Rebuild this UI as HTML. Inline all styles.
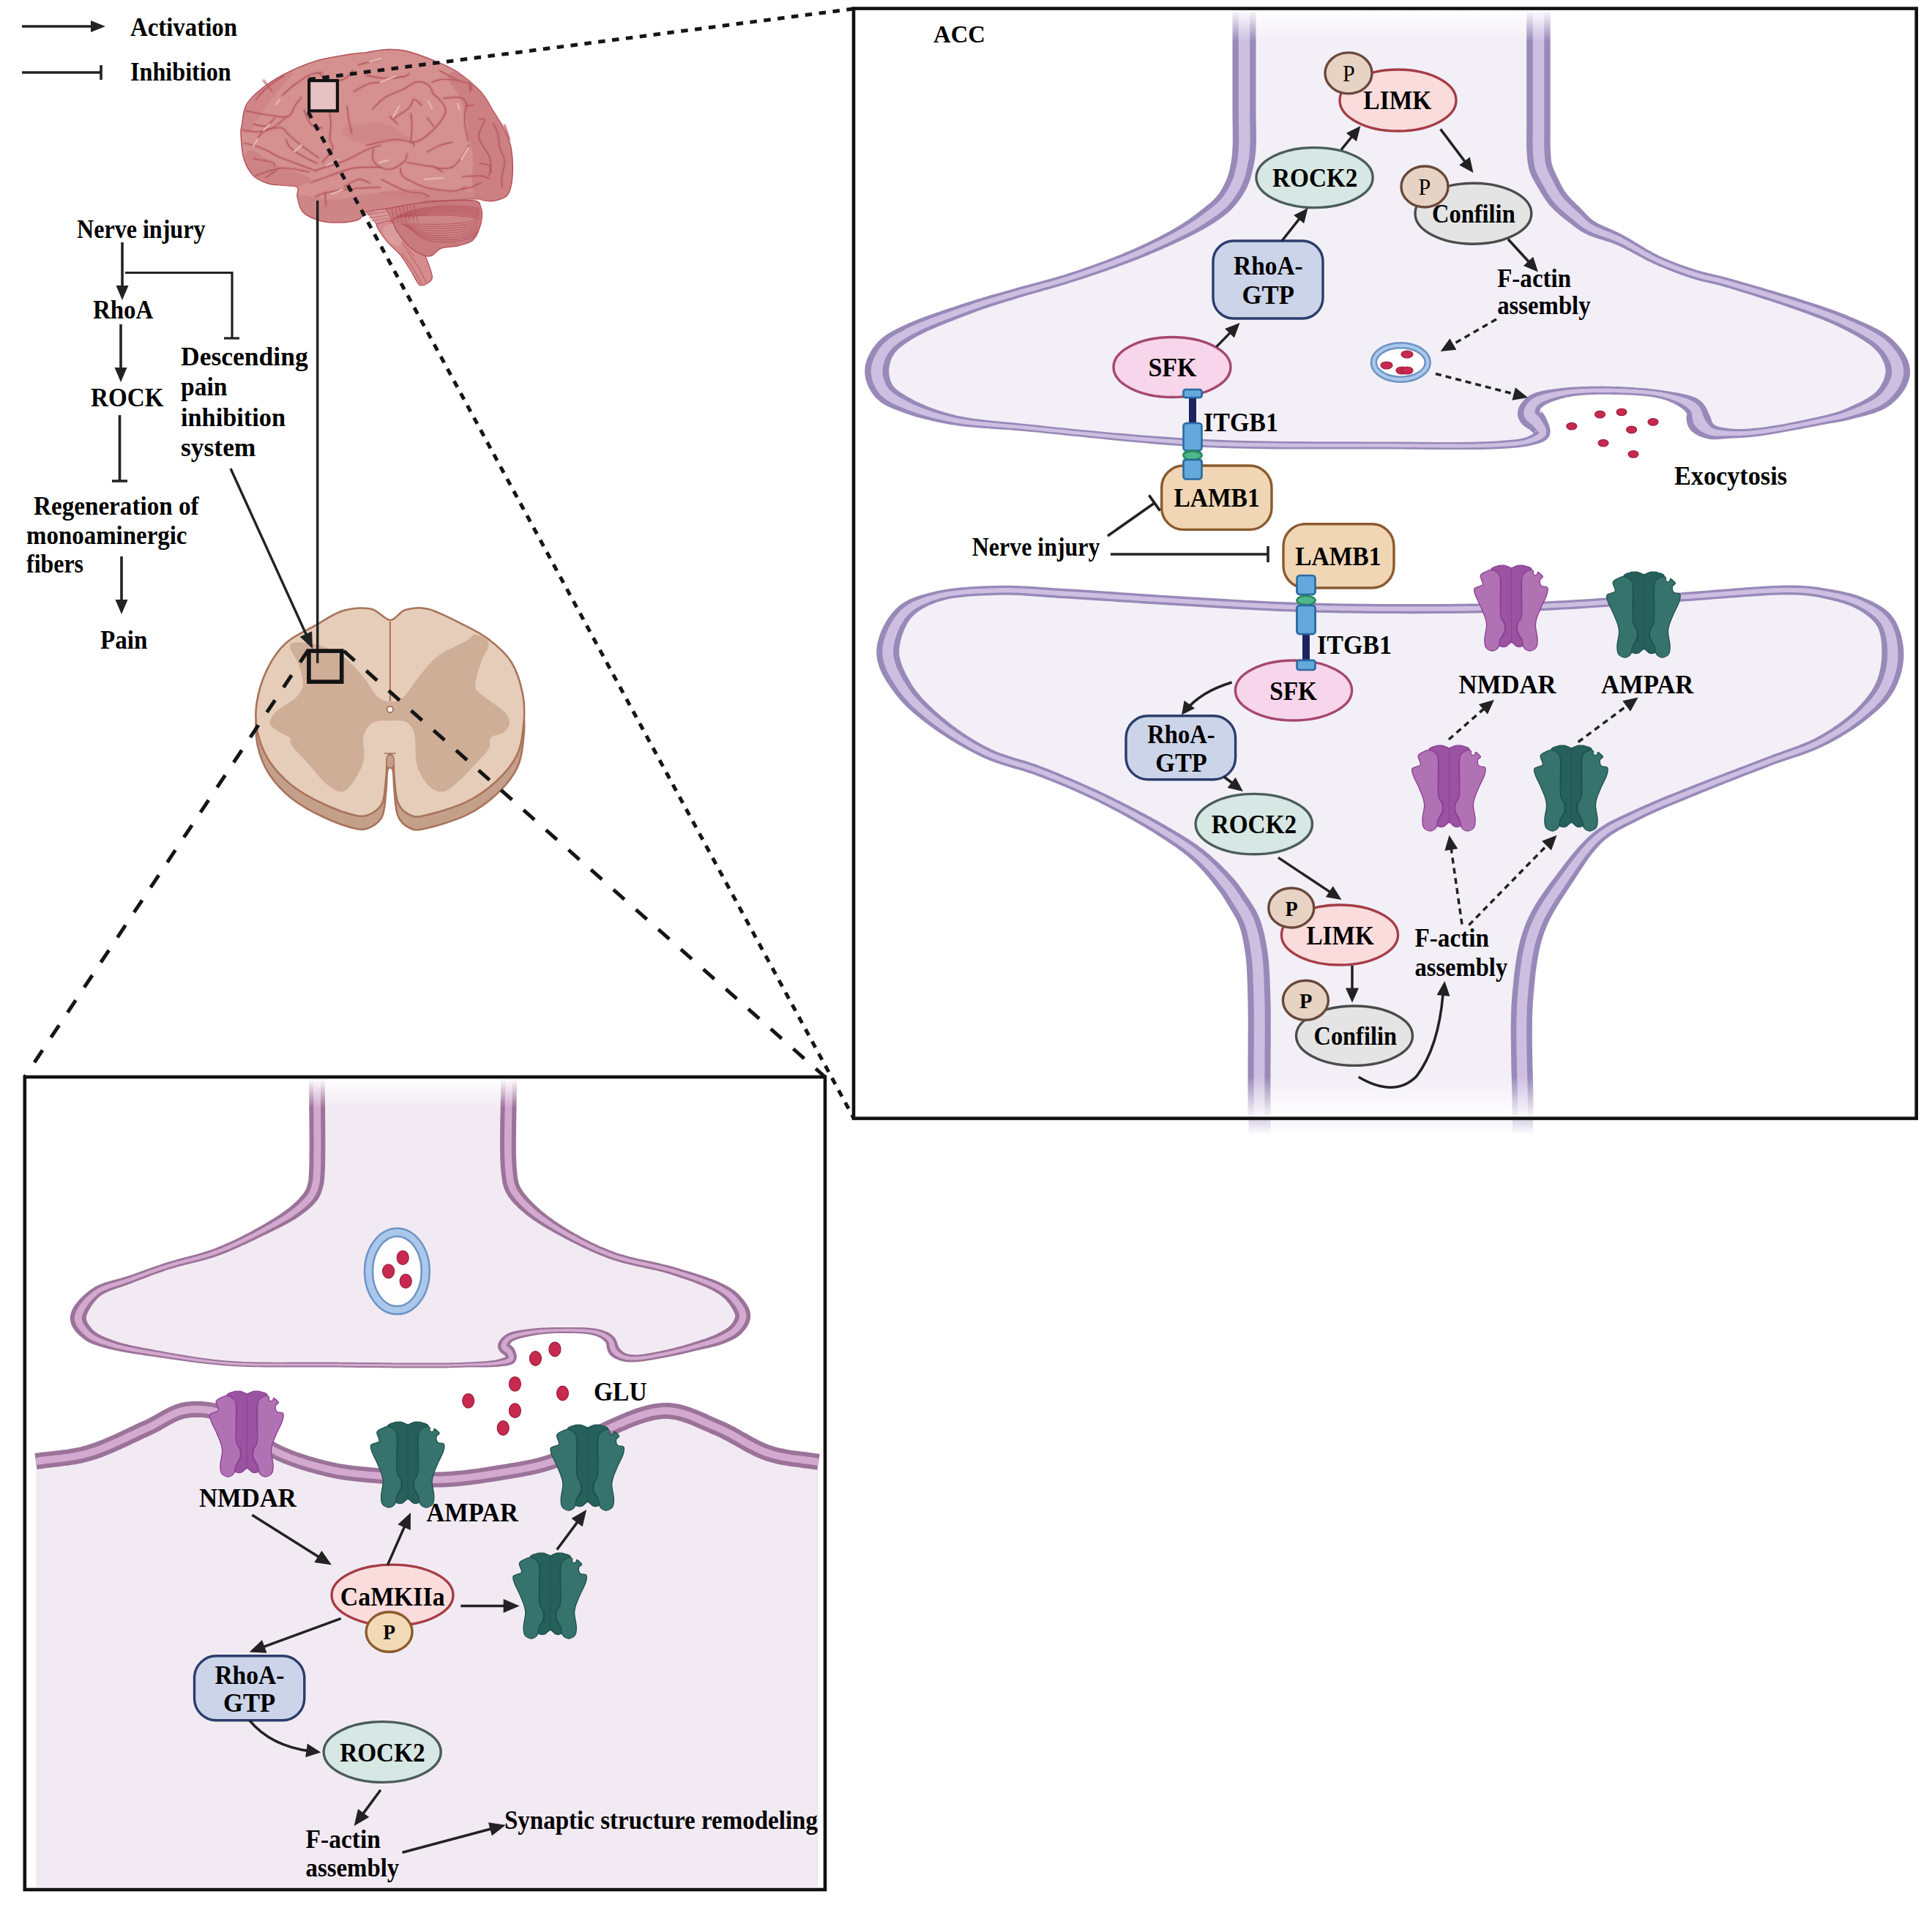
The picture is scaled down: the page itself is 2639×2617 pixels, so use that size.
<!DOCTYPE html>
<html><head><meta charset="utf-8"><style>
html,body{margin:0;padding:0;background:#fff;}
svg{display:block;}
text{font-family:"Liberation Serif",serif;}
</style></head><body>
<svg xmlns="http://www.w3.org/2000/svg" width="2639" height="2617" viewBox="0 0 2639 2617">
<rect width="2639" height="2617" fill="#fff"/>
<g id="rightpanel">
<clipPath id="rpclip"><rect x="1168" y="14" width="1448" height="1512"/></clipPath>
<g clip-path="url(#rpclip)">
<path d="M1699.5,-10.0 L1699.5,-1.9 L1699.5,6.4 L1699.5,14.8 L1699.5,23.4 L1699.5,32.0 L1699.5,40.7 L1699.5,49.4 L1699.5,58.1 L1699.5,66.8 L1699.5,75.4 L1699.5,83.9 L1699.5,92.2 L1699.5,100.4 L1699.5,108.3 L1699.5,116.1 L1699.5,123.5 L1699.5,130.7 L1699.5,137.5 L1699.5,143.9 L1699.5,150.0 L1699.5,153.3 L1699.5,156.6 L1699.6,159.7 L1699.6,162.8 L1699.6,165.8 L1699.7,168.7 L1699.7,171.5 L1699.8,174.3 L1699.8,177.0 L1699.8,179.6 L1699.9,182.2 L1699.9,184.7 L1699.9,187.2 L1699.9,189.6 L1699.9,191.9 L1699.9,194.2 L1699.8,196.5 L1699.7,198.7 L1699.6,200.9 L1699.5,203.0 L1699.4,204.4 L1699.3,205.8 L1699.2,207.1 L1699.1,208.4 L1699.0,209.6 L1698.9,210.8 L1698.8,212.0 L1698.6,213.2 L1698.5,214.3 L1698.3,215.5 L1698.2,216.6 L1698.0,217.7 L1697.9,218.8 L1697.7,219.9 L1697.5,221.0 L1697.3,222.1 L1697.1,223.3 L1696.9,224.4 L1696.6,225.5 L1696.4,226.7 L1696.1,227.9 L1695.9,229.1 L1695.6,230.3 L1695.4,231.5 L1695.1,232.7 L1694.8,233.9 L1694.5,235.1 L1694.2,236.3 L1693.9,237.5 L1693.6,238.7 L1693.2,239.9 L1692.9,241.0 L1692.5,242.2 L1692.1,243.4 L1691.7,244.6 L1691.3,245.8 L1690.8,247.0 L1690.3,248.1 L1689.8,249.3 L1689.3,250.5 L1688.7,251.8 L1688.1,253.1 L1687.4,254.4 L1686.7,255.7 L1686.0,257.0 L1685.3,258.4 L1684.6,259.7 L1683.8,261.0 L1683.0,262.3 L1682.2,263.6 L1681.4,264.9 L1680.6,266.2 L1679.7,267.5 L1678.8,268.7 L1677.9,270.0 L1676.9,271.2 L1676.0,272.4 L1675.0,273.6 L1674.0,274.8 L1673.0,276.0 L1671.9,277.2 L1670.7,278.4 L1669.5,279.6 L1668.3,280.8 L1667.1,281.9 L1665.8,283.1 L1664.5,284.2 L1663.2,285.3 L1661.8,286.4 L1660.4,287.5 L1659.1,288.6 L1657.7,289.6 L1656.2,290.7 L1654.8,291.7 L1653.4,292.8 L1651.9,293.8 L1650.4,294.9 L1649.0,295.9 L1647.5,297.0 L1646.0,298.0 L1644.4,299.1 L1642.8,300.2 L1641.1,301.3 L1639.5,302.4 L1637.9,303.5 L1636.2,304.6 L1634.5,305.6 L1632.8,306.7 L1631.1,307.7 L1629.4,308.8 L1627.6,309.8 L1625.9,310.8 L1624.1,311.9 L1622.2,312.9 L1620.4,314.0 L1618.5,315.0 L1616.6,316.1 L1614.6,317.1 L1612.6,318.2 L1610.6,319.3 L1607.9,320.7 L1605.2,322.1 L1602.4,323.6 L1599.5,325.0 L1596.6,326.5 L1593.6,327.9 L1590.6,329.4 L1587.6,330.9 L1584.4,332.4 L1581.3,333.8 L1578.1,335.3 L1574.9,336.8 L1571.7,338.3 L1568.4,339.7 L1565.1,341.2 L1561.8,342.6 L1558.5,344.1 L1555.1,345.5 L1551.8,346.9 L1548.4,348.3 L1544.6,349.9 L1540.7,351.4 L1536.7,353.0 L1532.7,354.6 L1528.6,356.2 L1524.6,357.7 L1520.4,359.3 L1516.3,360.8 L1512.1,362.3 L1507.9,363.9 L1503.7,365.4 L1499.4,366.9 L1495.2,368.4 L1490.9,369.8 L1486.7,371.3 L1482.4,372.7 L1478.2,374.1 L1474.0,375.6 L1469.8,376.9 L1465.6,378.3 L1461.5,379.6 L1457.3,380.9 L1453.1,382.2 L1448.8,383.5 L1444.6,384.7 L1440.3,386.0 L1436.1,387.2 L1431.8,388.4 L1427.5,389.6 L1423.3,390.8 L1419.0,392.0 L1414.8,393.1 L1410.7,394.3 L1406.5,395.4 L1402.4,396.6 L1398.4,397.7 L1394.4,398.8 L1390.5,399.9 L1386.6,401.1 L1382.8,402.2 L1379.7,403.1 L1376.7,404.0 L1373.8,404.9 L1370.9,405.7 L1368.0,406.6 L1365.2,407.4 L1362.5,408.2 L1359.7,409.0 L1357.0,409.9 L1354.3,410.7 L1351.6,411.5 L1348.9,412.4 L1346.1,413.2 L1343.3,414.1 L1340.6,415.0 L1337.7,415.9 L1334.8,416.9 L1331.9,417.9 L1328.9,418.9 L1325.8,420.0 L1321.8,421.4 L1317.7,422.9 L1313.4,424.4 L1308.9,426.0 L1304.4,427.6 L1299.8,429.2 L1295.1,430.9 L1290.4,432.6 L1285.7,434.4 L1280.9,436.2 L1276.3,438.0 L1271.7,439.8 L1267.1,441.6 L1262.7,443.4 L1258.4,445.2 L1254.3,447.1 L1250.3,448.9 L1246.6,450.7 L1243.1,452.4 L1239.8,454.2 L1237.8,455.3 L1235.9,456.4 L1234.0,457.5 L1232.1,458.6 L1230.3,459.6 L1228.5,460.7 L1226.8,461.7 L1225.2,462.8 L1223.6,463.8 L1222.0,464.9 L1220.5,466.0 L1219.0,467.1 L1217.6,468.2 L1216.2,469.4 L1214.9,470.6 L1213.6,471.8 L1212.4,473.0 L1211.2,474.3 L1210.1,475.6 L1209.0,477.0 L1208.1,478.3 L1207.1,479.6 L1206.2,481.0 L1205.4,482.4 L1204.5,483.8 L1203.8,485.3 L1203.0,486.8 L1202.3,488.3 L1201.6,489.8 L1201.0,491.3 L1200.4,492.9 L1199.9,494.4 L1199.4,496.0 L1199.0,497.5 L1198.6,499.1 L1198.3,500.6 L1198.1,502.1 L1197.9,503.6 L1197.8,505.1 L1197.7,506.6 L1197.7,508.0 L1197.8,509.4 L1197.9,510.8 L1198.1,512.3 L1198.3,513.7 L1198.6,515.2 L1198.9,516.6 L1199.3,518.0 L1199.7,519.5 L1200.2,520.9 L1200.8,522.3 L1201.3,523.7 L1201.9,525.1 L1202.6,526.4 L1203.3,527.8 L1204.0,529.1 L1204.8,530.3 L1205.6,531.6 L1206.4,532.8 L1207.3,533.9 L1208.3,535.1 L1209.4,536.3 L1210.5,537.4 L1211.7,538.5 L1213.0,539.6 L1214.3,540.6 L1215.7,541.6 L1217.1,542.6 L1218.5,543.5 L1220.0,544.4 L1221.6,545.3 L1223.2,546.2 L1224.8,547.1 L1226.5,547.9 L1228.1,548.8 L1229.9,549.6 L1231.6,550.4 L1233.4,551.3 L1235.2,552.1 L1237.0,553.0 L1239.5,554.2 L1242.2,555.3 L1244.9,556.5 L1247.6,557.6 L1250.5,558.7 L1253.4,559.8 L1256.4,560.9 L1259.4,562.0 L1262.5,563.0 L1265.7,564.1 L1268.9,565.1 L1272.2,566.1 L1275.5,567.0 L1278.8,568.0 L1282.2,568.9 L1285.6,569.7 L1289.1,570.6 L1292.6,571.4 L1296.1,572.2 L1299.6,573.0 L1304.0,573.9 L1308.4,574.7 L1312.9,575.5 L1317.4,576.1 L1321.9,576.8 L1326.5,577.4 L1331.2,577.9 L1335.9,578.4 L1340.7,578.9 L1345.5,579.3 L1350.5,579.8 L1355.5,580.2 L1360.7,580.6 L1365.9,581.0 L1371.3,581.5 L1376.7,581.9 L1382.4,582.4 L1388.1,582.9 L1394.0,583.4 L1400.0,584.0 L1409.7,585.0 L1419.8,586.0 L1430.4,587.1 L1441.3,588.2 L1452.6,589.4 L1464.3,590.5 L1476.2,591.8 L1488.4,593.0 L1500.7,594.2 L1513.3,595.4 L1526.0,596.6 L1538.7,597.8 L1551.6,598.9 L1564.4,600.0 L1577.3,601.0 L1590.1,602.0 L1602.8,602.9 L1615.4,603.8 L1627.8,604.5 L1640.0,605.2 L1652.4,605.8 L1664.9,606.3 L1677.5,606.7 L1690.2,607.1 L1702.9,607.4 L1715.7,607.7 L1728.6,607.9 L1741.4,608.0 L1754.2,608.2 L1767.0,608.3 L1779.7,608.3 L1792.4,608.3 L1804.9,608.4 L1817.3,608.4 L1829.6,608.4 L1841.7,608.4 L1853.6,608.4 L1865.3,608.4 L1876.8,608.4 L1888.0,608.4 L1897.0,608.4 L1906.1,608.5 L1915.2,608.6 L1924.3,608.6 L1933.5,608.7 L1942.6,608.8 L1951.6,608.9 L1960.5,608.9 L1969.3,609.0 L1978.0,609.0 L1986.4,609.0 L1994.7,609.0 L2002.7,608.9 L2010.5,608.9 L2018.0,608.7 L2025.1,608.6 L2031.9,608.4 L2038.4,608.2 L2044.4,607.9 L2050.0,607.5 L2052.6,607.3 L2055.2,607.1 L2057.7,607.0 L2060.0,606.8 L2062.3,606.6 L2064.6,606.4 L2066.7,606.2 L2068.8,606.0 L2070.9,605.8 L2072.9,605.6 L2074.8,605.4 L2076.6,605.1 L2078.4,604.8 L2080.2,604.5 L2081.9,604.2 L2083.6,603.8 L2085.3,603.4 L2086.9,603.0 L2088.4,602.5 L2090.0,602.0 L2091.1,601.6 L2092.2,601.2 L2093.3,600.8 L2094.4,600.4 L2095.5,600.0 L2096.6,599.6 L2097.7,599.1 L2098.7,598.7 L2099.7,598.2 L2100.7,597.7 L2101.6,597.2 L2102.5,596.7 L2103.4,596.1 L2104.1,595.6 L2104.8,595.0 L2105.4,594.5 L2106.0,593.9 L2106.4,593.3 L2106.8,592.6 L2107.0,592.0 L2107.1,591.4 L2107.2,590.8 L2107.1,590.1 L2107.0,589.5 L2106.8,588.8 L2106.5,588.1 L2106.2,587.4 L2105.9,586.7 L2105.5,585.9 L2105.0,585.2 L2104.5,584.5 L2104.1,583.7 L2103.5,583.0 L2103.0,582.2 L2102.5,581.5 L2102.0,580.8 L2101.4,580.1 L2100.9,579.4 L2100.5,578.7 L2100.0,578.0 L2099.5,577.3 L2099.0,576.6 L2098.4,576.0 L2097.8,575.3 L2097.1,574.7 L2096.4,574.0 L2095.7,573.4 L2095.0,572.8 L2094.3,572.2 L2093.6,571.5 L2092.9,570.9 L2092.3,570.3 L2091.7,569.6 L2091.1,569.0 L2090.6,568.4 L2090.1,567.7 L2089.7,567.1 L2089.4,566.4 L2089.1,565.7 L2089.0,565.0 L2088.9,564.3 L2088.9,563.6 L2089.0,562.8 L2089.0,562.1 L2089.2,561.3 L2089.4,560.5 L2089.6,559.7 L2089.9,558.9 L2090.2,558.1 L2090.5,557.3 L2090.9,556.5 L2091.4,555.7 L2091.8,555.0 L2092.3,554.2 L2092.9,553.4 L2093.4,552.7 L2094.0,552.0 L2094.7,551.3 L2095.3,550.6 L2096.0,550.0 L2097.1,549.1 L2098.4,548.1 L2099.8,547.3 L2101.3,546.5 L2102.9,545.7 L2104.5,544.9 L2106.3,544.2 L2108.2,543.5 L2110.1,542.8 L2112.1,542.2 L2114.1,541.5 L2116.2,541.0 L2118.4,540.4 L2120.5,539.9 L2122.7,539.3 L2125.0,538.8 L2127.2,538.4 L2129.5,537.9 L2131.7,537.4 L2134.0,537.0 L2137.1,536.4 L2140.4,535.9 L2143.7,535.5 L2147.2,535.1 L2150.7,534.7 L2154.4,534.4 L2158.1,534.1 L2161.8,533.9 L2165.6,533.7 L2169.5,533.5 L2173.4,533.4 L2177.3,533.3 L2181.2,533.2 L2185.1,533.2 L2189.0,533.2 L2192.9,533.2 L2196.7,533.3 L2200.6,533.3 L2204.3,533.4 L2208.0,533.5 L2211.6,533.6 L2215.3,533.7 L2219.0,533.9 L2222.7,534.0 L2226.5,534.2 L2230.3,534.4 L2234.0,534.7 L2237.8,534.9 L2241.6,535.2 L2245.3,535.5 L2249.0,535.9 L2252.6,536.3 L2256.2,536.7 L2259.7,537.2 L2263.2,537.7 L2266.5,538.3 L2269.8,538.9 L2273.0,539.5 L2276.1,540.2 L2279.0,541.0 L2281.1,541.6 L2283.2,542.2 L2285.3,542.8 L2287.4,543.4 L2289.4,544.1 L2291.4,544.8 L2293.4,545.5 L2295.4,546.2 L2297.3,546.9 L2299.1,547.7 L2301.0,548.5 L2302.7,549.3 L2304.4,550.1 L2306.0,551.0 L2307.5,551.9 L2309.0,552.9 L2310.4,553.8 L2311.7,554.9 L2312.9,555.9 L2314.0,557.0 L2314.7,557.9 L2315.4,558.8 L2316.0,559.7 L2316.5,560.7 L2316.9,561.7 L2317.3,562.7 L2317.7,563.8 L2318.0,564.9 L2318.2,565.9 L2318.5,567.0 L2318.8,568.1 L2319.0,569.2 L2319.3,570.3 L2319.5,571.3 L2319.8,572.4 L2320.2,573.4 L2320.5,574.3 L2321.0,575.3 L2321.5,576.2 L2322.0,577.0 L2322.5,577.8 L2323.1,578.5 L2323.7,579.2 L2324.3,579.9 L2324.9,580.6 L2325.5,581.3 L2326.2,582.0 L2326.8,582.7 L2327.5,583.3 L2328.2,583.9 L2328.9,584.5 L2329.6,585.1 L2330.4,585.7 L2331.1,586.2 L2331.9,586.8 L2332.7,587.3 L2333.5,587.7 L2334.3,588.2 L2335.1,588.6 L2336.0,589.0 L2337.0,589.4 L2338.0,589.8 L2339.1,590.1 L2340.2,590.4 L2341.3,590.6 L2342.4,590.9 L2343.5,591.0 L2344.7,591.2 L2345.9,591.3 L2347.1,591.5 L2348.3,591.5 L2349.5,591.6 L2350.8,591.7 L2352.1,591.7 L2353.4,591.8 L2354.7,591.8 L2356.0,591.9 L2357.3,591.9 L2358.6,591.9 L2360.0,592.0 L2361.7,592.1 L2363.5,592.1 L2365.3,592.2 L2367.1,592.2 L2368.9,592.2 L2370.7,592.2 L2372.6,592.2 L2374.5,592.1 L2376.4,592.1 L2378.4,592.0 L2380.4,591.9 L2382.4,591.8 L2384.4,591.7 L2386.5,591.5 L2388.7,591.4 L2390.8,591.2 L2393.0,591.0 L2395.3,590.8 L2397.6,590.6 L2400.0,590.3 L2403.8,589.8 L2407.8,589.3 L2412.1,588.7 L2416.6,588.0 L2421.2,587.3 L2426.0,586.5 L2430.9,585.6 L2435.9,584.7 L2440.9,583.8 L2446.0,582.9 L2451.0,581.9 L2456.0,581.0 L2461.0,580.0 L2465.8,579.0 L2470.5,578.1 L2475.1,577.2 L2479.4,576.3 L2483.5,575.4 L2487.4,574.6 L2491.0,573.8 L2493.1,573.4 L2495.1,572.9 L2497.0,572.5 L2498.8,572.2 L2500.6,571.8 L2502.3,571.4 L2503.9,571.1 L2505.6,570.7 L2507.2,570.4 L2508.7,570.0 L2510.3,569.7 L2511.9,569.3 L2513.4,568.9 L2515.0,568.5 L2516.6,568.0 L2518.2,567.5 L2519.8,567.0 L2521.5,566.5 L2523.2,565.9 L2525.0,565.3 L2527.3,564.5 L2529.7,563.7 L2532.2,562.8 L2534.8,561.9 L2537.4,561.0 L2540.1,560.1 L2542.8,559.1 L2545.5,558.1 L2548.2,557.0 L2550.9,555.9 L2553.6,554.8 L2556.2,553.6 L2558.7,552.4 L2561.2,551.2 L2563.7,549.9 L2566.0,548.5 L2568.2,547.1 L2570.3,545.6 L2572.2,544.1 L2574.0,542.5 L2575.4,541.1 L2576.8,539.6 L2578.2,538.1 L2579.6,536.5 L2580.9,534.9 L2582.1,533.3 L2583.4,531.6 L2584.5,529.8 L2585.6,528.1 L2586.6,526.3 L2587.6,524.5 L2588.5,522.7 L2589.3,520.8 L2590.0,519.0 L2590.7,517.2 L2591.2,515.4 L2591.6,513.6 L2592.0,511.8 L2592.2,510.0 L2592.3,508.3 L2592.3,506.6 L2592.2,504.9 L2592.0,503.1 L2591.7,501.4 L2591.2,499.6 L2590.8,497.9 L2590.2,496.1 L2589.5,494.3 L2588.8,492.6 L2587.9,490.8 L2587.0,489.1 L2586.1,487.3 L2585.1,485.6 L2584.0,483.9 L2582.9,482.2 L2581.7,480.6 L2580.4,478.9 L2579.2,477.3 L2577.8,475.7 L2576.5,474.2 L2574.6,472.2 L2572.7,470.3 L2570.6,468.4 L2568.4,466.6 L2566.0,464.8 L2563.6,463.0 L2561.1,461.3 L2558.5,459.6 L2555.8,457.9 L2553.0,456.3 L2550.1,454.7 L2547.1,453.0 L2544.0,451.4 L2540.8,449.8 L2537.6,448.2 L2534.3,446.6 L2530.9,445.0 L2527.4,443.3 L2523.8,441.7 L2520.2,440.0 L2514.0,437.2 L2507.2,434.4 L2499.9,431.5 L2492.1,428.5 L2483.9,425.5 L2475.4,422.5 L2466.6,419.4 L2457.6,416.4 L2448.5,413.4 L2439.4,410.4 L2430.2,407.5 L2421.2,404.7 L2412.3,401.9 L2403.6,399.3 L2395.2,396.7 L2387.1,394.3 L2379.5,392.1 L2372.4,390.0 L2365.9,388.0 L2360.0,386.3 L2357.2,385.5 L2354.5,384.7 L2351.9,384.0 L2349.4,383.4 L2347.0,382.8 L2344.7,382.2 L2342.5,381.7 L2340.3,381.2 L2338.2,380.7 L2336.1,380.3 L2334.1,379.8 L2332.1,379.4 L2330.1,378.9 L2328.0,378.4 L2326.0,377.9 L2324.0,377.4 L2321.9,376.8 L2319.7,376.2 L2317.6,375.6 L2315.3,374.9 L2312.8,374.1 L2310.2,373.3 L2307.7,372.4 L2305.1,371.6 L2302.5,370.7 L2299.9,369.8 L2297.3,368.9 L2294.7,367.9 L2292.1,367.0 L2289.5,366.0 L2286.9,365.0 L2284.2,364.0 L2281.6,362.9 L2279.0,361.9 L2276.4,360.8 L2273.8,359.7 L2271.2,358.6 L2268.6,357.5 L2266.1,356.4 L2263.5,355.2 L2260.9,354.0 L2258.2,352.7 L2255.6,351.4 L2253.0,350.0 L2250.3,348.6 L2247.7,347.1 L2245.1,345.7 L2242.5,344.2 L2239.9,342.7 L2237.2,341.2 L2234.6,339.7 L2232.1,338.2 L2229.5,336.7 L2226.9,335.3 L2224.4,333.9 L2221.8,332.5 L2219.3,331.1 L2216.8,329.8 L2214.3,328.5 L2211.8,327.3 L2209.6,326.3 L2207.5,325.3 L2205.3,324.4 L2203.0,323.5 L2200.8,322.6 L2198.6,321.8 L2196.4,320.9 L2194.2,320.1 L2192.0,319.3 L2189.9,318.5 L2187.7,317.7 L2185.6,316.9 L2183.6,316.1 L2181.6,315.3 L2179.6,314.5 L2177.7,313.6 L2175.8,312.8 L2174.0,311.9 L2172.3,311.0 L2170.6,310.0 L2169.4,309.3 L2168.3,308.5 L2167.2,307.8 L2166.1,307.1 L2165.1,306.3 L2164.1,305.6 L2163.2,304.8 L2162.2,304.1 L2161.3,303.3 L2160.4,302.5 L2159.5,301.7 L2158.6,300.9 L2157.7,300.1 L2156.9,299.3 L2156.0,298.5 L2155.1,297.7 L2154.2,296.9 L2153.2,296.0 L2152.3,295.2 L2151.3,294.3 L2150.2,293.3 L2149.0,292.3 L2147.8,291.3 L2146.6,290.2 L2145.4,289.2 L2144.2,288.1 L2143.0,287.0 L2141.7,285.9 L2140.5,284.8 L2139.3,283.7 L2138.1,282.6 L2136.9,281.5 L2135.7,280.4 L2134.5,279.2 L2133.4,278.1 L2132.3,276.9 L2131.2,275.8 L2130.2,274.6 L2129.2,273.5 L2128.2,272.3 L2127.4,271.3 L2126.6,270.2 L2125.8,269.1 L2125.0,268.1 L2124.3,267.0 L2123.6,265.9 L2122.8,264.8 L2122.2,263.7 L2121.5,262.6 L2120.8,261.5 L2120.2,260.4 L2119.6,259.3 L2118.9,258.2 L2118.3,257.1 L2117.7,256.0 L2117.1,254.9 L2116.5,253.7 L2115.9,252.6 L2115.3,251.5 L2114.7,250.4 L2114.1,249.3 L2113.5,248.2 L2112.9,247.2 L2112.4,246.1 L2111.8,245.0 L2111.2,243.9 L2110.6,242.8 L2110.1,241.7 L2109.5,240.7 L2109.0,239.6 L2108.4,238.5 L2107.9,237.4 L2107.4,236.3 L2106.9,235.2 L2106.5,234.1 L2106.0,233.0 L2105.6,231.9 L2105.2,230.7 L2104.8,229.6 L2104.5,228.5 L2104.2,227.4 L2103.9,226.4 L2103.7,225.3 L2103.5,224.3 L2103.3,223.2 L2103.1,222.2 L2102.9,221.1 L2102.8,220.0 L2102.6,219.0 L2102.5,217.9 L2102.4,216.8 L2102.3,215.8 L2102.2,214.7 L2102.2,213.5 L2102.1,212.4 L2102.0,211.3 L2101.9,210.1 L2101.9,208.9 L2101.8,207.7 L2101.7,206.5 L2101.6,204.9 L2101.5,203.4 L2101.5,201.8 L2101.4,200.2 L2101.4,198.7 L2101.4,197.1 L2101.3,195.5 L2101.3,193.9 L2101.3,192.2 L2101.4,190.6 L2101.4,188.8 L2101.4,187.0 L2101.4,185.2 L2101.4,183.3 L2101.5,181.3 L2101.5,179.2 L2101.5,177.1 L2101.5,174.8 L2101.5,172.5 L2101.5,170.0 L2101.5,164.1 L2101.5,157.5 L2101.5,150.4 L2101.5,142.7 L2101.5,134.6 L2101.5,126.0 L2101.5,117.1 L2101.5,107.8 L2101.5,98.3 L2101.5,88.5 L2101.5,78.6 L2101.5,68.5 L2101.5,58.4 L2101.5,48.3 L2101.5,38.2 L2101.5,28.2 L2101.5,18.3 L2101.5,8.6 L2101.5,-0.8 L2101.5,-10.0Z" fill="#f2eff7"/>
<path d="M1683.5,-10.0 L1683.5,-1.9 L1683.5,6.4 L1683.5,14.8 L1683.5,23.4 L1683.5,32.0 L1683.5,40.7 L1683.5,49.4 L1683.5,58.1 L1683.5,66.8 L1683.5,75.4 L1683.5,83.9 L1683.5,92.2 L1683.5,100.4 L1683.5,108.3 L1683.5,116.1 L1683.5,123.5 L1683.5,130.7 L1683.5,137.5 L1683.5,143.9 L1683.5,150.0 L1683.5,153.4 L1683.5,156.7 L1683.5,159.9 L1683.6,163.0 L1683.6,166.0 L1683.6,168.9 L1683.7,171.8 L1683.7,174.5 L1683.8,177.2 L1683.8,179.8 L1683.8,182.3 L1683.8,184.8 L1683.8,187.2 L1683.8,189.5 L1683.8,191.7 L1683.8,193.9 L1683.8,196.0 L1683.7,198.0 L1683.6,200.0 L1683.5,202.0 L1683.5,203.3 L1683.4,204.6 L1683.3,205.8 L1683.2,207.0 L1683.2,208.1 L1683.1,209.3 L1683.0,210.3 L1682.9,211.4 L1682.8,212.4 L1682.7,213.4 L1682.6,214.4 L1682.5,215.4 L1682.4,216.4 L1682.2,217.4 L1682.1,218.4 L1682.0,219.3 L1681.8,220.3 L1681.6,221.4 L1681.4,222.4 L1681.2,223.5 L1681.0,224.6 L1680.8,225.8 L1680.6,226.9 L1680.3,228.1 L1680.1,229.2 L1679.8,230.3 L1679.6,231.4 L1679.3,232.4 L1679.1,233.5 L1678.8,234.5 L1678.6,235.6 L1678.3,236.6 L1678.0,237.6 L1677.7,238.6 L1677.4,239.5 L1677.1,240.5 L1676.7,241.4 L1676.4,242.4 L1676.0,243.3 L1675.7,244.3 L1675.2,245.4 L1674.7,246.6 L1674.2,247.7 L1673.6,248.9 L1673.1,250.1 L1672.5,251.3 L1672.0,252.5 L1671.4,253.6 L1670.8,254.8 L1670.1,256.0 L1669.5,257.2 L1668.8,258.3 L1668.1,259.5 L1667.4,260.6 L1666.7,261.7 L1666.0,262.8 L1665.3,263.9 L1664.5,265.0 L1663.7,266.0 L1662.9,267.0 L1662.1,268.1 L1661.2,269.1 L1660.2,270.1 L1659.3,271.2 L1658.2,272.2 L1657.2,273.3 L1656.1,274.3 L1654.9,275.3 L1653.8,276.4 L1652.6,277.4 L1651.3,278.5 L1650.0,279.5 L1648.8,280.6 L1647.4,281.6 L1646.1,282.7 L1644.7,283.8 L1643.3,284.9 L1641.9,286.0 L1640.5,287.1 L1639.1,288.2 L1637.6,289.3 L1636.1,290.5 L1634.7,291.6 L1633.2,292.8 L1631.6,293.9 L1630.1,295.0 L1628.6,296.2 L1627.0,297.3 L1625.5,298.4 L1623.9,299.5 L1622.2,300.7 L1620.6,301.8 L1618.9,302.9 L1617.2,304.0 L1615.5,305.2 L1613.7,306.3 L1611.9,307.4 L1610.0,308.6 L1608.1,309.8 L1606.1,310.9 L1603.6,312.4 L1600.9,313.9 L1598.2,315.5 L1595.5,317.0 L1592.7,318.5 L1589.8,320.1 L1586.8,321.6 L1583.9,323.2 L1580.8,324.7 L1577.8,326.3 L1574.7,327.8 L1571.5,329.4 L1568.4,330.9 L1565.2,332.4 L1561.9,333.9 L1558.7,335.5 L1555.4,337.0 L1552.1,338.4 L1548.8,339.9 L1545.5,341.4 L1541.8,343.0 L1537.9,344.6 L1534.0,346.3 L1530.1,347.9 L1526.1,349.5 L1522.1,351.1 L1518.0,352.7 L1513.9,354.3 L1509.7,355.9 L1505.6,357.4 L1501.4,359.0 L1497.2,360.5 L1493.0,362.0 L1488.8,363.5 L1484.5,365.0 L1480.3,366.5 L1476.1,367.9 L1471.9,369.4 L1467.7,370.7 L1463.6,372.1 L1459.5,373.4 L1455.4,374.7 L1451.2,376.0 L1447.0,377.3 L1442.8,378.5 L1438.5,379.7 L1434.3,380.9 L1430.0,382.1 L1425.8,383.3 L1421.5,384.4 L1417.3,385.6 L1413.1,386.7 L1408.9,387.8 L1404.7,388.9 L1400.6,390.0 L1396.5,391.1 L1392.5,392.2 L1388.5,393.3 L1384.6,394.4 L1380.8,395.5 L1377.7,396.4 L1374.7,397.2 L1371.7,398.1 L1368.9,398.9 L1366.0,399.7 L1363.2,400.5 L1360.4,401.3 L1357.6,402.0 L1354.9,402.8 L1352.1,403.6 L1349.4,404.4 L1346.6,405.2 L1343.8,406.0 L1341.0,406.9 L1338.2,407.7 L1335.3,408.6 L1332.4,409.5 L1329.3,410.5 L1326.3,411.4 L1323.1,412.5 L1319.1,413.8 L1314.9,415.1 L1310.6,416.5 L1306.1,418.0 L1301.5,419.5 L1296.8,421.1 L1292.1,422.6 L1287.3,424.2 L1282.5,425.9 L1277.7,427.5 L1272.9,429.2 L1268.1,430.9 L1263.5,432.6 L1258.9,434.3 L1254.4,436.0 L1250.1,437.7 L1245.9,439.4 L1241.9,441.1 L1238.1,442.9 L1234.5,444.5 L1232.4,445.6 L1230.3,446.6 L1228.3,447.6 L1226.3,448.6 L1224.3,449.6 L1222.4,450.6 L1220.5,451.6 L1218.6,452.6 L1216.7,453.6 L1214.8,454.7 L1213.0,455.8 L1211.2,457.0 L1209.4,458.2 L1207.7,459.5 L1205.9,460.8 L1204.2,462.2 L1202.6,463.7 L1201.0,465.2 L1199.4,466.8 L1197.9,468.5 L1196.5,470.1 L1195.3,471.7 L1194.0,473.3 L1192.8,474.9 L1191.7,476.6 L1190.5,478.4 L1189.5,480.1 L1188.4,481.9 L1187.4,483.8 L1186.5,485.7 L1185.6,487.6 L1184.8,489.5 L1184.1,491.5 L1183.4,493.5 L1182.8,495.6 L1182.3,497.7 L1181.8,499.8 L1181.5,502.0 L1181.3,504.2 L1181.2,506.4 L1181.2,508.5 L1181.3,510.5 L1181.6,512.6 L1181.9,514.6 L1182.2,516.6 L1182.7,518.6 L1183.2,520.5 L1183.9,522.4 L1184.5,524.3 L1185.3,526.2 L1186.1,528.0 L1187.0,529.8 L1187.9,531.6 L1188.9,533.3 L1189.9,535.0 L1191.0,536.7 L1192.2,538.3 L1193.4,539.9 L1194.6,541.4 L1196.0,542.9 L1197.5,544.6 L1199.2,546.1 L1200.9,547.6 L1202.6,549.0 L1204.4,550.2 L1206.2,551.4 L1208.0,552.5 L1209.8,553.5 L1211.6,554.5 L1213.5,555.4 L1215.4,556.3 L1217.2,557.1 L1219.1,557.9 L1221.0,558.7 L1222.9,559.4 L1224.7,560.1 L1226.6,560.8 L1228.5,561.5 L1230.4,562.2 L1232.4,563.0 L1235.1,564.0 L1238.0,565.0 L1240.9,566.0 L1243.9,567.0 L1246.9,568.0 L1250.0,568.9 L1253.2,569.8 L1256.4,570.7 L1259.7,571.6 L1263.0,572.5 L1266.4,573.3 L1269.8,574.1 L1273.2,574.9 L1276.7,575.7 L1280.2,576.4 L1283.7,577.2 L1287.3,577.9 L1290.9,578.6 L1294.5,579.2 L1298.2,579.9 L1302.7,580.6 L1307.3,581.3 L1311.9,581.9 L1316.5,582.4 L1321.1,582.9 L1325.8,583.4 L1330.5,583.8 L1335.3,584.2 L1340.1,584.6 L1345.0,585.0 L1350.0,585.3 L1355.1,585.7 L1360.2,586.0 L1365.5,586.4 L1370.8,586.7 L1376.3,587.1 L1381.9,587.5 L1387.6,588.0 L1393.5,588.5 L1399.5,589.0 L1409.2,589.9 L1419.3,590.8 L1429.9,591.9 L1440.8,593.0 L1452.2,594.2 L1463.8,595.4 L1475.7,596.6 L1487.9,597.9 L1500.3,599.1 L1512.8,600.4 L1525.5,601.7 L1538.3,602.9 L1551.1,604.1 L1564.0,605.3 L1576.9,606.4 L1589.7,607.4 L1602.4,608.4 L1615.0,609.2 L1627.5,610.0 L1639.7,610.7 L1652.1,611.3 L1664.6,611.8 L1677.3,612.2 L1690.0,612.5 L1702.8,612.8 L1715.6,613.1 L1728.5,613.2 L1741.3,613.4 L1754.2,613.4 L1767.0,613.5 L1779.7,613.5 L1792.4,613.5 L1804.9,613.5 L1817.3,613.5 L1829.6,613.4 L1841.7,613.4 L1853.6,613.4 L1865.3,613.4 L1876.8,613.4 L1888.0,613.4 L1897.0,613.4 L1906.0,613.5 L1915.2,613.6 L1924.3,613.7 L1933.4,613.7 L1942.5,613.8 L1951.6,613.9 L1960.5,614.0 L1969.3,614.0 L1978.0,614.1 L1986.4,614.1 L1994.7,614.1 L2002.8,614.1 L2010.6,614.0 L2018.1,614.0 L2025.3,613.9 L2032.1,613.7 L2038.6,613.5 L2044.7,613.3 L2050.4,613.0 L2053.0,612.8 L2055.6,612.7 L2058.1,612.5 L2060.5,612.4 L2062.8,612.2 L2065.1,612.0 L2067.3,611.8 L2069.4,611.7 L2071.5,611.5 L2073.5,611.2 L2075.5,611.0 L2077.5,610.8 L2079.4,610.5 L2081.3,610.3 L2083.1,610.0 L2085.0,609.7 L2086.8,609.3 L2088.6,609.0 L2090.4,608.6 L2092.1,608.2 L2093.3,607.9 L2094.5,607.6 L2095.7,607.3 L2096.9,607.0 L2098.1,606.7 L2099.4,606.4 L2100.6,606.0 L2101.9,605.7 L2103.1,605.3 L2104.4,604.8 L2105.7,604.4 L2106.9,603.9 L2108.2,603.3 L2109.4,602.6 L2110.7,601.8 L2112.0,600.9 L2113.2,599.8 L2114.5,598.5 L2115.6,596.8 L2116.6,594.9 L2117.2,592.7 L2117.5,590.7 L2117.6,588.8 L2117.5,587.0 L2117.2,585.4 L2116.9,583.9 L2116.6,582.5 L2116.2,581.2 L2115.7,580.0 L2115.3,578.8 L2114.8,577.7 L2114.4,576.7 L2113.9,575.7 L2113.5,574.7 L2113.1,573.8 L2112.7,573.0 L2112.4,572.2 L2112.1,571.5 L2111.9,570.8 L2111.5,570.0 L2110.8,568.8 L2109.9,567.4 L2109.0,566.1 L2108.1,565.0 L2107.3,564.0 L2106.5,563.0 L2105.8,562.2 L2105.1,561.4 L2104.6,560.7 L2104.1,560.1 L2103.7,559.5 L2103.4,559.1 L2103.2,558.8 L2103.2,558.7 L2103.3,558.7 L2103.5,558.9 L2103.8,559.5 L2104.2,560.3 L2104.6,561.5 L2104.8,562.6 L2104.8,563.4 L2104.8,563.8 L2104.6,564.1 L2104.5,564.3 L2104.3,564.4 L2104.1,564.3 L2103.9,564.2 L2103.8,564.0 L2103.6,563.8 L2103.5,563.4 L2103.4,563.1 L2103.4,562.6 L2103.3,562.2 L2103.3,561.7 L2103.4,561.3 L2103.5,560.8 L2103.6,560.3 L2103.7,559.8 L2103.8,559.4 L2103.9,559.1 L2104.3,558.3 L2104.8,557.6 L2105.5,556.9 L2106.3,556.0 L2107.4,555.2 L2108.6,554.3 L2110.0,553.5 L2111.5,552.6 L2113.1,551.8 L2114.8,550.9 L2116.6,550.1 L2118.5,549.3 L2120.4,548.6 L2122.5,547.8 L2124.5,547.1 L2126.6,546.4 L2128.8,545.7 L2130.9,545.1 L2133.1,544.5 L2135.3,543.9 L2138.2,543.1 L2141.3,542.5 L2144.5,541.9 L2147.9,541.3 L2151.3,540.8 L2154.8,540.4 L2158.5,540.0 L2162.2,539.7 L2165.9,539.5 L2169.7,539.2 L2173.5,539.1 L2177.4,538.9 L2181.3,538.8 L2185.1,538.8 L2189.0,538.8 L2192.9,538.8 L2196.7,538.8 L2200.4,538.8 L2204.2,538.9 L2207.8,539.0 L2211.4,539.1 L2215.1,539.2 L2218.8,539.3 L2222.5,539.4 L2226.2,539.6 L2230.0,539.8 L2233.7,540.0 L2237.4,540.2 L2241.1,540.5 L2244.8,540.8 L2248.4,541.2 L2252.0,541.6 L2255.5,542.1 L2259.0,542.6 L2262.3,543.2 L2265.6,543.9 L2268.7,544.6 L2271.7,545.4 L2274.6,546.3 L2277.3,547.3 L2279.3,548.1 L2281.3,548.9 L2283.2,549.7 L2285.1,550.6 L2287.0,551.5 L2288.8,552.5 L2290.6,553.5 L2292.3,554.4 L2293.9,555.5 L2295.4,556.5 L2296.8,557.5 L2298.2,558.6 L2299.4,559.6 L2300.6,560.6 L2301.6,561.6 L2302.4,562.6 L2303.2,563.6 L2303.8,564.4 L2304.3,565.2 L2304.6,566.0 L2304.4,566.1 L2304.2,566.2 L2304.0,566.4 L2303.9,566.7 L2303.8,567.0 L2303.7,567.5 L2303.6,568.1 L2303.5,568.8 L2303.5,569.6 L2303.5,570.6 L2303.5,571.7 L2303.6,572.8 L2303.7,574.2 L2303.9,575.6 L2304.2,577.2 L2304.7,578.9 L2305.3,580.7 L2306.1,582.6 L2307.2,584.6 L2308.4,586.4 L2309.4,587.6 L2310.3,588.5 L2311.2,589.4 L2312.2,590.2 L2313.2,591.1 L2314.2,591.8 L2315.3,592.6 L2316.5,593.3 L2317.7,593.9 L2318.8,594.6 L2320.1,595.2 L2321.3,595.7 L2322.5,596.2 L2323.8,596.7 L2325.1,597.2 L2326.4,597.6 L2327.7,598.0 L2329.0,598.4 L2330.3,598.7 L2331.6,599.1 L2333.1,599.4 L2334.7,599.7 L2336.2,599.9 L2337.8,600.1 L2339.2,600.2 L2340.7,600.3 L2342.1,600.3 L2343.6,600.2 L2345.0,600.2 L2346.4,600.1 L2347.7,600.0 L2349.1,599.9 L2350.4,599.8 L2351.8,599.7 L2353.1,599.5 L2354.4,599.4 L2355.8,599.3 L2357.1,599.2 L2358.4,599.1 L2359.7,599.0 L2361.5,598.9 L2363.3,598.8 L2365.2,598.7 L2367.0,598.6 L2368.9,598.5 L2370.8,598.4 L2372.7,598.3 L2374.7,598.2 L2376.6,598.1 L2378.6,598.0 L2380.6,597.9 L2382.7,597.8 L2384.8,597.6 L2386.9,597.4 L2389.1,597.2 L2391.3,597.0 L2393.6,596.8 L2395.9,596.6 L2398.2,596.3 L2400.7,596.0 L2404.5,595.5 L2408.6,594.9 L2412.9,594.3 L2417.4,593.5 L2422.1,592.7 L2426.9,591.9 L2431.9,591.0 L2436.9,590.1 L2441.9,589.2 L2447.0,588.3 L2452.1,587.3 L2457.1,586.4 L2462.0,585.4 L2466.9,584.5 L2471.6,583.6 L2476.2,582.7 L2480.6,581.9 L2484.7,581.1 L2488.6,580.3 L2492.3,579.7 L2494.3,579.3 L2496.3,578.9 L2498.2,578.6 L2500.1,578.3 L2501.9,578.0 L2503.6,577.7 L2505.3,577.4 L2507.0,577.2 L2508.6,576.9 L2510.3,576.6 L2511.9,576.3 L2513.6,576.0 L2515.2,575.7 L2516.9,575.4 L2518.6,575.0 L2520.3,574.7 L2522.1,574.3 L2523.9,573.8 L2525.7,573.4 L2527.6,572.9 L2530.0,572.2 L2532.5,571.6 L2535.0,571.0 L2537.7,570.3 L2540.5,569.7 L2543.3,569.0 L2546.1,568.2 L2549.1,567.5 L2552.0,566.6 L2554.9,565.8 L2557.9,564.9 L2560.9,563.9 L2563.8,562.8 L2566.7,561.7 L2569.6,560.5 L2572.5,559.1 L2575.3,557.7 L2578.0,556.0 L2580.7,554.3 L2583.2,552.4 L2585.2,550.8 L2587.0,549.1 L2588.8,547.5 L2590.6,545.7 L2592.3,543.9 L2594.0,542.0 L2595.7,540.1 L2597.3,538.1 L2598.8,536.0 L2600.3,533.9 L2601.7,531.7 L2603.0,529.4 L2604.2,527.1 L2605.3,524.7 L2606.3,522.2 L2607.2,519.7 L2607.9,517.1 L2608.5,514.4 L2608.9,511.6 L2609.0,508.8 L2609.0,506.0 L2608.8,503.3 L2608.4,500.7 L2607.8,498.1 L2607.1,495.6 L2606.3,493.1 L2605.3,490.7 L2604.3,488.4 L2603.1,486.2 L2601.9,484.0 L2600.6,481.9 L2599.2,479.9 L2597.8,477.9 L2596.3,475.9 L2594.7,474.0 L2593.2,472.2 L2591.6,470.4 L2589.9,468.6 L2588.2,466.9 L2586.5,465.1 L2584.1,462.9 L2581.6,460.7 L2579.0,458.7 L2576.3,456.7 L2573.5,454.8 L2570.7,453.0 L2567.8,451.3 L2564.8,449.6 L2561.7,448.0 L2558.6,446.4 L2555.5,444.9 L2552.2,443.4 L2548.9,441.9 L2545.6,440.4 L2542.2,438.9 L2538.7,437.4 L2535.1,435.9 L2531.5,434.4 L2527.9,432.9 L2524.1,431.3 L2517.7,428.7 L2510.6,426.0 L2503.1,423.3 L2495.1,420.5 L2486.8,417.6 L2478.1,414.8 L2469.2,411.9 L2460.1,409.0 L2450.9,406.1 L2441.6,403.3 L2432.4,400.5 L2423.3,397.8 L2414.3,395.2 L2405.6,392.6 L2397.2,390.2 L2389.1,387.8 L2381.4,385.7 L2374.3,383.6 L2367.8,381.8 L2361.8,380.1 L2358.9,379.3 L2356.2,378.5 L2353.5,377.8 L2351.0,377.2 L2348.5,376.6 L2346.2,376.0 L2343.9,375.5 L2341.7,375.0 L2339.6,374.5 L2337.5,374.0 L2335.5,373.5 L2333.5,373.1 L2331.5,372.6 L2329.6,372.1 L2327.6,371.6 L2325.6,371.1 L2323.6,370.6 L2321.5,370.0 L2319.4,369.4 L2317.2,368.7 L2314.8,367.9 L2312.3,367.1 L2309.7,366.3 L2307.2,365.4 L2304.6,364.6 L2302.1,363.7 L2299.5,362.8 L2296.9,361.9 L2294.3,360.9 L2291.7,360.0 L2289.2,359.0 L2286.6,358.0 L2284.0,357.0 L2281.4,356.0 L2278.9,354.9 L2276.3,353.8 L2273.8,352.7 L2271.2,351.6 L2268.7,350.5 L2266.2,349.3 L2263.7,348.1 L2261.2,346.8 L2258.6,345.5 L2256.1,344.1 L2253.6,342.6 L2251.0,341.2 L2248.4,339.7 L2245.9,338.2 L2243.3,336.6 L2240.8,335.1 L2238.2,333.5 L2235.6,331.9 L2233.1,330.4 L2230.5,328.8 L2228.0,327.3 L2225.4,325.8 L2222.9,324.3 L2220.3,322.9 L2217.8,321.4 L2215.3,320.1 L2213.0,318.9 L2210.7,317.8 L2208.5,316.7 L2206.2,315.7 L2203.9,314.7 L2201.7,313.7 L2199.5,312.7 L2197.3,311.8 L2195.2,310.8 L2193.1,309.9 L2191.0,309.0 L2189.0,308.1 L2187.1,307.2 L2185.2,306.3 L2183.5,305.4 L2181.8,304.5 L2180.2,303.7 L2178.7,302.8 L2177.3,301.9 L2175.9,301.0 L2175.1,300.3 L2174.2,299.6 L2173.3,298.9 L2172.5,298.2 L2171.7,297.5 L2170.9,296.8 L2170.2,296.1 L2169.4,295.3 L2168.7,294.6 L2168.0,293.8 L2167.2,293.0 L2166.5,292.2 L2165.7,291.4 L2164.9,290.5 L2164.1,289.7 L2163.3,288.8 L2162.4,287.8 L2161.5,286.9 L2160.5,285.9 L2159.6,284.9 L2158.5,283.8 L2157.3,282.7 L2156.2,281.6 L2155.1,280.5 L2153.9,279.4 L2152.8,278.3 L2151.6,277.2 L2150.5,276.1 L2149.4,275.0 L2148.3,273.9 L2147.2,272.8 L2146.2,271.7 L2145.1,270.6 L2144.1,269.6 L2143.2,268.5 L2142.3,267.5 L2141.4,266.4 L2140.6,265.4 L2139.8,264.4 L2139.1,263.5 L2138.5,262.6 L2137.8,261.7 L2137.2,260.8 L2136.7,259.9 L2136.1,259.0 L2135.5,258.0 L2135.0,257.1 L2134.4,256.1 L2133.9,255.1 L2133.3,254.1 L2132.8,253.1 L2132.3,252.1 L2131.7,251.0 L2131.2,250.0 L2130.7,248.9 L2130.1,247.8 L2129.6,246.7 L2129.0,245.6 L2128.5,244.4 L2127.9,243.3 L2127.4,242.2 L2126.8,241.0 L2126.3,239.9 L2125.7,238.9 L2125.2,237.8 L2124.7,236.7 L2124.2,235.7 L2123.8,234.7 L2123.3,233.7 L2122.9,232.7 L2122.5,231.7 L2122.1,230.8 L2121.7,229.9 L2121.4,229.0 L2121.1,228.1 L2120.8,227.2 L2120.5,226.4 L2120.3,225.6 L2120.1,224.8 L2119.9,224.0 L2119.7,223.3 L2119.5,222.6 L2119.4,221.8 L2119.2,221.1 L2119.1,220.3 L2119.0,219.6 L2118.9,218.8 L2118.8,217.9 L2118.7,217.1 L2118.6,216.2 L2118.5,215.3 L2118.5,214.4 L2118.4,213.4 L2118.3,212.4 L2118.3,211.3 L2118.2,210.2 L2118.1,209.1 L2118.1,207.9 L2118.0,206.7 L2117.9,205.5 L2117.8,204.0 L2117.8,202.6 L2117.7,201.2 L2117.7,199.8 L2117.7,198.4 L2117.6,196.9 L2117.6,195.4 L2117.6,193.9 L2117.6,192.3 L2117.6,190.7 L2117.6,189.0 L2117.7,187.2 L2117.7,185.4 L2117.7,183.5 L2117.7,181.4 L2117.7,179.4 L2117.7,177.2 L2117.7,174.9 L2117.8,172.5 L2117.7,170.0 L2117.7,164.0 L2117.7,157.5 L2117.7,150.4 L2117.7,142.7 L2117.7,134.6 L2117.7,126.0 L2117.7,117.1 L2117.7,107.8 L2117.7,98.3 L2117.7,88.5 L2117.7,78.6 L2117.7,68.6 L2117.7,58.4 L2117.7,48.3 L2117.7,38.2 L2117.7,28.2 L2117.7,18.3 L2117.7,8.6 L2117.7,-0.8 L2117.7,-10.0 L2085.3,-10.0 L2085.2,-0.8 L2085.2,8.6 L2085.2,18.3 L2085.2,28.2 L2085.2,38.2 L2085.2,48.3 L2085.2,58.4 L2085.2,68.5 L2085.2,78.6 L2085.2,88.5 L2085.2,98.3 L2085.2,107.8 L2085.2,117.1 L2085.2,126.0 L2085.2,134.6 L2085.2,142.7 L2085.2,150.4 L2085.2,157.5 L2085.2,164.1 L2085.3,170.0 L2085.3,172.5 L2085.2,174.8 L2085.2,177.0 L2085.2,179.1 L2085.2,181.1 L2085.2,183.1 L2085.1,185.0 L2085.1,186.9 L2085.1,188.7 L2085.1,190.4 L2085.1,192.2 L2085.1,193.9 L2085.1,195.6 L2085.1,197.3 L2085.1,199.0 L2085.1,200.7 L2085.2,202.4 L2085.3,204.1 L2085.4,205.8 L2085.5,207.5 L2085.6,208.8 L2085.7,209.9 L2085.7,211.1 L2085.8,212.3 L2085.9,213.5 L2086.0,214.7 L2086.1,215.9 L2086.2,217.1 L2086.3,218.4 L2086.4,219.6 L2086.6,220.9 L2086.8,222.1 L2086.9,223.4 L2087.2,224.7 L2087.4,226.1 L2087.7,227.4 L2088.0,228.8 L2088.3,230.2 L2088.7,231.5 L2089.1,233.0 L2089.6,234.4 L2090.1,235.9 L2090.7,237.3 L2091.2,238.7 L2091.8,240.1 L2092.4,241.4 L2093.1,242.7 L2093.7,244.0 L2094.4,245.2 L2095.0,246.4 L2095.7,247.6 L2096.3,248.8 L2097.0,250.0 L2097.7,251.1 L2098.3,252.2 L2099.0,253.3 L2099.6,254.4 L2100.3,255.4 L2100.9,256.5 L2101.5,257.5 L2102.1,258.6 L2102.8,259.7 L2103.4,260.8 L2104.1,261.9 L2104.7,263.0 L2105.4,264.2 L2106.1,265.3 L2106.8,266.5 L2107.6,267.7 L2108.3,268.9 L2109.1,270.1 L2109.9,271.3 L2110.7,272.5 L2111.6,273.8 L2112.5,275.0 L2113.4,276.2 L2114.3,277.4 L2115.3,278.7 L2116.3,279.9 L2117.3,281.1 L2118.5,282.5 L2119.8,283.8 L2121.1,285.1 L2122.3,286.4 L2123.6,287.7 L2125.0,288.9 L2126.3,290.1 L2127.6,291.3 L2129.0,292.4 L2130.3,293.6 L2131.6,294.7 L2133.0,295.8 L2134.3,296.9 L2135.6,297.9 L2136.9,298.9 L2138.2,299.9 L2139.4,300.9 L2140.7,301.9 L2141.9,302.8 L2143.0,303.7 L2144.0,304.4 L2145.0,305.2 L2145.9,305.9 L2146.9,306.7 L2147.8,307.4 L2148.8,308.2 L2149.8,308.9 L2150.8,309.7 L2151.8,310.5 L2152.9,311.2 L2153.9,312.0 L2155.0,312.8 L2156.2,313.6 L2157.3,314.4 L2158.5,315.2 L2159.8,315.9 L2161.1,316.7 L2162.4,317.5 L2163.8,318.2 L2165.3,319.0 L2167.2,320.0 L2169.3,321.0 L2171.4,321.9 L2173.6,322.7 L2175.7,323.5 L2177.9,324.3 L2180.1,325.0 L2182.3,325.7 L2184.5,326.4 L2186.7,327.1 L2188.9,327.8 L2191.1,328.5 L2193.3,329.2 L2195.5,329.9 L2197.7,330.6 L2199.9,331.3 L2202.1,332.1 L2204.2,332.9 L2206.3,333.7 L2208.3,334.5 L2210.8,335.6 L2213.2,336.7 L2215.7,337.9 L2218.2,339.1 L2220.7,340.4 L2223.3,341.7 L2225.9,343.1 L2228.5,344.5 L2231.1,345.9 L2233.7,347.3 L2236.4,348.8 L2239.1,350.2 L2241.7,351.6 L2244.4,353.1 L2247.1,354.5 L2249.9,355.9 L2252.6,357.2 L2255.3,358.6 L2258.0,359.9 L2260.8,361.1 L2263.4,362.3 L2266.0,363.4 L2268.7,364.5 L2271.3,365.6 L2274.0,366.7 L2276.6,367.8 L2279.3,368.9 L2281.9,369.9 L2284.6,371.0 L2287.2,372.0 L2289.9,373.0 L2292.5,374.0 L2295.2,374.9 L2297.8,375.9 L2300.4,376.8 L2303.0,377.7 L2305.6,378.6 L2308.2,379.4 L2310.8,380.3 L2313.4,381.1 L2315.7,381.8 L2318.0,382.5 L2320.2,383.1 L2322.3,383.7 L2324.4,384.2 L2326.5,384.7 L2328.6,385.2 L2330.6,385.6 L2332.7,386.1 L2334.7,386.6 L2336.8,387.0 L2338.9,387.5 L2341.0,388.0 L2343.2,388.5 L2345.5,389.0 L2347.8,389.6 L2350.2,390.3 L2352.8,391.0 L2355.4,391.7 L2358.2,392.5 L2364.0,394.3 L2370.6,396.3 L2377.6,398.5 L2385.2,400.8 L2393.2,403.3 L2401.5,406.0 L2410.2,408.7 L2419.0,411.6 L2428.0,414.5 L2437.1,417.6 L2446.1,420.7 L2455.2,423.8 L2464.0,427.0 L2472.7,430.2 L2481.1,433.4 L2489.1,436.5 L2496.7,439.7 L2503.8,442.7 L2510.3,445.7 L2516.3,448.7 L2519.7,450.4 L2523.2,452.2 L2526.6,454.0 L2529.8,455.8 L2533.0,457.5 L2536.1,459.3 L2539.1,461.0 L2541.9,462.7 L2544.7,464.4 L2547.3,466.2 L2549.8,467.9 L2552.2,469.6 L2554.5,471.3 L2556.6,473.0 L2558.6,474.7 L2560.4,476.4 L2562.1,478.1 L2563.7,479.8 L2565.1,481.5 L2566.5,483.3 L2567.4,484.6 L2568.4,486.0 L2569.3,487.5 L2570.2,489.0 L2571.0,490.5 L2571.7,491.9 L2572.4,493.4 L2573.0,494.8 L2573.5,496.3 L2574.0,497.6 L2574.4,499.0 L2574.7,500.3 L2575.0,501.5 L2575.2,502.6 L2575.4,503.7 L2575.5,504.7 L2575.5,505.6 L2575.6,506.4 L2575.6,507.2 L2575.6,507.8 L2575.5,508.5 L2575.5,509.2 L2575.4,510.1 L2575.2,511.1 L2575.0,512.2 L2574.7,513.3 L2574.4,514.6 L2574.0,515.9 L2573.5,517.3 L2573.0,518.7 L2572.4,520.1 L2571.7,521.6 L2571.0,523.0 L2570.2,524.5 L2569.4,525.9 L2568.5,527.4 L2567.6,528.8 L2566.7,530.1 L2565.7,531.4 L2564.8,532.6 L2563.7,533.9 L2562.5,535.2 L2561.1,536.5 L2559.5,537.9 L2557.7,539.3 L2555.7,540.6 L2553.7,542.0 L2551.5,543.4 L2549.2,544.8 L2546.8,546.1 L2544.4,547.4 L2541.9,548.7 L2539.4,549.9 L2536.9,551.1 L2534.4,552.3 L2531.9,553.5 L2529.4,554.6 L2527.0,555.7 L2524.6,556.7 L2522.4,557.7 L2520.7,558.5 L2519.1,559.2 L2517.5,559.8 L2516.0,560.4 L2514.5,561.0 L2513.1,561.5 L2511.6,562.0 L2510.2,562.5 L2508.7,563.0 L2507.2,563.4 L2505.7,563.9 L2504.2,564.3 L2502.6,564.7 L2501.0,565.1 L2499.3,565.6 L2497.5,566.0 L2495.7,566.5 L2493.8,566.9 L2491.8,567.4 L2489.7,567.9 L2486.2,568.8 L2482.3,569.7 L2478.2,570.6 L2473.9,571.6 L2469.4,572.6 L2464.7,573.6 L2459.9,574.6 L2455.0,575.6 L2450.0,576.5 L2445.0,577.5 L2439.9,578.4 L2434.9,579.4 L2430.0,580.2 L2425.1,581.0 L2420.3,581.8 L2415.7,582.5 L2411.3,583.2 L2407.1,583.7 L2403.1,584.2 L2399.3,584.6 L2397.0,584.8 L2394.7,585.0 L2392.5,585.2 L2390.3,585.4 L2388.2,585.5 L2386.1,585.7 L2384.1,585.8 L2382.0,585.9 L2380.1,585.9 L2378.1,586.0 L2376.2,586.0 L2374.4,586.0 L2372.5,586.0 L2370.7,585.9 L2368.9,585.8 L2367.1,585.7 L2365.4,585.6 L2363.7,585.4 L2362.0,585.2 L2360.3,585.0 L2358.9,584.8 L2357.5,584.6 L2356.2,584.4 L2354.9,584.2 L2353.6,584.0 L2352.4,583.8 L2351.2,583.6 L2350.0,583.3 L2348.9,583.1 L2347.8,582.8 L2346.8,582.5 L2345.8,582.2 L2344.9,581.8 L2344.1,581.5 L2343.3,581.1 L2342.6,580.7 L2341.9,580.3 L2341.4,579.8 L2340.9,579.4 L2340.4,578.9 L2340.0,578.5 L2339.7,578.0 L2339.3,577.5 L2339.0,576.9 L2338.7,576.3 L2338.4,575.8 L2338.2,575.2 L2338.0,574.5 L2337.8,573.9 L2337.6,573.3 L2337.4,572.7 L2337.2,572.1 L2337.0,571.5 L2336.8,570.8 L2336.6,570.2 L2336.4,569.6 L2336.2,569.1 L2336.0,568.5 L2335.7,567.9 L2335.6,567.6 L2335.7,567.7 L2335.8,567.9 L2335.8,568.0 L2335.7,567.8 L2335.5,567.5 L2335.2,567.0 L2334.8,566.4 L2334.4,565.5 L2334.0,564.6 L2333.5,563.5 L2333.0,562.2 L2332.4,560.9 L2331.7,559.5 L2330.9,557.9 L2330.1,556.3 L2329.1,554.7 L2327.9,553.0 L2326.6,551.3 L2325.1,549.6 L2323.4,548.0 L2321.5,546.6 L2319.6,545.3 L2317.6,544.1 L2315.6,543.1 L2313.5,542.2 L2311.4,541.4 L2309.3,540.7 L2307.2,540.0 L2305.1,539.4 L2302.9,538.9 L2300.7,538.4 L2298.5,537.9 L2296.3,537.5 L2294.1,537.0 L2291.8,536.6 L2289.6,536.3 L2287.4,535.9 L2285.2,535.5 L2282.9,535.1 L2280.7,534.7 L2277.5,534.2 L2274.3,533.7 L2270.9,533.2 L2267.5,532.7 L2264.0,532.2 L2260.5,531.8 L2256.9,531.4 L2253.2,531.0 L2249.5,530.6 L2245.8,530.3 L2242.0,530.0 L2238.2,529.7 L2234.4,529.4 L2230.6,529.1 L2226.8,528.9 L2223.0,528.7 L2219.2,528.5 L2215.5,528.3 L2211.8,528.1 L2208.2,528.0 L2204.4,527.9 L2200.7,527.8 L2196.8,527.7 L2192.9,527.7 L2189.0,527.6 L2185.1,527.6 L2181.1,527.7 L2177.2,527.7 L2173.2,527.7 L2169.3,527.8 L2165.4,527.9 L2161.5,528.1 L2157.7,528.2 L2153.9,528.4 L2150.1,528.6 L2146.5,528.8 L2142.9,529.1 L2139.4,529.4 L2136.0,529.8 L2132.7,530.1 L2130.4,530.4 L2128.0,530.7 L2125.7,531.0 L2123.3,531.2 L2121.0,531.6 L2118.6,531.9 L2116.3,532.2 L2113.9,532.6 L2111.6,533.0 L2109.3,533.4 L2107.1,533.8 L2104.8,534.3 L2102.6,534.9 L2100.5,535.5 L2098.3,536.1 L2096.2,536.9 L2094.1,537.7 L2092.0,538.7 L2090.0,539.8 L2088.1,540.9 L2086.8,541.9 L2085.7,542.8 L2084.5,543.7 L2083.4,544.6 L2082.4,545.6 L2081.3,546.6 L2080.3,547.7 L2079.4,548.8 L2078.5,550.0 L2077.6,551.2 L2076.8,552.5 L2076.0,553.8 L2075.3,555.2 L2074.6,556.6 L2074.1,558.2 L2073.6,559.8 L2073.3,561.5 L2073.1,563.3 L2073.0,565.2 L2073.2,567.4 L2073.7,569.9 L2074.5,572.5 L2075.6,574.6 L2076.7,576.5 L2077.8,578.0 L2079.0,579.4 L2080.1,580.5 L2081.2,581.4 L2082.2,582.3 L2083.1,583.0 L2084.0,583.6 L2084.9,584.2 L2085.6,584.7 L2086.3,585.1 L2086.9,585.4 L2087.4,585.7 L2087.8,585.8 L2088.1,585.9 L2088.2,585.9 L2088.5,586.0 L2089.0,586.5 L2089.8,587.3 L2090.5,588.0 L2091.2,588.6 L2091.9,589.2 L2092.5,589.8 L2093.1,590.3 L2093.7,590.8 L2094.3,591.2 L2094.8,591.6 L2095.2,591.9 L2095.6,592.1 L2095.9,592.3 L2096.2,592.3 L2096.3,592.2 L2096.5,591.9 L2096.6,591.5 L2096.8,590.9 L2097.0,590.1 L2097.4,589.1 L2097.9,588.5 L2098.3,588.1 L2098.7,587.9 L2098.9,588.0 L2098.9,588.2 L2098.8,588.6 L2098.5,589.0 L2098.1,589.5 L2097.6,590.0 L2097.0,590.5 L2096.3,591.1 L2095.5,591.7 L2094.7,592.2 L2093.8,592.8 L2092.9,593.3 L2091.9,593.8 L2090.9,594.4 L2089.9,594.9 L2088.9,595.4 L2087.9,595.8 L2086.5,596.5 L2085.2,597.0 L2083.8,597.5 L2082.3,598.0 L2080.7,598.4 L2079.2,598.8 L2077.5,599.1 L2075.8,599.4 L2074.0,599.7 L2072.2,600.0 L2070.3,600.2 L2068.3,600.4 L2066.2,600.6 L2064.1,600.8 L2061.9,601.0 L2059.6,601.2 L2057.2,601.4 L2054.8,601.6 L2052.2,601.8 L2049.6,602.0 L2044.1,602.4 L2038.1,602.8 L2031.8,603.1 L2025.0,603.3 L2017.9,603.5 L2010.4,603.7 L2002.7,603.8 L1994.7,603.9 L1986.4,603.9 L1978.0,603.9 L1969.3,603.9 L1960.5,603.9 L1951.6,603.8 L1942.6,603.8 L1933.5,603.7 L1924.4,603.6 L1915.2,603.6 L1906.1,603.5 L1897.0,603.4 L1888.0,603.4 L1876.8,603.4 L1865.3,603.4 L1853.6,603.3 L1841.7,603.3 L1829.6,603.3 L1817.3,603.3 L1804.9,603.2 L1792.4,603.2 L1779.7,603.1 L1767.0,603.0 L1754.3,602.9 L1741.5,602.7 L1728.6,602.5 L1715.8,602.3 L1703.0,602.0 L1690.3,601.7 L1677.6,601.3 L1665.1,600.8 L1652.6,600.3 L1640.3,599.7 L1628.1,599.1 L1615.7,598.3 L1603.2,597.5 L1590.5,596.6 L1577.7,595.7 L1564.9,594.7 L1552.0,593.7 L1539.2,592.6 L1526.4,591.5 L1513.8,590.4 L1501.2,589.2 L1488.9,588.1 L1476.7,586.9 L1464.8,585.7 L1453.1,584.5 L1441.8,583.4 L1430.9,582.3 L1420.3,581.1 L1410.2,580.1 L1400.5,579.0 L1394.4,578.4 L1388.6,577.8 L1382.8,577.2 L1377.2,576.7 L1371.7,576.2 L1366.3,575.7 L1361.1,575.2 L1356.0,574.7 L1351.0,574.2 L1346.0,573.7 L1341.2,573.1 L1336.5,572.6 L1331.8,571.9 L1327.2,571.3 L1322.7,570.6 L1318.3,569.8 L1313.9,569.0 L1309.6,568.2 L1305.3,567.2 L1301.0,566.1 L1297.6,565.3 L1294.2,564.3 L1290.8,563.3 L1287.5,562.3 L1284.2,561.3 L1280.9,560.2 L1277.7,559.1 L1274.5,558.0 L1271.4,556.8 L1268.4,555.7 L1265.4,554.5 L1262.4,553.2 L1259.6,552.0 L1256.8,550.8 L1254.0,549.5 L1251.4,548.2 L1248.8,546.9 L1246.4,545.6 L1244.0,544.3 L1241.6,543.0 L1239.9,542.0 L1238.2,541.1 L1236.6,540.1 L1235.0,539.1 L1233.4,538.1 L1231.9,537.2 L1230.5,536.2 L1229.1,535.3 L1227.8,534.3 L1226.6,533.4 L1225.4,532.5 L1224.4,531.6 L1223.4,530.7 L1222.4,529.8 L1221.6,528.9 L1220.9,528.1 L1220.2,527.3 L1219.6,526.4 L1219.1,525.7 L1218.6,524.9 L1218.2,524.1 L1217.8,523.3 L1217.4,522.4 L1217.0,521.5 L1216.6,520.5 L1216.3,519.6 L1216.0,518.6 L1215.7,517.6 L1215.4,516.6 L1215.2,515.6 L1214.9,514.6 L1214.8,513.7 L1214.6,512.7 L1214.5,511.8 L1214.4,510.8 L1214.3,510.0 L1214.3,509.1 L1214.2,508.3 L1214.2,507.5 L1214.2,506.8 L1214.2,506.1 L1214.2,505.3 L1214.3,504.5 L1214.3,503.5 L1214.5,502.6 L1214.6,501.5 L1214.8,500.4 L1215.0,499.3 L1215.2,498.2 L1215.5,497.0 L1215.8,495.8 L1216.1,494.6 L1216.5,493.4 L1217.0,492.2 L1217.4,491.0 L1217.9,489.9 L1218.4,488.7 L1219.0,487.6 L1219.6,486.5 L1220.1,485.5 L1220.8,484.4 L1221.5,483.4 L1222.2,482.4 L1223.0,481.3 L1223.9,480.3 L1224.8,479.3 L1225.8,478.3 L1226.8,477.2 L1228.0,476.2 L1229.2,475.1 L1230.4,474.1 L1231.8,473.0 L1233.2,471.9 L1234.7,470.8 L1236.3,469.7 L1237.9,468.5 L1239.6,467.4 L1241.4,466.2 L1243.2,465.0 L1245.1,463.9 L1248.1,462.0 L1251.3,460.2 L1254.8,458.3 L1258.5,456.4 L1262.4,454.5 L1266.5,452.5 L1270.8,450.6 L1275.2,448.7 L1279.7,446.7 L1284.2,444.8 L1288.8,442.9 L1293.5,441.1 L1298.1,439.2 L1302.7,437.4 L1307.3,435.6 L1311.7,433.9 L1316.1,432.2 L1320.4,430.6 L1324.5,429.0 L1328.5,427.5 L1331.5,426.4 L1334.4,425.3 L1337.3,424.3 L1340.1,423.2 L1342.9,422.3 L1345.7,421.3 L1348.4,420.4 L1351.1,419.5 L1353.8,418.6 L1356.4,417.7 L1359.1,416.9 L1361.8,416.0 L1364.5,415.2 L1367.3,414.3 L1370.1,413.5 L1372.9,412.6 L1375.8,411.7 L1378.7,410.8 L1381.7,409.9 L1384.8,408.9 L1388.6,407.7 L1392.4,406.6 L1396.3,405.4 L1400.2,404.3 L1404.2,403.1 L1408.3,401.9 L1412.4,400.7 L1416.6,399.5 L1420.8,398.4 L1425.0,397.1 L1429.3,395.9 L1433.6,394.7 L1437.8,393.5 L1442.1,392.2 L1446.4,391.0 L1450.7,389.7 L1455.0,388.4 L1459.2,387.1 L1463.4,385.8 L1467.6,384.5 L1471.8,383.1 L1476.0,381.8 L1480.3,380.4 L1484.5,379.0 L1488.8,377.5 L1493.1,376.1 L1497.4,374.7 L1501.6,373.2 L1505.9,371.7 L1510.2,370.3 L1514.4,368.8 L1518.7,367.3 L1522.9,365.8 L1527.0,364.3 L1531.2,362.8 L1535.3,361.3 L1539.4,359.8 L1543.4,358.3 L1547.4,356.7 L1551.3,355.2 L1554.7,353.9 L1558.1,352.5 L1561.5,351.2 L1564.9,349.8 L1568.3,348.4 L1571.6,347.0 L1575.0,345.6 L1578.3,344.2 L1581.6,342.8 L1584.8,341.4 L1588.1,340.0 L1591.2,338.6 L1594.4,337.2 L1597.5,335.8 L1600.5,334.4 L1603.6,333.1 L1606.5,331.7 L1609.4,330.3 L1612.3,329.0 L1615.1,327.7 L1617.2,326.7 L1619.3,325.7 L1621.3,324.7 L1623.3,323.7 L1625.3,322.8 L1627.3,321.8 L1629.2,320.9 L1631.1,319.9 L1633.0,318.9 L1634.9,318.0 L1636.8,317.0 L1638.6,316.1 L1640.4,315.1 L1642.3,314.1 L1644.1,313.1 L1645.8,312.1 L1647.6,311.0 L1649.4,310.0 L1651.1,308.9 L1652.9,307.8 L1654.4,306.8 L1656.0,305.9 L1657.5,304.9 L1659.1,303.9 L1660.6,302.9 L1662.2,301.8 L1663.7,300.8 L1665.3,299.7 L1666.8,298.7 L1668.3,297.6 L1669.9,296.4 L1671.4,295.3 L1672.9,294.1 L1674.4,292.9 L1675.9,291.7 L1677.4,290.4 L1678.8,289.1 L1680.3,287.8 L1681.7,286.4 L1683.1,285.0 L1684.3,283.7 L1685.5,282.3 L1686.7,281.0 L1687.9,279.6 L1689.0,278.3 L1690.2,276.9 L1691.2,275.5 L1692.3,274.1 L1693.3,272.6 L1694.4,271.2 L1695.3,269.8 L1696.3,268.3 L1697.2,266.9 L1698.1,265.4 L1699.0,264.0 L1699.8,262.5 L1700.7,261.1 L1701.4,259.6 L1702.2,258.2 L1702.9,256.7 L1703.6,255.3 L1704.3,253.9 L1704.9,252.5 L1705.4,251.1 L1706.0,249.7 L1706.5,248.3 L1707.0,246.9 L1707.4,245.5 L1707.9,244.2 L1708.3,242.8 L1708.7,241.5 L1709.0,240.1 L1709.4,238.8 L1709.7,237.5 L1710.1,236.2 L1710.4,234.9 L1710.7,233.6 L1711.0,232.4 L1711.3,231.2 L1711.6,229.9 L1711.9,228.7 L1712.1,227.4 L1712.4,226.2 L1712.7,224.9 L1712.9,223.7 L1713.1,222.5 L1713.4,221.2 L1713.6,220.0 L1713.8,218.8 L1714.0,217.5 L1714.2,216.2 L1714.4,215.0 L1714.5,213.7 L1714.7,212.4 L1714.8,211.1 L1715.0,209.7 L1715.1,208.3 L1715.2,206.9 L1715.4,205.5 L1715.5,204.0 L1715.6,201.7 L1715.7,199.3 L1715.8,196.9 L1715.9,194.5 L1715.9,192.1 L1716.0,189.6 L1716.0,187.1 L1716.0,184.6 L1715.9,182.0 L1715.9,179.4 L1715.9,176.7 L1715.8,174.0 L1715.8,171.2 L1715.7,168.4 L1715.6,165.5 L1715.6,162.6 L1715.6,159.5 L1715.5,156.4 L1715.5,153.3 L1715.5,150.0 L1715.5,143.9 L1715.5,137.5 L1715.5,130.7 L1715.5,123.5 L1715.5,116.1 L1715.5,108.3 L1715.5,100.4 L1715.5,92.2 L1715.5,83.9 L1715.5,75.4 L1715.5,66.8 L1715.5,58.1 L1715.5,49.4 L1715.5,40.7 L1715.5,32.0 L1715.5,23.4 L1715.5,14.8 L1715.5,6.4 L1715.5,-1.9 L1715.5,-10.0Z" fill="#9789b8"/><path d="M1691.8,-10.0 L1691.8,-1.9 L1691.8,6.4 L1691.8,14.8 L1691.8,23.4 L1691.8,32.0 L1691.8,40.7 L1691.8,49.4 L1691.8,58.1 L1691.8,66.8 L1691.8,75.4 L1691.8,83.9 L1691.8,92.2 L1691.8,100.4 L1691.8,108.3 L1691.8,116.1 L1691.8,123.5 L1691.8,130.7 L1691.8,137.5 L1691.8,143.9 L1691.8,150.0 L1691.8,153.3 L1691.8,156.6 L1691.9,159.8 L1691.9,162.9 L1691.9,165.9 L1692.0,168.8 L1692.0,171.6 L1692.1,174.4 L1692.1,177.1 L1692.1,179.7 L1692.2,182.3 L1692.2,184.7 L1692.2,187.2 L1692.2,189.5 L1692.2,191.8 L1692.1,194.1 L1692.1,196.2 L1692.0,198.4 L1691.9,200.5 L1691.8,202.5 L1691.8,203.9 L1691.7,205.2 L1691.6,206.5 L1691.5,207.7 L1691.4,208.9 L1691.3,210.1 L1691.2,211.2 L1691.1,212.3 L1691.0,213.4 L1690.8,214.5 L1690.7,215.6 L1690.6,216.6 L1690.4,217.6 L1690.3,218.7 L1690.1,219.7 L1689.9,220.8 L1689.8,221.9 L1689.6,222.9 L1689.3,224.0 L1689.1,225.2 L1688.9,226.3 L1688.6,227.5 L1688.4,228.7 L1688.1,229.9 L1687.9,231.0 L1687.6,232.2 L1687.3,233.3 L1687.1,234.4 L1686.8,235.6 L1686.5,236.7 L1686.2,237.8 L1685.9,238.9 L1685.5,240.0 L1685.2,241.1 L1684.8,242.2 L1684.4,243.2 L1684.0,244.3 L1683.6,245.4 L1683.2,246.4 L1682.7,247.5 L1682.2,248.7 L1681.6,250.0 L1681.1,251.2 L1680.5,252.5 L1679.8,253.7 L1679.2,255.0 L1678.5,256.2 L1677.8,257.5 L1677.1,258.7 L1676.4,259.9 L1675.7,261.2 L1674.9,262.4 L1674.1,263.6 L1673.3,264.8 L1672.5,266.0 L1671.7,267.2 L1670.8,268.3 L1670.0,269.5 L1669.1,270.6 L1668.2,271.7 L1667.2,272.8 L1666.1,274.0 L1665.1,275.1 L1664.0,276.2 L1662.8,277.3 L1661.7,278.4 L1660.5,279.4 L1659.2,280.5 L1657.9,281.6 L1656.7,282.7 L1655.3,283.7 L1654.0,284.8 L1652.6,285.8 L1651.3,286.9 L1649.9,288.0 L1648.5,289.0 L1647.0,290.1 L1645.6,291.1 L1644.1,292.2 L1642.7,293.3 L1641.1,294.4 L1639.6,295.6 L1638.0,296.7 L1636.5,297.8 L1634.9,298.9 L1633.3,300.0 L1631.7,301.1 L1630.1,302.2 L1628.4,303.2 L1626.7,304.3 L1625.1,305.4 L1623.3,306.5 L1621.6,307.6 L1619.8,308.7 L1618.0,309.7 L1616.2,310.8 L1614.3,311.9 L1612.4,313.0 L1610.4,314.2 L1608.5,315.3 L1605.8,316.7 L1603.1,318.2 L1600.4,319.7 L1597.6,321.2 L1594.7,322.7 L1591.8,324.2 L1588.8,325.7 L1585.8,327.2 L1582.7,328.7 L1579.6,330.2 L1576.5,331.7 L1573.3,333.2 L1570.1,334.7 L1566.8,336.2 L1563.6,337.7 L1560.3,339.2 L1557.0,340.7 L1553.7,342.1 L1550.4,343.5 L1547.0,345.0 L1543.2,346.6 L1539.3,348.2 L1535.4,349.8 L1531.4,351.4 L1527.4,353.0 L1523.4,354.5 L1519.3,356.1 L1515.1,357.7 L1511.0,359.2 L1506.8,360.8 L1502.6,362.3 L1498.3,363.8 L1494.1,365.3 L1489.9,366.8 L1485.6,368.3 L1481.4,369.7 L1477.2,371.2 L1473.0,372.6 L1468.8,374.0 L1464.6,375.3 L1460.5,376.7 L1456.4,378.0 L1452.2,379.2 L1448.0,380.5 L1443.7,381.7 L1439.5,383.0 L1435.2,384.2 L1430.9,385.4 L1426.7,386.6 L1422.4,387.7 L1418.2,388.9 L1414.0,390.0 L1409.8,391.2 L1405.7,392.3 L1401.5,393.4 L1397.5,394.5 L1393.5,395.6 L1389.5,396.8 L1385.6,397.9 L1381.8,399.0 L1378.8,399.9 L1375.7,400.8 L1372.8,401.6 L1369.9,402.5 L1367.1,403.3 L1364.3,404.1 L1361.5,404.9 L1358.7,405.7 L1356.0,406.5 L1353.3,407.3 L1350.5,408.1 L1347.8,408.9 L1345.0,409.8 L1342.2,410.6 L1339.4,411.5 L1336.6,412.4 L1333.6,413.3 L1330.7,414.3 L1327.6,415.3 L1324.5,416.4 L1320.5,417.7 L1316.4,419.2 L1312.0,420.6 L1307.6,422.1 L1303.0,423.7 L1298.4,425.3 L1293.6,426.9 L1288.9,428.6 L1284.1,430.3 L1279.4,432.0 L1274.6,433.8 L1270.0,435.5 L1265.4,437.3 L1260.9,439.0 L1256.5,440.8 L1252.3,442.6 L1248.2,444.3 L1244.3,446.1 L1240.7,447.8 L1237.3,449.6 L1235.2,450.7 L1233.2,451.7 L1231.2,452.7 L1229.3,453.8 L1227.4,454.8 L1225.6,455.8 L1223.8,456.8 L1222.0,457.9 L1220.3,458.9 L1218.6,460.0 L1216.9,461.1 L1215.3,462.3 L1213.7,463.4 L1212.1,464.6 L1210.6,465.9 L1209.1,467.2 L1207.7,468.5 L1206.3,469.9 L1204.9,471.4 L1203.7,472.9 L1202.5,474.3 L1201.4,475.8 L1200.4,477.3 L1199.4,478.8 L1198.4,480.4 L1197.4,482.0 L1196.5,483.6 L1195.6,485.2 L1194.8,486.9 L1194.0,488.6 L1193.3,490.3 L1192.6,492.1 L1192.0,493.8 L1191.5,495.6 L1191.0,497.4 L1190.6,499.2 L1190.3,501.0 L1190.0,502.8 L1189.9,504.7 L1189.8,506.5 L1189.8,508.2 L1189.9,509.9 L1190.1,511.7 L1190.3,513.4 L1190.6,515.1 L1191.0,516.8 L1191.4,518.5 L1191.9,520.2 L1192.5,521.8 L1193.1,523.4 L1193.7,525.1 L1194.4,526.6 L1195.2,528.2 L1196.0,529.7 L1196.9,531.2 L1197.8,532.7 L1198.7,534.1 L1199.7,535.5 L1200.8,536.9 L1201.9,538.2 L1203.1,539.7 L1204.5,541.0 L1205.9,542.3 L1207.4,543.5 L1208.9,544.7 L1210.4,545.8 L1212.0,546.8 L1213.6,547.8 L1215.2,548.8 L1216.9,549.7 L1218.6,550.6 L1220.3,551.4 L1222.1,552.3 L1223.8,553.1 L1225.6,553.9 L1227.4,554.7 L1229.2,555.4 L1231.1,556.2 L1232.9,557.0 L1234.8,557.8 L1237.4,558.9 L1240.1,560.0 L1242.9,561.1 L1245.8,562.1 L1248.8,563.2 L1251.8,564.2 L1254.8,565.2 L1258.0,566.2 L1261.2,567.1 L1264.4,568.1 L1267.7,569.0 L1271.0,569.9 L1274.4,570.8 L1277.8,571.7 L1281.2,572.5 L1284.7,573.3 L1288.2,574.1 L1291.8,574.9 L1295.3,575.6 L1298.9,576.3 L1303.4,577.1 L1307.9,577.9 L1312.4,578.5 L1316.9,579.2 L1321.5,579.7 L1326.2,580.3 L1330.8,580.7 L1335.6,581.2 L1340.4,581.6 L1345.3,582.0 L1350.2,582.4 L1355.3,582.8 L1360.4,583.2 L1365.7,583.6 L1371.1,584.0 L1376.5,584.4 L1382.1,584.9 L1387.9,585.3 L1393.7,585.8 L1399.8,586.4 L1409.4,587.3 L1419.6,588.3 L1430.1,589.4 L1441.1,590.5 L1452.4,591.7 L1464.0,592.9 L1476.0,594.1 L1488.1,595.3 L1500.5,596.6 L1513.1,597.8 L1525.7,599.0 L1538.5,600.2 L1551.4,601.4 L1564.2,602.5 L1577.1,603.6 L1589.9,604.6 L1602.6,605.5 L1615.2,606.4 L1627.6,607.2 L1639.9,607.8 L1652.2,608.4 L1664.8,608.9 L1677.4,609.3 L1690.1,609.7 L1702.9,610.0 L1715.7,610.3 L1728.5,610.4 L1741.4,610.6 L1754.2,610.7 L1767.0,610.8 L1779.7,610.8 L1792.4,610.8 L1804.9,610.8 L1817.3,610.8 L1829.6,610.8 L1841.7,610.8 L1853.6,610.8 L1865.3,610.8 L1876.8,610.8 L1888.0,610.8 L1897.0,610.8 L1906.1,610.9 L1915.2,611.0 L1924.3,611.0 L1933.5,611.1 L1942.5,611.2 L1951.6,611.3 L1960.5,611.3 L1969.3,611.4 L1978.0,611.4 L1986.4,611.4 L1994.7,611.4 L2002.8,611.4 L2010.5,611.3 L2018.0,611.2 L2025.2,611.1 L2032.0,610.9 L2038.5,610.7 L2044.6,610.5 L2050.2,610.1 L2052.8,610.0 L2055.4,609.8 L2057.8,609.6 L2060.2,609.5 L2062.6,609.3 L2064.8,609.1 L2067.0,608.9 L2069.1,608.7 L2071.2,608.5 L2073.2,608.3 L2075.1,608.1 L2077.0,607.8 L2078.9,607.6 L2080.7,607.3 L2082.5,607.0 L2084.3,606.6 L2086.0,606.3 L2087.7,605.9 L2089.4,605.4 L2091.0,605.0 L2092.1,604.6 L2093.3,604.3 L2094.4,603.9 L2095.6,603.6 L2096.8,603.2 L2097.9,602.8 L2099.1,602.4 L2100.2,602.0 L2101.4,601.6 L2102.5,601.1 L2103.6,600.6 L2104.6,600.1 L2105.7,599.6 L2106.7,599.0 L2107.6,598.3 L2108.6,597.6 L2109.5,596.7 L2110.3,595.8 L2111.0,594.6 L2111.6,593.4 L2112.0,592.0 L2112.1,590.7 L2112.1,589.5 L2112.0,588.3 L2111.8,587.2 L2111.5,586.1 L2111.2,585.1 L2110.8,584.1 L2110.4,583.1 L2109.9,582.2 L2109.5,581.2 L2109.0,580.3 L2108.5,579.5 L2108.1,578.6 L2107.6,577.8 L2107.1,577.0 L2106.7,576.3 L2106.3,575.6 L2105.9,574.9 L2105.5,574.2 L2104.9,573.2 L2104.2,572.2 L2103.5,571.2 L2102.7,570.4 L2102.0,569.5 L2101.3,568.8 L2100.5,568.0 L2099.9,567.3 L2099.2,566.7 L2098.6,566.0 L2098.1,565.5 L2097.6,564.9 L2097.2,564.5 L2096.9,564.0 L2096.7,563.7 L2096.5,563.5 L2096.5,563.4 L2096.5,563.5 L2096.6,563.7 L2096.6,563.9 L2096.6,563.9 L2096.5,563.7 L2096.5,563.5 L2096.4,563.1 L2096.4,562.8 L2096.4,562.3 L2096.5,561.9 L2096.5,561.4 L2096.6,560.8 L2096.8,560.2 L2096.9,559.7 L2097.1,559.0 L2097.4,558.4 L2097.6,557.8 L2097.9,557.2 L2098.3,556.6 L2098.6,556.0 L2099.0,555.4 L2099.4,554.8 L2099.8,554.3 L2100.6,553.5 L2101.5,552.7 L2102.5,551.9 L2103.7,551.1 L2105.0,550.2 L2106.5,549.4 L2108.1,548.6 L2109.7,547.9 L2111.5,547.1 L2113.4,546.4 L2115.3,545.7 L2117.3,545.0 L2119.4,544.3 L2121.5,543.7 L2123.6,543.1 L2125.8,542.5 L2128.0,541.9 L2130.2,541.3 L2132.4,540.8 L2134.6,540.3 L2137.7,539.7 L2140.8,539.1 L2144.1,538.5 L2147.5,538.1 L2151.0,537.6 L2154.6,537.3 L2158.3,537.0 L2162.0,536.7 L2165.8,536.5 L2169.6,536.3 L2173.5,536.1 L2177.3,536.0 L2181.2,535.9 L2185.1,535.9 L2189.0,535.9 L2192.9,535.9 L2196.7,535.9 L2200.5,536.0 L2204.2,536.0 L2207.9,536.1 L2211.5,536.2 L2215.2,536.4 L2218.9,536.5 L2222.6,536.6 L2226.4,536.8 L2230.1,537.0 L2233.9,537.2 L2237.6,537.5 L2241.4,537.7 L2245.1,538.1 L2248.7,538.4 L2252.3,538.8 L2255.9,539.3 L2259.4,539.8 L2262.8,540.3 L2266.1,541.0 L2269.3,541.6 L2272.4,542.4 L2275.3,543.2 L2278.2,544.0 L2280.2,544.7 L2282.3,545.4 L2284.3,546.1 L2286.3,546.9 L2288.3,547.7 L2290.2,548.5 L2292.1,549.3 L2293.9,550.1 L2295.6,551.0 L2297.3,551.9 L2299.0,552.8 L2300.5,553.7 L2302.0,554.7 L2303.4,555.6 L2304.7,556.6 L2305.9,557.6 L2306.9,558.5 L2307.9,559.5 L2308.7,560.4 L2309.5,561.3 L2309.8,561.8 L2310.0,562.3 L2310.2,562.9 L2310.4,563.6 L2310.6,564.3 L2310.8,565.0 L2310.9,565.9 L2311.0,566.8 L2311.2,567.7 L2311.3,568.7 L2311.4,569.8 L2311.6,570.9 L2311.8,572.1 L2312.0,573.4 L2312.3,574.7 L2312.7,576.0 L2313.2,577.4 L2313.8,578.8 L2314.6,580.2 L2315.5,581.5 L2316.2,582.5 L2316.9,583.3 L2317.7,584.1 L2318.5,584.9 L2319.3,585.6 L2320.1,586.4 L2321.0,587.1 L2321.9,587.8 L2322.8,588.4 L2323.7,589.0 L2324.7,589.6 L2325.6,590.2 L2326.6,590.8 L2327.6,591.3 L2328.6,591.8 L2329.7,592.2 L2330.7,592.7 L2331.7,593.1 L2332.8,593.5 L2333.9,593.8 L2335.1,594.2 L2336.4,594.6 L2337.7,594.8 L2339.0,595.1 L2340.3,595.2 L2341.6,595.4 L2342.9,595.5 L2344.2,595.5 L2345.4,595.6 L2346.7,595.6 L2348.0,595.6 L2349.3,595.6 L2350.6,595.6 L2351.9,595.5 L2353.2,595.5 L2354.6,595.5 L2355.9,595.4 L2357.2,595.4 L2358.5,595.4 L2359.9,595.4 L2361.6,595.3 L2363.4,595.3 L2365.2,595.3 L2367.1,595.3 L2368.9,595.2 L2370.8,595.2 L2372.7,595.1 L2374.6,595.1 L2376.5,595.0 L2378.5,594.9 L2380.5,594.8 L2382.5,594.7 L2384.6,594.5 L2386.7,594.4 L2388.9,594.2 L2391.1,594.0 L2393.3,593.8 L2395.6,593.6 L2397.9,593.3 L2400.3,593.0 L2404.1,592.6 L2408.2,592.0 L2412.5,591.4 L2417.0,590.7 L2421.7,589.9 L2426.5,589.1 L2431.4,588.2 L2436.4,587.3 L2441.4,586.4 L2446.5,585.5 L2451.5,584.5 L2456.5,583.6 L2461.5,582.6 L2466.3,581.7 L2471.0,580.7 L2475.6,579.8 L2480.0,579.0 L2484.1,578.1 L2488.0,577.3 L2491.6,576.6 L2493.7,576.2 L2495.7,575.8 L2497.6,575.5 L2499.4,575.1 L2501.2,574.8 L2502.9,574.5 L2504.6,574.1 L2506.2,573.8 L2507.9,573.5 L2509.5,573.2 L2511.1,572.9 L2512.7,572.5 L2514.3,572.2 L2515.9,571.8 L2517.5,571.4 L2519.2,571.0 L2520.9,570.5 L2522.6,570.0 L2524.4,569.5 L2526.3,568.9 L2528.6,568.2 L2531.0,567.5 L2533.6,566.7 L2536.2,566.0 L2538.9,565.2 L2541.6,564.3 L2544.4,563.5 L2547.2,562.6 L2550.0,561.6 L2552.8,560.7 L2555.6,559.6 L2558.4,558.6 L2561.2,557.4 L2563.9,556.2 L2566.5,554.9 L2569.1,553.6 L2571.6,552.2 L2574.0,550.6 L2576.3,549.0 L2578.4,547.3 L2580.1,545.7 L2581.7,544.2 L2583.3,542.6 L2584.9,540.9 L2586.4,539.2 L2587.9,537.5 L2589.3,535.6 L2590.6,533.8 L2592.0,531.9 L2593.2,529.9 L2594.4,527.9 L2595.4,525.9 L2596.5,523.8 L2597.4,521.8 L2598.2,519.6 L2598.9,517.5 L2599.4,515.3 L2599.9,513.0 L2600.2,510.8 L2600.3,508.5 L2600.3,506.3 L2600.2,504.1 L2599.8,501.9 L2599.4,499.8 L2598.9,497.7 L2598.2,495.6 L2597.4,493.5 L2596.6,491.5 L2595.6,489.5 L2594.6,487.6 L2593.5,485.6 L2592.4,483.8 L2591.2,481.9 L2589.9,480.1 L2588.6,478.3 L2587.2,476.5 L2585.8,474.8 L2584.3,473.1 L2582.8,471.5 L2581.3,469.8 L2579.2,467.7 L2576.9,465.7 L2574.6,463.7 L2572.2,461.8 L2569.6,460.0 L2567.0,458.2 L2564.3,456.5 L2561.5,454.8 L2558.6,453.2 L2555.7,451.5 L2552.7,450.0 L2549.5,448.4 L2546.4,446.8 L2543.1,445.3 L2539.8,443.7 L2536.4,442.2 L2532.9,440.6 L2529.4,439.1 L2525.8,437.5 L2522.1,435.8 L2515.8,433.2 L2508.9,430.4 L2501.4,427.5 L2493.5,424.7 L2485.3,421.7 L2476.7,418.8 L2467.8,415.8 L2458.8,412.9 L2449.7,409.9 L2440.5,407.0 L2431.3,404.2 L2422.2,401.4 L2413.3,398.7 L2404.5,396.1 L2396.1,393.6 L2388.1,391.2 L2380.5,389.0 L2373.3,386.9 L2366.8,385.0 L2360.9,383.3 L2358.0,382.5 L2355.3,381.7 L2352.7,381.0 L2350.1,380.4 L2347.7,379.8 L2345.4,379.2 L2343.2,378.7 L2341.0,378.2 L2338.9,377.7 L2336.8,377.3 L2334.8,376.8 L2332.8,376.3 L2330.8,375.9 L2328.8,375.4 L2326.8,374.9 L2324.8,374.4 L2322.7,373.8 L2320.6,373.2 L2318.5,372.6 L2316.2,371.9 L2313.7,371.1 L2311.2,370.3 L2308.7,369.5 L2306.1,368.6 L2303.5,367.7 L2301.0,366.9 L2298.4,365.9 L2295.8,365.0 L2293.2,364.1 L2290.6,363.1 L2288.0,362.1 L2285.4,361.1 L2282.8,360.1 L2280.2,359.0 L2277.6,358.0 L2275.0,356.9 L2272.4,355.8 L2269.9,354.7 L2267.3,353.5 L2264.8,352.4 L2262.2,351.1 L2259.6,349.9 L2257.1,348.5 L2254.5,347.1 L2251.9,345.7 L2249.3,344.3 L2246.7,342.8 L2244.1,341.3 L2241.5,339.8 L2238.9,338.3 L2236.4,336.7 L2233.8,335.2 L2231.2,333.7 L2228.6,332.2 L2226.1,330.7 L2223.5,329.3 L2221.0,327.8 L2218.5,326.5 L2216.0,325.1 L2213.5,323.8 L2211.2,322.8 L2209.0,321.7 L2206.8,320.7 L2204.6,319.7 L2202.3,318.8 L2200.1,317.9 L2197.9,317.0 L2195.7,316.1 L2193.5,315.2 L2191.4,314.4 L2189.3,313.5 L2187.3,312.7 L2185.3,311.8 L2183.3,311.0 L2181.4,310.1 L2179.6,309.3 L2177.9,308.4 L2176.2,307.5 L2174.7,306.6 L2173.2,305.7 L2172.1,305.0 L2171.1,304.3 L2170.1,303.5 L2169.2,302.8 L2168.3,302.1 L2167.4,301.4 L2166.5,300.6 L2165.7,299.9 L2164.9,299.1 L2164.0,298.3 L2163.2,297.6 L2162.4,296.8 L2161.6,295.9 L2160.7,295.1 L2159.9,294.3 L2159.0,293.4 L2158.1,292.5 L2157.2,291.6 L2156.2,290.7 L2155.3,289.8 L2154.1,288.8 L2153.0,287.7 L2151.8,286.6 L2150.7,285.6 L2149.5,284.5 L2148.3,283.4 L2147.1,282.3 L2146.0,281.2 L2144.8,280.1 L2143.6,279.0 L2142.5,277.9 L2141.3,276.8 L2140.2,275.7 L2139.1,274.6 L2138.1,273.5 L2137.1,272.4 L2136.1,271.3 L2135.2,270.2 L2134.3,269.1 L2133.4,268.1 L2132.7,267.1 L2132.0,266.1 L2131.3,265.1 L2130.6,264.1 L2129.9,263.1 L2129.3,262.1 L2128.7,261.1 L2128.0,260.1 L2127.4,259.0 L2126.8,258.0 L2126.2,256.9 L2125.7,255.8 L2125.1,254.8 L2124.5,253.7 L2123.9,252.6 L2123.3,251.5 L2122.8,250.4 L2122.2,249.2 L2121.6,248.1 L2121.0,247.0 L2120.5,245.9 L2119.9,244.8 L2119.3,243.7 L2118.8,242.6 L2118.2,241.5 L2117.7,240.5 L2117.2,239.4 L2116.6,238.3 L2116.1,237.3 L2115.7,236.3 L2115.2,235.2 L2114.7,234.2 L2114.3,233.2 L2113.9,232.2 L2113.5,231.2 L2113.1,230.2 L2112.8,229.2 L2112.4,228.3 L2112.1,227.3 L2111.9,226.4 L2111.6,225.5 L2111.4,224.5 L2111.2,223.6 L2111.0,222.7 L2110.9,221.8 L2110.7,220.9 L2110.6,220.0 L2110.5,219.0 L2110.4,218.1 L2110.3,217.1 L2110.2,216.1 L2110.1,215.1 L2110.0,214.1 L2109.9,213.0 L2109.8,211.9 L2109.8,210.8 L2109.7,209.6 L2109.6,208.4 L2109.6,207.2 L2109.5,206.0 L2109.4,204.5 L2109.3,203.0 L2109.3,201.5 L2109.2,200.0 L2109.2,198.5 L2109.2,197.0 L2109.2,195.5 L2109.2,193.9 L2109.2,192.3 L2109.2,190.6 L2109.2,188.9 L2109.2,187.1 L2109.2,185.3 L2109.2,183.4 L2109.3,181.4 L2109.3,179.3 L2109.3,177.1 L2109.3,174.8 L2109.3,172.5 L2109.3,170.0 L2109.3,164.1 L2109.3,157.5 L2109.3,150.4 L2109.3,142.7 L2109.3,134.6 L2109.3,126.0 L2109.3,117.1 L2109.3,107.8 L2109.3,98.3 L2109.3,88.5 L2109.3,78.6 L2109.3,68.6 L2109.3,58.4 L2109.3,48.3 L2109.3,38.2 L2109.3,28.2 L2109.3,18.3 L2109.3,8.6 L2109.3,-0.8 L2109.3,-10.0 L2093.7,-10.0 L2093.7,-0.8 L2093.7,8.6 L2093.7,18.3 L2093.7,28.2 L2093.7,38.2 L2093.7,48.3 L2093.7,58.4 L2093.7,68.5 L2093.7,78.6 L2093.7,88.5 L2093.7,98.3 L2093.7,107.8 L2093.7,117.1 L2093.7,126.0 L2093.7,134.6 L2093.7,142.7 L2093.7,150.4 L2093.7,157.5 L2093.7,164.1 L2093.7,170.0 L2093.7,172.5 L2093.7,174.8 L2093.7,177.0 L2093.7,179.2 L2093.6,181.2 L2093.6,183.2 L2093.6,185.1 L2093.6,187.0 L2093.6,188.8 L2093.5,190.5 L2093.5,192.2 L2093.5,193.9 L2093.5,195.6 L2093.5,197.2 L2093.6,198.8 L2093.6,200.4 L2093.7,202.1 L2093.7,203.7 L2093.8,205.4 L2093.9,207.0 L2094.0,208.2 L2094.1,209.4 L2094.2,210.6 L2094.2,211.8 L2094.3,212.9 L2094.4,214.1 L2094.5,215.3 L2094.6,216.4 L2094.7,217.6 L2094.8,218.7 L2094.9,219.9 L2095.1,221.0 L2095.3,222.2 L2095.4,223.4 L2095.7,224.6 L2095.9,225.8 L2096.2,227.0 L2096.4,228.2 L2096.8,229.4 L2097.1,230.6 L2097.5,231.9 L2098.0,233.2 L2098.4,234.5 L2098.9,235.7 L2099.4,236.9 L2100.0,238.2 L2100.5,239.4 L2101.1,240.5 L2101.7,241.7 L2102.3,242.9 L2102.9,244.0 L2103.5,245.1 L2104.1,246.3 L2104.7,247.4 L2105.3,248.5 L2105.9,249.5 L2106.6,250.6 L2107.2,251.7 L2107.8,252.8 L2108.4,253.8 L2109.0,254.9 L2109.6,256.0 L2110.2,257.1 L2110.8,258.2 L2111.5,259.4 L2112.1,260.5 L2112.8,261.6 L2113.5,262.8 L2114.1,263.9 L2114.8,265.1 L2115.5,266.2 L2116.3,267.4 L2117.0,268.5 L2117.8,269.7 L2118.6,270.8 L2119.4,272.0 L2120.3,273.1 L2121.1,274.3 L2122.0,275.4 L2123.0,276.5 L2124.1,277.8 L2125.2,279.0 L2126.3,280.3 L2127.5,281.5 L2128.7,282.7 L2129.9,283.9 L2131.2,285.0 L2132.4,286.2 L2133.7,287.3 L2135.0,288.5 L2136.3,289.6 L2137.5,290.7 L2138.8,291.7 L2140.1,292.8 L2141.3,293.9 L2142.6,294.9 L2143.8,295.9 L2145.0,296.9 L2146.2,297.9 L2147.3,298.8 L2148.3,299.6 L2149.3,300.4 L2150.2,301.2 L2151.1,302.0 L2152.1,302.8 L2153.0,303.6 L2153.9,304.4 L2154.9,305.1 L2155.8,305.9 L2156.8,306.7 L2157.8,307.5 L2158.8,308.3 L2159.8,309.0 L2160.9,309.8 L2162.0,310.6 L2163.1,311.3 L2164.3,312.1 L2165.5,312.8 L2166.7,313.6 L2168.0,314.3 L2169.9,315.3 L2171.8,316.2 L2173.7,317.1 L2175.7,318.0 L2177.7,318.8 L2179.8,319.6 L2181.9,320.4 L2184.0,321.1 L2186.2,321.9 L2188.3,322.6 L2190.5,323.4 L2192.7,324.1 L2194.9,324.9 L2197.1,325.6 L2199.3,326.4 L2201.5,327.2 L2203.7,328.1 L2205.9,328.9 L2208.0,329.8 L2210.1,330.8 L2212.6,331.9 L2215.1,333.1 L2217.6,334.3 L2220.1,335.6 L2222.6,337.0 L2225.2,338.4 L2227.7,339.8 L2230.3,341.2 L2232.9,342.7 L2235.6,344.1 L2238.2,345.6 L2240.8,347.1 L2243.5,348.5 L2246.1,350.0 L2248.8,351.4 L2251.5,352.8 L2254.2,354.2 L2256.8,355.5 L2259.5,356.8 L2262.2,358.0 L2264.8,359.2 L2267.4,360.3 L2270.0,361.5 L2272.6,362.6 L2275.2,363.7 L2277.9,364.7 L2280.5,365.8 L2283.1,366.8 L2285.8,367.8 L2288.4,368.9 L2291.0,369.8 L2293.7,370.8 L2296.3,371.8 L2298.9,372.7 L2301.5,373.6 L2304.1,374.5 L2306.7,375.4 L2309.3,376.2 L2311.8,377.1 L2314.4,377.9 L2316.7,378.6 L2318.9,379.2 L2321.1,379.8 L2323.2,380.4 L2325.3,380.9 L2327.3,381.4 L2329.4,381.9 L2331.4,382.4 L2333.4,382.8 L2335.5,383.3 L2337.5,383.8 L2339.6,384.2 L2341.8,384.7 L2344.0,385.2 L2346.3,385.8 L2348.6,386.4 L2351.1,387.0 L2353.6,387.7 L2356.3,388.5 L2359.1,389.3 L2365.0,391.1 L2371.5,393.0 L2378.6,395.2 L2386.2,397.5 L2394.2,399.9 L2402.6,402.5 L2411.3,405.2 L2420.1,408.0 L2429.2,410.9 L2438.3,413.9 L2447.4,416.9 L2456.4,420.0 L2465.4,423.1 L2474.1,426.2 L2482.6,429.3 L2490.7,432.4 L2498.4,435.4 L2505.6,438.4 L2512.3,441.3 L2518.3,444.2 L2521.9,445.9 L2525.4,447.6 L2528.8,449.3 L2532.1,451.0 L2535.4,452.7 L2538.6,454.4 L2541.6,456.0 L2544.6,457.7 L2547.5,459.4 L2550.3,461.0 L2552.9,462.7 L2555.5,464.4 L2557.9,466.1 L2560.3,467.8 L2562.5,469.5 L2564.6,471.3 L2566.5,473.1 L2568.4,474.9 L2570.1,476.7 L2571.7,478.6 L2572.9,480.0 L2574.0,481.5 L2575.1,483.1 L2576.2,484.6 L2577.2,486.2 L2578.1,487.8 L2579.0,489.4 L2579.8,490.9 L2580.6,492.5 L2581.2,494.1 L2581.9,495.7 L2582.4,497.2 L2582.9,498.7 L2583.3,500.2 L2583.6,501.6 L2583.9,503.0 L2584.1,504.3 L2584.2,505.6 L2584.3,506.9 L2584.3,508.1 L2584.2,509.3 L2584.0,510.6 L2583.8,511.9 L2583.5,513.3 L2583.2,514.8 L2582.7,516.3 L2582.2,517.8 L2581.5,519.4 L2580.9,521.0 L2580.1,522.6 L2579.3,524.3 L2578.4,525.9 L2577.4,527.5 L2576.4,529.1 L2575.4,530.6 L2574.3,532.1 L2573.1,533.6 L2572.0,535.1 L2570.8,536.5 L2569.6,537.7 L2568.1,539.2 L2566.5,540.6 L2564.8,542.0 L2562.9,543.4 L2560.8,544.8 L2558.6,546.1 L2556.3,547.4 L2553.9,548.7 L2551.5,550.0 L2548.9,551.2 L2546.4,552.4 L2543.8,553.6 L2541.2,554.7 L2538.6,555.8 L2536.0,556.8 L2533.4,557.9 L2530.9,558.9 L2528.4,559.8 L2526.0,560.8 L2523.7,561.7 L2522.0,562.4 L2520.3,563.0 L2518.7,563.6 L2517.1,564.1 L2515.6,564.6 L2514.1,565.1 L2512.5,565.6 L2511.0,566.0 L2509.5,566.4 L2508.0,566.9 L2506.5,567.2 L2504.9,567.6 L2503.3,568.0 L2501.6,568.4 L2499.9,568.8 L2498.2,569.2 L2496.4,569.6 L2494.5,570.1 L2492.5,570.5 L2490.4,571.0 L2486.8,571.8 L2483.0,572.7 L2478.8,573.6 L2474.5,574.5 L2470.0,575.4 L2465.3,576.4 L2460.5,577.4 L2455.5,578.4 L2450.5,579.3 L2445.5,580.3 L2440.5,581.2 L2435.4,582.2 L2430.5,583.0 L2425.6,583.9 L2420.8,584.7 L2416.2,585.4 L2411.7,586.0 L2407.5,586.6 L2403.4,587.1 L2399.7,587.6 L2397.3,587.8 L2395.0,588.0 L2392.8,588.2 L2390.6,588.4 L2388.4,588.6 L2386.3,588.7 L2384.2,588.8 L2382.2,588.9 L2380.2,589.0 L2378.3,589.1 L2376.3,589.2 L2374.4,589.2 L2372.6,589.2 L2370.7,589.2 L2368.9,589.1 L2367.1,589.1 L2365.3,589.0 L2363.6,588.9 L2361.9,588.8 L2360.1,588.6 L2358.8,588.5 L2357.4,588.4 L2356.1,588.3 L2354.8,588.2 L2353.5,588.1 L2352.2,587.9 L2351.0,587.8 L2349.8,587.6 L2348.6,587.5 L2347.4,587.3 L2346.3,587.1 L2345.2,586.9 L2344.2,586.6 L2343.2,586.4 L2342.2,586.1 L2341.3,585.7 L2340.4,585.4 L2339.6,585.0 L2338.9,584.6 L2338.1,584.2 L2337.5,583.7 L2336.9,583.3 L2336.3,582.8 L2335.7,582.3 L2335.2,581.8 L2334.6,581.2 L2334.1,580.6 L2333.6,580.1 L2333.2,579.4 L2332.7,578.8 L2332.2,578.2 L2331.8,577.6 L2331.4,576.9 L2330.9,576.3 L2330.5,575.6 L2330.1,575.0 L2329.7,574.3 L2329.3,573.7 L2328.9,573.0 L2328.5,572.5 L2328.3,572.1 L2328.1,571.7 L2327.9,571.3 L2327.6,570.7 L2327.3,570.0 L2327.0,569.3 L2326.7,568.4 L2326.4,567.4 L2326.1,566.4 L2325.7,565.3 L2325.3,564.2 L2324.9,563.0 L2324.4,561.7 L2323.9,560.4 L2323.2,559.1 L2322.5,557.8 L2321.7,556.5 L2320.8,555.2 L2319.7,553.9 L2318.5,552.7 L2317.0,551.4 L2315.5,550.3 L2313.9,549.2 L2312.2,548.2 L2310.4,547.3 L2308.6,546.4 L2306.8,545.6 L2304.9,544.8 L2302.9,544.1 L2300.9,543.4 L2298.9,542.8 L2296.9,542.2 L2294.8,541.6 L2292.7,541.1 L2290.6,540.5 L2288.4,540.0 L2286.3,539.5 L2284.1,539.0 L2282.0,538.5 L2279.8,538.0 L2276.8,537.3 L2273.6,536.7 L2270.4,536.1 L2267.0,535.6 L2263.6,535.1 L2260.1,534.6 L2256.5,534.2 L2252.9,533.8 L2249.2,533.4 L2245.5,533.0 L2241.8,532.7 L2238.0,532.4 L2234.2,532.1 L2230.4,531.9 L2226.6,531.7 L2222.9,531.5 L2219.1,531.3 L2215.4,531.1 L2211.7,531.0 L2208.1,530.9 L2204.4,530.8 L2200.6,530.7 L2196.8,530.6 L2192.9,530.6 L2189.0,530.5 L2185.1,530.5 L2181.2,530.6 L2177.2,530.6 L2173.3,530.7 L2169.4,530.8 L2165.5,530.9 L2161.7,531.1 L2157.9,531.3 L2154.1,531.5 L2150.4,531.8 L2146.8,532.1 L2143.3,532.4 L2139.9,532.8 L2136.6,533.2 L2133.4,533.7 L2131.1,534.1 L2128.8,534.4 L2126.5,534.8 L2124.2,535.2 L2121.9,535.6 L2119.6,536.0 L2117.3,536.5 L2115.1,536.9 L2112.9,537.4 L2110.8,537.9 L2108.6,538.5 L2106.6,539.1 L2104.5,539.7 L2102.6,540.4 L2100.7,541.1 L2098.8,541.8 L2097.1,542.7 L2095.3,543.6 L2093.7,544.6 L2092.2,545.7 L2091.2,546.4 L2090.3,547.2 L2089.5,548.0 L2088.6,548.8 L2087.8,549.7 L2087.1,550.6 L2086.3,551.5 L2085.6,552.4 L2084.9,553.4 L2084.3,554.4 L2083.7,555.4 L2083.2,556.4 L2082.7,557.5 L2082.3,558.6 L2081.9,559.8 L2081.7,561.0 L2081.4,562.2 L2081.3,563.4 L2081.3,564.7 L2081.4,566.1 L2081.7,567.7 L2082.2,569.3 L2082.9,570.7 L2083.7,571.9 L2084.5,573.0 L2085.3,574.0 L2086.1,574.8 L2086.9,575.6 L2087.8,576.4 L2088.6,577.0 L2089.4,577.7 L2090.1,578.3 L2090.9,578.8 L2091.6,579.3 L2092.2,579.8 L2092.8,580.3 L2093.3,580.7 L2093.7,581.1 L2094.1,581.4 L2094.5,581.8 L2095.0,582.4 L2095.6,583.2 L2096.2,583.8 L2096.8,584.5 L2097.4,585.2 L2098.0,585.9 L2098.5,586.5 L2099.1,587.1 L2099.6,587.7 L2100.1,588.3 L2100.5,588.8 L2100.9,589.3 L2101.3,589.7 L2101.6,590.1 L2101.8,590.4 L2102.0,590.7 L2102.1,590.8 L2102.2,590.8 L2102.3,590.8 L2102.4,590.6 L2102.5,590.6 L2102.5,590.8 L2102.5,591.0 L2102.3,591.4 L2102.0,591.8 L2101.6,592.2 L2101.0,592.7 L2100.4,593.2 L2099.7,593.7 L2098.9,594.3 L2098.1,594.8 L2097.2,595.3 L2096.2,595.8 L2095.3,596.3 L2094.2,596.8 L2093.2,597.3 L2092.2,597.7 L2091.1,598.2 L2090.0,598.6 L2089.0,599.0 L2087.5,599.6 L2086.1,600.1 L2084.5,600.6 L2083.0,601.0 L2081.4,601.4 L2079.7,601.8 L2078.0,602.1 L2076.2,602.4 L2074.4,602.7 L2072.5,602.9 L2070.6,603.1 L2068.6,603.3 L2066.5,603.5 L2064.4,603.7 L2062.1,603.9 L2059.8,604.1 L2057.5,604.3 L2055.0,604.5 L2052.4,604.7 L2049.8,604.9 L2044.3,605.3 L2038.3,605.6 L2031.9,605.8 L2025.1,606.1 L2017.9,606.2 L2010.5,606.4 L2002.7,606.5 L1994.7,606.5 L1986.4,606.6 L1978.0,606.6 L1969.3,606.5 L1960.5,606.5 L1951.6,606.4 L1942.6,606.4 L1933.5,606.3 L1924.4,606.2 L1915.2,606.2 L1906.1,606.1 L1897.0,606.0 L1888.0,606.0 L1876.8,606.0 L1865.3,606.0 L1853.6,605.9 L1841.7,605.9 L1829.6,605.9 L1817.3,605.9 L1804.9,605.9 L1792.4,605.9 L1779.7,605.8 L1767.0,605.7 L1754.2,605.6 L1741.4,605.5 L1728.6,605.3 L1715.8,605.1 L1703.0,604.8 L1690.2,604.5 L1677.5,604.1 L1665.0,603.7 L1652.5,603.1 L1640.1,602.6 L1627.9,601.9 L1615.5,601.2 L1603.0,600.3 L1590.3,599.4 L1577.5,598.5 L1564.6,597.5 L1551.8,596.4 L1539.0,595.3 L1526.2,594.2 L1513.5,593.0 L1501.0,591.8 L1488.6,590.6 L1476.4,589.4 L1464.5,588.2 L1452.9,587.0 L1441.6,585.9 L1430.6,584.8 L1420.0,583.7 L1409.9,582.6 L1400.2,581.6 L1394.2,581.0 L1388.3,580.4 L1382.6,579.9 L1377.0,579.4 L1371.5,578.9 L1366.1,578.5 L1360.9,578.0 L1355.7,577.5 L1350.7,577.1 L1345.8,576.6 L1340.9,576.1 L1336.2,575.6 L1331.5,575.0 L1326.9,574.4 L1322.3,573.8 L1317.8,573.1 L1313.4,572.4 L1309.0,571.6 L1304.6,570.7 L1300.3,569.7 L1296.8,568.9 L1293.4,568.0 L1289.9,567.1 L1286.5,566.2 L1283.2,565.2 L1279.8,564.2 L1276.5,563.2 L1273.3,562.2 L1270.1,561.1 L1267.0,560.0 L1263.9,558.9 L1260.9,557.8 L1257.9,556.6 L1255.0,555.5 L1252.2,554.3 L1249.4,553.1 L1246.8,551.9 L1244.2,550.7 L1241.7,549.5 L1239.2,548.2 L1237.5,547.3 L1235.7,546.4 L1234.0,545.5 L1232.3,544.6 L1230.7,543.7 L1229.1,542.8 L1227.5,541.9 L1226.0,540.9 L1224.6,540.0 L1223.2,539.1 L1221.8,538.2 L1220.6,537.3 L1219.4,536.4 L1218.2,535.4 L1217.1,534.5 L1216.1,533.5 L1215.2,532.5 L1214.3,531.6 L1213.5,530.6 L1212.7,529.6 L1212.1,528.6 L1211.4,527.6 L1210.8,526.5 L1210.2,525.4 L1209.7,524.3 L1209.2,523.1 L1208.7,522.0 L1208.2,520.8 L1207.8,519.6 L1207.4,518.4 L1207.0,517.2 L1206.7,515.9 L1206.5,514.7 L1206.2,513.5 L1206.0,512.3 L1205.9,511.2 L1205.8,510.0 L1205.7,508.9 L1205.6,507.8 L1205.6,506.7 L1205.7,505.6 L1205.7,504.4 L1205.8,503.3 L1206.0,502.0 L1206.2,500.7 L1206.5,499.4 L1206.8,498.1 L1207.1,496.8 L1207.5,495.4 L1207.9,494.1 L1208.4,492.7 L1208.9,491.3 L1209.5,490.0 L1210.1,488.6 L1210.7,487.3 L1211.4,486.0 L1212.1,484.7 L1212.8,483.4 L1213.6,482.2 L1214.3,481.1 L1215.2,479.8 L1216.1,478.7 L1217.1,477.5 L1218.1,476.4 L1219.2,475.3 L1220.3,474.1 L1221.5,473.1 L1222.8,472.0 L1224.1,470.9 L1225.4,469.8 L1226.9,468.7 L1228.3,467.7 L1229.9,466.6 L1231.5,465.5 L1233.2,464.4 L1234.9,463.3 L1236.7,462.2 L1238.5,461.1 L1240.4,460.0 L1242.3,458.8 L1245.5,457.0 L1248.8,455.2 L1252.5,453.4 L1256.3,451.5 L1260.3,449.7 L1264.5,447.8 L1268.9,445.9 L1273.4,444.0 L1277.9,442.2 L1282.5,440.3 L1287.2,438.5 L1291.9,436.7 L1296.5,434.9 L1301.2,433.2 L1305.8,431.4 L1310.3,429.8 L1314.7,428.2 L1319.0,426.6 L1323.1,425.1 L1327.1,423.6 L1330.1,422.5 L1333.1,421.4 L1336.0,420.4 L1338.9,419.4 L1341.7,418.5 L1344.5,417.6 L1347.2,416.7 L1349.9,415.8 L1352.6,414.9 L1355.3,414.1 L1358.0,413.2 L1360.7,412.4 L1363.5,411.6 L1366.2,410.7 L1369.0,409.9 L1371.9,409.0 L1374.7,408.2 L1377.7,407.3 L1380.7,406.4 L1383.8,405.4 L1387.5,404.3 L1391.4,403.1 L1395.3,402.0 L1399.3,400.8 L1403.3,399.7 L1407.4,398.5 L1411.5,397.4 L1415.7,396.2 L1419.9,395.0 L1424.1,393.8 L1428.4,392.6 L1432.6,391.4 L1436.9,390.2 L1441.2,389.0 L1445.5,387.7 L1449.7,386.5 L1454.0,385.2 L1458.2,383.9 L1462.4,382.6 L1466.6,381.3 L1470.8,379.9 L1475.0,378.5 L1479.2,377.1 L1483.4,375.7 L1487.7,374.3 L1492.0,372.8 L1496.2,371.4 L1500.5,369.9 L1504.7,368.4 L1509.0,366.9 L1513.2,365.4 L1517.4,363.9 L1521.6,362.4 L1525.7,360.9 L1529.9,359.3 L1533.9,357.8 L1538.0,356.3 L1542.0,354.7 L1545.9,353.2 L1549.8,351.6 L1553.2,350.3 L1556.6,348.9 L1559.9,347.5 L1563.3,346.1 L1566.6,344.6 L1570.0,343.2 L1573.3,341.8 L1576.5,340.3 L1579.8,338.9 L1583.0,337.5 L1586.2,336.0 L1589.3,334.6 L1592.4,333.2 L1595.5,331.7 L1598.5,330.3 L1601.5,328.9 L1604.4,327.5 L1607.2,326.1 L1610.0,324.7 L1612.7,323.3 L1614.8,322.3 L1616.8,321.2 L1618.8,320.2 L1620.8,319.2 L1622.8,318.2 L1624.7,317.2 L1626.5,316.2 L1628.4,315.2 L1630.2,314.2 L1632.0,313.2 L1633.8,312.2 L1635.6,311.2 L1637.4,310.2 L1639.1,309.1 L1640.8,308.1 L1642.5,307.1 L1644.2,306.0 L1645.9,304.9 L1647.6,303.8 L1649.3,302.7 L1650.8,301.7 L1652.3,300.7 L1653.8,299.7 L1655.3,298.7 L1656.8,297.6 L1658.3,296.6 L1659.8,295.5 L1661.3,294.5 L1662.8,293.4 L1664.2,292.3 L1665.7,291.2 L1667.1,290.1 L1668.5,289.0 L1669.9,287.8 L1671.3,286.6 L1672.7,285.4 L1674.0,284.2 L1675.3,282.9 L1676.6,281.6 L1677.8,280.3 L1679.0,279.1 L1680.1,277.8 L1681.1,276.5 L1682.2,275.3 L1683.2,274.0 L1684.2,272.6 L1685.2,271.3 L1686.2,270.0 L1687.1,268.6 L1688.1,267.3 L1688.9,265.9 L1689.8,264.5 L1690.7,263.1 L1691.5,261.8 L1692.3,260.4 L1693.0,259.0 L1693.8,257.6 L1694.5,256.2 L1695.2,254.9 L1695.9,253.5 L1696.4,252.2 L1697.0,250.9 L1697.6,249.6 L1698.1,248.3 L1698.5,247.0 L1699.0,245.8 L1699.4,244.5 L1699.9,243.2 L1700.3,241.9 L1700.6,240.6 L1701.0,239.4 L1701.3,238.1 L1701.7,236.9 L1702.0,235.6 L1702.3,234.4 L1702.6,233.1 L1702.9,231.9 L1703.1,230.7 L1703.4,229.5 L1703.7,228.2 L1703.9,227.0 L1704.2,225.8 L1704.4,224.7 L1704.7,223.5 L1704.9,222.3 L1705.1,221.1 L1705.3,220.0 L1705.5,218.8 L1705.7,217.6 L1705.9,216.4 L1706.0,215.3 L1706.2,214.0 L1706.3,212.8 L1706.5,211.6 L1706.6,210.3 L1706.7,209.0 L1706.8,207.7 L1707.0,206.3 L1707.1,204.9 L1707.2,203.5 L1707.3,201.3 L1707.4,199.0 L1707.5,196.7 L1707.6,194.4 L1707.6,192.0 L1707.6,189.6 L1707.6,187.1 L1707.6,184.6 L1707.6,182.1 L1707.6,179.5 L1707.5,176.9 L1707.5,174.1 L1707.4,171.4 L1707.4,168.5 L1707.3,165.6 L1707.3,162.7 L1707.2,159.6 L1707.2,156.5 L1707.2,153.3 L1707.2,150.0 L1707.2,143.9 L1707.2,137.5 L1707.2,130.7 L1707.2,123.5 L1707.2,116.1 L1707.2,108.3 L1707.2,100.4 L1707.2,92.2 L1707.2,83.9 L1707.2,75.4 L1707.2,66.8 L1707.2,58.1 L1707.2,49.4 L1707.2,40.7 L1707.2,32.0 L1707.2,23.4 L1707.2,14.8 L1707.2,6.4 L1707.2,-1.9 L1707.2,-10.0Z" fill="#cdbfe2"/>
<path d="M1720.0,1580.0 L1720.0,1574.6 L1720.0,1569.2 L1720.0,1563.8 L1720.0,1558.4 L1720.0,1553.0 L1720.0,1547.7 L1720.0,1542.3 L1720.0,1536.9 L1720.0,1531.5 L1720.0,1526.1 L1720.0,1520.7 L1720.0,1515.3 L1720.0,1509.9 L1720.0,1504.5 L1720.0,1499.1 L1720.0,1493.7 L1720.0,1488.3 L1720.0,1482.9 L1720.0,1477.4 L1720.0,1472.0 L1720.0,1466.4 L1720.0,1460.7 L1720.0,1455.0 L1720.1,1449.2 L1720.1,1443.3 L1720.1,1437.5 L1720.2,1431.6 L1720.2,1425.7 L1720.2,1419.8 L1720.3,1414.0 L1720.3,1408.1 L1720.3,1402.4 L1720.3,1396.7 L1720.3,1391.1 L1720.3,1385.6 L1720.2,1380.2 L1720.1,1374.9 L1720.1,1369.8 L1719.9,1364.8 L1719.8,1360.0 L1719.7,1356.6 L1719.6,1353.2 L1719.5,1349.9 L1719.4,1346.6 L1719.3,1343.4 L1719.2,1340.3 L1719.0,1337.2 L1718.9,1334.1 L1718.8,1331.1 L1718.6,1328.1 L1718.5,1325.2 L1718.3,1322.3 L1718.1,1319.4 L1717.9,1316.6 L1717.6,1313.8 L1717.4,1311.0 L1717.1,1308.2 L1716.7,1305.5 L1716.4,1302.7 L1716.0,1300.0 L1715.7,1297.7 L1715.3,1295.4 L1714.9,1293.2 L1714.5,1290.9 L1714.2,1288.7 L1713.7,1286.5 L1713.3,1284.3 L1712.9,1282.1 L1712.4,1280.0 L1712.0,1277.8 L1711.5,1275.7 L1711.0,1273.7 L1710.4,1271.6 L1709.9,1269.6 L1709.3,1267.6 L1708.7,1265.6 L1708.1,1263.7 L1707.4,1261.7 L1706.7,1259.9 L1706.0,1258.0 L1705.4,1256.4 L1704.7,1254.9 L1704.0,1253.3 L1703.3,1251.9 L1702.5,1250.4 L1701.7,1248.9 L1701.0,1247.5 L1700.2,1246.1 L1699.3,1244.7 L1698.5,1243.3 L1697.7,1241.9 L1696.8,1240.6 L1696.0,1239.2 L1695.1,1237.9 L1694.3,1236.6 L1693.4,1235.3 L1692.5,1233.9 L1691.7,1232.6 L1690.8,1231.3 L1690.0,1230.0 L1689.2,1228.8 L1688.5,1227.6 L1687.7,1226.4 L1687.0,1225.3 L1686.3,1224.1 L1685.5,1223.0 L1684.8,1221.9 L1684.1,1220.8 L1683.3,1219.7 L1682.6,1218.6 L1681.8,1217.5 L1681.0,1216.4 L1680.2,1215.2 L1679.4,1214.1 L1678.6,1213.0 L1677.7,1211.8 L1676.8,1210.6 L1675.9,1209.5 L1674.9,1208.2 L1673.9,1207.0 L1672.5,1205.2 L1670.9,1203.4 L1669.4,1201.6 L1667.8,1199.7 L1666.1,1197.8 L1664.4,1195.9 L1662.6,1193.9 L1660.8,1191.9 L1659.0,1189.9 L1657.1,1187.9 L1655.2,1185.9 L1653.3,1183.9 L1651.3,1181.9 L1649.3,1179.9 L1647.3,1178.0 L1645.3,1176.0 L1643.2,1174.1 L1641.2,1172.2 L1639.1,1170.4 L1637.0,1168.6 L1634.8,1166.7 L1632.5,1164.9 L1630.2,1163.1 L1627.9,1161.3 L1625.6,1159.6 L1623.3,1157.9 L1620.9,1156.2 L1618.5,1154.5 L1616.1,1152.8 L1613.6,1151.2 L1611.1,1149.5 L1608.6,1147.9 L1606.0,1146.2 L1603.4,1144.6 L1600.8,1142.9 L1598.1,1141.2 L1595.4,1139.6 L1592.7,1137.9 L1589.8,1136.1 L1587.0,1134.4 L1583.4,1132.2 L1579.6,1130.0 L1575.8,1127.7 L1571.8,1125.4 L1567.8,1123.1 L1563.7,1120.8 L1559.6,1118.5 L1555.4,1116.1 L1551.1,1113.8 L1546.8,1111.5 L1542.5,1109.2 L1538.1,1106.8 L1533.8,1104.6 L1529.4,1102.3 L1525.0,1100.0 L1520.7,1097.8 L1516.3,1095.6 L1512.0,1093.5 L1507.7,1091.4 L1503.5,1089.3 L1499.4,1087.3 L1495.2,1085.3 L1491.0,1083.4 L1486.8,1081.5 L1482.6,1079.5 L1478.4,1077.6 L1474.2,1075.8 L1470.0,1073.9 L1465.8,1072.1 L1461.6,1070.3 L1457.4,1068.5 L1453.2,1066.7 L1449.0,1065.0 L1444.8,1063.2 L1440.6,1061.5 L1436.4,1059.9 L1432.3,1058.2 L1428.2,1056.6 L1424.1,1055.0 L1420.0,1053.4 L1416.3,1052.0 L1412.5,1050.7 L1408.8,1049.4 L1405.1,1048.2 L1401.4,1047.0 L1397.6,1045.9 L1393.9,1044.8 L1390.3,1043.7 L1386.6,1042.6 L1382.9,1041.5 L1379.3,1040.4 L1375.6,1039.3 L1372.0,1038.1 L1368.4,1036.9 L1364.8,1035.7 L1361.2,1034.4 L1357.6,1033.0 L1354.1,1031.6 L1350.5,1030.0 L1347.0,1028.4 L1343.4,1026.6 L1339.7,1024.8 L1336.1,1022.9 L1332.4,1020.9 L1328.8,1018.9 L1325.1,1016.8 L1321.5,1014.7 L1317.9,1012.5 L1314.3,1010.3 L1310.7,1008.1 L1307.2,1005.8 L1303.7,1003.5 L1300.2,1001.2 L1296.8,998.8 L1293.5,996.5 L1290.2,994.1 L1286.9,991.7 L1283.8,989.4 L1280.7,987.0 L1277.7,984.6 L1275.1,982.5 L1272.6,980.5 L1270.1,978.4 L1267.6,976.3 L1265.1,974.2 L1262.7,972.1 L1260.3,970.0 L1258.0,967.9 L1255.7,965.8 L1253.4,963.6 L1251.2,961.4 L1249.0,959.2 L1246.9,957.0 L1244.9,954.8 L1242.9,952.5 L1240.9,950.2 L1239.0,947.9 L1237.2,945.5 L1235.5,943.1 L1233.8,940.7 L1232.3,938.4 L1230.7,936.1 L1229.2,933.7 L1227.7,931.3 L1226.2,928.9 L1224.8,926.5 L1223.4,924.0 L1222.0,921.5 L1220.7,919.0 L1219.5,916.5 L1218.3,913.9 L1217.3,911.4 L1216.3,908.8 L1215.4,906.3 L1214.6,903.7 L1214.0,901.2 L1213.4,898.6 L1213.1,896.1 L1212.8,893.5 L1212.7,891.0 L1212.7,888.4 L1212.9,885.7 L1213.3,882.9 L1213.7,880.1 L1214.3,877.3 L1215.0,874.5 L1215.8,871.6 L1216.8,868.7 L1217.8,865.9 L1218.9,863.1 L1220.1,860.3 L1221.4,857.5 L1222.7,854.8 L1224.2,852.2 L1225.6,849.6 L1227.2,847.2 L1228.8,844.8 L1230.4,842.6 L1232.1,840.5 L1233.8,838.5 L1235.4,836.8 L1237.2,835.1 L1238.9,833.5 L1240.8,832.0 L1242.7,830.6 L1244.7,829.3 L1246.7,828.0 L1248.8,826.8 L1250.9,825.6 L1253.1,824.5 L1255.4,823.4 L1257.7,822.4 L1260.0,821.5 L1262.4,820.5 L1264.9,819.6 L1267.3,818.7 L1269.9,817.9 L1272.4,817.0 L1275.1,816.2 L1277.7,815.4 L1281.3,814.4 L1285.1,813.4 L1289.1,812.6 L1293.1,811.8 L1297.3,811.1 L1301.6,810.4 L1306.0,809.8 L1310.4,809.3 L1315.0,808.9 L1319.6,808.5 L1324.2,808.1 L1328.8,807.8 L1333.5,807.5 L1338.1,807.3 L1342.8,807.0 L1347.4,806.9 L1352.0,806.7 L1356.5,806.6 L1361.0,806.4 L1365.4,806.3 L1369.6,806.2 L1373.8,806.2 L1377.9,806.2 L1382.0,806.3 L1386.0,806.4 L1390.0,806.5 L1394.0,806.7 L1398.0,806.9 L1402.0,807.2 L1406.1,807.4 L1410.1,807.7 L1414.2,808.0 L1418.4,808.3 L1422.6,808.6 L1426.9,808.9 L1431.3,809.3 L1435.8,809.6 L1440.4,809.9 L1445.1,810.2 L1450.0,810.5 L1457.0,810.9 L1464.2,811.3 L1471.7,811.8 L1479.3,812.3 L1487.2,812.8 L1495.2,813.3 L1503.3,813.8 L1511.6,814.4 L1520.0,815.0 L1528.5,815.5 L1537.1,816.1 L1545.7,816.7 L1554.3,817.2 L1563.0,817.8 L1571.6,818.4 L1580.2,818.9 L1588.8,819.5 L1597.3,820.0 L1605.7,820.5 L1614.0,821.0 L1622.3,821.5 L1630.6,822.0 L1638.9,822.5 L1647.1,823.0 L1655.3,823.5 L1663.6,824.0 L1671.8,824.5 L1680.0,825.0 L1688.2,825.4 L1696.5,825.9 L1704.8,826.4 L1713.1,826.8 L1721.5,827.2 L1729.9,827.7 L1738.4,828.1 L1747.0,828.4 L1755.6,828.8 L1764.3,829.1 L1773.1,829.4 L1782.0,829.7 L1792.3,830.0 L1802.9,830.2 L1813.7,830.5 L1824.7,830.7 L1835.9,830.9 L1847.1,831.1 L1858.5,831.2 L1869.9,831.3 L1881.4,831.4 L1892.8,831.5 L1904.2,831.6 L1915.6,831.6 L1926.8,831.6 L1937.9,831.6 L1948.9,831.6 L1959.6,831.6 L1970.2,831.5 L1980.4,831.4 L1990.4,831.3 L2000.0,831.2 L2007.1,831.1 L2014.1,831.0 L2020.9,830.8 L2027.5,830.7 L2034.0,830.6 L2040.4,830.4 L2046.6,830.2 L2052.8,830.0 L2059.0,829.8 L2065.1,829.6 L2071.1,829.4 L2077.2,829.2 L2083.3,828.9 L2089.4,828.6 L2095.6,828.4 L2101.9,828.1 L2108.2,827.8 L2114.7,827.5 L2121.3,827.1 L2128.0,826.8 L2135.9,826.4 L2143.8,825.9 L2151.9,825.5 L2160.1,825.0 L2168.4,824.4 L2176.7,823.9 L2185.1,823.3 L2193.5,822.7 L2202.0,822.1 L2210.5,821.5 L2219.1,820.9 L2227.6,820.3 L2236.2,819.7 L2244.7,819.1 L2253.2,818.5 L2261.7,817.9 L2270.1,817.3 L2278.5,816.7 L2286.8,816.1 L2295.0,815.6 L2303.0,815.1 L2311.1,814.5 L2319.3,813.9 L2327.7,813.2 L2336.1,812.6 L2344.6,811.9 L2353.1,811.2 L2361.6,810.5 L2370.0,809.9 L2378.3,809.2 L2386.4,808.6 L2394.5,808.1 L2402.3,807.6 L2409.9,807.1 L2417.3,806.7 L2424.3,806.4 L2431.1,806.1 L2437.4,806.0 L2443.4,805.9 L2449.0,806.0 L2451.8,806.1 L2454.4,806.1 L2457.0,806.2 L2459.4,806.4 L2461.8,806.5 L2464.0,806.6 L2466.2,806.8 L2468.3,807.0 L2470.4,807.1 L2472.4,807.4 L2474.4,807.6 L2476.3,807.8 L2478.3,808.1 L2480.3,808.4 L2482.2,808.7 L2484.2,809.0 L2486.3,809.4 L2488.4,809.8 L2490.5,810.2 L2492.7,810.6 L2495.2,811.1 L2497.7,811.6 L2500.2,812.1 L2502.8,812.6 L2505.4,813.2 L2508.0,813.7 L2510.6,814.3 L2513.2,815.0 L2515.9,815.6 L2518.5,816.3 L2521.1,817.0 L2523.7,817.7 L2526.2,818.5 L2528.7,819.3 L2531.2,820.1 L2533.6,821.0 L2536.0,822.0 L2538.4,822.9 L2540.6,823.9 L2542.8,825.0 L2544.7,826.0 L2546.6,827.0 L2548.5,828.0 L2550.4,829.0 L2552.3,830.1 L2554.1,831.2 L2555.9,832.3 L2557.7,833.4 L2559.5,834.6 L2561.2,835.8 L2562.9,837.0 L2564.5,838.3 L2566.1,839.6 L2567.6,841.0 L2569.1,842.4 L2570.5,843.8 L2571.8,845.3 L2573.1,846.9 L2574.3,848.5 L2575.4,850.1 L2576.5,851.9 L2577.5,853.8 L2578.4,855.7 L2579.3,857.7 L2580.1,859.8 L2580.9,861.9 L2581.5,864.1 L2582.2,866.4 L2582.7,868.6 L2583.2,870.9 L2583.7,873.2 L2584.1,875.6 L2584.4,877.9 L2584.7,880.3 L2584.9,882.6 L2585.1,884.9 L2585.3,887.2 L2585.3,889.5 L2585.4,891.8 L2585.4,894.0 L2585.4,896.2 L2585.3,898.4 L2585.1,900.7 L2584.9,902.9 L2584.7,905.1 L2584.3,907.4 L2584.0,909.6 L2583.6,911.9 L2583.1,914.1 L2582.6,916.4 L2582.0,918.6 L2581.4,920.8 L2580.8,923.0 L2580.1,925.2 L2579.3,927.4 L2578.5,929.5 L2577.6,931.6 L2576.7,933.7 L2575.8,935.8 L2574.8,937.8 L2573.7,939.9 L2572.5,941.9 L2571.3,943.9 L2570.0,945.9 L2568.7,947.9 L2567.2,949.9 L2565.8,951.8 L2564.3,953.7 L2562.7,955.6 L2561.1,957.4 L2559.4,959.3 L2557.7,961.1 L2555.9,962.9 L2554.2,964.8 L2552.3,966.6 L2550.5,968.3 L2548.6,970.1 L2546.7,971.9 L2544.8,973.6 L2542.8,975.4 L2540.5,977.5 L2538.0,979.5 L2535.6,981.5 L2533.0,983.6 L2530.4,985.6 L2527.7,987.6 L2525.0,989.5 L2522.2,991.5 L2519.4,993.4 L2516.6,995.4 L2513.7,997.3 L2510.7,999.1 L2507.8,1001.0 L2504.8,1002.8 L2501.8,1004.6 L2498.7,1006.3 L2495.7,1008.1 L2492.6,1009.7 L2489.6,1011.4 L2486.5,1013.0 L2483.2,1014.6 L2480.0,1016.2 L2476.7,1017.7 L2473.4,1019.1 L2470.0,1020.5 L2466.6,1021.9 L2463.3,1023.2 L2459.8,1024.4 L2456.4,1025.7 L2452.9,1026.9 L2449.4,1028.2 L2445.8,1029.4 L2442.2,1030.6 L2438.6,1031.9 L2434.9,1033.1 L2431.2,1034.4 L2427.5,1035.7 L2423.7,1037.1 L2419.9,1038.5 L2416.0,1040.0 L2411.1,1041.9 L2406.1,1043.8 L2400.9,1045.8 L2395.6,1047.9 L2390.1,1050.0 L2384.7,1052.1 L2379.1,1054.2 L2373.5,1056.4 L2367.8,1058.6 L2362.2,1060.7 L2356.5,1062.9 L2350.9,1065.1 L2345.3,1067.3 L2339.7,1069.5 L2334.2,1071.7 L2328.8,1073.8 L2323.5,1075.9 L2318.3,1078.0 L2313.3,1080.0 L2308.4,1082.0 L2304.5,1083.6 L2300.6,1085.2 L2296.8,1086.7 L2293.1,1088.2 L2289.3,1089.7 L2285.6,1091.2 L2282.0,1092.7 L2278.4,1094.2 L2274.8,1095.7 L2271.3,1097.1 L2267.8,1098.6 L2264.3,1100.1 L2260.8,1101.6 L2257.4,1103.1 L2254.0,1104.6 L2250.7,1106.1 L2247.4,1107.6 L2244.0,1109.1 L2240.8,1110.7 L2237.5,1112.3 L2234.6,1113.7 L2231.7,1115.1 L2228.9,1116.5 L2226.1,1117.8 L2223.3,1119.1 L2220.5,1120.5 L2217.7,1121.8 L2215.0,1123.2 L2212.3,1124.5 L2209.6,1125.9 L2206.9,1127.3 L2204.3,1128.8 L2201.7,1130.3 L2199.1,1131.8 L2196.5,1133.4 L2194.0,1135.0 L2191.5,1136.8 L2189.0,1138.6 L2186.6,1140.4 L2184.2,1142.4 L2181.6,1144.6 L2179.1,1146.9 L2176.7,1149.3 L2174.3,1151.8 L2171.9,1154.3 L2169.5,1156.9 L2167.2,1159.5 L2164.9,1162.3 L2162.7,1165.0 L2160.5,1167.8 L2158.3,1170.7 L2156.1,1173.6 L2153.9,1176.5 L2151.8,1179.5 L2149.6,1182.4 L2147.5,1185.4 L2145.4,1188.4 L2143.2,1191.5 L2141.1,1194.5 L2139.0,1197.5 L2136.7,1200.8 L2134.4,1204.0 L2132.0,1207.4 L2129.7,1210.7 L2127.3,1214.1 L2124.9,1217.4 L2122.6,1220.9 L2120.2,1224.3 L2117.9,1227.8 L2115.7,1231.3 L2113.4,1234.9 L2111.2,1238.4 L2109.1,1242.1 L2107.0,1245.7 L2105.0,1249.4 L2103.1,1253.2 L2101.3,1256.9 L2099.6,1260.7 L2097.9,1264.6 L2096.4,1268.5 L2094.9,1272.7 L2093.5,1276.9 L2092.2,1281.1 L2091.0,1285.3 L2089.9,1289.6 L2088.9,1294.0 L2087.9,1298.3 L2087.0,1302.7 L2086.2,1307.2 L2085.5,1311.7 L2084.8,1316.3 L2084.1,1320.9 L2083.5,1325.5 L2082.9,1330.3 L2082.4,1335.0 L2081.9,1339.9 L2081.4,1344.8 L2080.9,1349.8 L2080.5,1354.9 L2080.0,1360.0 L2079.5,1366.8 L2079.0,1373.9 L2078.7,1381.2 L2078.5,1388.9 L2078.3,1396.7 L2078.3,1404.6 L2078.3,1412.7 L2078.3,1420.9 L2078.4,1429.1 L2078.5,1437.3 L2078.7,1445.5 L2078.9,1453.7 L2079.1,1461.7 L2079.3,1469.6 L2079.4,1477.3 L2079.6,1484.8 L2079.8,1492.1 L2079.9,1499.1 L2080.0,1505.7 L2080.0,1512.0 L2080.0,1516.0 L2080.0,1519.9 L2080.0,1523.7 L2080.0,1527.3 L2080.0,1530.9 L2080.0,1534.4 L2080.0,1537.8 L2080.0,1541.1 L2080.0,1544.4 L2080.0,1547.7 L2080.0,1550.9 L2080.0,1554.1 L2080.0,1557.3 L2080.0,1560.5 L2080.0,1563.6 L2080.0,1566.8 L2080.0,1570.1 L2080.0,1573.3 L2080.0,1576.6 L2080.0,1580.0Z" fill="#f2eff7"/>
<path d="M1735.5,1580.0 L1735.5,1574.6 L1735.5,1569.2 L1735.5,1563.8 L1735.5,1558.4 L1735.5,1553.1 L1735.5,1547.7 L1735.5,1542.3 L1735.5,1536.9 L1735.5,1531.5 L1735.5,1526.1 L1735.5,1520.7 L1735.5,1515.3 L1735.5,1509.9 L1735.5,1504.5 L1735.5,1499.1 L1735.5,1493.7 L1735.5,1488.3 L1735.5,1482.9 L1735.5,1477.4 L1735.5,1472.0 L1735.5,1466.4 L1735.5,1460.8 L1735.5,1455.0 L1735.6,1449.3 L1735.6,1443.4 L1735.6,1437.6 L1735.7,1431.7 L1735.7,1425.8 L1735.8,1419.9 L1735.8,1414.0 L1735.8,1408.2 L1735.8,1402.4 L1735.8,1396.7 L1735.8,1391.0 L1735.8,1385.5 L1735.7,1380.0 L1735.7,1374.7 L1735.6,1369.5 L1735.4,1364.4 L1735.3,1359.5 L1735.2,1356.1 L1735.1,1352.7 L1734.9,1349.4 L1734.8,1346.1 L1734.7,1342.9 L1734.6,1339.7 L1734.5,1336.6 L1734.3,1333.5 L1734.2,1330.4 L1734.0,1327.3 L1733.8,1324.3 L1733.6,1321.3 L1733.4,1318.3 L1733.2,1315.3 L1732.9,1312.4 L1732.6,1309.4 L1732.3,1306.5 L1731.9,1303.6 L1731.5,1300.7 L1731.1,1297.8 L1730.7,1295.4 L1730.3,1293.0 L1729.9,1290.7 L1729.5,1288.3 L1729.1,1286.0 L1728.6,1283.7 L1728.1,1281.4 L1727.7,1279.1 L1727.2,1276.8 L1726.6,1274.5 L1726.1,1272.2 L1725.5,1270.0 L1724.9,1267.8 L1724.2,1265.5 L1723.6,1263.3 L1722.9,1261.1 L1722.1,1259.0 L1721.4,1256.8 L1720.6,1254.7 L1719.7,1252.6 L1718.9,1250.7 L1718.1,1248.9 L1717.2,1247.1 L1716.4,1245.4 L1715.5,1243.7 L1714.6,1242.0 L1713.6,1240.4 L1712.7,1238.8 L1711.8,1237.3 L1710.8,1235.8 L1709.9,1234.4 L1709.0,1232.9 L1708.0,1231.5 L1707.1,1230.2 L1706.2,1228.8 L1705.3,1227.5 L1704.4,1226.2 L1703.5,1225.0 L1702.7,1223.7 L1701.8,1222.5 L1701.0,1221.3 L1700.2,1220.1 L1699.4,1219.0 L1698.6,1217.8 L1697.9,1216.7 L1697.1,1215.5 L1696.3,1214.4 L1695.4,1213.2 L1694.6,1212.1 L1693.8,1210.9 L1692.9,1209.7 L1692.0,1208.6 L1691.1,1207.4 L1690.2,1206.2 L1689.2,1205.0 L1688.3,1203.8 L1687.2,1202.6 L1686.2,1201.3 L1685.1,1200.0 L1683.9,1198.7 L1682.4,1197.0 L1680.7,1195.2 L1679.0,1193.4 L1677.3,1191.5 L1675.5,1189.6 L1673.6,1187.7 L1671.7,1185.7 L1669.7,1183.8 L1667.7,1181.8 L1665.7,1179.8 L1663.6,1177.8 L1661.5,1175.8 L1659.4,1173.9 L1657.2,1171.9 L1655.0,1170.0 L1652.8,1168.0 L1650.6,1166.1 L1648.3,1164.2 L1646.1,1162.4 L1643.8,1160.6 L1641.4,1158.7 L1638.9,1156.9 L1636.5,1155.1 L1634.0,1153.3 L1631.5,1151.6 L1629.0,1149.9 L1626.5,1148.2 L1624.0,1146.6 L1621.4,1145.0 L1618.8,1143.3 L1616.2,1141.7 L1613.6,1140.1 L1611.0,1138.5 L1608.3,1136.9 L1605.5,1135.3 L1602.8,1133.7 L1600.0,1132.1 L1597.2,1130.5 L1594.3,1128.8 L1591.4,1127.1 L1587.7,1125.0 L1583.8,1122.8 L1579.9,1120.6 L1575.9,1118.4 L1571.8,1116.1 L1567.6,1113.9 L1563.4,1111.6 L1559.1,1109.4 L1554.8,1107.1 L1550.4,1104.8 L1546.0,1102.5 L1541.6,1100.3 L1537.2,1098.0 L1532.8,1095.8 L1528.4,1093.6 L1523.9,1091.4 L1519.5,1089.3 L1515.2,1087.1 L1510.8,1085.0 L1506.5,1083.0 L1502.4,1081.0 L1498.2,1079.1 L1493.9,1077.1 L1489.7,1075.2 L1485.5,1073.3 L1481.2,1071.4 L1477.0,1069.5 L1472.8,1067.6 L1468.5,1065.8 L1464.3,1063.9 L1460.0,1062.1 L1455.8,1060.4 L1451.6,1058.6 L1447.4,1056.8 L1443.2,1055.1 L1439.0,1053.4 L1434.9,1051.7 L1430.7,1050.1 L1426.6,1048.5 L1422.5,1046.9 L1418.7,1045.4 L1414.8,1044.0 L1411.0,1042.7 L1407.2,1041.5 L1403.4,1040.3 L1399.7,1039.1 L1396.0,1038.0 L1392.3,1036.9 L1388.6,1035.8 L1384.9,1034.7 L1381.3,1033.6 L1377.7,1032.5 L1374.2,1031.3 L1370.7,1030.1 L1367.2,1028.9 L1363.7,1027.6 L1360.3,1026.2 L1356.9,1024.8 L1353.6,1023.2 L1350.2,1021.6 L1346.7,1019.8 L1343.2,1018.0 L1339.7,1016.0 L1336.2,1014.0 L1332.7,1012.0 L1329.2,1009.8 L1325.7,1007.7 L1322.2,1005.4 L1318.7,1003.2 L1315.3,1000.9 L1311.9,998.5 L1308.6,996.2 L1305.3,993.8 L1302.0,991.4 L1298.8,988.9 L1295.7,986.5 L1292.7,984.1 L1289.7,981.6 L1286.8,979.2 L1283.9,976.8 L1281.5,974.7 L1279.1,972.5 L1276.7,970.4 L1274.4,968.3 L1272.1,966.1 L1269.9,964.0 L1267.7,961.8 L1265.5,959.7 L1263.4,957.5 L1261.4,955.4 L1259.4,953.2 L1257.5,951.0 L1255.7,948.8 L1253.9,946.7 L1252.1,944.5 L1250.5,942.3 L1248.9,940.1 L1247.4,937.9 L1245.9,935.7 L1244.5,933.4 L1243.2,931.1 L1241.9,928.8 L1240.5,926.5 L1239.3,924.1 L1238.0,921.8 L1236.8,919.5 L1235.7,917.1 L1234.6,914.8 L1233.6,912.5 L1232.7,910.2 L1231.9,908.0 L1231.1,905.8 L1230.4,903.7 L1229.9,901.6 L1229.4,899.6 L1229.0,897.7 L1228.6,895.9 L1228.4,894.1 L1228.3,892.4 L1228.2,890.8 L1228.2,889.1 L1228.3,887.2 L1228.4,885.1 L1228.7,882.9 L1229.0,880.7 L1229.5,878.3 L1230.0,875.9 L1230.6,873.4 L1231.3,871.0 L1232.0,868.5 L1232.9,866.0 L1233.8,863.5 L1234.7,861.1 L1235.8,858.7 L1236.9,856.4 L1238.0,854.2 L1239.1,852.1 L1240.3,850.1 L1241.5,848.3 L1242.7,846.5 L1243.8,845.1 L1245.0,843.6 L1246.3,842.2 L1247.6,840.8 L1249.0,839.5 L1250.5,838.2 L1252.1,836.9 L1253.8,835.6 L1255.5,834.4 L1257.3,833.2 L1259.3,832.0 L1261.3,830.8 L1263.3,829.7 L1265.5,828.6 L1267.7,827.5 L1270.0,826.5 L1272.4,825.5 L1274.8,824.5 L1277.3,823.5 L1279.8,822.6 L1283.2,821.4 L1286.8,820.4 L1290.5,819.4 L1294.4,818.6 L1298.4,817.8 L1302.5,817.1 L1306.8,816.5 L1311.2,815.9 L1315.6,815.4 L1320.1,815.0 L1324.7,814.6 L1329.2,814.3 L1333.8,814.0 L1338.5,813.8 L1343.1,813.6 L1347.7,813.4 L1352.2,813.2 L1356.7,813.1 L1361.2,812.9 L1365.6,812.8 L1369.7,812.7 L1373.8,812.7 L1377.8,812.7 L1381.8,812.7 L1385.8,812.9 L1389.7,813.0 L1393.7,813.2 L1397.6,813.4 L1401.6,813.7 L1405.6,814.0 L1409.7,814.3 L1413.7,814.6 L1417.9,814.9 L1422.1,815.3 L1426.4,815.6 L1430.8,816.0 L1435.4,816.3 L1440.0,816.6 L1444.7,816.9 L1449.6,817.2 L1456.6,817.6 L1463.8,818.1 L1471.2,818.5 L1478.9,819.0 L1486.7,819.5 L1494.7,820.0 L1502.9,820.5 L1511.2,821.1 L1519.6,821.6 L1528.1,822.2 L1536.6,822.7 L1545.2,823.3 L1553.9,823.8 L1562.5,824.4 L1571.2,824.9 L1579.8,825.5 L1588.4,826.0 L1596.9,826.5 L1605.3,827.0 L1613.6,827.5 L1621.9,828.0 L1630.2,828.5 L1638.5,829.0 L1646.7,829.4 L1654.9,829.9 L1663.2,830.4 L1671.4,830.9 L1679.6,831.4 L1687.9,831.9 L1696.1,832.4 L1704.4,832.8 L1712.8,833.3 L1721.2,833.7 L1729.6,834.1 L1738.1,834.5 L1746.7,834.9 L1755.3,835.3 L1764.1,835.6 L1772.9,835.9 L1781.8,836.2 L1792.2,836.5 L1802.8,836.7 L1813.6,837.0 L1824.6,837.2 L1835.7,837.4 L1847.0,837.6 L1858.4,837.7 L1869.9,837.9 L1881.3,838.0 L1892.8,838.0 L1904.2,838.1 L1915.6,838.1 L1926.8,838.2 L1938.0,838.2 L1948.9,838.1 L1959.7,838.1 L1970.2,838.0 L1980.5,837.9 L1990.4,837.8 L2000.1,837.7 L2007.2,837.6 L2014.2,837.5 L2021.0,837.3 L2027.6,837.2 L2034.1,837.0 L2040.5,836.8 L2046.8,836.6 L2053.0,836.4 L2059.2,836.2 L2065.3,836.0 L2071.4,835.7 L2077.5,835.5 L2083.6,835.2 L2089.7,835.0 L2095.9,834.7 L2102.2,834.4 L2108.5,834.0 L2115.0,833.7 L2121.6,833.4 L2128.3,833.0 L2136.2,832.6 L2144.2,832.2 L2152.3,831.7 L2160.5,831.2 L2168.8,830.6 L2177.1,830.1 L2185.5,829.5 L2194.0,828.9 L2202.5,828.3 L2211.0,827.7 L2219.5,827.1 L2228.1,826.5 L2236.6,825.9 L2245.1,825.3 L2253.6,824.7 L2262.1,824.1 L2270.5,823.5 L2278.9,822.9 L2287.2,822.4 L2295.4,821.8 L2303.4,821.3 L2311.5,820.7 L2319.8,820.1 L2328.2,819.5 L2336.6,818.8 L2345.1,818.1 L2353.6,817.5 L2362.1,816.8 L2370.4,816.2 L2378.7,815.5 L2386.9,814.9 L2394.9,814.4 L2402.7,813.9 L2410.3,813.4 L2417.6,813.1 L2424.6,812.8 L2431.2,812.6 L2437.5,812.4 L2443.4,812.4 L2448.9,812.5 L2451.6,812.6 L2454.2,812.7 L2456.7,812.8 L2459.1,812.9 L2461.4,813.0 L2463.6,813.2 L2465.7,813.4 L2467.7,813.6 L2469.7,813.8 L2471.7,814.0 L2473.6,814.2 L2475.5,814.5 L2477.4,814.8 L2479.3,815.1 L2481.2,815.4 L2483.1,815.8 L2485.1,816.1 L2487.1,816.6 L2489.2,817.0 L2491.4,817.5 L2493.8,818.0 L2496.3,818.6 L2498.8,819.1 L2501.3,819.7 L2503.8,820.3 L2506.4,821.0 L2508.9,821.6 L2511.5,822.3 L2514.0,823.0 L2516.5,823.8 L2519.0,824.6 L2521.4,825.4 L2523.8,826.2 L2526.2,827.1 L2528.4,828.0 L2530.7,828.9 L2532.8,829.9 L2534.9,830.9 L2536.9,832.0 L2538.8,833.1 L2540.5,834.1 L2542.3,835.2 L2544.0,836.3 L2545.7,837.4 L2547.4,838.6 L2549.0,839.7 L2550.6,840.9 L2552.1,842.1 L2553.5,843.3 L2554.9,844.5 L2556.3,845.7 L2557.5,847.0 L2558.7,848.2 L2559.9,849.4 L2560.9,850.7 L2561.8,851.9 L2562.7,853.2 L2563.5,854.4 L2564.2,855.6 L2564.9,856.8 L2565.5,858.2 L2566.1,859.6 L2566.6,861.1 L2567.2,862.7 L2567.6,864.4 L2568.1,866.2 L2568.5,868.0 L2568.8,869.9 L2569.2,871.8 L2569.4,873.8 L2569.7,875.8 L2569.9,877.8 L2570.1,879.8 L2570.2,881.9 L2570.3,883.9 L2570.4,886.0 L2570.4,888.0 L2570.4,890.0 L2570.4,892.0 L2570.4,893.9 L2570.3,895.7 L2570.3,897.6 L2570.2,899.5 L2570.0,901.4 L2569.8,903.3 L2569.6,905.2 L2569.4,907.1 L2569.1,909.1 L2568.8,911.0 L2568.4,913.0 L2568.0,914.9 L2567.6,916.9 L2567.1,918.8 L2566.6,920.7 L2566.1,922.6 L2565.5,924.5 L2564.9,926.3 L2564.2,928.1 L2563.5,929.9 L2562.8,931.6 L2562.0,933.4 L2561.1,935.2 L2560.2,937.0 L2559.3,938.8 L2558.2,940.6 L2557.2,942.4 L2556.0,944.2 L2554.8,946.0 L2553.5,947.8 L2552.2,949.6 L2550.8,951.5 L2549.4,953.3 L2547.9,955.1 L2546.4,957.0 L2544.8,958.8 L2543.1,960.6 L2541.5,962.5 L2539.7,964.3 L2538.0,966.1 L2536.2,967.9 L2534.0,970.0 L2531.9,972.1 L2529.6,974.1 L2527.2,976.2 L2524.8,978.2 L2522.3,980.3 L2519.8,982.3 L2517.2,984.3 L2514.5,986.3 L2511.8,988.2 L2509.1,990.2 L2506.3,992.1 L2503.5,994.0 L2500.6,995.9 L2497.7,997.7 L2494.8,999.5 L2491.9,1001.3 L2489.0,1003.0 L2486.0,1004.7 L2483.1,1006.3 L2480.0,1008.0 L2476.9,1009.6 L2473.7,1011.1 L2470.6,1012.5 L2467.3,1013.9 L2464.1,1015.3 L2460.8,1016.6 L2457.4,1017.9 L2454.1,1019.2 L2450.6,1020.5 L2447.1,1021.8 L2443.6,1023.0 L2440.0,1024.3 L2436.4,1025.6 L2432.8,1026.9 L2429.0,1028.2 L2425.3,1029.6 L2421.4,1031.0 L2417.6,1032.4 L2413.7,1033.9 L2408.8,1035.8 L2403.7,1037.8 L2398.5,1039.8 L2393.2,1041.8 L2387.8,1043.9 L2382.3,1046.0 L2376.7,1048.1 L2371.1,1050.3 L2365.5,1052.4 L2359.8,1054.6 L2354.1,1056.7 L2348.4,1058.9 L2342.8,1061.0 L2337.2,1063.2 L2331.7,1065.3 L2326.3,1067.4 L2321.0,1069.5 L2315.7,1071.5 L2310.7,1073.6 L2305.8,1075.5 L2301.8,1077.1 L2298.0,1078.6 L2294.2,1080.2 L2290.4,1081.7 L2286.7,1083.2 L2283.0,1084.7 L2279.3,1086.1 L2275.7,1087.6 L2272.1,1089.1 L2268.5,1090.5 L2265.0,1092.0 L2261.5,1093.5 L2258.0,1094.9 L2254.5,1096.4 L2251.1,1097.9 L2247.7,1099.4 L2244.3,1100.9 L2240.9,1102.4 L2237.5,1104.0 L2234.2,1105.6 L2231.3,1106.9 L2228.4,1108.2 L2225.6,1109.6 L2222.8,1110.8 L2219.9,1112.1 L2217.1,1113.4 L2214.3,1114.7 L2211.4,1116.0 L2208.6,1117.4 L2205.8,1118.7 L2203.0,1120.1 L2200.2,1121.6 L2197.5,1123.0 L2194.7,1124.6 L2192.0,1126.2 L2189.2,1127.9 L2186.5,1129.7 L2183.8,1131.5 L2181.1,1133.5 L2178.4,1135.5 L2175.6,1137.8 L2172.8,1140.2 L2170.1,1142.6 L2167.4,1145.1 L2164.8,1147.7 L2162.2,1150.4 L2159.6,1153.0 L2157.1,1155.8 L2154.6,1158.6 L2152.2,1161.4 L2149.8,1164.2 L2147.4,1167.1 L2145.1,1170.0 L2142.7,1172.9 L2140.4,1175.9 L2138.1,1178.8 L2135.9,1181.8 L2133.6,1184.7 L2131.4,1187.7 L2129.2,1190.6 L2126.8,1193.7 L2124.4,1196.9 L2121.9,1200.2 L2119.4,1203.5 L2116.9,1206.8 L2114.4,1210.2 L2112.0,1213.6 L2109.5,1217.1 L2107.0,1220.6 L2104.6,1224.2 L2102.1,1227.9 L2099.8,1231.6 L2097.4,1235.3 L2095.2,1239.2 L2093.0,1243.1 L2090.9,1247.0 L2088.8,1251.1 L2086.9,1255.2 L2085.0,1259.3 L2083.3,1263.6 L2081.6,1268.1 L2080.1,1272.6 L2078.6,1277.1 L2077.3,1281.6 L2076.1,1286.2 L2074.9,1290.8 L2073.9,1295.4 L2072.9,1300.0 L2072.1,1304.7 L2071.3,1309.4 L2070.5,1314.2 L2069.8,1318.9 L2069.2,1323.7 L2068.6,1328.6 L2068.0,1333.5 L2067.5,1338.4 L2067.0,1343.4 L2066.5,1348.5 L2066.0,1353.6 L2065.5,1358.8 L2065.0,1365.8 L2064.5,1373.1 L2064.2,1380.7 L2064.0,1388.5 L2063.8,1396.4 L2063.7,1404.5 L2063.7,1412.7 L2063.8,1421.0 L2063.9,1429.3 L2064.0,1437.6 L2064.2,1445.8 L2064.3,1454.0 L2064.5,1462.1 L2064.7,1470.0 L2064.9,1477.7 L2065.1,1485.2 L2065.3,1492.4 L2065.4,1499.3 L2065.5,1505.8 L2065.5,1512.0 L2065.5,1516.0 L2065.5,1519.9 L2065.5,1523.7 L2065.5,1527.3 L2065.5,1530.9 L2065.5,1534.4 L2065.5,1537.8 L2065.5,1541.1 L2065.5,1544.4 L2065.5,1547.7 L2065.5,1550.9 L2065.5,1554.1 L2065.5,1557.3 L2065.5,1560.5 L2065.5,1563.6 L2065.5,1566.8 L2065.5,1570.1 L2065.5,1573.3 L2065.5,1576.6 L2065.5,1580.0 L2094.5,1580.0 L2094.5,1576.6 L2094.5,1573.3 L2094.5,1570.1 L2094.5,1566.8 L2094.5,1563.6 L2094.5,1560.5 L2094.5,1557.3 L2094.5,1554.1 L2094.5,1550.9 L2094.5,1547.7 L2094.5,1544.4 L2094.5,1541.1 L2094.5,1537.8 L2094.5,1534.4 L2094.5,1530.9 L2094.5,1527.3 L2094.5,1523.7 L2094.5,1519.9 L2094.5,1516.0 L2094.5,1512.0 L2094.5,1505.6 L2094.4,1498.9 L2094.3,1491.8 L2094.1,1484.5 L2094.0,1477.0 L2093.8,1469.2 L2093.6,1461.3 L2093.4,1453.3 L2093.2,1445.2 L2093.1,1437.1 L2092.9,1428.9 L2092.9,1420.7 L2092.8,1412.7 L2092.8,1404.7 L2092.9,1396.9 L2093.0,1389.2 L2093.3,1381.8 L2093.6,1374.6 L2094.0,1367.8 L2094.5,1361.2 L2094.9,1356.2 L2095.3,1351.1 L2095.8,1346.2 L2096.3,1341.4 L2096.8,1336.6 L2097.3,1331.9 L2097.8,1327.3 L2098.4,1322.8 L2099.0,1318.4 L2099.7,1314.0 L2100.4,1309.7 L2101.1,1305.4 L2101.9,1301.3 L2102.8,1297.1 L2103.7,1293.1 L2104.7,1289.1 L2105.8,1285.1 L2106.9,1281.2 L2108.2,1277.3 L2109.5,1273.4 L2110.8,1269.9 L2112.3,1266.3 L2113.8,1262.8 L2115.4,1259.3 L2117.1,1255.8 L2118.9,1252.3 L2120.8,1248.8 L2122.7,1245.3 L2124.7,1241.9 L2126.8,1238.4 L2128.9,1235.0 L2131.0,1231.5 L2133.2,1228.1 L2135.4,1224.7 L2137.6,1221.3 L2139.9,1217.9 L2142.1,1214.5 L2144.4,1211.1 L2146.6,1207.8 L2148.8,1204.4 L2150.8,1201.3 L2152.8,1198.2 L2154.8,1195.1 L2156.8,1192.1 L2158.8,1189.0 L2160.8,1186.0 L2162.8,1183.0 L2164.7,1180.1 L2166.7,1177.1 L2168.7,1174.3 L2170.7,1171.5 L2172.8,1168.7 L2174.8,1166.0 L2176.9,1163.4 L2179.0,1160.8 L2181.1,1158.4 L2183.3,1156.0 L2185.5,1153.6 L2187.7,1151.4 L2190.0,1149.3 L2192.1,1147.4 L2194.3,1145.6 L2196.5,1143.9 L2198.8,1142.2 L2201.1,1140.6 L2203.5,1139.0 L2205.9,1137.5 L2208.3,1136.0 L2210.8,1134.5 L2213.3,1133.1 L2215.9,1131.7 L2218.5,1130.3 L2221.2,1128.9 L2223.9,1127.5 L2226.6,1126.2 L2229.4,1124.8 L2232.2,1123.4 L2235.0,1122.0 L2237.9,1120.5 L2240.8,1119.0 L2244.0,1117.4 L2247.2,1115.8 L2250.4,1114.3 L2253.7,1112.7 L2257.0,1111.2 L2260.3,1109.7 L2263.7,1108.2 L2267.1,1106.7 L2270.5,1105.2 L2274.0,1103.8 L2277.5,1102.3 L2281.1,1100.8 L2284.7,1099.3 L2288.3,1097.8 L2292.0,1096.3 L2295.7,1094.8 L2299.5,1093.2 L2303.3,1091.7 L2307.1,1090.1 L2311.0,1088.5 L2315.9,1086.5 L2320.9,1084.4 L2326.1,1082.3 L2331.3,1080.2 L2336.7,1078.0 L2342.2,1075.8 L2347.7,1073.6 L2353.3,1071.4 L2358.9,1069.1 L2364.6,1066.9 L2370.2,1064.7 L2375.8,1062.5 L2381.4,1060.3 L2387.0,1058.1 L2392.5,1056.0 L2397.9,1053.9 L2403.2,1051.9 L2408.4,1049.9 L2413.4,1047.9 L2418.3,1046.1 L2422.2,1044.6 L2425.9,1043.2 L2429.7,1041.9 L2433.4,1040.6 L2437.1,1039.4 L2440.8,1038.1 L2444.4,1036.9 L2448.0,1035.7 L2451.6,1034.6 L2455.1,1033.4 L2458.7,1032.2 L2462.2,1030.9 L2465.7,1029.7 L2469.2,1028.4 L2472.7,1027.1 L2476.2,1025.7 L2479.6,1024.3 L2483.1,1022.8 L2486.5,1021.3 L2489.9,1019.7 L2493.1,1018.1 L2496.3,1016.5 L2499.5,1014.9 L2502.6,1013.2 L2505.8,1011.5 L2508.9,1009.7 L2512.1,1008.0 L2515.2,1006.2 L2518.2,1004.3 L2521.3,1002.5 L2524.3,1000.6 L2527.3,998.7 L2530.2,996.8 L2533.1,994.9 L2536.0,992.9 L2538.8,990.9 L2541.5,988.9 L2544.2,986.9 L2546.9,984.9 L2549.4,982.9 L2551.6,981.2 L2553.7,979.5 L2555.8,977.8 L2557.8,976.0 L2559.9,974.3 L2562.0,972.5 L2564.0,970.8 L2566.0,969.0 L2568.0,967.1 L2569.9,965.2 L2571.8,963.3 L2573.7,961.4 L2575.5,959.4 L2577.3,957.4 L2579.1,955.3 L2580.7,953.1 L2582.4,950.9 L2583.9,948.6 L2585.4,946.3 L2586.8,944.0 L2588.1,941.7 L2589.3,939.3 L2590.4,937.0 L2591.5,934.6 L2592.6,932.2 L2593.5,929.8 L2594.4,927.3 L2595.3,924.8 L2596.1,922.3 L2596.8,919.8 L2597.5,917.3 L2598.1,914.7 L2598.6,912.1 L2599.1,909.6 L2599.5,907.0 L2599.8,904.4 L2600.1,901.8 L2600.3,899.2 L2600.4,896.7 L2600.4,894.1 L2600.4,891.6 L2600.3,889.1 L2600.1,886.5 L2599.9,883.9 L2599.5,881.3 L2599.2,878.7 L2598.7,876.0 L2598.2,873.4 L2597.7,870.7 L2597.0,868.1 L2596.3,865.5 L2595.5,862.9 L2594.6,860.3 L2593.6,857.7 L2592.6,855.2 L2591.5,852.7 L2590.2,850.3 L2588.9,847.9 L2587.5,845.6 L2585.9,843.4 L2584.4,841.3 L2582.7,839.3 L2581.0,837.5 L2579.2,835.8 L2577.3,834.1 L2575.4,832.6 L2573.5,831.1 L2571.5,829.7 L2569.5,828.4 L2567.5,827.1 L2565.4,825.9 L2563.4,824.8 L2561.3,823.7 L2559.2,822.6 L2557.2,821.6 L2555.1,820.6 L2553.0,819.7 L2550.9,818.8 L2548.9,817.9 L2546.8,816.9 L2544.4,815.9 L2541.8,814.9 L2539.2,814.0 L2536.6,813.1 L2534.0,812.3 L2531.3,811.5 L2528.6,810.8 L2525.9,810.1 L2523.2,809.4 L2520.5,808.8 L2517.7,808.1 L2515.0,807.6 L2512.3,807.0 L2509.6,806.5 L2506.9,806.0 L2504.3,805.5 L2501.6,805.0 L2499.1,804.6 L2496.5,804.2 L2494.0,803.7 L2491.8,803.4 L2489.6,803.0 L2487.5,802.7 L2485.4,802.3 L2483.3,802.0 L2481.3,801.7 L2479.3,801.5 L2477.2,801.2 L2475.2,801.0 L2473.1,800.7 L2471.0,800.5 L2468.9,800.4 L2466.7,800.2 L2464.5,800.0 L2462.1,799.9 L2459.7,799.8 L2457.3,799.7 L2454.7,799.6 L2452.0,799.6 L2449.1,799.5 L2443.4,799.5 L2437.3,799.6 L2430.9,799.7 L2424.1,800.0 L2416.9,800.3 L2409.5,800.8 L2401.9,801.2 L2394.0,801.8 L2386.0,802.3 L2377.8,803.0 L2369.5,803.6 L2361.1,804.3 L2352.6,804.9 L2344.1,805.6 L2335.6,806.3 L2327.2,807.0 L2318.9,807.6 L2310.6,808.2 L2302.5,808.8 L2294.6,809.4 L2286.4,809.9 L2278.0,810.5 L2269.7,811.1 L2261.2,811.7 L2252.8,812.3 L2244.3,812.9 L2235.7,813.5 L2227.2,814.1 L2218.6,814.7 L2210.1,815.3 L2201.6,815.9 L2193.1,816.5 L2184.7,817.1 L2176.3,817.7 L2168.0,818.2 L2159.7,818.7 L2151.5,819.2 L2143.5,819.7 L2135.5,820.2 L2127.7,820.6 L2120.9,820.9 L2114.4,821.2 L2107.9,821.5 L2101.6,821.8 L2095.3,822.1 L2089.2,822.3 L2083.0,822.6 L2077.0,822.8 L2070.9,823.0 L2064.8,823.2 L2058.8,823.4 L2052.6,823.6 L2046.4,823.8 L2040.2,824.0 L2033.8,824.1 L2027.4,824.3 L2020.7,824.4 L2014.0,824.5 L2007.0,824.6 L1999.9,824.7 L1990.3,824.8 L1980.4,824.9 L1970.1,825.0 L1959.6,825.0 L1948.9,825.1 L1937.9,825.1 L1926.8,825.1 L1915.6,825.1 L1904.3,825.1 L1892.9,825.0 L1881.4,824.9 L1870.0,824.8 L1858.6,824.7 L1847.2,824.6 L1836.0,824.4 L1824.8,824.2 L1813.8,824.0 L1803.1,823.7 L1792.5,823.5 L1782.2,823.2 L1773.3,822.9 L1764.5,822.6 L1755.8,822.3 L1747.2,821.9 L1738.7,821.6 L1730.2,821.2 L1721.8,820.8 L1713.5,820.3 L1705.1,819.9 L1696.9,819.4 L1688.6,819.0 L1680.4,818.5 L1672.2,818.0 L1663.9,817.5 L1655.7,817.0 L1647.5,816.5 L1639.3,816.0 L1631.0,815.5 L1622.7,815.0 L1614.4,814.5 L1606.1,814.0 L1597.7,813.5 L1589.2,813.0 L1580.6,812.4 L1572.0,811.8 L1563.4,811.3 L1554.7,810.7 L1546.1,810.1 L1537.5,809.5 L1529.0,808.9 L1520.5,808.3 L1512.1,807.7 L1503.8,807.2 L1495.6,806.6 L1487.6,806.1 L1479.8,805.6 L1472.1,805.1 L1464.6,804.6 L1457.4,804.2 L1450.4,803.8 L1445.6,803.5 L1440.9,803.2 L1436.3,802.9 L1431.8,802.6 L1427.4,802.3 L1423.1,802.0 L1418.9,801.7 L1414.7,801.4 L1410.6,801.1 L1406.5,800.9 L1402.4,800.6 L1398.4,800.4 L1394.3,800.2 L1390.3,800.0 L1386.2,799.9 L1382.1,799.8 L1378.0,799.7 L1373.8,799.7 L1369.5,799.7 L1365.2,799.8 L1360.8,799.9 L1356.3,800.0 L1351.8,800.2 L1347.2,800.3 L1342.5,800.5 L1337.8,800.7 L1333.1,801.0 L1328.4,801.3 L1323.7,801.6 L1319.0,801.9 L1314.3,802.3 L1309.7,802.7 L1305.2,803.2 L1300.7,803.7 L1296.2,804.3 L1291.9,805.0 L1287.6,805.7 L1283.5,806.5 L1279.5,807.3 L1275.6,808.2 L1272.8,808.9 L1270.1,809.6 L1267.4,810.3 L1264.7,811.0 L1262.0,811.7 L1259.3,812.4 L1256.7,813.2 L1254.1,814.0 L1251.5,814.9 L1248.9,815.9 L1246.3,816.9 L1243.8,817.9 L1241.3,819.1 L1238.8,820.4 L1236.4,821.8 L1234.0,823.3 L1231.6,824.9 L1229.3,826.6 L1227.1,828.5 L1224.9,830.5 L1222.7,832.7 L1220.5,835.1 L1218.4,837.5 L1216.4,840.1 L1214.4,842.8 L1212.5,845.6 L1210.7,848.5 L1209.0,851.5 L1207.3,854.5 L1205.7,857.6 L1204.3,860.8 L1202.9,864.0 L1201.7,867.3 L1200.6,870.6 L1199.6,874.0 L1198.8,877.4 L1198.1,880.8 L1197.6,884.2 L1197.3,887.7 L1197.2,891.2 L1197.3,894.6 L1197.7,898.0 L1198.2,901.4 L1199.0,904.6 L1199.9,907.8 L1200.9,910.9 L1202.1,914.0 L1203.4,917.0 L1204.8,919.9 L1206.2,922.7 L1207.8,925.5 L1209.4,928.2 L1211.0,930.9 L1212.7,933.5 L1214.4,936.0 L1216.1,938.5 L1217.9,941.0 L1219.6,943.3 L1221.3,945.7 L1223.1,948.0 L1225.0,950.6 L1227.1,953.1 L1229.2,955.6 L1231.4,958.1 L1233.6,960.5 L1235.9,962.8 L1238.2,965.2 L1240.6,967.4 L1243.0,969.6 L1245.4,971.8 L1247.9,974.0 L1250.4,976.1 L1253.0,978.2 L1255.6,980.3 L1258.2,982.4 L1260.8,984.4 L1263.4,986.4 L1266.1,988.4 L1268.8,990.4 L1271.5,992.4 L1274.6,994.7 L1277.9,997.1 L1281.2,999.4 L1284.6,1001.7 L1288.1,1004.0 L1291.6,1006.3 L1295.2,1008.6 L1298.8,1010.9 L1302.4,1013.1 L1306.1,1015.3 L1309.8,1017.5 L1313.6,1019.6 L1317.3,1021.8 L1321.1,1023.8 L1324.9,1025.8 L1328.7,1027.8 L1332.5,1029.7 L1336.2,1031.6 L1340.0,1033.4 L1343.8,1035.2 L1347.5,1036.8 L1351.2,1038.4 L1354.9,1039.8 L1358.6,1041.2 L1362.3,1042.5 L1366.1,1043.7 L1369.8,1044.9 L1373.5,1046.1 L1377.2,1047.2 L1380.9,1048.3 L1384.6,1049.4 L1388.2,1050.5 L1391.9,1051.5 L1395.6,1052.6 L1399.3,1053.7 L1402.9,1054.9 L1406.6,1056.1 L1410.2,1057.3 L1413.8,1058.6 L1417.5,1059.9 L1421.5,1061.5 L1425.6,1063.1 L1429.7,1064.7 L1433.9,1066.3 L1438.0,1068.0 L1442.2,1069.6 L1446.3,1071.3 L1450.5,1073.1 L1454.7,1074.8 L1458.9,1076.6 L1463.1,1078.4 L1467.3,1080.2 L1471.4,1082.1 L1475.6,1083.9 L1479.8,1085.8 L1484.0,1087.7 L1488.1,1089.7 L1492.2,1091.6 L1496.4,1093.6 L1500.5,1095.6 L1504.6,1097.7 L1508.9,1099.8 L1513.2,1102.0 L1517.4,1104.2 L1521.7,1106.5 L1526.1,1108.8 L1530.4,1111.1 L1534.7,1113.4 L1539.0,1115.8 L1543.2,1118.2 L1547.4,1120.5 L1551.6,1122.9 L1555.8,1125.3 L1559.8,1127.7 L1563.8,1130.1 L1567.8,1132.4 L1571.6,1134.8 L1575.4,1137.1 L1579.0,1139.4 L1582.6,1141.7 L1585.4,1143.5 L1588.1,1145.2 L1590.8,1147.0 L1593.5,1148.7 L1596.1,1150.5 L1598.6,1152.2 L1601.1,1153.9 L1603.6,1155.6 L1606.0,1157.3 L1608.4,1159.0 L1610.7,1160.7 L1613.0,1162.4 L1615.3,1164.1 L1617.5,1165.8 L1619.7,1167.6 L1621.9,1169.3 L1624.0,1171.1 L1626.1,1172.9 L1628.2,1174.8 L1630.2,1176.6 L1632.1,1178.4 L1634.0,1180.2 L1635.9,1182.1 L1637.7,1184.0 L1639.6,1186.0 L1641.4,1187.9 L1643.2,1189.9 L1645.0,1191.9 L1646.8,1194.0 L1648.5,1196.0 L1650.2,1198.0 L1651.9,1200.0 L1653.6,1202.0 L1655.2,1204.0 L1656.7,1206.0 L1658.2,1207.9 L1659.7,1209.8 L1661.2,1211.7 L1662.5,1213.5 L1663.9,1215.3 L1664.7,1216.4 L1665.6,1217.6 L1666.4,1218.7 L1667.2,1219.8 L1667.9,1220.9 L1668.7,1222.0 L1669.4,1223.1 L1670.0,1224.1 L1670.7,1225.2 L1671.4,1226.2 L1672.0,1227.3 L1672.7,1228.3 L1673.4,1229.4 L1674.0,1230.5 L1674.7,1231.6 L1675.3,1232.7 L1676.0,1233.9 L1676.7,1235.1 L1677.4,1236.3 L1678.2,1237.5 L1679.0,1238.9 L1679.9,1240.3 L1680.7,1241.6 L1681.5,1243.0 L1682.3,1244.3 L1683.1,1245.6 L1683.9,1246.9 L1684.7,1248.2 L1685.4,1249.5 L1686.2,1250.8 L1686.9,1252.1 L1687.6,1253.3 L1688.3,1254.6 L1688.9,1255.8 L1689.6,1257.1 L1690.2,1258.3 L1690.7,1259.6 L1691.3,1260.9 L1691.8,1262.1 L1692.3,1263.4 L1692.9,1265.0 L1693.4,1266.7 L1694.0,1268.4 L1694.5,1270.1 L1695.0,1271.8 L1695.5,1273.6 L1696.0,1275.5 L1696.4,1277.3 L1696.9,1279.3 L1697.3,1281.2 L1697.7,1283.2 L1698.1,1285.2 L1698.5,1287.2 L1698.9,1289.3 L1699.2,1291.4 L1699.6,1293.5 L1699.9,1295.7 L1700.3,1297.8 L1700.6,1300.0 L1700.9,1302.2 L1701.3,1304.8 L1701.6,1307.3 L1701.9,1309.9 L1702.1,1312.5 L1702.4,1315.2 L1702.6,1317.8 L1702.8,1320.5 L1702.9,1323.3 L1703.1,1326.1 L1703.2,1328.9 L1703.4,1331.8 L1703.5,1334.8 L1703.6,1337.8 L1703.7,1340.8 L1703.8,1343.9 L1703.9,1347.1 L1704.0,1350.4 L1704.1,1353.7 L1704.2,1357.1 L1704.3,1360.5 L1704.4,1365.2 L1704.5,1370.1 L1704.6,1375.2 L1704.7,1380.4 L1704.7,1385.7 L1704.8,1391.2 L1704.8,1396.7 L1704.8,1402.4 L1704.8,1408.1 L1704.7,1413.9 L1704.7,1419.7 L1704.7,1425.6 L1704.7,1431.5 L1704.6,1437.4 L1704.6,1443.2 L1704.6,1449.1 L1704.5,1454.9 L1704.5,1460.7 L1704.5,1466.4 L1704.5,1472.0 L1704.5,1477.5 L1704.5,1482.9 L1704.5,1488.3 L1704.5,1493.7 L1704.5,1499.1 L1704.5,1504.5 L1704.5,1509.9 L1704.5,1515.3 L1704.5,1520.7 L1704.5,1526.1 L1704.5,1531.5 L1704.5,1536.9 L1704.5,1542.3 L1704.5,1547.7 L1704.5,1553.0 L1704.5,1558.4 L1704.5,1563.8 L1704.5,1569.2 L1704.5,1574.6 L1704.5,1580.0Z" fill="#9789b8"/><path d="M1727.4,1580.0 L1727.4,1574.6 L1727.4,1569.2 L1727.4,1563.8 L1727.4,1558.4 L1727.4,1553.0 L1727.4,1547.7 L1727.4,1542.3 L1727.4,1536.9 L1727.5,1531.5 L1727.5,1526.1 L1727.5,1520.7 L1727.5,1515.3 L1727.5,1509.9 L1727.5,1504.5 L1727.5,1499.1 L1727.5,1493.7 L1727.5,1488.3 L1727.4,1482.9 L1727.4,1477.4 L1727.4,1472.0 L1727.4,1466.4 L1727.5,1460.7 L1727.5,1455.0 L1727.5,1449.2 L1727.5,1443.4 L1727.6,1437.5 L1727.6,1431.6 L1727.7,1425.7 L1727.7,1419.8 L1727.7,1414.0 L1727.7,1408.2 L1727.8,1402.4 L1727.8,1396.7 L1727.7,1391.1 L1727.7,1385.6 L1727.7,1380.1 L1727.6,1374.8 L1727.5,1369.7 L1727.4,1364.6 L1727.2,1359.8 L1727.1,1356.3 L1727.0,1353.0 L1726.9,1349.6 L1726.8,1346.4 L1726.7,1343.2 L1726.6,1340.0 L1726.5,1336.9 L1726.3,1333.8 L1726.2,1330.8 L1726.0,1327.7 L1725.9,1324.8 L1725.7,1321.8 L1725.5,1318.9 L1725.2,1316.0 L1725.0,1313.1 L1724.7,1310.2 L1724.4,1307.4 L1724.0,1304.6 L1723.7,1301.7 L1723.2,1298.9 L1722.9,1296.6 L1722.5,1294.3 L1722.1,1292.0 L1721.7,1289.7 L1721.3,1287.4 L1720.9,1285.1 L1720.4,1282.9 L1720.0,1280.7 L1719.5,1278.4 L1719.0,1276.2 L1718.5,1274.1 L1717.9,1271.9 L1717.4,1269.8 L1716.8,1267.6 L1716.1,1265.5 L1715.5,1263.5 L1714.8,1261.4 L1714.1,1259.4 L1713.4,1257.4 L1712.6,1255.4 L1711.9,1253.7 L1711.1,1252.0 L1710.3,1250.3 L1709.5,1248.7 L1708.7,1247.2 L1707.9,1245.6 L1707.0,1244.1 L1706.2,1242.6 L1705.3,1241.1 L1704.4,1239.7 L1703.5,1238.3 L1702.6,1236.9 L1701.8,1235.5 L1700.9,1234.2 L1700.0,1232.9 L1699.1,1231.5 L1698.2,1230.2 L1697.4,1229.0 L1696.5,1227.7 L1695.7,1226.4 L1694.9,1225.2 L1694.1,1224.0 L1693.3,1222.8 L1692.6,1221.7 L1691.8,1220.5 L1691.1,1219.4 L1690.3,1218.3 L1689.5,1217.2 L1688.7,1216.0 L1688.0,1214.9 L1687.1,1213.8 L1686.3,1212.6 L1685.5,1211.5 L1684.6,1210.3 L1683.7,1209.1 L1682.8,1208.0 L1681.8,1206.8 L1680.8,1205.5 L1679.8,1204.3 L1678.7,1203.0 L1677.2,1201.3 L1675.6,1199.5 L1674.0,1197.7 L1672.3,1195.8 L1670.6,1193.9 L1668.8,1191.9 L1667.0,1190.0 L1665.1,1188.0 L1663.2,1186.0 L1661.2,1184.0 L1659.3,1182.0 L1657.2,1180.0 L1655.2,1178.0 L1653.1,1176.1 L1651.0,1174.1 L1648.9,1172.2 L1646.7,1170.3 L1644.6,1168.4 L1642.4,1166.6 L1640.3,1164.8 L1637.9,1162.9 L1635.6,1161.1 L1633.2,1159.3 L1630.9,1157.5 L1628.5,1155.8 L1626.0,1154.1 L1623.6,1152.4 L1621.1,1150.7 L1618.6,1149.1 L1616.1,1147.4 L1613.6,1145.8 L1611.0,1144.2 L1608.4,1142.5 L1605.8,1140.9 L1603.1,1139.3 L1600.4,1137.6 L1597.6,1136.0 L1594.8,1134.3 L1592.0,1132.6 L1589.1,1130.9 L1585.4,1128.7 L1581.6,1126.5 L1577.7,1124.3 L1573.8,1122.0 L1569.7,1119.8 L1565.6,1117.5 L1561.4,1115.2 L1557.2,1112.9 L1552.9,1110.6 L1548.5,1108.3 L1544.2,1106.0 L1539.8,1103.7 L1535.4,1101.4 L1531.0,1099.2 L1526.6,1096.9 L1522.2,1094.7 L1517.9,1092.6 L1513.5,1090.4 L1509.2,1088.3 L1505.0,1086.3 L1500.8,1084.3 L1496.6,1082.3 L1492.4,1080.4 L1488.2,1078.4 L1484.0,1076.5 L1479.8,1074.6 L1475.6,1072.8 L1471.3,1070.9 L1467.1,1069.1 L1462.9,1067.2 L1458.7,1065.4 L1454.4,1063.7 L1450.2,1061.9 L1446.0,1060.2 L1441.9,1058.5 L1437.7,1056.8 L1433.5,1055.1 L1429.4,1053.5 L1425.3,1051.9 L1421.2,1050.3 L1417.4,1048.8 L1413.6,1047.5 L1409.9,1046.2 L1406.1,1045.0 L1402.4,1043.8 L1398.6,1042.6 L1394.9,1041.5 L1391.2,1040.4 L1387.5,1039.3 L1383.9,1038.2 L1380.2,1037.1 L1376.6,1036.0 L1373.0,1034.8 L1369.5,1033.6 L1365.9,1032.4 L1362.4,1031.1 L1358.9,1029.7 L1355.4,1028.3 L1352.0,1026.8 L1348.5,1025.1 L1345.0,1023.4 L1341.4,1021.5 L1337.8,1019.6 L1334.2,1017.6 L1330.6,1015.6 L1327.1,1013.5 L1323.5,1011.3 L1319.9,1009.1 L1316.4,1006.9 L1312.9,1004.6 L1309.5,1002.3 L1306.0,1000.0 L1302.6,997.6 L1299.3,995.2 L1296.0,992.9 L1292.8,990.5 L1289.7,988.1 L1286.6,985.6 L1283.6,983.2 L1280.7,980.8 L1278.2,978.8 L1275.7,976.7 L1273.3,974.6 L1270.9,972.4 L1268.5,970.3 L1266.1,968.2 L1263.9,966.1 L1261.6,963.9 L1259.4,961.8 L1257.3,959.6 L1255.2,957.5 L1253.1,955.3 L1251.1,953.1 L1249.2,950.9 L1247.3,948.6 L1245.5,946.4 L1243.8,944.1 L1242.1,941.8 L1240.5,939.5 L1239.0,937.2 L1237.5,934.9 L1236.1,932.6 L1234.6,930.2 L1233.2,927.9 L1231.9,925.5 L1230.6,923.1 L1229.3,920.7 L1228.1,918.3 L1226.9,915.9 L1225.8,913.5 L1224.8,911.1 L1223.9,908.7 L1223.1,906.4 L1222.3,904.1 L1221.7,901.8 L1221.2,899.5 L1220.7,897.3 L1220.4,895.1 L1220.2,893.0 L1220.1,890.9 L1220.2,888.7 L1220.3,886.4 L1220.5,884.0 L1220.9,881.5 L1221.4,878.9 L1221.9,876.3 L1222.6,873.7 L1223.4,871.0 L1224.3,868.3 L1225.2,865.7 L1226.2,863.0 L1227.3,860.4 L1228.5,857.8 L1229.7,855.3 L1231.0,852.9 L1232.4,850.6 L1233.7,848.3 L1235.2,846.2 L1236.6,844.2 L1238.1,842.4 L1239.5,840.7 L1240.9,839.2 L1242.5,837.7 L1244.1,836.3 L1245.7,834.9 L1247.5,833.5 L1249.3,832.3 L1251.2,831.0 L1253.1,829.8 L1255.1,828.7 L1257.2,827.5 L1259.4,826.5 L1261.6,825.4 L1263.9,824.4 L1266.2,823.4 L1268.6,822.4 L1271.1,821.5 L1273.6,820.6 L1276.1,819.7 L1278.7,818.9 L1282.2,817.8 L1285.9,816.8 L1289.7,815.9 L1293.7,815.0 L1297.8,814.3 L1302.1,813.6 L1306.4,813.0 L1310.8,812.5 L1315.3,812.0 L1319.8,811.6 L1324.4,811.2 L1329.0,810.9 L1333.7,810.6 L1338.3,810.4 L1342.9,810.2 L1347.5,810.0 L1352.1,809.8 L1356.6,809.7 L1361.1,809.5 L1365.5,809.4 L1369.7,809.3 L1373.8,809.3 L1377.9,809.3 L1381.9,809.4 L1385.9,809.5 L1389.9,809.6 L1393.9,809.8 L1397.8,810.0 L1401.8,810.3 L1405.8,810.6 L1409.9,810.9 L1414.0,811.2 L1418.2,811.5 L1422.4,811.8 L1426.7,812.1 L1431.1,812.5 L1435.6,812.8 L1440.2,813.1 L1444.9,813.4 L1449.8,813.7 L1456.8,814.1 L1464.0,814.6 L1471.5,815.0 L1479.1,815.5 L1487.0,816.0 L1495.0,816.5 L1503.1,817.1 L1511.4,817.6 L1519.8,818.2 L1528.3,818.7 L1536.9,819.3 L1545.5,819.8 L1554.1,820.4 L1562.8,821.0 L1571.4,821.5 L1580.0,822.1 L1588.6,822.6 L1597.1,823.1 L1605.5,823.6 L1613.8,824.1 L1622.1,824.6 L1630.4,825.1 L1638.7,825.6 L1646.9,826.1 L1655.2,826.6 L1663.4,827.1 L1671.6,827.6 L1679.8,828.1 L1688.1,828.5 L1696.3,829.0 L1704.6,829.5 L1713.0,829.9 L1721.3,830.4 L1729.8,830.8 L1738.3,831.2 L1746.8,831.5 L1755.5,831.9 L1764.2,832.2 L1773.0,832.5 L1781.9,832.8 L1792.2,833.1 L1802.8,833.4 L1813.6,833.6 L1824.6,833.8 L1835.8,834.0 L1847.1,834.2 L1858.5,834.3 L1869.9,834.5 L1881.4,834.6 L1892.8,834.7 L1904.2,834.7 L1915.6,834.8 L1926.8,834.8 L1938.0,834.8 L1948.9,834.7 L1959.7,834.7 L1970.2,834.6 L1980.4,834.5 L1990.4,834.4 L2000.0,834.3 L2007.2,834.2 L2014.2,834.1 L2020.9,834.0 L2027.6,833.8 L2034.1,833.7 L2040.4,833.5 L2046.7,833.3 L2052.9,833.1 L2059.1,832.9 L2065.2,832.7 L2071.3,832.4 L2077.3,832.2 L2083.4,831.9 L2089.6,831.7 L2095.7,831.4 L2102.0,831.1 L2108.4,830.8 L2114.8,830.5 L2121.4,830.1 L2128.2,829.8 L2136.0,829.4 L2144.0,828.9 L2152.1,828.5 L2160.3,827.9 L2168.6,827.4 L2176.9,826.9 L2185.3,826.3 L2193.7,825.7 L2202.2,825.1 L2210.8,824.5 L2219.3,823.9 L2227.8,823.3 L2236.4,822.7 L2244.9,822.1 L2253.4,821.4 L2261.9,820.8 L2270.3,820.3 L2278.7,819.7 L2287.0,819.1 L2295.2,818.6 L2303.2,818.1 L2311.3,817.5 L2319.6,816.9 L2327.9,816.2 L2336.4,815.6 L2344.9,814.9 L2353.3,814.2 L2361.8,813.5 L2370.2,812.9 L2378.5,812.3 L2386.7,811.7 L2394.7,811.1 L2402.5,810.6 L2410.1,810.1 L2417.4,809.8 L2424.4,809.4 L2431.1,809.2 L2437.5,809.1 L2443.4,809.0 L2449.0,809.1 L2451.7,809.2 L2454.3,809.3 L2456.9,809.4 L2459.3,809.5 L2461.6,809.6 L2463.8,809.8 L2465.9,809.9 L2468.0,810.1 L2470.1,810.3 L2472.0,810.5 L2474.0,810.8 L2475.9,811.0 L2477.9,811.3 L2479.8,811.6 L2481.7,811.9 L2483.7,812.3 L2485.7,812.6 L2487.8,813.0 L2489.9,813.5 L2492.1,813.9 L2494.5,814.4 L2497.0,814.9 L2499.5,815.5 L2502.1,816.0 L2504.6,816.6 L2507.2,817.2 L2509.8,817.8 L2512.4,818.5 L2515.0,819.2 L2517.5,819.9 L2520.1,820.6 L2522.6,821.4 L2525.1,822.2 L2527.5,823.0 L2529.9,823.9 L2532.2,824.8 L2534.5,825.8 L2536.7,826.8 L2538.8,827.8 L2540.9,828.9 L2542.7,829.9 L2544.5,830.9 L2546.4,832.0 L2548.1,833.0 L2549.9,834.1 L2551.7,835.3 L2553.4,836.4 L2555.0,837.6 L2556.6,838.8 L2558.2,840.0 L2559.7,841.2 L2561.2,842.5 L2562.6,843.7 L2563.9,845.0 L2565.2,846.4 L2566.3,847.7 L2567.5,849.1 L2568.5,850.5 L2569.5,851.9 L2570.3,853.3 L2571.2,854.9 L2572.0,856.6 L2572.8,858.3 L2573.5,860.1 L2574.1,862.0 L2574.7,864.0 L2575.3,866.0 L2575.8,868.0 L2576.2,870.2 L2576.6,872.3 L2577.0,874.5 L2577.3,876.6 L2577.5,878.8 L2577.7,881.0 L2577.9,883.2 L2578.0,885.4 L2578.1,887.6 L2578.2,889.8 L2578.2,891.9 L2578.2,893.9 L2578.2,896.0 L2578.1,898.0 L2577.9,900.1 L2577.8,902.2 L2577.5,904.3 L2577.3,906.3 L2577.0,908.4 L2576.6,910.6 L2576.2,912.7 L2575.8,914.8 L2575.3,916.8 L2574.8,918.9 L2574.2,921.0 L2573.6,923.0 L2572.9,925.1 L2572.2,927.1 L2571.5,929.1 L2570.7,931.0 L2569.9,933.0 L2569.0,934.8 L2568.1,936.8 L2567.1,938.7 L2566.0,940.6 L2564.9,942.5 L2563.7,944.4 L2562.4,946.3 L2561.1,948.1 L2559.7,950.0 L2558.3,951.8 L2556.8,953.7 L2555.3,955.5 L2553.7,957.4 L2552.1,959.2 L2550.4,961.0 L2548.7,962.8 L2547.0,964.6 L2545.2,966.4 L2543.4,968.2 L2541.5,970.0 L2539.6,971.8 L2537.4,973.9 L2535.1,975.9 L2532.7,978.0 L2530.2,980.0 L2527.7,982.0 L2525.1,984.1 L2522.5,986.1 L2519.8,988.0 L2517.1,990.0 L2514.3,991.9 L2511.5,993.9 L2508.6,995.8 L2505.7,997.6 L2502.8,999.5 L2499.8,1001.3 L2496.9,1003.1 L2493.9,1004.8 L2490.9,1006.5 L2487.9,1008.2 L2484.9,1009.8 L2481.7,1011.4 L2478.5,1013.0 L2475.3,1014.5 L2472.0,1016.0 L2468.7,1017.4 L2465.4,1018.7 L2462.1,1020.0 L2458.7,1021.3 L2455.3,1022.6 L2451.8,1023.8 L2448.3,1025.1 L2444.8,1026.3 L2441.2,1027.6 L2437.6,1028.8 L2433.9,1030.1 L2430.2,1031.4 L2426.4,1032.8 L2422.6,1034.2 L2418.8,1035.6 L2414.9,1037.1 L2410.0,1039.0 L2404.9,1040.9 L2399.7,1042.9 L2394.4,1045.0 L2389.0,1047.1 L2383.5,1049.2 L2378.0,1051.3 L2372.4,1053.4 L2366.7,1055.6 L2361.0,1057.8 L2355.4,1060.0 L2349.7,1062.1 L2344.1,1064.3 L2338.5,1066.5 L2333.0,1068.6 L2327.6,1070.7 L2322.3,1072.8 L2317.1,1074.9 L2312.0,1076.9 L2307.1,1078.9 L2303.2,1080.5 L2299.4,1082.0 L2295.6,1083.6 L2291.8,1085.1 L2288.0,1086.6 L2284.4,1088.1 L2280.7,1089.6 L2277.1,1091.0 L2273.5,1092.5 L2269.9,1094.0 L2266.4,1095.4 L2262.9,1096.9 L2259.5,1098.4 L2256.0,1099.9 L2252.6,1101.4 L2249.2,1102.9 L2245.9,1104.4 L2242.5,1105.9 L2239.2,1107.5 L2235.9,1109.1 L2233.0,1110.5 L2230.2,1111.8 L2227.3,1113.1 L2224.5,1114.5 L2221.7,1115.8 L2218.8,1117.1 L2216.1,1118.4 L2213.3,1119.7 L2210.5,1121.1 L2207.8,1122.5 L2205.1,1123.9 L2202.3,1125.3 L2199.7,1126.8 L2197.0,1128.3 L2194.3,1129.9 L2191.7,1131.6 L2189.1,1133.4 L2186.5,1135.2 L2184.0,1137.1 L2181.4,1139.1 L2178.7,1141.3 L2176.1,1143.7 L2173.5,1146.1 L2171.0,1148.6 L2168.5,1151.1 L2166.0,1153.7 L2163.6,1156.4 L2161.2,1159.1 L2158.8,1161.9 L2156.5,1164.7 L2154.2,1167.6 L2151.9,1170.5 L2149.7,1173.4 L2147.4,1176.3 L2145.2,1179.3 L2143.0,1182.3 L2140.8,1185.2 L2138.6,1188.2 L2136.5,1191.2 L2134.3,1194.2 L2131.9,1197.4 L2129.6,1200.6 L2127.2,1203.9 L2124.7,1207.2 L2122.3,1210.6 L2119.9,1214.0 L2117.5,1217.4 L2115.1,1220.9 L2112.7,1224.4 L2110.3,1227.9 L2108.0,1231.5 L2105.7,1235.2 L2103.5,1238.8 L2101.4,1242.6 L2099.3,1246.4 L2097.2,1250.2 L2095.3,1254.1 L2093.5,1258.1 L2091.7,1262.1 L2090.1,1266.1 L2088.5,1270.5 L2087.0,1274.8 L2085.7,1279.2 L2084.4,1283.6 L2083.2,1288.0 L2082.2,1292.4 L2081.2,1296.9 L2080.3,1301.4 L2079.4,1306.0 L2078.6,1310.6 L2077.9,1315.3 L2077.2,1319.9 L2076.6,1324.7 L2076.0,1329.5 L2075.5,1334.3 L2075.0,1339.2 L2074.5,1344.1 L2074.0,1349.2 L2073.5,1354.2 L2073.1,1359.4 L2072.5,1366.3 L2072.1,1373.5 L2071.8,1381.0 L2071.5,1388.7 L2071.4,1396.6 L2071.3,1404.6 L2071.3,1412.7 L2071.3,1420.9 L2071.4,1429.2 L2071.5,1437.4 L2071.7,1445.7 L2071.9,1453.8 L2072.1,1461.9 L2072.3,1469.8 L2072.5,1477.5 L2072.7,1485.0 L2072.8,1492.2 L2072.9,1499.2 L2073.0,1505.8 L2073.0,1512.0 L2073.0,1516.0 L2073.0,1519.9 L2073.0,1523.7 L2073.0,1527.3 L2073.0,1530.9 L2073.0,1534.4 L2073.0,1537.8 L2073.0,1541.1 L2073.0,1544.4 L2073.0,1547.7 L2073.0,1550.9 L2073.0,1554.1 L2073.0,1557.3 L2073.0,1560.5 L2073.0,1563.6 L2073.0,1566.8 L2073.0,1570.1 L2073.0,1573.3 L2073.0,1576.6 L2073.0,1580.0 L2087.0,1580.0 L2087.0,1576.6 L2087.0,1573.3 L2087.0,1570.1 L2087.0,1566.8 L2087.0,1563.6 L2087.0,1560.5 L2087.0,1557.3 L2087.0,1554.1 L2087.0,1550.9 L2087.0,1547.7 L2087.0,1544.4 L2087.0,1541.1 L2087.0,1537.8 L2087.0,1534.4 L2087.0,1530.9 L2087.0,1527.3 L2087.0,1523.7 L2087.0,1519.9 L2087.0,1516.0 L2087.0,1512.0 L2086.9,1505.7 L2086.9,1499.0 L2086.7,1492.0 L2086.6,1484.7 L2086.4,1477.2 L2086.2,1469.4 L2086.0,1461.5 L2085.8,1453.5 L2085.7,1445.4 L2085.5,1437.2 L2085.4,1429.0 L2085.3,1420.8 L2085.2,1412.7 L2085.3,1404.7 L2085.3,1396.8 L2085.5,1389.0 L2085.7,1381.5 L2086.0,1374.2 L2086.4,1367.3 L2086.9,1360.6 L2087.4,1355.5 L2087.8,1350.4 L2088.3,1345.5 L2088.8,1340.6 L2089.3,1335.8 L2089.8,1331.1 L2090.4,1326.4 L2091.0,1321.8 L2091.6,1317.3 L2092.3,1312.8 L2093.0,1308.4 L2093.8,1304.0 L2094.6,1299.7 L2095.5,1295.5 L2096.5,1291.3 L2097.6,1287.1 L2098.7,1283.0 L2100.0,1278.9 L2101.3,1274.9 L2102.7,1270.9 L2104.1,1267.1 L2105.7,1263.4 L2107.3,1259.7 L2109.0,1256.1 L2110.8,1252.5 L2112.7,1248.9 L2114.7,1245.3 L2116.7,1241.7 L2118.8,1238.2 L2121.0,1234.7 L2123.2,1231.2 L2125.4,1227.8 L2127.7,1224.3 L2130.0,1220.9 L2132.3,1217.5 L2134.6,1214.2 L2136.9,1210.8 L2139.2,1207.5 L2141.4,1204.1 L2143.7,1200.8 L2145.8,1197.8 L2147.9,1194.7 L2149.9,1191.7 L2152.0,1188.6 L2154.0,1185.6 L2156.1,1182.6 L2158.2,1179.6 L2160.2,1176.7 L2162.3,1173.8 L2164.4,1170.9 L2166.5,1168.1 L2168.7,1165.4 L2170.9,1162.7 L2173.1,1160.0 L2175.3,1157.4 L2177.5,1154.9 L2179.8,1152.5 L2182.2,1150.1 L2184.6,1147.9 L2187.0,1145.7 L2189.3,1143.8 L2191.6,1141.9 L2193.9,1140.2 L2196.3,1138.5 L2198.7,1136.8 L2201.2,1135.3 L2203.7,1133.7 L2206.2,1132.2 L2208.8,1130.8 L2211.4,1129.4 L2214.0,1128.0 L2216.7,1126.6 L2219.4,1125.2 L2222.1,1123.9 L2224.9,1122.5 L2227.7,1121.2 L2230.5,1119.8 L2233.3,1118.4 L2236.2,1117.0 L2239.1,1115.5 L2242.3,1113.9 L2245.6,1112.3 L2248.8,1110.8 L2252.1,1109.3 L2255.5,1107.7 L2258.8,1106.2 L2262.2,1104.8 L2265.6,1103.3 L2269.1,1101.8 L2272.6,1100.3 L2276.1,1098.8 L2279.7,1097.4 L2283.3,1095.9 L2286.9,1094.4 L2290.6,1092.9 L2294.3,1091.4 L2298.1,1089.8 L2301.9,1088.3 L2305.8,1086.7 L2309.7,1085.1 L2314.5,1083.1 L2319.6,1081.1 L2324.7,1079.0 L2330.0,1076.9 L2335.4,1074.7 L2340.9,1072.5 L2346.4,1070.3 L2352.0,1068.1 L2357.7,1065.9 L2363.3,1063.7 L2369.0,1061.5 L2374.6,1059.3 L2380.2,1057.1 L2385.8,1055.0 L2391.3,1052.9 L2396.7,1050.8 L2402.0,1048.7 L2407.2,1046.7 L2412.2,1044.8 L2417.1,1042.9 L2421.0,1041.5 L2424.8,1040.1 L2428.5,1038.7 L2432.3,1037.4 L2436.0,1036.1 L2439.6,1034.9 L2443.3,1033.6 L2446.9,1032.4 L2450.4,1031.2 L2454.0,1030.0 L2457.5,1028.8 L2461.0,1027.6 L2464.4,1026.3 L2467.9,1025.0 L2471.3,1023.7 L2474.7,1022.3 L2478.1,1020.9 L2481.5,1019.4 L2484.8,1017.8 L2488.1,1016.2 L2491.3,1014.6 L2494.4,1013.0 L2497.5,1011.3 L2500.6,1009.6 L2503.7,1007.9 L2506.8,1006.1 L2509.8,1004.3 L2512.9,1002.5 L2515.9,1000.7 L2518.8,998.8 L2521.8,996.9 L2524.7,995.0 L2527.5,993.0 L2530.3,991.1 L2533.1,989.1 L2535.8,987.1 L2538.4,985.1 L2541.0,983.1 L2543.5,981.0 L2546.0,979.0 L2548.0,977.3 L2550.0,975.5 L2552.0,973.8 L2554.0,972.0 L2556.0,970.3 L2557.9,968.5 L2559.8,966.7 L2561.7,964.9 L2563.5,963.1 L2565.3,961.2 L2567.1,959.3 L2568.8,957.4 L2570.5,955.4 L2572.1,953.5 L2573.6,951.4 L2575.2,949.4 L2576.6,947.3 L2578.0,945.1 L2579.3,943.0 L2580.6,940.8 L2581.7,938.6 L2582.8,936.4 L2583.8,934.2 L2584.7,932.0 L2585.7,929.7 L2586.5,927.4 L2587.3,925.1 L2588.1,922.8 L2588.8,920.4 L2589.4,918.0 L2590.0,915.6 L2590.5,913.2 L2591.0,910.8 L2591.4,908.4 L2591.8,906.0 L2592.1,903.6 L2592.3,901.2 L2592.5,898.8 L2592.6,896.4 L2592.6,894.1 L2592.6,891.7 L2592.5,889.3 L2592.4,886.9 L2592.2,884.4 L2591.9,882.0 L2591.6,879.5 L2591.3,877.0 L2590.9,874.5 L2590.4,872.0 L2589.8,869.6 L2589.2,867.1 L2588.6,864.7 L2587.8,862.3 L2587.0,859.9 L2586.1,857.6 L2585.1,855.3 L2584.1,853.1 L2583.0,851.0 L2581.8,848.9 L2580.5,846.9 L2579.1,845.0 L2577.7,843.3 L2576.2,841.6 L2574.7,840.0 L2573.0,838.4 L2571.4,836.9 L2569.6,835.5 L2567.9,834.2 L2566.1,832.9 L2564.2,831.6 L2562.3,830.4 L2560.4,829.3 L2558.5,828.1 L2556.6,827.1 L2554.6,826.0 L2552.6,825.0 L2550.7,824.0 L2548.7,823.0 L2546.7,822.1 L2544.7,821.1 L2542.4,820.1 L2540.0,819.1 L2537.6,818.1 L2535.1,817.2 L2532.5,816.4 L2530.0,815.6 L2527.4,814.8 L2524.7,814.0 L2522.1,813.3 L2519.4,812.7 L2516.8,812.0 L2514.1,811.4 L2511.4,810.8 L2508.8,810.3 L2506.1,809.7 L2503.5,809.2 L2500.9,808.7 L2498.3,808.2 L2495.8,807.8 L2493.3,807.3 L2491.1,806.9 L2489.0,806.5 L2486.9,806.2 L2484.8,805.8 L2482.8,805.5 L2480.8,805.2 L2478.8,804.9 L2476.8,804.7 L2474.8,804.4 L2472.7,804.2 L2470.7,804.0 L2468.6,803.8 L2466.4,803.6 L2464.2,803.5 L2461.9,803.3 L2459.6,803.2 L2457.1,803.1 L2454.6,803.0 L2451.9,802.9 L2449.0,802.9 L2443.4,802.8 L2437.4,802.9 L2431.0,803.1 L2424.2,803.3 L2417.1,803.6 L2409.7,804.1 L2402.1,804.5 L2394.3,805.0 L2386.2,805.6 L2378.0,806.2 L2369.7,806.9 L2361.3,807.5 L2352.9,808.2 L2344.4,808.9 L2335.9,809.6 L2327.5,810.2 L2319.1,810.9 L2310.9,811.5 L2302.7,812.1 L2294.8,812.6 L2286.6,813.1 L2278.3,813.7 L2269.9,814.3 L2261.5,814.9 L2253.0,815.5 L2244.5,816.1 L2236.0,816.7 L2227.4,817.3 L2218.9,817.9 L2210.3,818.6 L2201.8,819.2 L2193.3,819.8 L2184.9,820.3 L2176.5,820.9 L2168.2,821.5 L2159.9,822.0 L2151.7,822.5 L2143.7,823.0 L2135.7,823.4 L2127.8,823.8 L2121.1,824.1 L2114.5,824.5 L2108.1,824.8 L2101.7,825.1 L2095.5,825.3 L2089.3,825.6 L2083.2,825.9 L2077.1,826.1 L2071.0,826.3 L2065.0,826.6 L2058.9,826.8 L2052.7,827.0 L2046.5,827.1 L2040.3,827.3 L2033.9,827.5 L2027.4,827.6 L2020.8,827.7 L2014.0,827.9 L2007.1,828.0 L2000.0,828.1 L1990.3,828.2 L1980.4,828.3 L1970.1,828.4 L1959.6,828.4 L1948.9,828.5 L1937.9,828.5 L1926.8,828.5 L1915.6,828.5 L1904.3,828.4 L1892.8,828.4 L1881.4,828.3 L1870.0,828.2 L1858.5,828.1 L1847.2,827.9 L1835.9,827.8 L1824.8,827.6 L1813.8,827.4 L1803.0,827.1 L1792.4,826.9 L1782.1,826.6 L1773.2,826.3 L1764.4,826.0 L1755.7,825.7 L1747.1,825.3 L1738.5,824.9 L1730.1,824.5 L1721.6,824.1 L1713.3,823.7 L1705.0,823.3 L1696.7,822.8 L1688.4,822.3 L1680.2,821.8 L1672.0,821.4 L1663.7,820.9 L1655.5,820.4 L1647.3,819.9 L1639.1,819.4 L1630.8,818.9 L1622.5,818.4 L1614.2,817.9 L1605.9,817.4 L1597.5,816.9 L1589.0,816.3 L1580.4,815.8 L1571.8,815.2 L1563.2,814.7 L1554.5,814.1 L1545.9,813.5 L1537.3,812.9 L1528.7,812.3 L1520.2,811.8 L1511.8,811.2 L1503.6,810.6 L1495.4,810.1 L1487.4,809.6 L1479.5,809.1 L1471.9,808.6 L1464.4,808.1 L1457.2,807.7 L1450.2,807.3 L1445.3,807.0 L1440.6,806.7 L1436.0,806.4 L1431.6,806.1 L1427.2,805.7 L1422.9,805.4 L1418.6,805.1 L1414.5,804.8 L1410.3,804.5 L1406.3,804.3 L1402.2,804.0 L1398.2,803.8 L1394.2,803.6 L1390.1,803.4 L1386.1,803.3 L1382.0,803.2 L1377.9,803.1 L1373.8,803.1 L1369.6,803.1 L1365.3,803.2 L1360.9,803.3 L1356.4,803.4 L1351.9,803.6 L1347.3,803.7 L1342.7,803.9 L1338.0,804.1 L1333.3,804.4 L1328.6,804.6 L1323.9,805.0 L1319.3,805.3 L1314.7,805.7 L1310.1,806.2 L1305.6,806.7 L1301.2,807.2 L1296.8,807.8 L1292.5,808.5 L1288.4,809.3 L1284.3,810.1 L1280.4,811.0 L1276.7,811.9 L1274.0,812.7 L1271.3,813.5 L1268.7,814.2 L1266.1,815.0 L1263.5,815.8 L1260.9,816.6 L1258.4,817.5 L1255.9,818.4 L1253.5,819.3 L1251.1,820.4 L1248.7,821.4 L1246.4,822.5 L1244.1,823.7 L1241.9,825.0 L1239.7,826.4 L1237.5,827.8 L1235.4,829.4 L1233.4,831.0 L1231.4,832.8 L1229.5,834.6 L1227.6,836.7 L1225.7,839.0 L1223.8,841.3 L1222.0,843.8 L1220.3,846.4 L1218.6,849.0 L1217.0,851.8 L1215.4,854.6 L1213.9,857.5 L1212.6,860.5 L1211.3,863.5 L1210.1,866.5 L1209.0,869.5 L1208.1,872.6 L1207.3,875.7 L1206.5,878.8 L1206.0,881.9 L1205.6,885.0 L1205.3,888.0 L1205.3,891.1 L1205.4,894.0 L1205.7,897.0 L1206.2,899.9 L1206.8,902.8 L1207.6,905.7 L1208.5,908.5 L1209.5,911.3 L1210.6,914.1 L1211.8,916.8 L1213.1,919.5 L1214.5,922.1 L1215.9,924.7 L1217.4,927.3 L1219.0,929.8 L1220.5,932.3 L1222.1,934.8 L1223.8,937.2 L1225.4,939.6 L1227.0,941.9 L1228.6,944.2 L1230.5,946.7 L1232.4,949.2 L1234.3,951.6 L1236.3,954.0 L1238.4,956.3 L1240.6,958.6 L1242.7,960.9 L1245.0,963.2 L1247.3,965.4 L1249.6,967.5 L1252.0,969.7 L1254.4,971.8 L1256.8,974.0 L1259.3,976.1 L1261.8,978.1 L1264.3,980.2 L1266.9,982.2 L1269.5,984.3 L1272.1,986.3 L1274.7,988.4 L1277.8,990.7 L1281.0,993.1 L1284.2,995.4 L1287.5,997.8 L1290.9,1000.1 L1294.3,1002.4 L1297.8,1004.7 L1301.3,1007.0 L1304.9,1009.3 L1308.5,1011.6 L1312.1,1013.8 L1315.8,1015.9 L1319.5,1018.1 L1323.2,1020.2 L1326.9,1022.2 L1330.6,1024.2 L1334.3,1026.2 L1338.1,1028.1 L1341.8,1029.9 L1345.5,1031.7 L1349.1,1033.3 L1352.7,1034.8 L1356.3,1036.3 L1360.0,1037.6 L1363.6,1039.0 L1367.3,1040.2 L1370.9,1041.4 L1374.6,1042.5 L1378.3,1043.7 L1381.9,1044.8 L1385.6,1045.8 L1389.3,1046.9 L1393.0,1048.0 L1396.7,1049.1 L1400.3,1050.2 L1404.0,1051.4 L1407.7,1052.6 L1411.4,1053.8 L1415.1,1055.2 L1418.8,1056.5 L1422.9,1058.1 L1427.0,1059.7 L1431.1,1061.3 L1435.2,1063.0 L1439.4,1064.6 L1443.5,1066.3 L1447.7,1068.0 L1451.9,1069.8 L1456.1,1071.5 L1460.3,1073.3 L1464.5,1075.1 L1468.7,1076.9 L1472.9,1078.8 L1477.1,1080.7 L1481.3,1082.5 L1485.5,1084.5 L1489.6,1086.4 L1493.8,1088.4 L1497.9,1090.3 L1502.0,1092.3 L1506.3,1094.4 L1510.5,1096.5 L1514.8,1098.7 L1519.1,1100.9 L1523.5,1103.1 L1527.8,1105.4 L1532.1,1107.7 L1536.5,1110.0 L1540.8,1112.3 L1545.1,1114.7 L1549.3,1117.0 L1553.6,1119.4 L1557.7,1121.7 L1561.9,1124.1 L1565.9,1126.4 L1569.9,1128.8 L1573.8,1131.1 L1577.6,1133.4 L1581.3,1135.6 L1584.9,1137.9 L1587.7,1139.7 L1590.5,1141.4 L1593.2,1143.1 L1595.9,1144.8 L1598.5,1146.5 L1601.1,1148.2 L1603.7,1149.9 L1606.2,1151.6 L1608.7,1153.2 L1611.1,1154.9 L1613.5,1156.6 L1615.9,1158.3 L1618.2,1160.0 L1620.5,1161.7 L1622.8,1163.4 L1625.0,1165.2 L1627.2,1167.0 L1629.4,1168.8 L1631.6,1170.6 L1633.7,1172.4 L1635.7,1174.2 L1637.7,1176.1 L1639.7,1177.9 L1641.7,1179.8 L1643.6,1181.8 L1645.5,1183.8 L1647.4,1185.8 L1649.3,1187.8 L1651.2,1189.8 L1653.0,1191.8 L1654.8,1193.8 L1656.6,1195.8 L1658.3,1197.8 L1660.0,1199.8 L1661.6,1201.7 L1663.2,1203.7 L1664.7,1205.6 L1666.2,1207.4 L1667.7,1209.2 L1669.1,1211.0 L1670.0,1212.2 L1670.9,1213.4 L1671.8,1214.5 L1672.7,1215.7 L1673.5,1216.8 L1674.3,1217.9 L1675.0,1219.0 L1675.8,1220.1 L1676.5,1221.2 L1677.2,1222.2 L1677.9,1223.3 L1678.6,1224.4 L1679.3,1225.5 L1680.0,1226.6 L1680.7,1227.7 L1681.4,1228.9 L1682.1,1230.0 L1682.8,1231.2 L1683.6,1232.4 L1684.3,1233.6 L1685.2,1235.0 L1686.0,1236.3 L1686.8,1237.6 L1687.7,1239.0 L1688.5,1240.3 L1689.4,1241.6 L1690.2,1242.9 L1691.0,1244.3 L1691.8,1245.6 L1692.6,1246.9 L1693.4,1248.2 L1694.1,1249.6 L1694.9,1250.9 L1695.6,1252.2 L1696.3,1253.6 L1697.0,1255.0 L1697.6,1256.4 L1698.2,1257.8 L1698.8,1259.2 L1699.4,1260.6 L1700.1,1262.3 L1700.7,1264.1 L1701.3,1265.9 L1701.9,1267.8 L1702.4,1269.6 L1703.0,1271.5 L1703.5,1273.5 L1704.0,1275.4 L1704.5,1277.4 L1704.9,1279.5 L1705.4,1281.5 L1705.8,1283.6 L1706.2,1285.7 L1706.6,1287.8 L1707.0,1290.0 L1707.4,1292.2 L1707.7,1294.4 L1708.1,1296.6 L1708.4,1298.8 L1708.8,1301.1 L1709.1,1303.7 L1709.5,1306.4 L1709.8,1309.0 L1710.0,1311.7 L1710.3,1314.4 L1710.5,1317.2 L1710.7,1320.0 L1710.9,1322.8 L1711.1,1325.6 L1711.2,1328.5 L1711.4,1331.5 L1711.5,1334.4 L1711.6,1337.5 L1711.7,1340.5 L1711.9,1343.7 L1712.0,1346.9 L1712.1,1350.1 L1712.2,1353.4 L1712.3,1356.8 L1712.4,1360.2 L1712.5,1365.0 L1712.6,1370.0 L1712.7,1375.0 L1712.8,1380.3 L1712.8,1385.7 L1712.8,1391.1 L1712.8,1396.7 L1712.9,1402.4 L1712.8,1408.1 L1712.8,1413.9 L1712.8,1419.8 L1712.8,1425.6 L1712.7,1431.5 L1712.7,1437.4 L1712.7,1443.3 L1712.6,1449.1 L1712.6,1454.9 L1712.6,1460.7 L1712.6,1466.4 L1712.6,1472.0 L1712.6,1477.4 L1712.6,1482.9 L1712.6,1488.3 L1712.6,1493.7 L1712.6,1499.1 L1712.6,1504.5 L1712.6,1509.9 L1712.6,1515.3 L1712.6,1520.7 L1712.6,1526.1 L1712.6,1531.5 L1712.6,1536.9 L1712.6,1542.3 L1712.6,1547.7 L1712.6,1553.0 L1712.6,1558.4 L1712.6,1563.8 L1712.6,1569.2 L1712.6,1574.6 L1712.6,1580.0Z" fill="#cdbfe2"/>
<defs><linearGradient id="fadeT" x1="0" y1="0" x2="0" y2="1"><stop offset="0" stop-color="#fff" stop-opacity="1"/><stop offset="1" stop-color="#fff" stop-opacity="0"/></linearGradient><linearGradient id="fadeB" x1="0" y1="0" x2="0" y2="1"><stop offset="0" stop-color="#fff" stop-opacity="0"/><stop offset="1" stop-color="#fff" stop-opacity="1"/></linearGradient></defs>
<rect x="1670" y="12" width="460" height="45" fill="url(#fadeT)"/>
<rect x="1690" y="1470" width="430" height="60" fill="url(#fadeB)"/>
</g>
</g>
<defs><linearGradient id="stemfade" x1="0" y1="0" x2="0" y2="1"><stop offset="0" stop-color="#9789b8" stop-opacity="0.35"/><stop offset="1" stop-color="#9789b8" stop-opacity="0"/></linearGradient></defs>
<rect x="1705.5" y="1530" width="30" height="20" fill="url(#stemfade)"/>
<rect x="2066" y="1530" width="28" height="20" fill="url(#stemfade)"/>
<rect x="1735.5" y="1530" width="330" height="20" fill="url(#stemfade)" opacity="0.25"/>
<rect x="1166" y="11.6" width="1451.7" height="1516" fill="none" stroke="#111" stroke-width="4.6"/>
<clipPath id="bpclip"><rect x="36" y="1473" width="1089" height="1106"/></clipPath>
<g clip-path="url(#bpclip)">
<path d="M49.0,1996.0 L52.5,1995.5 L56.1,1995.0 L59.6,1994.5 L63.2,1994.1 L66.7,1993.7 L70.2,1993.3 L73.8,1992.9 L77.3,1992.5 L80.9,1992.1 L84.4,1991.7 L87.9,1991.2 L91.5,1990.8 L95.0,1990.3 L98.6,1989.7 L102.1,1989.1 L105.7,1988.4 L109.3,1987.7 L112.8,1986.9 L116.4,1986.0 L120.0,1985.0 L124.0,1983.8 L128.0,1982.5 L132.0,1981.1 L136.1,1979.6 L140.2,1978.0 L144.4,1976.4 L148.5,1974.6 L152.6,1972.9 L156.8,1971.0 L160.9,1969.2 L165.0,1967.3 L169.1,1965.4 L173.1,1963.5 L177.1,1961.6 L181.1,1959.7 L185.0,1957.9 L188.9,1956.1 L192.6,1954.3 L196.4,1952.6 L200.0,1951.0 L202.9,1949.6 L205.8,1948.2 L208.7,1946.8 L211.4,1945.3 L214.2,1943.8 L216.9,1942.3 L219.6,1940.7 L222.2,1939.2 L224.9,1937.7 L227.5,1936.3 L230.1,1934.9 L232.7,1933.5 L235.3,1932.2 L237.9,1931.0 L240.5,1929.9 L243.1,1928.9 L245.8,1928.0 L248.5,1927.2 L251.2,1926.5 L254.0,1926.0 L256.7,1925.6 L259.5,1925.3 L262.2,1925.1 L265.0,1924.9 L267.8,1924.9 L270.6,1924.9 L273.5,1925.0 L276.3,1925.1 L279.1,1925.4 L282.0,1925.7 L284.8,1926.1 L287.7,1926.5 L290.5,1927.1 L293.3,1927.7 L296.1,1928.4 L298.9,1929.2 L301.7,1930.0 L304.5,1930.9 L307.3,1931.9 L310.0,1933.0 L313.2,1934.4 L316.3,1936.1 L319.4,1938.0 L322.4,1940.0 L325.5,1942.3 L328.5,1944.7 L331.5,1947.2 L334.4,1949.8 L337.4,1952.4 L340.4,1955.2 L343.4,1957.9 L346.4,1960.7 L349.5,1963.4 L352.5,1966.1 L355.6,1968.7 L358.8,1971.2 L362.0,1973.7 L365.3,1975.9 L368.6,1978.1 L372.0,1980.0 L375.6,1981.9 L379.2,1983.7 L382.9,1985.4 L386.7,1987.1 L390.5,1988.7 L394.4,1990.3 L398.3,1991.8 L402.3,1993.2 L406.3,1994.6 L410.3,1996.0 L414.3,1997.3 L418.3,1998.5 L422.3,1999.7 L426.3,2000.9 L430.3,2002.0 L434.3,2003.1 L438.3,2004.1 L442.2,2005.1 L446.1,2006.1 L450.0,2007.0 L453.5,2007.8 L457.1,2008.5 L460.6,2009.2 L464.1,2009.8 L467.5,2010.4 L471.0,2011.0 L474.5,2011.5 L477.9,2011.9 L481.4,2012.3 L484.8,2012.7 L488.3,2013.1 L491.7,2013.4 L495.2,2013.8 L498.7,2014.1 L502.2,2014.4 L505.7,2014.7 L509.3,2015.0 L512.8,2015.3 L516.4,2015.7 L520.0,2016.0 L523.9,2016.4 L527.8,2016.8 L531.7,2017.1 L535.6,2017.5 L539.6,2017.9 L543.6,2018.3 L547.6,2018.7 L551.6,2019.0 L555.6,2019.4 L559.7,2019.7 L563.7,2020.0 L567.7,2020.2 L571.8,2020.5 L575.8,2020.7 L579.9,2020.8 L583.9,2021.0 L588.0,2021.1 L592.0,2021.1 L596.0,2021.1 L600.0,2021.0 L604.0,2020.9 L608.0,2020.7 L612.0,2020.5 L616.0,2020.2 L620.0,2019.9 L624.0,2019.6 L628.0,2019.2 L632.0,2018.8 L636.1,2018.4 L640.1,2017.9 L644.1,2017.4 L648.1,2016.9 L652.1,2016.4 L656.1,2015.8 L660.1,2015.2 L664.0,2014.6 L668.0,2014.0 L672.0,2013.3 L676.0,2012.7 L680.0,2012.0 L684.0,2011.3 L688.1,2010.7 L692.1,2010.0 L696.2,2009.4 L700.3,2008.7 L704.4,2008.0 L708.4,2007.3 L712.5,2006.6 L716.6,2005.9 L720.7,2005.1 L724.7,2004.2 L728.7,2003.4 L732.8,2002.4 L736.7,2001.5 L740.7,2000.4 L744.6,1999.3 L748.5,1998.1 L752.4,1996.8 L756.2,1995.5 L760.0,1994.0 L763.7,1992.4 L767.4,1990.7 L770.9,1988.8 L774.5,1986.9 L778.0,1984.8 L781.4,1982.6 L784.9,1980.4 L788.3,1978.1 L791.7,1975.8 L795.1,1973.4 L798.4,1971.1 L801.8,1968.7 L805.2,1966.4 L808.7,1964.1 L812.1,1961.9 L815.6,1959.7 L819.1,1957.6 L822.7,1955.6 L826.3,1953.7 L830.0,1952.0 L833.8,1950.3 L837.7,1948.6 L841.6,1946.8 L845.5,1945.1 L849.5,1943.3 L853.5,1941.6 L857.5,1939.9 L861.6,1938.3 L865.7,1936.7 L869.8,1935.2 L873.9,1933.8 L878.0,1932.5 L882.0,1931.3 L886.1,1930.2 L890.2,1929.2 L894.2,1928.4 L898.2,1927.8 L902.2,1927.3 L906.1,1927.1 L910.0,1927.0 L913.6,1927.1 L917.2,1927.4 L920.8,1927.9 L924.3,1928.6 L927.9,1929.3 L931.4,1930.3 L934.9,1931.3 L938.4,1932.4 L941.9,1933.7 L945.4,1935.0 L948.9,1936.4 L952.4,1937.9 L955.8,1939.4 L959.3,1940.9 L962.8,1942.4 L966.2,1944.0 L969.7,1945.5 L973.1,1947.1 L976.6,1948.6 L980.0,1950.0 L983.5,1951.5 L987.1,1953.1 L990.6,1954.8 L994.1,1956.6 L997.6,1958.5 L1001.1,1960.4 L1004.6,1962.3 L1008.0,1964.3 L1011.5,1966.2 L1015.0,1968.2 L1018.5,1970.2 L1021.9,1972.1 L1025.4,1974.0 L1028.9,1975.8 L1032.4,1977.6 L1035.9,1979.3 L1039.4,1980.9 L1042.9,1982.4 L1046.4,1983.8 L1050.0,1985.0 L1053.4,1986.1 L1056.7,1987.0 L1060.1,1987.9 L1063.5,1988.7 L1066.8,1989.4 L1070.2,1990.1 L1073.6,1990.7 L1077.0,1991.3 L1080.5,1991.8 L1083.9,1992.3 L1087.3,1992.7 L1090.7,1993.2 L1094.1,1993.6 L1097.5,1994.0 L1100.9,1994.5 L1104.4,1994.9 L1107.8,1995.4 L1111.2,1995.9 L1114.6,1996.4 L1118.0,1997.0 L1118.0,2578.0 L49.0,2578.0Z" fill="#f2eaf3"/>
<path d="M50.6,2006.9 L54.1,2006.4 L57.5,2005.9 L61.0,2005.4 L64.5,2005.0 L68.0,2004.6 L71.5,2004.2 L75.0,2003.8 L78.6,2003.4 L82.1,2003.0 L85.7,2002.6 L89.4,2002.1 L93.0,2001.7 L96.7,2001.1 L100.4,2000.5 L104.1,1999.9 L107.8,1999.2 L111.6,1998.4 L115.4,1997.6 L119.2,1996.6 L123.0,1995.6 L127.2,1994.3 L131.5,1992.9 L135.7,1991.5 L140.0,1989.9 L144.3,1988.2 L148.5,1986.5 L152.8,1984.8 L157.0,1982.9 L161.2,1981.1 L165.4,1979.2 L169.6,1977.3 L173.7,1975.4 L177.8,1973.5 L181.8,1971.6 L185.8,1969.7 L189.7,1967.9 L193.5,1966.1 L197.2,1964.3 L200.9,1962.7 L204.5,1961.0 L207.7,1959.6 L210.8,1958.1 L213.8,1956.5 L216.7,1955.0 L219.5,1953.4 L222.3,1951.8 L225.0,1950.3 L227.7,1948.8 L230.2,1947.3 L232.8,1945.9 L235.2,1944.6 L237.7,1943.3 L240.0,1942.1 L242.4,1941.1 L244.7,1940.1 L246.9,1939.2 L249.1,1938.4 L251.3,1937.8 L253.5,1937.3 L255.8,1936.9 L258.1,1936.5 L260.5,1936.3 L263.0,1936.1 L265.5,1935.9 L268.0,1935.9 L270.5,1935.9 L273.0,1936.0 L275.5,1936.1 L278.1,1936.3 L280.6,1936.6 L283.2,1937.0 L285.7,1937.4 L288.3,1937.9 L290.8,1938.4 L293.3,1939.1 L295.9,1939.8 L298.4,1940.5 L300.9,1941.3 L303.4,1942.2 L305.7,1943.1 L308.3,1944.3 L310.9,1945.6 L313.5,1947.2 L316.1,1949.0 L318.8,1950.9 L321.6,1953.1 L324.4,1955.4 L327.3,1957.9 L330.2,1960.4 L333.2,1963.1 L336.2,1965.8 L339.2,1968.6 L342.4,1971.4 L345.6,1974.1 L348.9,1976.9 L352.3,1979.6 L355.8,1982.2 L359.4,1984.7 L363.2,1987.1 L367.0,1989.2 L370.8,1991.2 L374.7,1993.1 L378.6,1994.9 L382.6,1996.7 L386.5,1998.4 L390.6,2000.0 L394.6,2001.6 L398.7,2003.1 L402.8,2004.5 L407.0,2005.9 L411.1,2007.3 L415.2,2008.6 L419.3,2009.8 L423.5,2011.0 L427.6,2012.1 L431.6,2013.2 L435.7,2014.3 L439.7,2015.3 L443.7,2016.3 L447.6,2017.2 L451.3,2018.1 L455.0,2018.8 L458.6,2019.5 L462.3,2020.2 L465.9,2020.8 L469.5,2021.3 L473.0,2021.9 L476.6,2022.3 L480.1,2022.8 L483.7,2023.2 L487.2,2023.5 L490.7,2023.9 L494.2,2024.2 L497.8,2024.5 L501.3,2024.9 L504.8,2025.2 L508.3,2025.5 L511.9,2025.8 L515.4,2026.1 L519.0,2026.5 L522.9,2026.8 L526.8,2027.2 L530.7,2027.6 L534.6,2028.0 L538.6,2028.4 L542.6,2028.7 L546.7,2029.1 L550.7,2029.5 L554.8,2029.8 L558.9,2030.1 L563.0,2030.4 L567.1,2030.7 L571.2,2031.0 L575.4,2031.2 L579.5,2031.3 L583.7,2031.5 L587.8,2031.6 L592.0,2031.6 L596.1,2031.6 L600.3,2031.5 L604.4,2031.4 L608.5,2031.2 L612.6,2031.0 L616.7,2030.7 L620.9,2030.4 L625.0,2030.1 L629.1,2029.7 L633.1,2029.3 L637.2,2028.8 L641.3,2028.4 L645.4,2027.8 L649.5,2027.3 L653.5,2026.8 L657.6,2026.2 L661.6,2025.6 L665.7,2025.0 L669.7,2024.3 L673.7,2023.7 L677.7,2023.0 L681.7,2022.4 L685.7,2021.7 L689.8,2021.0 L693.8,2020.4 L697.9,2019.7 L702.0,2019.0 L706.1,2018.4 L710.2,2017.6 L714.4,2016.9 L718.5,2016.1 L722.7,2015.3 L726.9,2014.5 L731.0,2013.6 L735.2,2012.6 L739.3,2011.6 L743.5,2010.5 L747.6,2009.3 L751.7,2008.1 L755.8,2006.7 L759.9,2005.3 L763.9,2003.7 L768.0,2002.0 L772.0,2000.1 L775.9,1998.1 L779.8,1996.0 L783.5,1993.8 L787.2,1991.6 L790.7,1989.3 L794.3,1986.9 L797.8,1984.6 L801.2,1982.2 L804.6,1979.9 L808.0,1977.6 L811.3,1975.4 L814.6,1973.2 L818.0,1971.0 L821.3,1969.0 L824.6,1967.1 L827.9,1965.3 L831.2,1963.6 L834.6,1962.0 L838.3,1960.3 L842.2,1958.6 L846.1,1956.9 L850.0,1955.1 L853.9,1953.4 L857.8,1951.8 L861.7,1950.1 L865.7,1948.5 L869.6,1947.0 L873.5,1945.6 L877.4,1944.2 L881.2,1943.0 L885.0,1941.9 L888.8,1940.9 L892.5,1940.0 L896.1,1939.3 L899.7,1938.7 L903.2,1938.3 L906.6,1938.1 L909.9,1938.0 L913.0,1938.1 L916.0,1938.4 L919.1,1938.8 L922.2,1939.3 L925.3,1940.0 L928.5,1940.9 L931.7,1941.8 L934.9,1942.9 L938.1,1944.0 L941.4,1945.3 L944.7,1946.6 L948.1,1948.0 L951.4,1949.4 L954.8,1950.9 L958.3,1952.5 L961.7,1954.0 L965.2,1955.6 L968.7,1957.1 L972.2,1958.7 L975.7,1960.1 L979.1,1961.6 L982.4,1963.1 L985.7,1964.7 L989.0,1966.4 L992.4,1968.2 L995.8,1970.0 L999.2,1971.9 L1002.6,1973.8 L1006.1,1975.8 L1009.6,1977.8 L1013.1,1979.8 L1016.6,1981.7 L1020.2,1983.7 L1023.8,1985.6 L1027.5,1987.5 L1031.2,1989.2 L1035.0,1991.0 L1038.8,1992.6 L1042.6,1994.1 L1046.5,1995.4 L1050.2,1996.6 L1053.8,1997.6 L1057.4,1998.6 L1061.0,1999.4 L1064.6,2000.2 L1068.2,2000.9 L1071.8,2001.5 L1075.3,2002.1 L1078.8,2002.7 L1082.3,2003.2 L1085.8,2003.6 L1089.3,2004.1 L1092.7,2004.5 L1096.1,2004.9 L1099.5,2005.4 L1102.9,2005.8 L1106.2,2006.3 L1109.5,2006.8 L1112.8,2007.3 L1116.2,2007.8 L1119.8,1986.2 L1116.4,1985.6 L1112.8,1985.0 L1109.3,1984.5 L1105.8,1984.0 L1102.4,1983.6 L1098.9,1983.1 L1095.5,1982.7 L1092.1,1982.3 L1088.7,1981.8 L1085.4,1981.4 L1082.1,1980.9 L1078.8,1980.4 L1075.5,1979.9 L1072.3,1979.3 L1069.1,1978.6 L1065.9,1978.0 L1062.7,1977.2 L1059.6,1976.4 L1056.5,1975.5 L1053.5,1974.6 L1050.3,1973.4 L1047.1,1972.2 L1043.8,1970.8 L1040.5,1969.3 L1037.3,1967.7 L1033.9,1966.1 L1030.6,1964.3 L1027.2,1962.5 L1023.8,1960.6 L1020.4,1958.6 L1016.9,1956.7 L1013.5,1954.7 L1009.9,1952.7 L1006.4,1950.7 L1002.8,1948.8 L999.2,1946.9 L995.5,1945.0 L991.8,1943.2 L988.0,1941.5 L984.3,1939.9 L980.9,1938.4 L977.5,1937.0 L974.1,1935.5 L970.7,1934.0 L967.3,1932.4 L963.8,1930.8 L960.2,1929.3 L956.7,1927.7 L953.1,1926.2 L949.4,1924.8 L945.7,1923.4 L942.0,1922.0 L938.2,1920.8 L934.4,1919.7 L930.5,1918.6 L926.5,1917.8 L922.5,1917.0 L918.4,1916.5 L914.3,1916.1 L910.1,1916.0 L905.6,1916.1 L901.2,1916.4 L896.7,1916.9 L892.3,1917.6 L887.9,1918.5 L883.5,1919.5 L879.1,1920.7 L874.7,1921.9 L870.4,1923.3 L866.1,1924.8 L861.8,1926.4 L857.6,1928.0 L853.4,1929.7 L849.2,1931.4 L845.1,1933.2 L841.1,1935.0 L837.1,1936.7 L833.1,1938.5 L829.3,1940.2 L825.4,1942.0 L821.4,1943.9 L817.5,1945.9 L813.7,1948.1 L809.9,1950.3 L806.3,1952.7 L802.7,1955.0 L799.2,1957.4 L795.7,1959.8 L792.3,1962.2 L788.9,1964.6 L785.6,1967.0 L782.3,1969.3 L779.0,1971.5 L775.7,1973.7 L772.5,1975.7 L769.2,1977.7 L765.9,1979.5 L762.7,1981.3 L759.4,1982.8 L756.1,1984.3 L752.6,1985.6 L749.0,1986.9 L745.4,1988.1 L741.7,1989.2 L737.9,1990.3 L734.2,1991.3 L730.3,1992.3 L726.5,1993.2 L722.6,1994.0 L718.6,1994.8 L714.7,1995.6 L710.7,1996.3 L706.7,1997.0 L702.6,1997.7 L698.6,1998.3 L694.5,1999.0 L690.5,1999.7 L686.4,2000.3 L682.3,2001.0 L678.3,2001.6 L674.3,2002.3 L670.3,2003.0 L666.4,2003.6 L662.4,2004.2 L658.5,2004.8 L654.5,2005.4 L650.6,2006.0 L646.7,2006.5 L642.7,2007.0 L638.8,2007.5 L634.9,2008.0 L630.9,2008.4 L627.0,2008.8 L623.1,2009.1 L619.2,2009.5 L615.3,2009.8 L611.4,2010.0 L607.5,2010.2 L603.6,2010.4 L599.7,2010.5 L595.9,2010.6 L592.0,2010.6 L588.1,2010.6 L584.2,2010.5 L580.3,2010.3 L576.3,2010.2 L572.4,2010.0 L568.4,2009.8 L564.4,2009.5 L560.5,2009.2 L556.5,2008.9 L552.5,2008.6 L548.5,2008.2 L544.6,2007.8 L540.6,2007.5 L536.7,2007.1 L532.7,2006.7 L528.8,2006.3 L524.9,2005.9 L521.0,2005.5 L517.4,2005.2 L513.7,2004.9 L510.2,2004.6 L506.6,2004.3 L503.1,2003.9 L499.7,2003.6 L496.2,2003.3 L492.8,2003.0 L489.4,2002.6 L486.0,2002.3 L482.6,2001.9 L479.2,2001.5 L475.9,2001.0 L472.5,2000.6 L469.2,2000.1 L465.8,1999.5 L462.5,1998.9 L459.1,1998.2 L455.8,1997.5 L452.4,1996.8 L448.6,1995.9 L444.8,1994.9 L440.9,1994.0 L437.0,1993.0 L433.1,1991.9 L429.2,1990.8 L425.3,1989.7 L421.3,1988.5 L417.4,1987.3 L413.5,1986.0 L409.7,1984.7 L405.8,1983.4 L402.0,1982.0 L398.3,1980.5 L394.5,1979.0 L390.9,1977.5 L387.3,1975.9 L383.8,1974.2 L380.3,1972.5 L377.0,1970.8 L374.0,1969.1 L371.1,1967.2 L368.2,1965.1 L365.3,1962.9 L362.4,1960.5 L359.5,1958.0 L356.5,1955.4 L353.6,1952.7 L350.6,1950.0 L347.7,1947.2 L344.7,1944.4 L341.6,1941.7 L338.5,1938.9 L335.3,1936.2 L332.1,1933.6 L328.8,1931.1 L325.3,1928.8 L321.7,1926.6 L318.0,1924.6 L314.3,1922.9 L311.1,1921.6 L308.1,1920.5 L305.1,1919.5 L302.0,1918.6 L298.9,1917.7 L295.8,1917.0 L292.7,1916.3 L289.6,1915.7 L286.5,1915.2 L283.3,1914.7 L280.2,1914.4 L277.1,1914.1 L273.9,1913.9 L270.8,1913.9 L267.7,1913.9 L264.6,1913.9 L261.5,1914.1 L258.4,1914.4 L255.4,1914.7 L252.2,1915.1 L248.9,1915.8 L245.7,1916.5 L242.5,1917.5 L239.4,1918.5 L236.4,1919.7 L233.4,1921.0 L230.5,1922.3 L227.7,1923.7 L224.9,1925.2 L222.2,1926.6 L219.5,1928.2 L216.8,1929.7 L214.1,1931.2 L211.5,1932.7 L208.8,1934.2 L206.2,1935.6 L203.6,1937.0 L200.9,1938.4 L198.2,1939.7 L195.5,1941.0 L191.8,1942.6 L188.0,1944.3 L184.2,1946.1 L180.3,1947.9 L176.4,1949.8 L172.4,1951.7 L168.4,1953.6 L164.4,1955.4 L160.4,1957.3 L156.3,1959.2 L152.3,1961.0 L148.2,1962.8 L144.2,1964.5 L140.2,1966.2 L136.2,1967.8 L132.3,1969.3 L128.3,1970.7 L124.5,1972.1 L120.7,1973.3 L117.0,1974.4 L113.6,1975.3 L110.3,1976.2 L106.9,1976.9 L103.6,1977.6 L100.2,1978.3 L96.8,1978.8 L93.4,1979.4 L90.0,1979.9 L86.5,1980.3 L83.1,1980.8 L79.6,1981.2 L76.1,1981.6 L72.6,1982.0 L69.0,1982.4 L65.5,1982.8 L61.9,1983.2 L58.3,1983.6 L54.6,1984.1 L51.0,1984.6 L47.4,1985.1Z" fill="#9b7399"/><path d="M49.7,2000.9 L53.2,2000.4 L56.7,1999.9 L60.2,1999.4 L63.8,1999.0 L67.3,1998.6 L70.8,1998.2 L74.3,1997.8 L77.9,1997.4 L81.4,1997.0 L85.0,1996.6 L88.6,1996.1 L92.2,1995.7 L95.8,1995.1 L99.4,1994.6 L103.0,1994.0 L106.7,1993.3 L110.3,1992.5 L114.0,1991.7 L117.7,1990.8 L121.4,1989.8 L125.4,1988.5 L129.6,1987.2 L133.7,1985.8 L137.9,1984.2 L142.1,1982.6 L146.2,1980.9 L150.4,1979.2 L154.6,1977.4 L158.8,1975.6 L162.9,1973.7 L167.1,1971.8 L171.2,1969.9 L175.2,1968.0 L179.2,1966.1 L183.2,1964.2 L187.1,1962.4 L190.9,1960.6 L194.7,1958.8 L198.4,1957.1 L202.0,1955.5 L205.1,1954.1 L208.0,1952.7 L211.0,1951.2 L213.8,1949.6 L216.6,1948.1 L219.3,1946.6 L222.0,1945.0 L224.7,1943.5 L227.3,1942.1 L229.9,1940.6 L232.4,1939.2 L234.9,1937.9 L237.4,1936.7 L239.9,1935.5 L242.4,1934.5 L244.8,1933.5 L247.3,1932.7 L249.8,1931.9 L252.3,1931.4 L254.8,1930.9 L257.3,1930.5 L260.0,1930.2 L262.6,1930.0 L265.2,1929.9 L267.9,1929.8 L270.6,1929.8 L273.3,1929.9 L276.0,1930.1 L278.7,1930.3 L281.4,1930.6 L284.1,1931.0 L286.8,1931.4 L289.5,1931.9 L292.2,1932.5 L294.9,1933.2 L297.6,1933.9 L300.2,1934.7 L302.9,1935.6 L305.5,1936.6 L308.1,1937.6 L311.0,1938.9 L313.9,1940.4 L316.7,1942.1 L319.6,1944.1 L322.5,1946.2 L325.4,1948.5 L328.3,1950.9 L331.2,1953.4 L334.2,1956.0 L337.1,1958.7 L340.1,1961.5 L343.2,1964.2 L346.3,1967.0 L349.4,1969.7 L352.6,1972.4 L355.9,1975.0 L359.2,1977.5 L362.6,1979.9 L366.2,1982.1 L369.7,1984.1 L373.4,1986.1 L377.2,1987.9 L381.0,1989.7 L384.8,1991.4 L388.7,1993.0 L392.7,1994.6 L396.7,1996.2 L400.7,1997.7 L404.7,1999.1 L408.8,2000.5 L412.8,2001.8 L416.9,2003.0 L421.0,2004.3 L425.0,2005.4 L429.1,2006.6 L433.1,2007.7 L437.1,2008.7 L441.1,2009.7 L445.0,2010.7 L448.9,2011.6 L452.5,2012.4 L456.1,2013.2 L459.7,2013.9 L463.2,2014.5 L466.8,2015.1 L470.3,2015.6 L473.8,2016.1 L477.3,2016.6 L480.8,2017.0 L484.3,2017.4 L487.8,2017.8 L491.3,2018.1 L494.8,2018.5 L498.3,2018.8 L501.8,2019.1 L505.3,2019.4 L508.8,2019.7 L512.4,2020.0 L516.0,2020.4 L519.6,2020.7 L523.4,2021.1 L527.3,2021.5 L531.2,2021.8 L535.2,2022.2 L539.2,2022.6 L543.2,2023.0 L547.2,2023.4 L551.2,2023.7 L555.2,2024.1 L559.3,2024.4 L563.4,2024.7 L567.4,2024.9 L571.5,2025.2 L575.6,2025.4 L579.7,2025.6 L583.8,2025.7 L587.9,2025.8 L592.0,2025.8 L596.0,2025.8 L600.1,2025.7 L604.2,2025.6 L608.2,2025.4 L612.3,2025.2 L616.3,2025.0 L620.4,2024.7 L624.4,2024.3 L628.5,2023.9 L632.5,2023.5 L636.6,2023.1 L640.6,2022.6 L644.7,2022.1 L648.7,2021.6 L652.7,2021.0 L656.7,2020.5 L660.8,2019.9 L664.8,2019.3 L668.8,2018.6 L672.8,2018.0 L676.8,2017.3 L680.8,2016.7 L684.8,2016.0 L688.8,2015.3 L692.9,2014.7 L697.0,2014.0 L701.0,2013.4 L705.1,2012.7 L709.3,2012.0 L713.4,2011.2 L717.5,2010.5 L721.6,2009.7 L725.7,2008.8 L729.8,2008.0 L733.9,2007.0 L737.9,2006.0 L742.0,2004.9 L746.0,2003.8 L750.0,2002.6 L753.9,2001.3 L757.9,1999.9 L761.8,1998.4 L765.6,1996.7 L769.5,1994.9 L773.2,1993.0 L776.9,1991.0 L780.5,1988.9 L784.0,1986.7 L787.5,1984.4 L791.0,1982.1 L794.4,1979.7 L797.8,1977.4 L801.2,1975.0 L804.6,1972.7 L808.0,1970.4 L811.3,1968.2 L814.7,1966.0 L818.1,1963.9 L821.6,1961.9 L825.0,1960.0 L828.5,1958.2 L832.1,1956.5 L835.8,1954.8 L839.7,1953.1 L843.6,1951.3 L847.5,1949.6 L851.5,1947.9 L855.4,1946.2 L859.4,1944.5 L863.4,1942.9 L867.4,1941.3 L871.4,1939.9 L875.4,1938.5 L879.4,1937.2 L883.4,1936.0 L887.3,1935.0 L891.2,1934.1 L895.1,1933.3 L898.9,1932.7 L902.6,1932.3 L906.3,1932.0 L910.0,1931.9 L913.3,1932.1 L916.7,1932.4 L920.0,1932.8 L923.4,1933.4 L926.7,1934.1 L930.1,1935.0 L933.5,1936.0 L936.8,1937.1 L940.2,1938.3 L943.6,1939.6 L947.0,1941.0 L950.4,1942.4 L953.9,1943.9 L957.3,1945.4 L960.7,1947.0 L964.2,1948.5 L967.6,1950.1 L971.1,1951.6 L974.6,1953.1 L978.1,1954.6 L981.5,1956.0 L985.0,1957.6 L988.4,1959.3 L991.8,1961.0 L995.3,1962.8 L998.7,1964.7 L1002.1,1966.6 L1005.6,1968.6 L1009.1,1970.6 L1012.5,1972.5 L1016.0,1974.5 L1019.5,1976.4 L1023.1,1978.4 L1026.6,1980.2 L1030.2,1982.0 L1033.8,1983.8 L1037.4,1985.4 L1041.0,1987.0 L1044.7,1988.4 L1048.4,1989.7 L1051.9,1990.8 L1055.4,1991.8 L1058.9,1992.7 L1062.4,1993.5 L1065.9,1994.3 L1069.3,1995.0 L1072.8,1995.6 L1076.3,1996.1 L1079.7,1996.7 L1083.2,1997.2 L1086.6,1997.6 L1090.1,1998.1 L1093.5,1998.5 L1096.9,1998.9 L1100.3,1999.4 L1103.7,1999.8 L1107.1,2000.3 L1110.5,2000.8 L1113.8,2001.3 L1117.2,2001.9 L1118.8,1992.1 L1115.4,1991.5 L1111.9,1991.0 L1108.5,1990.5 L1105.0,1990.0 L1101.6,1989.6 L1098.2,1989.1 L1094.7,1988.7 L1091.3,1988.3 L1087.9,1987.8 L1084.5,1987.4 L1081.2,1986.9 L1077.8,1986.4 L1074.5,1985.8 L1071.2,1985.2 L1067.8,1984.6 L1064.5,1983.9 L1061.3,1983.1 L1058.0,1982.2 L1054.8,1981.3 L1051.6,1980.3 L1048.2,1979.1 L1044.8,1977.8 L1041.4,1976.4 L1038.0,1974.8 L1034.6,1973.2 L1031.2,1971.4 L1027.7,1969.6 L1024.3,1967.8 L1020.9,1965.9 L1017.4,1963.9 L1014.0,1961.9 L1010.5,1960.0 L1007.0,1958.0 L1003.5,1956.0 L999.9,1954.1 L996.4,1952.2 L992.8,1950.4 L989.2,1948.7 L985.6,1947.0 L981.9,1945.4 L978.5,1944.0 L975.1,1942.5 L971.7,1941.0 L968.2,1939.5 L964.8,1937.9 L961.3,1936.4 L957.8,1934.8 L954.3,1933.3 L950.8,1931.8 L947.2,1930.4 L943.7,1929.0 L940.0,1927.8 L936.4,1926.6 L932.7,1925.5 L929.0,1924.5 L925.3,1923.7 L921.5,1923.0 L917.7,1922.5 L913.9,1922.2 L910.0,1922.1 L905.9,1922.1 L901.7,1922.4 L897.5,1922.9 L893.3,1923.6 L889.1,1924.4 L884.9,1925.4 L880.7,1926.5 L876.5,1927.7 L872.3,1929.1 L868.1,1930.5 L863.9,1932.1 L859.8,1933.7 L855.7,1935.3 L851.6,1937.0 L847.5,1938.8 L843.5,1940.5 L839.5,1942.3 L835.6,1944.0 L831.8,1945.8 L827.9,1947.5 L824.1,1949.3 L820.4,1951.3 L816.7,1953.3 L813.0,1955.5 L809.5,1957.7 L806.0,1960.0 L802.5,1962.3 L799.1,1964.7 L795.7,1967.1 L792.3,1969.5 L788.9,1971.8 L785.6,1974.1 L782.2,1976.4 L778.9,1978.6 L775.5,1980.7 L772.1,1982.7 L768.7,1984.7 L765.3,1986.4 L761.8,1988.1 L758.2,1989.6 L754.6,1991.0 L750.9,1992.4 L747.1,1993.6 L743.3,1994.8 L739.5,1995.9 L735.6,1996.9 L731.7,1997.9 L727.7,1998.8 L723.7,1999.6 L719.7,2000.4 L715.7,2001.2 L711.7,2002.0 L707.6,2002.7 L703.6,2003.4 L699.5,2004.0 L695.4,2004.7 L691.4,2005.4 L687.3,2006.0 L683.3,2006.7 L679.2,2007.3 L675.2,2008.0 L671.3,2008.7 L667.3,2009.3 L663.3,2009.9 L659.4,2010.5 L655.4,2011.1 L651.4,2011.7 L647.4,2012.2 L643.5,2012.7 L639.5,2013.2 L635.5,2013.7 L631.6,2014.1 L627.6,2014.5 L623.6,2014.9 L619.7,2015.2 L615.7,2015.5 L611.7,2015.8 L607.8,2016.0 L603.8,2016.2 L599.9,2016.3 L595.9,2016.3 L592.0,2016.4 L588.0,2016.3 L584.0,2016.2 L580.1,2016.1 L576.1,2016.0 L572.0,2015.8 L568.0,2015.5 L564.0,2015.3 L560.0,2015.0 L556.0,2014.6 L552.0,2014.3 L548.0,2014.0 L544.0,2013.6 L540.1,2013.2 L536.1,2012.8 L532.2,2012.4 L528.2,2012.1 L524.3,2011.7 L520.4,2011.3 L516.8,2011.0 L513.2,2010.6 L509.7,2010.3 L506.1,2010.0 L502.6,2009.7 L499.1,2009.4 L495.7,2009.1 L492.2,2008.7 L488.8,2008.4 L485.3,2008.0 L481.9,2007.6 L478.5,2007.2 L475.1,2006.8 L471.7,2006.3 L468.3,2005.8 L464.9,2005.2 L461.4,2004.6 L458.0,2003.9 L454.5,2003.2 L451.1,2002.4 L447.2,2001.5 L443.4,2000.5 L439.5,1999.6 L435.5,1998.5 L431.6,1997.5 L427.6,1996.4 L423.6,1995.2 L419.7,1994.0 L415.7,1992.8 L411.7,1991.5 L407.8,1990.2 L403.9,1988.8 L400.0,1987.4 L396.1,1985.9 L392.3,1984.3 L388.6,1982.8 L384.9,1981.1 L381.3,1979.4 L377.7,1977.7 L374.3,1975.9 L371.0,1974.0 L367.9,1972.0 L364.8,1969.8 L361.7,1967.5 L358.7,1965.0 L355.7,1962.5 L352.6,1959.8 L349.7,1957.1 L346.7,1954.4 L343.7,1951.6 L340.7,1948.8 L337.7,1946.1 L334.6,1943.5 L331.6,1940.9 L328.5,1938.4 L325.3,1936.0 L322.1,1933.8 L318.7,1931.8 L315.4,1930.0 L311.9,1928.4 L309.0,1927.3 L306.1,1926.2 L303.2,1925.3 L300.3,1924.4 L297.4,1923.6 L294.4,1922.9 L291.5,1922.2 L288.5,1921.6 L285.6,1921.2 L282.6,1920.7 L279.6,1920.4 L276.6,1920.2 L273.7,1920.0 L270.7,1919.9 L267.8,1919.9 L264.8,1920.0 L261.9,1920.1 L259.0,1920.4 L256.1,1920.7 L253.2,1921.1 L250.2,1921.7 L247.2,1922.4 L244.3,1923.2 L241.5,1924.2 L238.6,1925.3 L235.9,1926.5 L233.1,1927.8 L230.4,1929.1 L227.7,1930.5 L225.1,1931.9 L222.4,1933.4 L219.8,1934.9 L217.1,1936.4 L214.5,1938.0 L211.8,1939.5 L209.1,1940.9 L206.4,1942.4 L203.6,1943.8 L200.8,1945.2 L198.0,1946.5 L194.3,1948.1 L190.6,1949.8 L186.8,1951.6 L182.9,1953.4 L179.0,1955.3 L175.0,1957.1 L171.0,1959.0 L167.0,1960.9 L162.9,1962.8 L158.8,1964.7 L154.7,1966.5 L150.7,1968.3 L146.6,1970.1 L142.5,1971.8 L138.4,1973.4 L134.4,1975.0 L130.4,1976.4 L126.4,1977.8 L122.5,1979.1 L118.6,1980.2 L115.2,1981.2 L111.7,1982.1 L108.2,1982.8 L104.7,1983.6 L101.3,1984.2 L97.8,1984.8 L94.3,1985.4 L90.8,1985.9 L87.3,1986.3 L83.8,1986.8 L80.3,1987.2 L76.8,1987.6 L73.2,1988.0 L69.7,1988.4 L66.2,1988.8 L62.6,1989.2 L59.0,1989.6 L55.4,1990.1 L51.8,1990.6 L48.3,1991.1Z" fill="#d3a9cf"/>
<path d="M432.9,1460.0 L432.9,1467.2 L432.9,1474.6 L433.0,1482.3 L433.0,1490.1 L433.1,1498.1 L433.1,1506.2 L433.2,1514.3 L433.3,1522.4 L433.3,1530.4 L433.4,1538.3 L433.4,1546.0 L433.5,1553.5 L433.5,1560.8 L433.5,1567.7 L433.4,1574.3 L433.4,1580.5 L433.3,1586.2 L433.2,1591.4 L433.1,1596.0 L432.9,1600.0 L432.8,1601.3 L432.8,1602.5 L432.7,1603.6 L432.7,1604.7 L432.6,1605.8 L432.5,1606.7 L432.5,1607.7 L432.4,1608.5 L432.4,1609.4 L432.3,1610.2 L432.2,1611.0 L432.1,1611.8 L432.0,1612.5 L431.9,1613.3 L431.8,1614.1 L431.7,1614.8 L431.5,1615.6 L431.4,1616.4 L431.2,1617.2 L431.0,1618.0 L430.8,1618.8 L430.6,1619.6 L430.4,1620.4 L430.2,1621.1 L430.0,1621.9 L429.8,1622.6 L429.5,1623.4 L429.3,1624.1 L429.0,1624.9 L428.8,1625.6 L428.5,1626.3 L428.2,1627.1 L427.9,1627.8 L427.5,1628.5 L427.2,1629.3 L426.8,1630.0 L426.4,1630.7 L426.0,1631.5 L425.5,1632.2 L425.0,1633.0 L424.3,1634.1 L423.5,1635.1 L422.7,1636.2 L421.8,1637.2 L420.9,1638.3 L419.9,1639.4 L418.9,1640.5 L417.9,1641.6 L416.8,1642.6 L415.7,1643.7 L414.6,1644.8 L413.4,1645.9 L412.2,1647.0 L410.9,1648.1 L409.7,1649.1 L408.4,1650.2 L407.1,1651.3 L405.7,1652.4 L404.4,1653.4 L403.0,1654.5 L401.1,1655.9 L399.1,1657.3 L397.1,1658.8 L394.9,1660.2 L392.7,1661.6 L390.5,1663.0 L388.2,1664.5 L385.8,1665.9 L383.4,1667.3 L381.0,1668.7 L378.5,1670.1 L376.0,1671.5 L373.5,1672.9 L370.9,1674.3 L368.4,1675.7 L365.8,1677.1 L363.2,1678.4 L360.6,1679.8 L358.1,1681.2 L355.5,1682.5 L352.7,1684.0 L349.8,1685.5 L346.9,1686.9 L344.0,1688.4 L341.1,1689.9 L338.1,1691.4 L335.1,1692.9 L332.1,1694.3 L329.1,1695.8 L326.1,1697.2 L323.0,1698.7 L319.9,1700.1 L316.8,1701.5 L313.7,1702.8 L310.6,1704.2 L307.5,1705.5 L304.4,1706.8 L301.3,1708.0 L298.1,1709.2 L295.0,1710.4 L291.8,1711.5 L288.6,1712.6 L285.4,1713.7 L282.1,1714.7 L278.8,1715.7 L275.5,1716.6 L272.1,1717.5 L268.8,1718.4 L265.5,1719.3 L262.1,1720.2 L258.8,1721.0 L255.4,1721.9 L252.1,1722.7 L248.8,1723.6 L245.6,1724.4 L242.3,1725.3 L239.1,1726.2 L235.9,1727.1 L232.8,1728.0 L229.7,1729.0 L226.9,1729.9 L224.2,1730.8 L221.5,1731.7 L218.8,1732.6 L216.2,1733.5 L213.5,1734.5 L210.9,1735.4 L208.3,1736.3 L205.7,1737.3 L203.1,1738.2 L200.5,1739.1 L197.9,1740.1 L195.4,1741.0 L192.8,1742.0 L190.3,1742.9 L187.7,1743.9 L185.2,1744.8 L182.7,1745.8 L180.1,1746.7 L177.6,1747.7 L175.1,1748.6 L172.6,1749.4 L170.1,1750.3 L167.6,1751.1 L165.0,1751.8 L162.4,1752.6 L159.9,1753.4 L157.3,1754.1 L154.7,1754.9 L152.2,1755.7 L149.7,1756.5 L147.3,1757.4 L144.9,1758.3 L142.5,1759.2 L140.2,1760.2 L138.0,1761.3 L135.9,1762.4 L133.8,1763.6 L131.9,1764.9 L130.0,1766.3 L128.4,1767.6 L126.7,1769.0 L125.1,1770.5 L123.5,1772.1 L121.9,1773.7 L120.3,1775.4 L118.8,1777.2 L117.3,1778.9 L115.8,1780.7 L114.5,1782.6 L113.2,1784.4 L112.0,1786.2 L110.9,1788.1 L109.9,1789.9 L109.0,1791.7 L108.3,1793.4 L107.7,1795.1 L107.2,1796.8 L106.9,1798.4 L106.8,1800.0 L106.8,1801.2 L106.9,1802.4 L107.1,1803.6 L107.5,1804.8 L107.8,1806.0 L108.3,1807.2 L108.9,1808.4 L109.5,1809.5 L110.2,1810.7 L110.9,1811.8 L111.7,1812.9 L112.5,1814.1 L113.4,1815.1 L114.3,1816.2 L115.2,1817.2 L116.1,1818.2 L117.1,1819.2 L118.1,1820.2 L119.0,1821.1 L120.0,1822.0 L121.1,1823.0 L122.3,1823.9 L123.5,1824.8 L124.7,1825.6 L126.0,1826.4 L127.4,1827.2 L128.7,1827.9 L130.2,1828.6 L131.6,1829.3 L133.1,1830.0 L134.6,1830.6 L136.2,1831.2 L137.8,1831.8 L139.4,1832.4 L141.1,1833.0 L142.8,1833.6 L144.6,1834.2 L146.3,1834.8 L148.2,1835.4 L150.0,1836.0 L152.8,1836.9 L155.7,1837.7 L158.8,1838.6 L161.9,1839.4 L165.2,1840.1 L168.5,1840.9 L171.9,1841.6 L175.4,1842.3 L179.0,1843.0 L182.6,1843.7 L186.3,1844.3 L190.0,1845.0 L193.8,1845.6 L197.5,1846.3 L201.3,1846.9 L205.2,1847.5 L209.0,1848.1 L212.8,1848.8 L216.6,1849.4 L220.4,1850.0 L224.7,1850.7 L229.1,1851.4 L233.5,1852.2 L237.9,1852.9 L242.3,1853.6 L246.8,1854.3 L251.3,1855.0 L255.8,1855.7 L260.4,1856.4 L265.0,1857.0 L269.7,1857.7 L274.4,1858.3 L279.1,1858.9 L283.9,1859.5 L288.7,1860.0 L293.6,1860.5 L298.5,1861.0 L303.5,1861.5 L308.5,1861.9 L313.6,1862.3 L319.8,1862.7 L326.1,1863.1 L332.6,1863.3 L339.1,1863.6 L345.7,1863.7 L352.4,1863.9 L359.1,1864.0 L366.0,1864.0 L372.8,1864.1 L379.7,1864.1 L386.7,1864.1 L393.7,1864.1 L400.7,1864.0 L407.8,1864.0 L414.8,1864.0 L421.9,1863.9 L428.9,1863.9 L436.0,1863.9 L443.0,1863.9 L450.0,1864.0 L457.5,1864.1 L465.1,1864.1 L473.0,1864.2 L481.1,1864.3 L489.2,1864.4 L497.5,1864.5 L505.8,1864.6 L514.1,1864.6 L522.3,1864.7 L530.5,1864.8 L538.6,1864.9 L546.5,1864.9 L554.3,1865.0 L561.8,1865.0 L569.1,1865.0 L576.0,1865.1 L582.6,1865.1 L588.8,1865.1 L594.7,1865.0 L600.0,1865.0 L602.6,1865.0 L605.0,1864.9 L607.4,1864.9 L609.6,1864.9 L611.8,1864.9 L613.9,1864.8 L615.9,1864.8 L617.8,1864.7 L619.7,1864.7 L621.6,1864.6 L623.4,1864.6 L625.2,1864.5 L627.0,1864.5 L628.8,1864.4 L630.6,1864.4 L632.4,1864.3 L634.2,1864.2 L636.1,1864.2 L638.0,1864.1 L640.0,1864.0 L642.1,1863.9 L644.2,1863.9 L646.4,1863.8 L648.5,1863.7 L650.8,1863.7 L653.0,1863.6 L655.2,1863.6 L657.4,1863.5 L659.7,1863.4 L661.9,1863.4 L664.0,1863.3 L666.2,1863.2 L668.3,1863.1 L670.4,1862.9 L672.4,1862.8 L674.3,1862.6 L676.2,1862.4 L678.0,1862.2 L679.8,1861.9 L681.4,1861.6 L682.4,1861.4 L683.5,1861.2 L684.5,1861.0 L685.6,1860.8 L686.6,1860.6 L687.7,1860.4 L688.7,1860.2 L689.7,1860.0 L690.7,1859.7 L691.6,1859.5 L692.5,1859.2 L693.4,1859.0 L694.2,1858.7 L694.9,1858.4 L695.6,1858.0 L696.2,1857.7 L696.8,1857.3 L697.3,1856.9 L697.7,1856.5 L698.0,1856.0 L698.2,1855.6 L698.3,1855.3 L698.4,1854.9 L698.4,1854.4 L698.4,1854.0 L698.4,1853.6 L698.4,1853.1 L698.3,1852.6 L698.2,1852.1 L698.0,1851.7 L697.9,1851.2 L697.7,1850.7 L697.5,1850.2 L697.3,1849.7 L697.1,1849.2 L696.9,1848.8 L696.7,1848.3 L696.5,1847.9 L696.2,1847.4 L696.0,1847.0 L695.7,1846.5 L695.4,1846.1 L695.0,1845.7 L694.6,1845.3 L694.1,1844.9 L693.6,1844.5 L693.1,1844.1 L692.6,1843.7 L692.0,1843.3 L691.5,1842.9 L691.0,1842.5 L690.5,1842.1 L690.0,1841.7 L689.5,1841.3 L689.1,1840.9 L688.8,1840.5 L688.5,1840.1 L688.3,1839.7 L688.1,1839.3 L688.0,1838.8 L688.0,1838.3 L688.0,1837.8 L688.1,1837.3 L688.2,1836.7 L688.4,1836.1 L688.6,1835.6 L688.9,1835.0 L689.2,1834.4 L689.6,1833.8 L689.9,1833.3 L690.3,1832.7 L690.8,1832.1 L691.2,1831.5 L691.7,1831.0 L692.2,1830.4 L692.8,1829.9 L693.3,1829.4 L693.9,1828.9 L694.4,1828.4 L695.0,1828.0 L695.9,1827.4 L696.9,1826.8 L698.0,1826.2 L699.1,1825.7 L700.3,1825.2 L701.6,1824.8 L703.0,1824.3 L704.3,1823.9 L705.8,1823.5 L707.2,1823.2 L708.7,1822.8 L710.2,1822.5 L711.8,1822.2 L713.4,1821.9 L714.9,1821.6 L716.5,1821.3 L718.1,1821.0 L719.7,1820.7 L721.2,1820.5 L722.8,1820.2 L724.7,1819.9 L726.6,1819.6 L728.5,1819.3 L730.4,1819.0 L732.4,1818.8 L734.4,1818.6 L736.5,1818.4 L738.5,1818.2 L740.6,1818.0 L742.7,1817.8 L744.8,1817.7 L746.9,1817.5 L749.0,1817.4 L751.2,1817.3 L753.3,1817.2 L755.5,1817.2 L757.7,1817.1 L759.8,1817.1 L762.0,1817.0 L764.2,1817.0 L766.7,1817.0 L769.3,1817.0 L771.9,1816.9 L774.7,1816.9 L777.4,1816.9 L780.3,1816.9 L783.1,1817.0 L785.9,1817.0 L788.8,1817.1 L791.6,1817.2 L794.4,1817.3 L797.2,1817.4 L799.8,1817.6 L802.5,1817.9 L805.0,1818.1 L807.5,1818.4 L809.8,1818.8 L812.0,1819.2 L814.1,1819.7 L816.0,1820.2 L817.1,1820.5 L818.2,1820.9 L819.3,1821.3 L820.3,1821.7 L821.3,1822.1 L822.3,1822.5 L823.2,1822.9 L824.1,1823.4 L825.0,1823.8 L825.9,1824.3 L826.7,1824.8 L827.5,1825.3 L828.3,1825.8 L829.1,1826.4 L829.8,1826.9 L830.5,1827.5 L831.1,1828.1 L831.8,1828.7 L832.4,1829.3 L833.0,1830.0 L833.5,1830.6 L833.9,1831.3 L834.3,1832.0 L834.7,1832.7 L835.0,1833.5 L835.2,1834.3 L835.5,1835.1 L835.7,1835.9 L835.9,1836.7 L836.1,1837.5 L836.3,1838.4 L836.5,1839.2 L836.7,1840.0 L837.0,1840.8 L837.2,1841.6 L837.5,1842.3 L837.8,1843.0 L838.2,1843.7 L838.6,1844.4 L839.0,1845.0 L839.5,1845.6 L839.9,1846.1 L840.5,1846.6 L841.0,1847.1 L841.5,1847.6 L842.1,1848.1 L842.7,1848.6 L843.3,1849.0 L843.9,1849.5 L844.5,1849.9 L845.1,1850.3 L845.8,1850.7 L846.4,1851.1 L847.1,1851.4 L847.8,1851.8 L848.5,1852.1 L849.1,1852.4 L849.8,1852.7 L850.5,1853.0 L851.2,1853.3 L851.9,1853.6 L852.7,1853.8 L853.4,1854.0 L854.1,1854.2 L854.9,1854.4 L855.6,1854.6 L856.4,1854.7 L857.2,1854.9 L858.0,1855.0 L858.8,1855.1 L859.6,1855.2 L860.4,1855.2 L861.2,1855.3 L862.1,1855.3 L863.0,1855.4 L863.9,1855.4 L864.8,1855.4 L865.7,1855.4 L866.7,1855.4 L867.7,1855.4 L869.3,1855.4 L871.1,1855.3 L872.9,1855.1 L874.8,1854.9 L876.7,1854.7 L878.7,1854.5 L880.8,1854.2 L882.9,1853.9 L885.0,1853.5 L887.2,1853.2 L889.4,1852.8 L891.6,1852.4 L893.8,1852.0 L896.0,1851.6 L898.3,1851.1 L900.5,1850.7 L902.6,1850.3 L904.8,1849.8 L906.9,1849.4 L909.0,1849.0 L911.1,1848.6 L913.2,1848.1 L915.3,1847.7 L917.4,1847.2 L919.5,1846.8 L921.6,1846.3 L923.7,1845.8 L925.9,1845.3 L928.0,1844.8 L930.1,1844.2 L932.2,1843.7 L934.3,1843.2 L936.4,1842.6 L938.4,1842.1 L940.5,1841.6 L942.6,1841.0 L944.6,1840.5 L946.6,1839.9 L948.6,1839.4 L950.6,1838.8 L952.4,1838.3 L954.2,1837.8 L956.0,1837.3 L957.9,1836.8 L959.7,1836.3 L961.5,1835.8 L963.3,1835.3 L965.1,1834.8 L966.9,1834.3 L968.6,1833.8 L970.4,1833.3 L972.1,1832.8 L973.8,1832.2 L975.5,1831.7 L977.2,1831.1 L978.8,1830.5 L980.4,1829.9 L982.0,1829.3 L983.5,1828.7 L985.0,1828.0 L986.2,1827.4 L987.4,1826.9 L988.6,1826.3 L989.8,1825.7 L991.0,1825.2 L992.2,1824.6 L993.3,1824.0 L994.5,1823.4 L995.6,1822.8 L996.7,1822.2 L997.7,1821.5 L998.8,1820.9 L999.8,1820.2 L1000.8,1819.5 L1001.7,1818.8 L1002.7,1818.1 L1003.6,1817.4 L1004.4,1816.6 L1005.2,1815.8 L1006.0,1815.0 L1006.7,1814.2 L1007.3,1813.5 L1008.0,1812.7 L1008.6,1811.9 L1009.2,1811.0 L1009.9,1810.2 L1010.4,1809.3 L1011.0,1808.4 L1011.5,1807.5 L1012.0,1806.6 L1012.5,1805.7 L1012.9,1804.8 L1013.3,1803.9 L1013.7,1803.0 L1014.0,1802.0 L1014.2,1801.1 L1014.4,1800.2 L1014.6,1799.2 L1014.7,1798.3 L1014.7,1797.4 L1014.7,1796.4 L1014.5,1795.4 L1014.4,1794.3 L1014.1,1793.3 L1013.8,1792.2 L1013.4,1791.2 L1013.0,1790.1 L1012.5,1789.0 L1011.9,1787.9 L1011.4,1786.8 L1010.8,1785.8 L1010.1,1784.7 L1009.5,1783.6 L1008.8,1782.6 L1008.1,1781.6 L1007.3,1780.5 L1006.6,1779.6 L1005.9,1778.6 L1005.1,1777.6 L1004.4,1776.7 L1003.6,1775.7 L1002.8,1774.8 L1002.0,1773.9 L1001.1,1773.0 L1000.3,1772.1 L999.4,1771.2 L998.5,1770.4 L997.6,1769.5 L996.6,1768.7 L995.6,1767.9 L994.6,1767.1 L993.5,1766.3 L992.4,1765.5 L991.3,1764.7 L990.2,1763.9 L988.9,1763.2 L987.7,1762.4 L986.4,1761.6 L985.1,1760.8 L983.7,1760.0 L981.4,1758.7 L978.9,1757.4 L976.2,1756.2 L973.5,1754.9 L970.6,1753.6 L967.5,1752.4 L964.4,1751.1 L961.2,1749.9 L957.9,1748.7 L954.6,1747.5 L951.2,1746.3 L947.7,1745.1 L944.2,1743.9 L940.7,1742.7 L937.1,1741.6 L933.6,1740.4 L930.0,1739.3 L926.5,1738.2 L923.0,1737.1 L919.5,1736.0 L915.6,1734.8 L911.6,1733.7 L907.6,1732.6 L903.5,1731.6 L899.4,1730.6 L895.2,1729.7 L890.9,1728.7 L886.7,1727.8 L882.4,1726.9 L878.1,1726.0 L873.8,1725.0 L869.5,1724.1 L865.3,1723.1 L861.0,1722.1 L856.9,1721.1 L852.7,1720.0 L848.6,1718.8 L844.6,1717.6 L840.6,1716.3 L836.7,1715.0 L833.1,1713.7 L829.6,1712.3 L826.1,1710.9 L822.6,1709.5 L819.1,1708.0 L815.6,1706.5 L812.2,1705.0 L808.7,1703.5 L805.4,1701.9 L802.0,1700.3 L798.7,1698.6 L795.4,1697.0 L792.1,1695.3 L788.9,1693.7 L785.7,1692.0 L782.6,1690.3 L779.4,1688.6 L776.4,1686.9 L773.4,1685.2 L770.4,1683.5 L767.9,1682.0 L765.3,1680.6 L762.8,1679.1 L760.3,1677.6 L757.8,1676.1 L755.4,1674.6 L752.9,1673.0 L750.6,1671.5 L748.2,1670.0 L745.8,1668.4 L743.5,1666.9 L741.3,1665.3 L739.1,1663.7 L736.9,1662.1 L734.8,1660.5 L732.7,1659.0 L730.7,1657.4 L728.7,1655.7 L726.8,1654.1 L724.9,1652.5 L723.4,1651.2 L721.9,1649.8 L720.5,1648.5 L719.1,1647.2 L717.7,1645.8 L716.3,1644.5 L714.9,1643.1 L713.6,1641.8 L712.3,1640.4 L711.1,1639.0 L709.8,1637.7 L708.7,1636.3 L707.5,1634.9 L706.4,1633.5 L705.4,1632.1 L704.4,1630.7 L703.5,1629.3 L702.6,1627.9 L701.8,1626.4 L701.0,1625.0 L700.4,1623.8 L699.9,1622.7 L699.4,1621.5 L699.0,1620.4 L698.6,1619.4 L698.2,1618.3 L697.9,1617.2 L697.6,1616.1 L697.4,1615.0 L697.1,1613.9 L696.9,1612.8 L696.7,1611.6 L696.5,1610.4 L696.3,1609.1 L696.2,1607.8 L696.0,1606.4 L695.8,1604.9 L695.7,1603.4 L695.5,1601.7 L695.3,1600.0 L694.9,1595.6 L694.5,1590.6 L694.3,1585.2 L694.1,1579.3 L694.0,1573.0 L693.9,1566.4 L693.9,1559.4 L694.0,1552.2 L694.0,1544.8 L694.1,1537.1 L694.3,1529.4 L694.4,1521.5 L694.6,1513.5 L694.7,1505.6 L694.9,1497.7 L695.0,1489.8 L695.1,1482.1 L695.2,1474.5 L695.3,1467.1 L695.3,1460.0Z" fill="#f2eaf3"/>
<path d="M422.1,1460.0 L422.1,1467.2 L422.1,1474.6 L422.1,1482.3 L422.2,1490.2 L422.2,1498.2 L422.3,1506.3 L422.3,1514.4 L422.4,1522.4 L422.5,1530.4 L422.5,1538.3 L422.6,1546.1 L422.6,1553.6 L422.6,1560.8 L422.6,1567.7 L422.6,1574.2 L422.5,1580.4 L422.5,1586.0 L422.4,1591.1 L422.2,1595.6 L422.1,1599.5 L422.0,1600.7 L421.9,1602.0 L421.9,1603.1 L421.8,1604.2 L421.8,1605.2 L421.7,1606.1 L421.7,1607.0 L421.6,1607.8 L421.6,1608.5 L421.5,1609.2 L421.5,1609.9 L421.4,1610.5 L421.3,1611.1 L421.3,1611.7 L421.2,1612.3 L421.1,1612.9 L421.0,1613.5 L420.9,1614.1 L420.7,1614.7 L420.6,1615.4 L420.4,1616.2 L420.2,1616.9 L420.0,1617.6 L419.9,1618.3 L419.7,1618.9 L419.5,1619.6 L419.3,1620.2 L419.1,1620.7 L419.0,1621.3 L418.8,1621.9 L418.6,1622.4 L418.4,1622.9 L418.2,1623.5 L417.9,1624.0 L417.7,1624.5 L417.5,1625.0 L417.2,1625.5 L416.9,1626.1 L416.6,1626.6 L416.3,1627.1 L415.8,1628.0 L415.2,1628.9 L414.6,1629.7 L413.9,1630.7 L413.2,1631.6 L412.4,1632.6 L411.6,1633.6 L410.7,1634.6 L409.8,1635.6 L408.9,1636.6 L407.9,1637.7 L406.9,1638.7 L405.8,1639.8 L404.7,1640.9 L403.6,1641.9 L402.4,1643.0 L401.3,1644.1 L400.0,1645.2 L398.8,1646.3 L397.6,1647.3 L395.8,1648.8 L394.1,1650.2 L392.2,1651.6 L390.2,1653.1 L388.2,1654.6 L386.1,1656.1 L384.0,1657.5 L381.8,1659.0 L379.5,1660.5 L377.2,1662.0 L374.8,1663.5 L372.4,1665.0 L370.0,1666.5 L367.5,1668.0 L365.0,1669.5 L362.5,1671.0 L360.0,1672.4 L357.5,1673.9 L355.0,1675.3 L352.5,1676.7 L349.7,1678.3 L346.9,1679.8 L344.1,1681.4 L341.2,1682.9 L338.3,1684.4 L335.4,1686.0 L332.5,1687.5 L329.5,1689.0 L326.6,1690.5 L323.6,1691.9 L320.6,1693.4 L317.5,1694.8 L314.5,1696.2 L311.4,1697.6 L308.4,1698.9 L305.3,1700.3 L302.3,1701.6 L299.2,1702.8 L296.2,1704.1 L293.1,1705.2 L290.0,1706.4 L286.9,1707.5 L283.7,1708.6 L280.5,1709.6 L277.3,1710.6 L274.0,1711.5 L270.8,1712.5 L267.5,1713.4 L264.2,1714.3 L260.8,1715.2 L257.5,1716.1 L254.2,1716.9 L250.9,1717.8 L247.6,1718.7 L244.3,1719.6 L241.0,1720.4 L237.7,1721.4 L234.5,1722.3 L231.3,1723.3 L228.2,1724.2 L225.4,1725.1 L222.6,1726.0 L219.9,1727.0 L217.2,1727.9 L214.5,1728.8 L211.8,1729.7 L209.2,1730.6 L206.6,1731.6 L203.9,1732.5 L201.3,1733.4 L198.7,1734.3 L196.2,1735.3 L193.6,1736.2 L191.0,1737.1 L188.5,1738.0 L185.9,1738.9 L183.3,1739.9 L180.8,1740.8 L178.2,1741.7 L175.7,1742.5 L173.3,1743.3 L170.9,1744.1 L168.4,1744.8 L165.9,1745.5 L163.3,1746.2 L160.7,1746.9 L158.1,1747.6 L155.5,1748.3 L152.9,1749.0 L150.3,1749.7 L147.7,1750.5 L145.1,1751.3 L142.5,1752.1 L139.9,1753.0 L137.4,1754.0 L134.9,1755.1 L132.4,1756.2 L130.0,1757.5 L127.6,1758.9 L125.4,1760.4 L123.4,1761.8 L121.5,1763.2 L119.6,1764.7 L117.7,1766.3 L115.8,1767.9 L113.9,1769.6 L112.0,1771.4 L110.2,1773.2 L108.4,1775.0 L106.7,1776.9 L105.1,1778.9 L103.5,1780.9 L102.0,1783.0 L100.7,1785.1 L99.4,1787.3 L98.3,1789.6 L97.4,1791.9 L96.6,1794.4 L96.1,1797.0 L95.8,1799.5 L95.8,1801.8 L96.1,1803.9 L96.5,1805.9 L97.0,1807.9 L97.7,1809.7 L98.5,1811.4 L99.3,1813.1 L100.3,1814.6 L101.3,1816.1 L102.3,1817.5 L103.4,1818.9 L104.6,1820.2 L105.7,1821.4 L106.9,1822.6 L108.1,1823.7 L109.3,1824.8 L110.5,1825.8 L111.6,1826.8 L112.8,1827.8 L114.0,1828.7 L115.5,1829.8 L117.0,1830.9 L118.6,1831.8 L120.1,1832.8 L121.7,1833.6 L123.4,1834.4 L125.0,1835.1 L126.7,1835.8 L128.4,1836.4 L130.1,1837.0 L131.8,1837.6 L133.5,1838.2 L135.2,1838.7 L137.0,1839.2 L138.8,1839.7 L140.6,1840.2 L142.4,1840.7 L144.2,1841.2 L146.1,1841.7 L148.0,1842.2 L151.0,1843.0 L154.0,1843.7 L157.2,1844.4 L160.5,1845.1 L163.8,1845.8 L167.3,1846.5 L170.8,1847.1 L174.3,1847.7 L178.0,1848.3 L181.6,1848.9 L185.4,1849.5 L189.1,1850.0 L192.9,1850.6 L196.7,1851.2 L200.6,1851.7 L204.4,1852.3 L208.2,1852.8 L212.1,1853.3 L215.9,1853.9 L219.7,1854.4 L224.0,1855.1 L228.4,1855.7 L232.8,1856.4 L237.2,1857.0 L241.7,1857.7 L246.2,1858.3 L250.7,1859.0 L255.3,1859.6 L259.8,1860.2 L264.5,1860.8 L269.2,1861.4 L273.9,1862.0 L278.6,1862.6 L283.4,1863.1 L288.3,1863.6 L293.2,1864.1 L298.2,1864.6 L303.2,1865.0 L308.2,1865.4 L313.4,1865.8 L319.6,1866.2 L326.0,1866.5 L332.4,1866.8 L339.0,1867.0 L345.6,1867.2 L352.3,1867.3 L359.1,1867.4 L365.9,1867.5 L372.8,1867.5 L379.7,1867.5 L386.7,1867.5 L393.7,1867.5 L400.7,1867.5 L407.8,1867.5 L414.8,1867.4 L421.9,1867.4 L428.9,1867.4 L436.0,1867.4 L443.0,1867.4 L450.0,1867.5 L457.4,1867.6 L465.1,1867.6 L473.0,1867.7 L481.0,1867.8 L489.2,1867.9 L497.5,1868.0 L505.7,1868.1 L514.0,1868.1 L522.3,1868.2 L530.5,1868.3 L538.6,1868.4 L546.5,1868.4 L554.3,1868.5 L561.8,1868.5 L569.0,1868.5 L576.0,1868.6 L582.6,1868.6 L588.9,1868.6 L594.7,1868.5 L600.0,1868.5 L602.6,1868.5 L605.1,1868.4 L607.4,1868.4 L609.7,1868.4 L611.8,1868.3 L613.9,1868.3 L615.9,1868.2 L617.9,1868.2 L619.8,1868.1 L621.6,1868.1 L623.5,1868.0 L625.3,1867.9 L627.1,1867.9 L628.9,1867.8 L630.7,1867.8 L632.5,1867.7 L634.3,1867.7 L636.2,1867.6 L638.2,1867.5 L640.1,1867.5 L642.2,1867.5 L644.3,1867.4 L646.5,1867.4 L648.6,1867.4 L650.8,1867.4 L653.1,1867.4 L655.3,1867.4 L657.5,1867.4 L659.8,1867.4 L662.0,1867.4 L664.2,1867.4 L666.4,1867.4 L668.6,1867.3 L670.7,1867.3 L672.8,1867.2 L674.8,1867.1 L676.8,1867.0 L678.7,1866.9 L680.6,1866.7 L682.3,1866.5 L683.4,1866.4 L684.4,1866.3 L685.5,1866.2 L686.6,1866.1 L687.7,1866.0 L688.8,1865.9 L689.9,1865.7 L691.0,1865.6 L692.1,1865.4 L693.2,1865.3 L694.3,1865.1 L695.4,1864.8 L696.4,1864.6 L697.5,1864.2 L698.6,1863.8 L699.7,1863.3 L700.9,1862.7 L702.0,1861.8 L703.1,1860.8 L704.0,1859.6 L704.7,1858.3 L705.2,1857.1 L705.5,1856.0 L705.7,1854.9 L705.7,1853.9 L705.8,1852.9 L705.7,1852.0 L705.6,1851.1 L705.5,1850.3 L705.3,1849.5 L705.1,1848.8 L704.9,1848.0 L704.7,1847.3 L704.5,1846.7 L704.3,1846.0 L704.0,1845.4 L703.8,1844.8 L703.5,1844.2 L703.3,1843.7 L702.9,1843.0 L702.3,1842.0 L701.5,1840.9 L700.8,1840.1 L700.0,1839.3 L699.3,1838.6 L698.6,1838.1 L698.0,1837.6 L697.4,1837.1 L696.8,1836.7 L696.3,1836.3 L695.9,1836.0 L695.5,1835.7 L695.3,1835.5 L695.1,1835.4 L695.1,1835.4 L695.1,1835.5 L695.3,1835.8 L695.6,1836.3 L695.8,1837.1 L695.9,1837.9 L695.9,1838.4 L695.9,1838.7 L695.8,1838.8 L695.7,1838.8 L695.7,1838.8 L695.7,1838.6 L695.7,1838.4 L695.8,1838.1 L695.9,1837.7 L696.0,1837.3 L696.2,1836.9 L696.4,1836.5 L696.6,1836.1 L696.9,1835.7 L697.2,1835.2 L697.5,1834.8 L697.8,1834.4 L698.2,1834.0 L698.5,1833.6 L698.8,1833.3 L699.3,1832.8 L699.9,1832.3 L700.7,1831.8 L701.5,1831.4 L702.5,1830.9 L703.6,1830.4 L704.7,1830.0 L705.9,1829.5 L707.2,1829.1 L708.5,1828.7 L709.9,1828.3 L711.4,1827.9 L712.9,1827.5 L714.4,1827.2 L715.9,1826.8 L717.4,1826.5 L719.0,1826.1 L720.6,1825.8 L722.1,1825.5 L723.7,1825.1 L725.5,1824.7 L727.3,1824.4 L729.2,1824.0 L731.0,1823.7 L733.0,1823.4 L734.9,1823.1 L736.9,1822.8 L738.9,1822.6 L740.9,1822.4 L743.0,1822.1 L745.0,1821.9 L747.1,1821.8 L749.2,1821.6 L751.3,1821.5 L753.5,1821.3 L755.6,1821.2 L757.8,1821.1 L759.9,1821.1 L762.1,1821.0 L764.2,1821.0 L766.7,1821.0 L769.3,1821.0 L772.0,1820.9 L774.7,1820.9 L777.4,1821.0 L780.2,1821.0 L783.0,1821.0 L785.9,1821.1 L788.7,1821.2 L791.4,1821.3 L794.2,1821.5 L796.9,1821.7 L799.5,1822.0 L802.1,1822.3 L804.5,1822.6 L806.8,1823.0 L809.0,1823.4 L811.0,1823.9 L812.9,1824.4 L814.6,1825.0 L815.6,1825.4 L816.5,1825.8 L817.5,1826.2 L818.4,1826.7 L819.2,1827.1 L820.0,1827.6 L820.8,1828.0 L821.6,1828.5 L822.3,1829.0 L822.9,1829.5 L823.5,1830.0 L824.1,1830.5 L824.7,1831.0 L825.2,1831.5 L825.7,1832.0 L826.1,1832.5 L826.6,1833.0 L827.0,1833.6 L827.4,1834.1 L827.7,1834.5 L827.8,1834.8 L827.8,1835.0 L827.9,1835.3 L828.0,1835.6 L828.1,1836.1 L828.2,1836.6 L828.3,1837.2 L828.4,1837.9 L828.5,1838.6 L828.6,1839.4 L828.7,1840.2 L828.9,1841.1 L829.1,1842.1 L829.4,1843.1 L829.7,1844.2 L830.1,1845.3 L830.5,1846.4 L831.1,1847.6 L831.9,1848.8 L832.7,1849.9 L833.4,1850.8 L834.2,1851.5 L834.9,1852.2 L835.7,1852.8 L836.4,1853.4 L837.2,1853.9 L838.1,1854.5 L838.9,1855.0 L839.7,1855.4 L840.6,1855.8 L841.4,1856.2 L842.3,1856.6 L843.1,1857.0 L844.0,1857.3 L844.8,1857.6 L845.7,1857.9 L846.6,1858.2 L847.4,1858.4 L848.2,1858.7 L849.1,1858.9 L850.0,1859.2 L850.9,1859.4 L851.8,1859.6 L852.7,1859.8 L853.6,1859.9 L854.5,1860.1 L855.4,1860.2 L856.3,1860.3 L857.2,1860.4 L858.1,1860.4 L859.1,1860.5 L860.0,1860.5 L860.9,1860.5 L861.9,1860.5 L862.8,1860.5 L863.8,1860.5 L864.7,1860.5 L865.7,1860.5 L866.7,1860.4 L867.8,1860.4 L869.6,1860.3 L871.4,1860.2 L873.3,1860.0 L875.3,1859.8 L877.3,1859.5 L879.4,1859.3 L881.5,1859.0 L883.6,1858.6 L885.8,1858.3 L888.0,1857.9 L890.2,1857.5 L892.5,1857.2 L894.7,1856.8 L897.0,1856.3 L899.2,1855.9 L901.4,1855.5 L903.6,1855.1 L905.8,1854.7 L907.9,1854.3 L910.0,1853.9 L912.1,1853.5 L914.2,1853.1 L916.4,1852.7 L918.5,1852.2 L920.7,1851.8 L922.8,1851.3 L924.9,1850.9 L927.1,1850.4 L929.2,1849.9 L931.4,1849.4 L933.5,1849.0 L935.6,1848.5 L937.8,1848.0 L939.9,1847.5 L942.0,1847.0 L944.0,1846.5 L946.1,1846.0 L948.2,1845.5 L950.2,1845.1 L952.2,1844.6 L954.0,1844.2 L955.9,1843.7 L957.7,1843.3 L959.5,1842.9 L961.4,1842.5 L963.2,1842.1 L965.1,1841.7 L966.9,1841.3 L968.8,1840.9 L970.6,1840.5 L972.4,1840.1 L974.3,1839.6 L976.1,1839.2 L977.9,1838.7 L979.7,1838.2 L981.4,1837.7 L983.2,1837.1 L984.9,1836.5 L986.6,1835.9 L988.3,1835.3 L989.6,1834.8 L990.9,1834.3 L992.1,1833.8 L993.4,1833.2 L994.7,1832.7 L996.0,1832.2 L997.3,1831.6 L998.5,1831.0 L999.8,1830.4 L1001.1,1829.8 L1002.3,1829.1 L1003.6,1828.4 L1004.8,1827.7 L1006.1,1826.9 L1007.3,1826.1 L1008.5,1825.3 L1009.6,1824.4 L1010.8,1823.5 L1011.9,1822.5 L1013.0,1821.4 L1013.9,1820.5 L1014.7,1819.7 L1015.5,1818.7 L1016.4,1817.8 L1017.2,1816.8 L1018.0,1815.8 L1018.8,1814.8 L1019.5,1813.7 L1020.3,1812.6 L1021.0,1811.4 L1021.6,1810.2 L1022.3,1809.0 L1022.9,1807.7 L1023.4,1806.4 L1023.9,1805.0 L1024.3,1803.6 L1024.7,1802.1 L1025.0,1800.6 L1025.1,1799.0 L1025.2,1797.3 L1025.1,1795.6 L1024.9,1793.8 L1024.6,1792.1 L1024.2,1790.5 L1023.7,1789.0 L1023.1,1787.5 L1022.5,1786.0 L1021.8,1784.6 L1021.1,1783.3 L1020.3,1782.0 L1019.5,1780.7 L1018.7,1779.4 L1017.9,1778.2 L1017.0,1777.1 L1016.2,1775.9 L1015.3,1774.8 L1014.4,1773.7 L1013.5,1772.7 L1012.7,1771.7 L1011.8,1770.7 L1010.8,1769.7 L1009.8,1768.6 L1008.8,1767.6 L1007.7,1766.6 L1006.7,1765.7 L1005.6,1764.8 L1004.5,1763.9 L1003.3,1763.0 L1002.1,1762.1 L1000.9,1761.3 L999.7,1760.4 L998.5,1759.6 L997.2,1758.8 L995.9,1758.1 L994.6,1757.3 L993.2,1756.5 L991.8,1755.8 L990.4,1755.0 L988.9,1754.3 L987.4,1753.5 L984.8,1752.2 L982.1,1751.0 L979.2,1749.7 L976.3,1748.5 L973.2,1747.3 L970.1,1746.2 L966.8,1745.0 L963.5,1743.8 L960.1,1742.7 L956.7,1741.6 L953.2,1740.4 L949.7,1739.3 L946.1,1738.2 L942.5,1737.1 L938.9,1736.0 L935.3,1734.9 L931.7,1733.9 L928.2,1732.8 L924.6,1731.8 L921.1,1730.7 L917.1,1729.6 L913.1,1728.5 L908.9,1727.5 L904.8,1726.4 L900.6,1725.5 L896.3,1724.5 L892.1,1723.6 L887.8,1722.6 L883.5,1721.7 L879.2,1720.8 L875.0,1719.9 L870.7,1718.9 L866.5,1717.9 L862.3,1716.9 L858.2,1715.9 L854.1,1714.8 L850.1,1713.6 L846.2,1712.4 L842.3,1711.2 L838.5,1709.8 L835.1,1708.5 L831.6,1707.2 L828.1,1705.8 L824.7,1704.3 L821.3,1702.9 L817.9,1701.4 L814.5,1699.8 L811.2,1698.2 L807.8,1696.7 L804.5,1695.0 L801.3,1693.4 L798.0,1691.7 L794.8,1690.0 L791.7,1688.3 L788.6,1686.6 L785.5,1684.9 L782.5,1683.1 L779.5,1681.4 L776.5,1679.6 L773.6,1677.9 L771.2,1676.3 L768.7,1674.8 L766.3,1673.2 L763.9,1671.6 L761.5,1670.1 L759.2,1668.5 L756.8,1666.9 L754.6,1665.3 L752.3,1663.6 L750.1,1662.0 L748.0,1660.4 L745.9,1658.8 L743.8,1657.1 L741.8,1655.5 L739.8,1653.9 L737.9,1652.2 L736.1,1650.6 L734.3,1649.0 L732.5,1647.4 L730.9,1645.8 L729.5,1644.4 L728.1,1643.1 L726.8,1641.7 L725.5,1640.4 L724.2,1639.0 L723.0,1637.7 L721.8,1636.4 L720.6,1635.1 L719.5,1633.7 L718.4,1632.4 L717.3,1631.1 L716.3,1629.9 L715.4,1628.6 L714.5,1627.3 L713.7,1626.1 L712.9,1624.9 L712.2,1623.7 L711.5,1622.5 L710.9,1621.4 L710.3,1620.2 L709.9,1619.3 L709.5,1618.4 L709.2,1617.5 L708.9,1616.7 L708.6,1615.9 L708.4,1615.1 L708.2,1614.3 L708.0,1613.5 L707.8,1612.7 L707.7,1611.8 L707.5,1610.9 L707.3,1609.9 L707.2,1608.8 L707.0,1607.7 L706.9,1606.4 L706.7,1605.1 L706.6,1603.7 L706.4,1602.2 L706.3,1600.5 L706.1,1598.9 L705.7,1594.7 L705.4,1590.0 L705.2,1584.8 L705.0,1579.0 L704.9,1572.9 L704.9,1566.3 L704.9,1559.5 L704.9,1552.3 L705.0,1544.9 L705.1,1537.3 L705.2,1529.6 L705.3,1521.7 L705.5,1513.8 L705.6,1505.8 L705.7,1497.9 L705.9,1490.0 L706.0,1482.2 L706.1,1474.6 L706.1,1467.2 L706.1,1460.0 L684.5,1460.0 L684.4,1467.1 L684.4,1474.4 L684.3,1481.9 L684.1,1489.6 L684.0,1497.5 L683.8,1505.4 L683.7,1513.3 L683.5,1521.3 L683.3,1529.2 L683.2,1537.0 L683.1,1544.6 L683.0,1552.1 L683.0,1559.4 L683.0,1566.5 L683.1,1573.2 L683.2,1579.6 L683.4,1585.6 L683.7,1591.2 L684.0,1596.5 L684.5,1601.1 L684.7,1602.9 L684.9,1604.5 L685.1,1606.1 L685.3,1607.6 L685.5,1609.1 L685.7,1610.5 L685.9,1611.9 L686.1,1613.3 L686.3,1614.7 L686.6,1616.0 L686.9,1617.4 L687.2,1618.7 L687.6,1620.1 L688.0,1621.5 L688.5,1622.8 L689.0,1624.2 L689.6,1625.6 L690.2,1627.0 L690.9,1628.4 L691.7,1629.8 L692.6,1631.5 L693.7,1633.2 L694.8,1634.9 L695.9,1636.5 L697.1,1638.1 L698.4,1639.7 L699.6,1641.2 L701.0,1642.7 L702.3,1644.2 L703.7,1645.6 L705.2,1647.1 L706.6,1648.5 L708.1,1649.9 L709.6,1651.3 L711.1,1652.6 L712.6,1654.0 L714.2,1655.3 L715.8,1656.6 L717.3,1657.9 L718.9,1659.2 L721.0,1660.9 L723.1,1662.5 L725.2,1664.1 L727.5,1665.7 L729.7,1667.2 L732.0,1668.8 L734.3,1670.3 L736.7,1671.8 L739.1,1673.3 L741.6,1674.8 L744.0,1676.3 L746.5,1677.7 L749.1,1679.2 L751.6,1680.6 L754.2,1682.1 L756.7,1683.5 L759.3,1684.9 L761.9,1686.3 L764.5,1687.7 L767.2,1689.1 L770.2,1690.8 L773.3,1692.4 L776.4,1694.0 L779.6,1695.7 L782.8,1697.3 L786.1,1699.0 L789.4,1700.6 L792.7,1702.3 L796.1,1703.9 L799.5,1705.5 L802.9,1707.1 L806.3,1708.7 L809.8,1710.2 L813.3,1711.7 L816.9,1713.2 L820.4,1714.7 L824.0,1716.1 L827.6,1717.5 L831.2,1718.9 L834.9,1720.2 L838.9,1721.5 L843.0,1722.8 L847.1,1724.0 L851.3,1725.2 L855.5,1726.3 L859.8,1727.3 L864.1,1728.3 L868.4,1729.3 L872.7,1730.2 L877.0,1731.1 L881.3,1732.0 L885.5,1733.0 L889.8,1733.9 L894.0,1734.8 L898.1,1735.8 L902.2,1736.8 L906.3,1737.8 L910.2,1738.9 L914.1,1740.1 L917.9,1741.3 L921.3,1742.4 L924.8,1743.5 L928.3,1744.7 L931.8,1745.9 L935.3,1747.1 L938.8,1748.3 L942.3,1749.6 L945.7,1750.8 L949.1,1752.1 L952.5,1753.4 L955.7,1754.7 L958.9,1756.0 L962.0,1757.3 L965.0,1758.6 L967.9,1759.9 L970.6,1761.3 L973.2,1762.6 L975.7,1763.9 L977.9,1765.2 L980.0,1766.5 L981.2,1767.3 L982.5,1768.2 L983.6,1769.0 L984.7,1769.8 L985.7,1770.6 L986.7,1771.4 L987.7,1772.2 L988.6,1773.0 L989.4,1773.8 L990.3,1774.6 L991.0,1775.3 L991.8,1776.1 L992.5,1776.9 L993.2,1777.7 L993.9,1778.5 L994.5,1779.3 L995.2,1780.1 L995.8,1780.9 L996.4,1781.8 L997.0,1782.7 L997.6,1783.5 L998.2,1784.4 L998.8,1785.4 L999.4,1786.3 L1000.0,1787.2 L1000.5,1788.1 L1001.1,1789.1 L1001.6,1790.0 L1002.0,1790.9 L1002.4,1791.7 L1002.8,1792.6 L1003.2,1793.4 L1003.4,1794.1 L1003.7,1794.8 L1003.9,1795.5 L1004.0,1796.0 L1004.1,1796.5 L1004.2,1796.9 L1004.2,1797.2 L1004.2,1797.5 L1004.2,1797.6 L1004.2,1797.9 L1004.2,1798.2 L1004.1,1798.6 L1004.0,1799.1 L1003.9,1799.5 L1003.8,1800.1 L1003.6,1800.6 L1003.4,1801.2 L1003.1,1801.9 L1002.8,1802.5 L1002.5,1803.2 L1002.1,1803.9 L1001.7,1804.6 L1001.3,1805.2 L1000.9,1805.9 L1000.4,1806.6 L1000.0,1807.3 L999.5,1808.0 L999.0,1808.6 L998.5,1809.2 L998.0,1809.8 L997.5,1810.3 L996.9,1810.9 L996.2,1811.5 L995.5,1812.1 L994.8,1812.7 L994.0,1813.4 L993.1,1814.0 L992.3,1814.6 L991.3,1815.2 L990.4,1815.8 L989.4,1816.4 L988.4,1817.0 L987.3,1817.6 L986.2,1818.3 L985.1,1818.9 L984.0,1819.5 L982.8,1820.1 L981.7,1820.7 L980.4,1821.4 L979.0,1822.1 L977.6,1822.7 L976.2,1823.4 L974.7,1824.0 L973.2,1824.7 L971.6,1825.3 L970.0,1825.9 L968.4,1826.5 L966.7,1827.2 L965.0,1827.8 L963.3,1828.4 L961.5,1828.9 L959.8,1829.5 L958.0,1830.1 L956.2,1830.7 L954.4,1831.3 L952.6,1831.9 L950.8,1832.4 L949.0,1833.0 L947.0,1833.6 L945.1,1834.3 L943.1,1834.9 L941.1,1835.5 L939.1,1836.1 L937.0,1836.7 L935.0,1837.3 L932.9,1837.9 L930.9,1838.5 L928.8,1839.0 L926.7,1839.6 L924.6,1840.1 L922.5,1840.7 L920.5,1841.2 L918.4,1841.7 L916.3,1842.2 L914.2,1842.7 L912.1,1843.2 L910.1,1843.7 L908.0,1844.1 L905.9,1844.5 L903.8,1845.0 L901.7,1845.4 L899.5,1845.9 L897.3,1846.3 L895.1,1846.8 L892.9,1847.2 L890.7,1847.6 L888.6,1848.0 L886.4,1848.4 L884.3,1848.8 L882.2,1849.1 L880.1,1849.4 L878.1,1849.7 L876.2,1849.9 L874.3,1850.1 L872.5,1850.3 L870.8,1850.4 L869.1,1850.4 L867.6,1850.4 L866.7,1850.4 L865.7,1850.3 L864.8,1850.3 L864.0,1850.3 L863.1,1850.2 L862.3,1850.1 L861.6,1850.1 L860.8,1850.0 L860.1,1849.9 L859.4,1849.7 L858.7,1849.6 L858.0,1849.5 L857.4,1849.3 L856.8,1849.1 L856.2,1848.9 L855.6,1848.7 L855.0,1848.5 L854.4,1848.2 L853.9,1848.0 L853.3,1847.7 L852.8,1847.4 L852.2,1847.1 L851.7,1846.7 L851.2,1846.4 L850.7,1846.0 L850.2,1845.6 L849.7,1845.2 L849.3,1844.8 L848.9,1844.4 L848.4,1844.0 L848.0,1843.5 L847.6,1843.1 L847.3,1842.7 L846.9,1842.3 L846.6,1841.9 L846.3,1841.5 L846.0,1841.1 L845.7,1840.7 L845.5,1840.3 L845.3,1840.1 L845.2,1840.0 L845.2,1839.8 L845.1,1839.7 L844.9,1839.4 L844.8,1839.0 L844.6,1838.5 L844.4,1837.9 L844.2,1837.2 L843.9,1836.5 L843.7,1835.7 L843.4,1834.8 L843.1,1833.9 L842.7,1833.0 L842.3,1832.0 L841.9,1830.9 L841.4,1829.8 L840.8,1828.7 L840.1,1827.6 L839.2,1826.5 L838.3,1825.5 L837.5,1824.6 L836.6,1823.9 L835.7,1823.1 L834.8,1822.5 L833.9,1821.8 L832.9,1821.2 L831.9,1820.6 L830.9,1820.1 L829.9,1819.6 L828.9,1819.1 L827.8,1818.6 L826.7,1818.2 L825.6,1817.8 L824.5,1817.4 L823.4,1817.0 L822.2,1816.7 L821.1,1816.3 L819.9,1816.0 L818.7,1815.7 L817.4,1815.4 L815.3,1814.9 L813.0,1814.5 L810.6,1814.2 L808.1,1813.9 L805.5,1813.7 L802.9,1813.5 L800.2,1813.3 L797.4,1813.2 L794.6,1813.1 L791.8,1813.0 L788.9,1812.9 L786.0,1812.9 L783.1,1812.9 L780.3,1812.9 L777.4,1812.9 L774.7,1812.9 L771.9,1812.9 L769.2,1813.0 L766.7,1813.0 L764.2,1813.0 L762.0,1813.0 L759.8,1813.0 L757.6,1813.1 L755.4,1813.1 L753.2,1813.1 L751.0,1813.2 L748.8,1813.3 L746.6,1813.3 L744.5,1813.4 L742.3,1813.5 L740.2,1813.6 L738.1,1813.7 L736.0,1813.9 L733.9,1814.0 L731.9,1814.2 L729.8,1814.4 L727.8,1814.6 L725.8,1814.8 L723.9,1815.0 L721.9,1815.3 L720.4,1815.5 L718.8,1815.7 L717.2,1815.9 L715.6,1816.1 L714.0,1816.4 L712.4,1816.6 L710.7,1816.8 L709.1,1817.1 L707.5,1817.4 L705.9,1817.7 L704.3,1818.0 L702.7,1818.3 L701.2,1818.7 L699.7,1819.1 L698.2,1819.6 L696.7,1820.1 L695.3,1820.6 L693.9,1821.3 L692.5,1822.0 L691.2,1822.7 L690.3,1823.3 L689.6,1823.8 L688.8,1824.4 L688.0,1825.0 L687.3,1825.7 L686.5,1826.3 L685.8,1827.0 L685.2,1827.7 L684.5,1828.4 L683.9,1829.2 L683.2,1830.0 L682.7,1830.8 L682.1,1831.7 L681.6,1832.6 L681.1,1833.5 L680.7,1834.6 L680.4,1835.7 L680.2,1836.9 L680.0,1838.2 L680.1,1839.7 L680.4,1841.4 L680.9,1843.1 L681.7,1844.5 L682.4,1845.6 L683.2,1846.5 L684.0,1847.3 L684.7,1847.9 L685.4,1848.5 L686.1,1849.0 L686.7,1849.5 L687.2,1849.9 L687.7,1850.2 L688.2,1850.6 L688.6,1850.8 L688.9,1851.1 L689.1,1851.2 L689.2,1851.3 L689.2,1851.3 L689.1,1851.1 L689.1,1851.0 L689.2,1851.1 L689.4,1851.5 L689.6,1851.8 L689.8,1852.1 L690.0,1852.5 L690.2,1852.8 L690.3,1853.1 L690.5,1853.3 L690.6,1853.6 L690.8,1853.8 L690.9,1854.0 L691.0,1854.1 L691.0,1854.2 L691.1,1854.2 L691.1,1854.1 L691.2,1853.9 L691.3,1853.7 L691.4,1853.4 L691.6,1853.0 L692.0,1852.4 L692.3,1852.1 L692.6,1851.9 L692.8,1851.9 L692.8,1852.0 L692.6,1852.2 L692.3,1852.5 L691.9,1852.8 L691.4,1853.1 L690.7,1853.4 L690.0,1853.7 L689.2,1854.0 L688.4,1854.3 L687.5,1854.6 L686.6,1855.0 L685.6,1855.2 L684.6,1855.5 L683.6,1855.8 L682.5,1856.1 L681.5,1856.4 L680.5,1856.7 L679.0,1857.1 L677.4,1857.4 L675.7,1857.8 L673.9,1858.1 L672.0,1858.3 L670.1,1858.6 L668.0,1858.8 L666.0,1859.0 L663.9,1859.2 L661.7,1859.3 L659.5,1859.5 L657.3,1859.6 L655.1,1859.7 L652.9,1859.8 L650.7,1860.0 L648.4,1860.1 L646.3,1860.2 L644.1,1860.3 L642.0,1860.4 L639.9,1860.5 L637.9,1860.6 L636.0,1860.7 L634.1,1860.8 L632.2,1860.9 L630.4,1861.0 L628.6,1861.0 L626.9,1861.1 L625.1,1861.2 L623.3,1861.2 L621.5,1861.2 L619.6,1861.3 L617.7,1861.3 L615.8,1861.3 L613.8,1861.4 L611.7,1861.4 L609.6,1861.4 L607.3,1861.4 L605.0,1861.5 L602.5,1861.5 L600.0,1861.5 L594.6,1861.5 L588.8,1861.6 L582.6,1861.6 L576.0,1861.6 L569.1,1861.5 L561.8,1861.5 L554.3,1861.5 L546.6,1861.4 L538.6,1861.4 L530.6,1861.3 L522.4,1861.2 L514.1,1861.1 L505.8,1861.1 L497.5,1861.0 L489.3,1860.9 L481.1,1860.8 L473.1,1860.7 L465.2,1860.7 L457.5,1860.6 L450.0,1860.5 L443.0,1860.5 L436.0,1860.4 L428.9,1860.4 L421.9,1860.5 L414.8,1860.5 L407.8,1860.5 L400.7,1860.6 L393.7,1860.6 L386.7,1860.7 L379.7,1860.7 L372.8,1860.7 L366.0,1860.6 L359.2,1860.6 L352.4,1860.5 L345.8,1860.3 L339.2,1860.2 L332.7,1859.9 L326.3,1859.6 L320.0,1859.2 L313.8,1858.8 L308.8,1858.4 L303.8,1857.9 L298.8,1857.5 L294.0,1856.9 L289.1,1856.4 L284.3,1855.8 L279.6,1855.2 L274.8,1854.5 L270.2,1853.9 L265.6,1853.2 L261.0,1852.5 L256.4,1851.8 L251.9,1851.0 L247.4,1850.3 L243.0,1849.5 L238.6,1848.7 L234.2,1847.9 L229.8,1847.2 L225.5,1846.4 L221.1,1845.6 L217.3,1844.9 L213.5,1844.2 L209.7,1843.5 L205.9,1842.8 L202.1,1842.1 L198.4,1841.4 L194.6,1840.7 L190.9,1839.9 L187.2,1839.2 L183.6,1838.5 L180.0,1837.7 L176.5,1836.9 L173.1,1836.1 L169.7,1835.3 L166.5,1834.4 L163.3,1833.6 L160.3,1832.7 L157.4,1831.7 L154.6,1830.8 L152.0,1829.8 L150.2,1829.1 L148.5,1828.4 L146.7,1827.7 L145.1,1827.0 L143.4,1826.4 L141.9,1825.7 L140.4,1825.0 L138.9,1824.3 L137.5,1823.6 L136.2,1822.9 L134.9,1822.2 L133.6,1821.4 L132.5,1820.7 L131.4,1820.0 L130.3,1819.2 L129.4,1818.5 L128.4,1817.7 L127.6,1816.9 L126.8,1816.1 L126.0,1815.3 L125.2,1814.4 L124.5,1813.5 L123.7,1812.6 L123.0,1811.7 L122.3,1810.8 L121.6,1809.8 L121.0,1808.9 L120.4,1807.9 L119.9,1807.0 L119.4,1806.1 L119.0,1805.3 L118.7,1804.4 L118.4,1803.7 L118.2,1803.0 L118.0,1802.3 L117.9,1801.8 L117.8,1801.3 L117.8,1800.9 L117.8,1800.6 L117.8,1800.5 L117.8,1799.9 L117.9,1799.3 L118.0,1798.4 L118.3,1797.3 L118.7,1796.0 L119.2,1794.6 L119.8,1793.1 L120.5,1791.5 L121.3,1789.9 L122.2,1788.2 L123.2,1786.4 L124.3,1784.7 L125.5,1783.0 L126.7,1781.3 L127.9,1779.6 L129.2,1777.9 L130.6,1776.4 L131.9,1774.9 L133.3,1773.5 L134.6,1772.2 L136.1,1770.9 L137.6,1769.7 L139.3,1768.6 L141.1,1767.5 L143.1,1766.4 L145.1,1765.4 L147.3,1764.4 L149.5,1763.5 L151.8,1762.6 L154.1,1761.7 L156.6,1760.8 L159.1,1760.0 L161.6,1759.1 L164.1,1758.3 L166.7,1757.4 L169.3,1756.6 L171.8,1755.7 L174.4,1754.8 L177.0,1753.8 L179.5,1752.9 L182.0,1751.8 L184.6,1750.8 L187.1,1749.8 L189.6,1748.8 L192.1,1747.8 L194.7,1746.9 L197.2,1745.9 L199.7,1744.9 L202.3,1743.9 L204.8,1743.0 L207.4,1742.0 L210.0,1741.1 L212.6,1740.1 L215.2,1739.2 L217.8,1738.3 L220.4,1737.4 L223.1,1736.4 L225.8,1735.5 L228.5,1734.6 L231.2,1733.8 L234.3,1732.8 L237.3,1731.9 L240.5,1731.0 L243.6,1730.1 L246.9,1729.3 L250.1,1728.4 L253.4,1727.6 L256.7,1726.8 L260.0,1726.0 L263.4,1725.1 L266.8,1724.3 L270.1,1723.5 L273.5,1722.6 L276.9,1721.7 L280.3,1720.8 L283.6,1719.8 L287.0,1718.8 L290.3,1717.8 L293.6,1716.7 L296.9,1715.6 L300.1,1714.4 L303.3,1713.2 L306.5,1711.9 L309.7,1710.7 L312.8,1709.4 L316.0,1708.0 L319.2,1706.7 L322.3,1705.3 L325.4,1703.9 L328.5,1702.5 L331.6,1701.1 L334.7,1699.7 L337.8,1698.2 L340.8,1696.8 L343.8,1695.4 L346.8,1693.9 L349.8,1692.5 L352.7,1691.1 L355.6,1689.7 L358.5,1688.3 L361.1,1687.0 L363.8,1685.7 L366.4,1684.5 L369.0,1683.2 L371.7,1681.9 L374.3,1680.6 L377.0,1679.3 L379.6,1678.0 L382.2,1676.7 L384.8,1675.4 L387.4,1674.1 L389.9,1672.7 L392.4,1671.4 L394.9,1670.0 L397.3,1668.7 L399.6,1667.3 L401.9,1665.9 L404.2,1664.5 L406.4,1663.1 L408.4,1661.7 L410.0,1660.6 L411.4,1659.5 L412.9,1658.5 L414.3,1657.4 L415.8,1656.3 L417.2,1655.3 L418.6,1654.2 L419.9,1653.1 L421.2,1651.9 L422.5,1650.8 L423.8,1649.7 L425.1,1648.5 L426.3,1647.4 L427.5,1646.2 L428.6,1645.0 L429.7,1643.8 L430.8,1642.6 L431.8,1641.4 L432.8,1640.1 L433.7,1638.9 L434.4,1637.9 L435.0,1636.9 L435.6,1636.0 L436.1,1635.0 L436.7,1634.0 L437.1,1633.1 L437.6,1632.1 L438.0,1631.2 L438.4,1630.2 L438.8,1629.3 L439.1,1628.4 L439.4,1627.5 L439.7,1626.6 L440.0,1625.7 L440.3,1624.8 L440.5,1624.0 L440.8,1623.1 L441.0,1622.3 L441.2,1621.4 L441.4,1620.6 L441.7,1619.6 L441.9,1618.6 L442.1,1617.7 L442.3,1616.7 L442.5,1615.8 L442.6,1614.9 L442.8,1613.9 L442.9,1613.0 L443.0,1612.1 L443.1,1611.2 L443.2,1610.2 L443.2,1609.3 L443.3,1608.3 L443.4,1607.4 L443.4,1606.3 L443.5,1605.3 L443.5,1604.2 L443.6,1603.1 L443.7,1601.8 L443.7,1600.5 L443.9,1596.4 L444.1,1591.6 L444.2,1586.4 L444.3,1580.6 L444.3,1574.4 L444.4,1567.7 L444.4,1560.8 L444.3,1553.5 L444.3,1546.0 L444.3,1538.2 L444.2,1530.3 L444.1,1522.3 L444.1,1514.2 L444.0,1506.1 L443.9,1498.0 L443.9,1490.0 L443.8,1482.2 L443.8,1474.5 L443.8,1467.1 L443.7,1460.0Z" fill="#9b7399"/><path d="M428.0,1460.0 L428.0,1467.2 L428.1,1474.6 L428.1,1482.3 L428.1,1490.2 L428.2,1498.1 L428.3,1506.2 L428.3,1514.3 L428.4,1522.4 L428.4,1530.4 L428.5,1538.3 L428.5,1546.0 L428.6,1553.5 L428.6,1560.8 L428.6,1567.7 L428.6,1574.3 L428.5,1580.4 L428.4,1586.1 L428.3,1591.2 L428.2,1595.8 L428.0,1599.8 L428.0,1601.0 L427.9,1602.3 L427.8,1603.4 L427.8,1604.5 L427.7,1605.5 L427.7,1606.4 L427.6,1607.3 L427.6,1608.2 L427.5,1609.0 L427.5,1609.8 L427.4,1610.5 L427.3,1611.2 L427.2,1611.9 L427.1,1612.6 L427.0,1613.3 L426.9,1613.9 L426.8,1614.6 L426.6,1615.3 L426.5,1616.1 L426.3,1616.9 L426.1,1617.6 L425.9,1618.4 L425.7,1619.1 L425.5,1619.8 L425.3,1620.6 L425.1,1621.2 L424.9,1621.9 L424.7,1622.6 L424.5,1623.3 L424.3,1623.9 L424.0,1624.6 L423.8,1625.2 L423.5,1625.8 L423.2,1626.5 L422.9,1627.1 L422.6,1627.8 L422.3,1628.4 L421.9,1629.0 L421.5,1629.7 L421.1,1630.4 L420.4,1631.3 L419.8,1632.3 L419.0,1633.3 L418.2,1634.3 L417.4,1635.3 L416.5,1636.3 L415.6,1637.4 L414.7,1638.4 L413.7,1639.5 L412.6,1640.5 L411.6,1641.6 L410.5,1642.7 L409.3,1643.7 L408.1,1644.8 L406.9,1645.9 L405.7,1647.0 L404.5,1648.1 L403.2,1649.1 L401.9,1650.2 L400.6,1651.3 L398.7,1652.7 L396.8,1654.1 L394.9,1655.6 L392.8,1657.0 L390.7,1658.4 L388.5,1659.9 L386.3,1661.4 L384.0,1662.8 L381.7,1664.3 L379.3,1665.7 L376.8,1667.2 L374.4,1668.6 L371.9,1670.0 L369.4,1671.5 L366.9,1672.9 L364.3,1674.3 L361.8,1675.7 L359.2,1677.1 L356.7,1678.5 L354.1,1679.9 L351.3,1681.4 L348.5,1682.9 L345.7,1684.4 L342.8,1685.9 L339.8,1687.5 L336.9,1689.0 L333.9,1690.4 L331.0,1691.9 L328.0,1693.4 L324.9,1694.8 L321.9,1696.3 L318.8,1697.7 L315.8,1699.1 L312.7,1700.5 L309.6,1701.8 L306.5,1703.1 L303.4,1704.4 L300.3,1705.7 L297.2,1706.9 L294.1,1708.1 L291.0,1709.2 L287.8,1710.3 L284.6,1711.4 L281.4,1712.4 L278.1,1713.4 L274.8,1714.3 L271.5,1715.3 L268.2,1716.2 L264.9,1717.0 L261.5,1717.9 L258.2,1718.8 L254.9,1719.6 L251.6,1720.5 L248.3,1721.4 L245.0,1722.2 L241.7,1723.1 L238.5,1724.0 L235.3,1724.9 L232.1,1725.9 L229.0,1726.9 L226.2,1727.8 L223.5,1728.7 L220.8,1729.6 L218.1,1730.5 L215.4,1731.4 L212.8,1732.3 L210.1,1733.2 L207.5,1734.2 L204.9,1735.1 L202.3,1736.0 L199.7,1737.0 L197.1,1737.9 L194.6,1738.9 L192.0,1739.8 L189.5,1740.7 L186.9,1741.7 L184.4,1742.6 L181.8,1743.5 L179.3,1744.5 L176.7,1745.4 L174.3,1746.2 L171.8,1747.0 L169.3,1747.8 L166.8,1748.6 L164.2,1749.3 L161.7,1750.0 L159.1,1750.8 L156.5,1751.5 L153.9,1752.2 L151.4,1753.0 L148.8,1753.8 L146.3,1754.6 L143.8,1755.5 L141.4,1756.4 L139.0,1757.4 L136.6,1758.5 L134.3,1759.6 L132.1,1760.9 L130.0,1762.2 L127.9,1763.6 L126.2,1765.0 L124.4,1766.4 L122.6,1767.9 L120.9,1769.5 L119.1,1771.1 L117.4,1772.8 L115.7,1774.6 L114.1,1776.3 L112.5,1778.2 L111.0,1780.0 L109.5,1781.9 L108.2,1783.8 L106.9,1785.8 L105.8,1787.7 L104.7,1789.7 L103.8,1791.7 L103.0,1793.7 L102.4,1795.7 L102.0,1797.8 L101.9,1799.8 L101.9,1801.5 L102.0,1803.1 L102.3,1804.7 L102.8,1806.2 L103.3,1807.7 L103.9,1809.1 L104.6,1810.5 L105.3,1811.8 L106.2,1813.1 L107.0,1814.4 L108.0,1815.6 L108.9,1816.8 L109.9,1818.0 L110.9,1819.1 L112.0,1820.1 L113.0,1821.2 L114.1,1822.2 L115.2,1823.2 L116.2,1824.1 L117.3,1825.0 L118.6,1826.0 L119.9,1827.0 L121.3,1828.0 L122.7,1828.8 L124.1,1829.6 L125.6,1830.4 L127.1,1831.1 L128.6,1831.8 L130.1,1832.5 L131.7,1833.1 L133.3,1833.8 L135.0,1834.3 L136.6,1834.9 L138.3,1835.5 L140.1,1836.0 L141.8,1836.6 L143.6,1837.1 L145.4,1837.7 L147.2,1838.2 L149.1,1838.8 L152.0,1839.6 L155.0,1840.4 L158.1,1841.2 L161.3,1842.0 L164.6,1842.7 L167.9,1843.4 L171.4,1844.1 L174.9,1844.7 L178.5,1845.4 L182.2,1846.0 L185.9,1846.7 L189.6,1847.3 L193.4,1847.9 L197.2,1848.5 L201.0,1849.1 L204.8,1849.7 L208.6,1850.2 L212.5,1850.8 L216.3,1851.4 L220.1,1852.0 L224.4,1852.7 L228.8,1853.4 L233.2,1854.0 L237.6,1854.7 L242.0,1855.4 L246.5,1856.1 L251.0,1856.8 L255.6,1857.4 L260.2,1858.1 L264.8,1858.7 L269.4,1859.4 L274.1,1860.0 L278.9,1860.5 L283.7,1861.1 L288.5,1861.6 L293.4,1862.2 L298.4,1862.6 L303.3,1863.1 L308.4,1863.5 L313.5,1863.9 L319.7,1864.3 L326.1,1864.6 L332.5,1864.9 L339.0,1865.1 L345.7,1865.3 L352.4,1865.4 L359.1,1865.5 L365.9,1865.6 L372.8,1865.6 L379.7,1865.6 L386.7,1865.6 L393.7,1865.6 L400.7,1865.6 L407.8,1865.6 L414.8,1865.5 L421.9,1865.5 L428.9,1865.5 L436.0,1865.5 L443.0,1865.5 L450.0,1865.6 L457.4,1865.6 L465.1,1865.7 L473.0,1865.8 L481.1,1865.9 L489.2,1866.0 L497.5,1866.1 L505.8,1866.1 L514.1,1866.2 L522.3,1866.3 L530.5,1866.4 L538.6,1866.4 L546.5,1866.5 L554.3,1866.5 L561.8,1866.6 L569.1,1866.6 L576.0,1866.6 L582.6,1866.6 L588.8,1866.6 L594.7,1866.6 L600.0,1866.6 L602.6,1866.5 L605.0,1866.5 L607.4,1866.5 L609.6,1866.5 L611.8,1866.4 L613.9,1866.4 L615.9,1866.3 L617.8,1866.3 L619.7,1866.2 L621.6,1866.2 L623.4,1866.1 L625.2,1866.1 L627.0,1866.0 L628.8,1866.0 L630.6,1865.9 L632.4,1865.8 L634.3,1865.8 L636.1,1865.7 L638.1,1865.6 L640.1,1865.6 L642.1,1865.5 L644.2,1865.5 L646.4,1865.4 L648.6,1865.4 L650.8,1865.3 L653.0,1865.3 L655.3,1865.3 L657.5,1865.3 L659.7,1865.2 L661.9,1865.2 L664.1,1865.1 L666.3,1865.1 L668.4,1865.0 L670.5,1864.9 L672.6,1864.8 L674.5,1864.6 L676.5,1864.5 L678.3,1864.3 L680.1,1864.1 L681.8,1863.8 L682.9,1863.6 L683.9,1863.5 L685.0,1863.3 L686.0,1863.2 L687.1,1863.0 L688.2,1862.9 L689.2,1862.7 L690.3,1862.5 L691.3,1862.3 L692.3,1862.1 L693.3,1861.9 L694.3,1861.6 L695.2,1861.3 L696.1,1861.0 L697.0,1860.6 L697.8,1860.2 L698.6,1859.7 L699.4,1859.1 L700.1,1858.4 L700.7,1857.6 L701.1,1856.8 L701.4,1856.1 L701.6,1855.4 L701.7,1854.7 L701.7,1854.0 L701.7,1853.3 L701.7,1852.6 L701.6,1852.0 L701.5,1851.3 L701.3,1850.7 L701.2,1850.1 L701.0,1849.5 L700.8,1848.9 L700.6,1848.3 L700.3,1847.8 L700.1,1847.2 L699.9,1846.7 L699.6,1846.2 L699.4,1845.7 L699.1,1845.2 L698.7,1844.5 L698.2,1843.8 L697.6,1843.1 L697.0,1842.6 L696.4,1842.1 L695.9,1841.6 L695.3,1841.1 L694.7,1840.7 L694.2,1840.3 L693.7,1839.9 L693.2,1839.6 L692.8,1839.3 L692.4,1838.9 L692.1,1838.7 L691.8,1838.4 L691.6,1838.3 L691.6,1838.2 L691.5,1838.2 L691.6,1838.3 L691.6,1838.4 L691.6,1838.4 L691.6,1838.2 L691.6,1838.0 L691.6,1837.7 L691.7,1837.3 L691.8,1836.9 L692.0,1836.5 L692.2,1836.1 L692.4,1835.6 L692.7,1835.1 L693.0,1834.6 L693.3,1834.1 L693.7,1833.6 L694.0,1833.1 L694.5,1832.6 L694.9,1832.1 L695.3,1831.6 L695.8,1831.2 L696.3,1830.8 L696.7,1830.4 L697.5,1829.8 L698.3,1829.3 L699.2,1828.8 L700.2,1828.3 L701.3,1827.8 L702.5,1827.3 L703.7,1826.9 L705.0,1826.4 L706.4,1826.0 L707.8,1825.7 L709.3,1825.3 L710.8,1824.9 L712.3,1824.6 L713.8,1824.3 L715.4,1823.9 L716.9,1823.6 L718.5,1823.3 L720.1,1823.0 L721.6,1822.7 L723.2,1822.4 L725.0,1822.1 L726.9,1821.7 L728.8,1821.4 L730.7,1821.1 L732.7,1820.9 L734.6,1820.6 L736.7,1820.4 L738.7,1820.2 L740.7,1820.0 L742.8,1819.8 L744.9,1819.6 L747.0,1819.4 L749.1,1819.3 L751.2,1819.2 L753.4,1819.1 L755.5,1819.0 L757.7,1818.9 L759.9,1818.9 L762.0,1818.8 L764.2,1818.8 L766.7,1818.8 L769.3,1818.8 L772.0,1818.7 L774.7,1818.7 L777.4,1818.7 L780.2,1818.8 L783.1,1818.8 L785.9,1818.9 L788.7,1818.9 L791.5,1819.0 L794.3,1819.2 L797.0,1819.4 L799.7,1819.6 L802.3,1819.8 L804.8,1820.1 L807.2,1820.5 L809.4,1820.9 L811.6,1821.3 L813.5,1821.8 L815.4,1822.4 L816.4,1822.7 L817.5,1823.1 L818.5,1823.5 L819.4,1823.9 L820.4,1824.3 L821.3,1824.8 L822.1,1825.2 L823.0,1825.7 L823.8,1826.1 L824.6,1826.6 L825.3,1827.1 L826.0,1827.6 L826.7,1828.1 L827.3,1828.7 L827.9,1829.2 L828.5,1829.8 L829.1,1830.3 L829.6,1830.9 L830.1,1831.5 L830.6,1832.0 L830.9,1832.5 L831.2,1833.0 L831.4,1833.5 L831.6,1834.0 L831.9,1834.7 L832.1,1835.3 L832.2,1836.0 L832.4,1836.8 L832.6,1837.6 L832.7,1838.4 L832.9,1839.2 L833.1,1840.1 L833.3,1840.9 L833.5,1841.8 L833.8,1842.7 L834.1,1843.7 L834.5,1844.6 L835.0,1845.5 L835.5,1846.4 L836.2,1847.2 L836.8,1847.9 L837.3,1848.5 L838.0,1849.1 L838.6,1849.7 L839.2,1850.2 L839.9,1850.7 L840.6,1851.2 L841.3,1851.7 L842.0,1852.1 L842.7,1852.6 L843.5,1853.0 L844.2,1853.4 L845.0,1853.7 L845.7,1854.1 L846.5,1854.4 L847.2,1854.7 L848.0,1855.0 L848.7,1855.3 L849.5,1855.6 L850.2,1855.8 L851.1,1856.1 L851.9,1856.3 L852.7,1856.5 L853.5,1856.7 L854.3,1856.9 L855.1,1857.1 L856.0,1857.2 L856.8,1857.3 L857.6,1857.4 L858.5,1857.5 L859.3,1857.6 L860.2,1857.6 L861.1,1857.6 L862.0,1857.7 L862.9,1857.7 L863.8,1857.7 L864.8,1857.7 L865.7,1857.7 L866.7,1857.7 L867.7,1857.6 L869.4,1857.6 L871.2,1857.5 L873.1,1857.3 L875.0,1857.1 L877.0,1856.9 L879.0,1856.6 L881.1,1856.3 L883.2,1856.0 L885.4,1855.7 L887.6,1855.3 L889.8,1854.9 L892.0,1854.5 L894.2,1854.1 L896.5,1853.7 L898.7,1853.3 L900.9,1852.9 L903.1,1852.4 L905.2,1852.0 L907.4,1851.6 L909.4,1851.2 L911.5,1850.8 L913.7,1850.4 L915.8,1849.9 L917.9,1849.5 L920.0,1849.0 L922.2,1848.5 L924.3,1848.1 L926.4,1847.6 L928.5,1847.1 L930.7,1846.6 L932.8,1846.1 L934.9,1845.6 L937.0,1845.0 L939.1,1844.5 L941.2,1844.0 L943.2,1843.5 L945.3,1843.0 L947.3,1842.4 L949.3,1841.9 L951.3,1841.4 L953.1,1840.9 L955.0,1840.5 L956.8,1840.0 L958.6,1839.6 L960.4,1839.1 L962.3,1838.7 L964.1,1838.2 L965.9,1837.8 L967.7,1837.3 L969.5,1836.8 L971.3,1836.3 L973.1,1835.9 L974.8,1835.3 L976.6,1834.8 L978.3,1834.3 L980.0,1833.7 L981.7,1833.2 L983.3,1832.6 L984.9,1831.9 L986.5,1831.3 L987.7,1830.7 L989.0,1830.2 L990.2,1829.7 L991.4,1829.1 L992.7,1828.6 L993.9,1828.0 L995.1,1827.4 L996.3,1826.8 L997.5,1826.2 L998.7,1825.6 L999.8,1824.9 L1000.9,1824.3 L1002.1,1823.6 L1003.2,1822.9 L1004.2,1822.1 L1005.3,1821.3 L1006.3,1820.5 L1007.3,1819.7 L1008.2,1818.8 L1009.1,1817.9 L1009.9,1817.1 L1010.6,1816.3 L1011.4,1815.4 L1012.1,1814.5 L1012.8,1813.6 L1013.5,1812.7 L1014.2,1811.8 L1014.8,1810.8 L1015.5,1809.8 L1016.1,1808.8 L1016.6,1807.8 L1017.1,1806.7 L1017.6,1805.6 L1018.1,1804.5 L1018.5,1803.4 L1018.8,1802.2 L1019.1,1801.0 L1019.3,1799.8 L1019.4,1798.6 L1019.4,1797.4 L1019.4,1796.0 L1019.2,1794.7 L1019.0,1793.4 L1018.6,1792.0 L1018.2,1790.8 L1017.8,1789.5 L1017.2,1788.3 L1016.7,1787.0 L1016.1,1785.8 L1015.4,1784.6 L1014.7,1783.5 L1014.0,1782.3 L1013.2,1781.2 L1012.5,1780.1 L1011.7,1779.0 L1010.9,1778.0 L1010.1,1776.9 L1009.3,1775.9 L1008.5,1775.0 L1007.7,1774.0 L1006.9,1773.0 L1006.0,1772.0 L1005.0,1771.1 L1004.1,1770.1 L1003.2,1769.2 L1002.2,1768.3 L1001.2,1767.4 L1000.1,1766.6 L999.1,1765.7 L998.0,1764.9 L996.9,1764.1 L995.8,1763.3 L994.6,1762.5 L993.4,1761.7 L992.1,1761.0 L990.9,1760.2 L989.5,1759.4 L988.2,1758.6 L986.8,1757.9 L985.3,1757.1 L982.9,1755.8 L980.3,1754.5 L977.6,1753.3 L974.7,1752.0 L971.8,1750.8 L968.7,1749.6 L965.5,1748.4 L962.3,1747.2 L958.9,1746.0 L955.5,1744.8 L952.1,1743.6 L948.6,1742.5 L945.0,1741.3 L941.5,1740.2 L937.9,1739.1 L934.3,1738.0 L930.8,1736.9 L927.2,1735.8 L923.7,1734.7 L920.2,1733.6 L916.3,1732.5 L912.3,1731.4 L908.2,1730.3 L904.1,1729.3 L899.9,1728.3 L895.7,1727.4 L891.4,1726.4 L887.2,1725.5 L882.9,1724.6 L878.6,1723.6 L874.3,1722.7 L870.1,1721.7 L865.8,1720.8 L861.6,1719.8 L857.4,1718.7 L853.3,1717.6 L849.3,1716.5 L845.3,1715.3 L841.4,1714.0 L837.5,1712.7 L834.0,1711.4 L830.5,1710.0 L827.0,1708.6 L823.5,1707.2 L820.1,1705.7 L816.6,1704.2 L813.2,1702.7 L809.8,1701.1 L806.5,1699.5 L803.1,1697.9 L799.8,1696.3 L796.6,1694.6 L793.3,1692.9 L790.1,1691.3 L787.0,1689.6 L783.9,1687.8 L780.8,1686.1 L777.8,1684.4 L774.8,1682.7 L771.9,1681.0 L769.3,1679.5 L766.8,1678.0 L764.4,1676.4 L761.9,1674.9 L759.5,1673.4 L757.1,1671.8 L754.7,1670.3 L752.4,1668.7 L750.0,1667.1 L747.8,1665.5 L745.5,1663.9 L743.3,1662.3 L741.2,1660.7 L739.1,1659.1 L737.0,1657.5 L735.0,1655.9 L733.1,1654.3 L731.2,1652.7 L729.4,1651.1 L727.6,1649.5 L726.2,1648.1 L724.7,1646.8 L723.3,1645.5 L722.0,1644.1 L720.6,1642.8 L719.3,1641.4 L718.0,1640.1 L716.7,1638.7 L715.5,1637.4 L714.3,1636.1 L713.2,1634.7 L712.1,1633.4 L711.1,1632.1 L710.1,1630.7 L709.1,1629.4 L708.2,1628.1 L707.4,1626.8 L706.6,1625.5 L705.9,1624.2 L705.2,1622.8 L704.7,1621.8 L704.2,1620.7 L703.8,1619.7 L703.4,1618.7 L703.1,1617.8 L702.8,1616.9 L702.5,1615.9 L702.3,1615.0 L702.1,1614.0 L701.9,1613.0 L701.7,1611.9 L701.5,1610.8 L701.3,1609.7 L701.2,1608.5 L701.0,1607.2 L700.8,1605.8 L700.7,1604.4 L700.5,1602.8 L700.3,1601.2 L700.2,1599.5 L699.8,1595.2 L699.4,1590.3 L699.2,1585.0 L699.0,1579.2 L698.9,1573.0 L698.8,1566.4 L698.8,1559.5 L698.9,1552.3 L698.9,1544.8 L699.0,1537.2 L699.2,1529.4 L699.3,1521.6 L699.5,1513.6 L699.6,1505.7 L699.8,1497.8 L699.9,1489.9 L700.0,1482.2 L700.1,1474.6 L700.2,1467.2 L700.2,1460.0 L690.4,1460.0 L690.4,1467.1 L690.3,1474.5 L690.2,1482.0 L690.1,1489.7 L690.0,1497.6 L689.8,1505.5 L689.7,1513.5 L689.5,1521.4 L689.4,1529.3 L689.2,1537.1 L689.1,1544.7 L689.0,1552.2 L689.0,1559.4 L689.0,1566.4 L689.1,1573.1 L689.2,1579.4 L689.4,1585.4 L689.6,1590.9 L690.0,1596.0 L690.4,1600.5 L690.6,1602.3 L690.8,1603.9 L691.0,1605.4 L691.2,1606.9 L691.4,1608.4 L691.5,1609.7 L691.7,1611.1 L691.9,1612.4 L692.1,1613.6 L692.4,1614.9 L692.6,1616.1 L692.9,1617.3 L693.3,1618.5 L693.6,1619.7 L694.0,1620.9 L694.5,1622.1 L695.0,1623.4 L695.5,1624.6 L696.1,1625.9 L696.8,1627.2 L697.6,1628.7 L698.6,1630.3 L699.5,1631.8 L700.6,1633.3 L701.7,1634.8 L702.8,1636.3 L704.0,1637.7 L705.2,1639.2 L706.5,1640.6 L707.8,1642.0 L709.1,1643.4 L710.5,1644.8 L711.8,1646.2 L713.3,1647.5 L714.7,1648.9 L716.2,1650.2 L717.7,1651.6 L719.2,1652.9 L720.7,1654.2 L722.2,1655.5 L724.2,1657.2 L726.2,1658.8 L728.2,1660.4 L730.3,1662.0 L732.5,1663.6 L734.7,1665.1 L736.9,1666.7 L739.2,1668.2 L741.6,1669.8 L743.9,1671.3 L746.3,1672.8 L748.7,1674.3 L751.2,1675.8 L753.7,1677.3 L756.2,1678.8 L758.7,1680.2 L761.2,1681.7 L763.8,1683.2 L766.4,1684.6 L768.9,1686.0 L772.0,1687.7 L775.0,1689.4 L778.1,1691.0 L781.2,1692.7 L784.4,1694.4 L787.6,1696.1 L790.9,1697.7 L794.2,1699.4 L797.5,1701.0 L800.9,1702.6 L804.2,1704.2 L807.7,1705.8 L811.1,1707.4 L814.6,1708.9 L818.1,1710.4 L821.6,1711.8 L825.1,1713.3 L828.7,1714.7 L832.3,1716.0 L835.9,1717.3 L839.8,1718.7 L843.8,1720.0 L847.9,1721.2 L852.1,1722.3 L856.3,1723.4 L860.5,1724.4 L864.7,1725.4 L869.0,1726.4 L873.3,1727.4 L877.6,1728.3 L881.9,1729.2 L886.2,1730.1 L890.4,1731.1 L894.6,1732.0 L898.8,1733.0 L902.9,1734.0 L907.0,1735.0 L911.0,1736.1 L914.9,1737.2 L918.8,1738.4 L922.2,1739.5 L925.7,1740.6 L929.2,1741.7 L932.8,1742.9 L936.3,1744.1 L939.8,1745.3 L943.3,1746.5 L946.8,1747.7 L950.2,1748.9 L953.6,1750.1 L956.9,1751.4 L960.2,1752.7 L963.3,1753.9 L966.4,1755.2 L969.3,1756.5 L972.2,1757.8 L974.9,1759.1 L977.4,1760.4 L979.8,1761.6 L982.1,1762.9 L983.4,1763.7 L984.6,1764.6 L985.9,1765.4 L987.0,1766.1 L988.2,1766.9 L989.3,1767.7 L990.3,1768.5 L991.3,1769.3 L992.3,1770.1 L993.2,1770.9 L994.1,1771.7 L995.0,1772.5 L995.8,1773.3 L996.6,1774.1 L997.4,1775.0 L998.2,1775.8 L998.9,1776.7 L999.6,1777.6 L1000.4,1778.5 L1001.1,1779.4 L1001.7,1780.3 L1002.4,1781.2 L1003.1,1782.2 L1003.8,1783.1 L1004.4,1784.1 L1005.1,1785.1 L1005.7,1786.1 L1006.3,1787.1 L1006.8,1788.1 L1007.4,1789.0 L1007.8,1790.0 L1008.3,1791.0 L1008.7,1791.9 L1009.0,1792.8 L1009.3,1793.7 L1009.6,1794.5 L1009.7,1795.3 L1009.9,1796.1 L1009.9,1796.8 L1010.0,1797.4 L1010.0,1798.0 L1009.9,1798.6 L1009.8,1799.3 L1009.7,1800.0 L1009.5,1800.7 L1009.3,1801.4 L1009.0,1802.2 L1008.7,1802.9 L1008.4,1803.7 L1008.0,1804.5 L1007.6,1805.3 L1007.2,1806.1 L1006.7,1806.9 L1006.2,1807.6 L1005.7,1808.4 L1005.1,1809.2 L1004.6,1810.0 L1004.0,1810.7 L1003.4,1811.4 L1002.9,1812.1 L1002.2,1812.8 L1001.5,1813.5 L1000.8,1814.2 L1000.1,1814.9 L999.3,1815.6 L998.4,1816.2 L997.5,1816.9 L996.6,1817.5 L995.7,1818.1 L994.7,1818.8 L993.7,1819.4 L992.6,1820.0 L991.5,1820.6 L990.5,1821.2 L989.3,1821.8 L988.2,1822.4 L987.0,1823.0 L985.9,1823.6 L984.7,1824.1 L983.5,1824.7 L982.1,1825.4 L980.7,1826.1 L979.2,1826.7 L977.6,1827.3 L976.1,1827.9 L974.5,1828.5 L972.8,1829.1 L971.2,1829.7 L969.5,1830.3 L967.8,1830.8 L966.0,1831.4 L964.3,1831.9 L962.5,1832.5 L960.7,1833.0 L958.9,1833.5 L957.1,1834.1 L955.3,1834.6 L953.5,1835.1 L951.7,1835.7 L949.9,1836.2 L947.9,1836.8 L945.9,1837.4 L943.9,1837.9 L941.9,1838.5 L939.9,1839.1 L937.8,1839.7 L935.7,1840.2 L933.7,1840.8 L931.6,1841.3 L929.5,1841.9 L927.4,1842.4 L925.3,1843.0 L923.2,1843.5 L921.1,1844.0 L919.0,1844.5 L916.9,1845.0 L914.8,1845.5 L912.7,1845.9 L910.6,1846.4 L908.6,1846.8 L906.5,1847.2 L904.4,1847.7 L902.2,1848.1 L900.0,1848.5 L897.8,1849.0 L895.6,1849.4 L893.4,1849.8 L891.2,1850.3 L889.0,1850.7 L886.8,1851.0 L884.7,1851.4 L882.6,1851.7 L880.5,1852.0 L878.4,1852.3 L876.5,1852.6 L874.5,1852.8 L872.7,1852.9 L870.9,1853.1 L869.3,1853.1 L867.7,1853.2 L866.7,1853.1 L865.7,1853.1 L864.8,1853.1 L863.9,1853.1 L863.0,1853.0 L862.2,1853.0 L861.4,1852.9 L860.6,1852.9 L859.8,1852.8 L859.0,1852.7 L858.3,1852.6 L857.6,1852.4 L856.9,1852.3 L856.2,1852.1 L855.5,1851.9 L854.8,1851.8 L854.1,1851.5 L853.5,1851.3 L852.8,1851.0 L852.2,1850.8 L851.5,1850.5 L850.9,1850.2 L850.3,1849.9 L849.7,1849.5 L849.1,1849.2 L848.5,1848.8 L847.9,1848.4 L847.4,1848.0 L846.8,1847.6 L846.3,1847.2 L845.7,1846.8 L845.2,1846.4 L844.7,1845.9 L844.3,1845.5 L843.8,1845.0 L843.4,1844.6 L843.0,1844.1 L842.6,1843.7 L842.2,1843.2 L841.8,1842.8 L841.6,1842.4 L841.3,1842.0 L841.1,1841.5 L840.9,1841.0 L840.6,1840.4 L840.4,1839.7 L840.2,1839.1 L840.0,1838.3 L839.7,1837.5 L839.5,1836.7 L839.3,1835.9 L839.0,1835.0 L838.7,1834.1 L838.4,1833.2 L838.1,1832.3 L837.7,1831.4 L837.2,1830.5 L836.7,1829.6 L836.1,1828.8 L835.4,1828.0 L834.7,1827.2 L834.0,1826.5 L833.2,1825.9 L832.4,1825.2 L831.6,1824.6 L830.8,1824.0 L829.9,1823.5 L829.1,1822.9 L828.2,1822.4 L827.2,1821.9 L826.3,1821.5 L825.3,1821.0 L824.3,1820.6 L823.3,1820.2 L822.2,1819.8 L821.2,1819.4 L820.1,1819.1 L819.0,1818.7 L817.8,1818.4 L816.6,1818.0 L814.6,1817.5 L812.4,1817.1 L810.1,1816.7 L807.7,1816.4 L805.3,1816.1 L802.7,1815.9 L800.0,1815.7 L797.3,1815.5 L794.5,1815.4 L791.7,1815.3 L788.8,1815.2 L786.0,1815.2 L783.1,1815.1 L780.3,1815.1 L777.4,1815.1 L774.7,1815.1 L771.9,1815.1 L769.3,1815.2 L766.7,1815.2 L764.2,1815.2 L762.0,1815.2 L759.8,1815.2 L757.6,1815.3 L755.4,1815.3 L753.2,1815.4 L751.1,1815.5 L748.9,1815.5 L746.8,1815.6 L744.6,1815.8 L742.5,1815.9 L740.4,1816.0 L738.3,1816.2 L736.3,1816.3 L734.2,1816.5 L732.2,1816.7 L730.2,1816.9 L728.2,1817.2 L726.2,1817.4 L724.3,1817.7 L722.4,1818.0 L720.9,1818.2 L719.3,1818.5 L717.7,1818.7 L716.1,1819.0 L714.5,1819.2 L712.9,1819.5 L711.3,1819.8 L709.7,1820.1 L708.2,1820.4 L706.6,1820.7 L705.1,1821.1 L703.6,1821.4 L702.2,1821.8 L700.8,1822.2 L699.4,1822.7 L698.1,1823.2 L696.8,1823.7 L695.5,1824.3 L694.4,1824.9 L693.3,1825.6 L692.6,1826.1 L691.9,1826.6 L691.3,1827.2 L690.6,1827.7 L690.0,1828.3 L689.4,1828.9 L688.8,1829.5 L688.2,1830.1 L687.7,1830.8 L687.2,1831.4 L686.7,1832.1 L686.3,1832.8 L685.8,1833.5 L685.5,1834.2 L685.1,1835.0 L684.9,1835.7 L684.6,1836.6 L684.5,1837.4 L684.4,1838.3 L684.4,1839.2 L684.6,1840.2 L685.0,1841.2 L685.4,1842.1 L685.9,1842.8 L686.5,1843.4 L687.0,1844.0 L687.6,1844.5 L688.2,1845.0 L688.8,1845.4 L689.3,1845.9 L689.9,1846.3 L690.4,1846.6 L690.9,1847.0 L691.3,1847.3 L691.7,1847.7 L692.1,1848.0 L692.4,1848.2 L692.6,1848.4 L692.8,1848.6 L692.9,1848.8 L693.1,1849.1 L693.3,1849.5 L693.5,1849.9 L693.7,1850.3 L693.9,1850.7 L694.1,1851.1 L694.3,1851.5 L694.5,1851.9 L694.6,1852.3 L694.8,1852.6 L694.9,1853.0 L695.0,1853.3 L695.1,1853.6 L695.1,1853.8 L695.2,1854.0 L695.2,1854.2 L695.2,1854.3 L695.2,1854.4 L695.2,1854.4 L695.3,1854.4 L695.3,1854.5 L695.2,1854.7 L695.0,1854.9 L694.7,1855.1 L694.3,1855.4 L693.8,1855.7 L693.1,1856.0 L692.5,1856.3 L691.7,1856.6 L690.9,1856.9 L690.0,1857.2 L689.1,1857.4 L688.2,1857.7 L687.2,1857.9 L686.2,1858.2 L685.1,1858.4 L684.1,1858.7 L683.1,1858.9 L682.0,1859.2 L681.0,1859.4 L679.4,1859.7 L677.7,1860.0 L676.0,1860.3 L674.1,1860.5 L672.2,1860.8 L670.2,1861.0 L668.2,1861.1 L666.1,1861.3 L664.0,1861.4 L661.8,1861.5 L659.6,1861.7 L657.4,1861.7 L655.2,1861.8 L652.9,1861.9 L650.7,1862.0 L648.5,1862.1 L646.3,1862.2 L644.1,1862.2 L642.0,1862.3 L639.9,1862.4 L638.0,1862.5 L636.0,1862.6 L634.1,1862.7 L632.3,1862.8 L630.5,1862.8 L628.7,1862.9 L626.9,1863.0 L625.1,1863.0 L623.3,1863.1 L621.5,1863.1 L619.7,1863.2 L617.8,1863.2 L615.8,1863.2 L613.8,1863.3 L611.8,1863.3 L609.6,1863.3 L607.4,1863.4 L605.0,1863.4 L602.6,1863.4 L600.0,1863.4 L594.6,1863.5 L588.8,1863.5 L582.6,1863.5 L576.0,1863.5 L569.1,1863.5 L561.8,1863.4 L554.3,1863.4 L546.6,1863.3 L538.6,1863.3 L530.5,1863.2 L522.4,1863.1 L514.1,1863.1 L505.8,1863.0 L497.5,1862.9 L489.3,1862.8 L481.1,1862.7 L473.0,1862.7 L465.2,1862.6 L457.5,1862.5 L450.0,1862.4 L443.0,1862.4 L436.0,1862.4 L428.9,1862.4 L421.9,1862.4 L414.8,1862.4 L407.8,1862.4 L400.7,1862.5 L393.7,1862.5 L386.7,1862.5 L379.7,1862.6 L372.8,1862.5 L366.0,1862.5 L359.2,1862.5 L352.4,1862.4 L345.7,1862.2 L339.1,1862.0 L332.6,1861.8 L326.2,1861.5 L319.9,1861.2 L313.7,1860.7 L308.6,1860.3 L303.6,1859.9 L298.7,1859.4 L293.7,1858.9 L288.9,1858.4 L284.1,1857.8 L279.3,1857.2 L274.6,1856.6 L269.9,1856.0 L265.3,1855.3 L260.7,1854.6 L256.1,1853.9 L251.6,1853.2 L247.1,1852.5 L242.6,1851.7 L238.2,1851.0 L233.8,1850.3 L229.4,1849.5 L225.1,1848.8 L220.7,1848.0 L216.9,1847.3 L213.1,1846.7 L209.3,1846.0 L205.5,1845.4 L201.7,1844.7 L197.9,1844.1 L194.1,1843.4 L190.4,1842.7 L186.7,1842.0 L183.0,1841.3 L179.4,1840.6 L175.9,1839.9 L172.4,1839.1 L169.0,1838.4 L165.8,1837.6 L162.6,1836.8 L159.5,1835.9 L156.5,1835.0 L153.6,1834.1 L150.9,1833.2 L149.1,1832.6 L147.3,1831.9 L145.5,1831.3 L143.8,1830.7 L142.2,1830.0 L140.5,1829.4 L139.0,1828.8 L137.4,1828.1 L135.9,1827.4 L134.5,1826.8 L133.1,1826.1 L131.7,1825.4 L130.4,1824.7 L129.2,1823.9 L128.0,1823.2 L126.8,1822.4 L125.7,1821.6 L124.7,1820.7 L123.7,1819.9 L122.7,1819.0 L121.8,1818.1 L120.9,1817.2 L120.1,1816.3 L119.2,1815.3 L118.4,1814.3 L117.6,1813.3 L116.8,1812.3 L116.1,1811.3 L115.4,1810.3 L114.7,1809.3 L114.1,1808.2 L113.6,1807.2 L113.1,1806.3 L112.7,1805.3 L112.4,1804.3 L112.2,1803.4 L112.0,1802.6 L111.8,1801.7 L111.8,1800.9 L111.7,1800.2 L111.8,1799.1 L112.0,1797.9 L112.3,1796.6 L112.8,1795.2 L113.4,1793.6 L114.1,1792.0 L114.9,1790.3 L115.8,1788.6 L116.8,1786.9 L118.0,1785.1 L119.2,1783.3 L120.4,1781.5 L121.8,1779.8 L123.2,1778.1 L124.6,1776.4 L126.1,1774.7 L127.6,1773.2 L129.1,1771.7 L130.6,1770.3 L132.1,1769.0 L133.8,1767.6 L135.5,1766.4 L137.4,1765.2 L139.4,1764.1 L141.5,1763.0 L143.7,1762.0 L145.9,1761.0 L148.3,1760.1 L150.7,1759.2 L153.1,1758.4 L155.6,1757.6 L158.1,1756.8 L160.6,1756.0 L163.2,1755.2 L165.8,1754.4 L168.3,1753.5 L170.9,1752.7 L173.4,1751.8 L176.0,1751.0 L178.5,1750.0 L181.0,1749.0 L183.5,1748.1 L186.1,1747.1 L188.6,1746.1 L191.1,1745.1 L193.7,1744.2 L196.2,1743.2 L198.7,1742.3 L201.3,1741.3 L203.9,1740.3 L206.4,1739.4 L209.0,1738.5 L211.6,1737.5 L214.3,1736.6 L216.9,1735.7 L219.6,1734.7 L222.2,1733.8 L224.9,1732.9 L227.6,1732.0 L230.4,1731.1 L233.4,1730.2 L236.6,1729.3 L239.7,1728.4 L242.9,1727.5 L246.1,1726.6 L249.4,1725.8 L252.7,1724.9 L256.0,1724.1 L259.3,1723.2 L262.7,1722.4 L266.0,1721.6 L269.4,1720.7 L272.8,1719.8 L276.1,1718.9 L279.5,1718.0 L282.8,1717.0 L286.1,1716.0 L289.4,1715.0 L292.6,1713.9 L295.9,1712.7 L299.0,1711.5 L302.2,1710.3 L305.3,1709.1 L308.5,1707.8 L311.6,1706.5 L314.8,1705.2 L317.9,1703.8 L321.0,1702.4 L324.1,1701.0 L327.2,1699.6 L330.2,1698.2 L333.3,1696.7 L336.3,1695.3 L339.3,1693.8 L342.3,1692.4 L345.3,1690.9 L348.2,1689.4 L351.1,1688.0 L354.0,1686.5 L356.9,1685.1 L359.4,1683.8 L362.0,1682.5 L364.6,1681.1 L367.3,1679.8 L369.9,1678.5 L372.5,1677.1 L375.1,1675.8 L377.6,1674.4 L380.2,1673.1 L382.7,1671.7 L385.2,1670.3 L387.7,1669.0 L390.1,1667.6 L392.5,1666.2 L394.8,1664.8 L397.0,1663.4 L399.3,1662.0 L401.4,1660.6 L403.5,1659.1 L405.4,1657.7 L406.9,1656.7 L408.3,1655.6 L409.7,1654.5 L411.1,1653.5 L412.4,1652.4 L413.7,1651.3 L415.1,1650.2 L416.3,1649.1 L417.6,1648.0 L418.8,1646.9 L420.0,1645.8 L421.1,1644.7 L422.2,1643.6 L423.3,1642.5 L424.4,1641.3 L425.4,1640.2 L426.3,1639.1 L427.2,1637.9 L428.1,1636.8 L428.9,1635.6 L429.5,1634.8 L430.0,1633.9 L430.5,1633.1 L431.0,1632.2 L431.4,1631.4 L431.9,1630.6 L432.3,1629.7 L432.6,1628.9 L433.0,1628.1 L433.3,1627.3 L433.6,1626.4 L433.9,1625.6 L434.1,1624.8 L434.4,1624.0 L434.6,1623.2 L434.8,1622.4 L435.1,1621.6 L435.3,1620.8 L435.5,1620.0 L435.7,1619.1 L435.9,1618.3 L436.1,1617.4 L436.3,1616.5 L436.5,1615.7 L436.6,1614.8 L436.7,1614.0 L436.9,1613.2 L437.0,1612.3 L437.1,1611.5 L437.1,1610.6 L437.2,1609.8 L437.3,1608.9 L437.4,1608.0 L437.4,1607.0 L437.5,1606.0 L437.5,1605.0 L437.6,1603.9 L437.6,1602.8 L437.7,1601.5 L437.8,1600.2 L438.0,1596.2 L438.1,1591.5 L438.2,1586.3 L438.3,1580.5 L438.3,1574.3 L438.4,1567.7 L438.4,1560.8 L438.4,1553.5 L438.3,1546.0 L438.3,1538.2 L438.2,1530.3 L438.2,1522.3 L438.1,1514.2 L438.0,1506.1 L438.0,1498.1 L437.9,1490.1 L437.9,1482.2 L437.8,1474.6 L437.8,1467.1 L437.8,1460.0Z" fill="#d3a9cf"/>
<rect x="410" y="1473" width="300" height="40" fill="url(#fadeT)"/>
</g>
<rect x="33.8" y="1471" width="1093.2" height="1110" fill="none" stroke="#111" stroke-width="4.6"/>
<defs><g id="nmdar"><path d="M23.0,6.5 C22.1,3.6 27.2,2.5 30.0,1.5 C32.8,0.4 37.0,-0.0 40.0,0.2 C43.0,0.4 46.2,2.2 48.0,2.8 C49.8,3.4 49.7,4.0 50.5,4.0 C51.3,4.0 51.2,3.4 53.0,2.8 C54.8,2.2 58.0,0.4 61.0,0.2 C64.0,-0.0 68.2,0.4 71.0,1.5 C73.8,2.5 79.1,3.6 78.0,6.5 C76.9,9.4 66.8,8.6 64.5,18.8 C62.2,29.0 65.5,57.5 64.5,67.5 C63.5,77.5 59.8,75.0 58.8,78.8 C57.8,82.5 57.2,86.2 58.2,90.0 C59.2,93.8 63.0,98.5 64.5,101.3 C66.0,104.1 67.6,105.4 67.5,107.0 C67.4,108.6 65.7,110.4 64.0,111.0 C62.4,111.6 59.9,111.7 57.6,110.8 C55.4,109.9 52.9,105.4 50.5,105.4 C48.1,105.4 45.8,109.9 43.4,110.8 C41.0,111.7 37.8,111.6 36.0,111.0 C34.2,110.4 32.6,108.6 32.5,107.0 C32.4,105.4 34.0,104.1 35.5,101.3 C37.0,98.5 40.8,93.8 41.8,90.0 C42.8,86.2 42.2,82.5 41.2,78.8 C40.2,75.0 36.5,77.5 35.5,67.5 C34.5,57.5 37.6,29.0 35.5,18.8 C33.4,8.6 23.9,9.4 23.0,6.5Z" fill="#9a52a1" stroke="#8a3d92" stroke-width="1.3"/><line x1="50.5" y1="4" x2="50.5" y2="105" stroke="#8a3d92" stroke-width="1.1" opacity="0.7"/><path d="M15.0,9.0 C12.6,10.3 8.7,11.4 8.1,14.3 C7.5,17.2 12.5,23.7 11.2,26.6 C9.9,29.5 2.0,29.2 0.3,31.5 C-1.4,33.8 -0.2,36.4 1.2,40.5 C2.6,44.6 6.3,51.2 8.5,56.3 C10.7,61.4 13.2,66.9 14.6,71.3 C15.9,75.7 16.7,77.5 16.6,82.5 C16.5,87.5 14.0,96.3 13.9,101.3 C13.8,106.3 14.0,109.9 15.8,112.5 C17.6,115.1 21.7,117.0 24.5,117.0 C27.3,117.0 30.7,115.1 32.5,112.5 C34.3,109.9 33.8,105.0 35.2,101.3 C36.7,97.5 40.3,93.7 41.2,90.0 C42.1,86.3 41.6,82.8 40.6,79.0 C39.6,75.2 36.4,77.0 35.5,67.5 C34.6,58.0 35.9,31.2 35.5,22.0 C35.1,12.8 34.1,14.3 33.0,12.0 C31.9,9.7 30.5,9.2 28.8,8.3 C27.1,7.4 25.0,6.3 22.7,6.4 C20.4,6.5 17.4,7.7 15.0,9.0Z" fill="#b072b3" stroke="#8a3d92" stroke-width="1.3"/><path d="M64.5,22.0 C64.9,12.8 65.9,14.3 67.0,12.0 C68.1,9.7 69.5,9.2 71.2,8.3 C72.9,7.4 75.8,6.4 77.3,6.4 C78.8,6.4 80.0,7.3 80.5,8.2 C81.0,9.0 79.7,10.6 80.2,11.5 C80.7,12.4 82.5,13.8 83.5,13.8 C84.5,13.8 85.6,12.2 86.2,11.5 C86.8,10.8 85.9,8.9 87.1,9.6 C88.3,10.3 92.9,13.9 93.4,15.5 C93.9,17.1 90.7,17.7 90.0,19.0 C89.3,20.3 89.0,21.9 89.2,23.5 C89.5,25.1 89.8,27.3 91.5,28.5 C93.2,29.7 98.4,28.5 99.6,30.5 C100.8,32.5 100.1,36.2 98.8,40.5 C97.5,44.8 93.7,51.2 91.5,56.3 C89.3,61.4 86.8,66.9 85.4,71.3 C84.1,75.7 83.3,77.5 83.4,82.5 C83.5,87.5 86.0,96.3 86.1,101.3 C86.2,106.3 86.0,109.9 84.2,112.5 C82.4,115.1 78.3,117.0 75.5,117.0 C72.7,117.0 69.3,115.1 67.5,112.5 C65.7,109.9 66.2,105.0 64.8,101.3 C63.3,97.5 59.7,93.7 58.8,90.0 C57.9,86.3 58.4,82.8 59.4,79.0 C60.4,75.2 63.6,77.0 64.5,67.5 C65.3,58.0 64.1,31.2 64.5,22.0Z" fill="#b072b3" stroke="#8a3d92" stroke-width="1.3"/></g><g id="ampar"><path d="M23.0,6.5 C22.1,3.6 27.2,2.5 30.0,1.5 C32.8,0.4 37.0,-0.0 40.0,0.2 C43.0,0.4 46.2,2.2 48.0,2.8 C49.8,3.4 49.7,4.0 50.5,4.0 C51.3,4.0 51.2,3.4 53.0,2.8 C54.8,2.2 58.0,0.4 61.0,0.2 C64.0,-0.0 68.2,0.4 71.0,1.5 C73.8,2.5 79.1,3.6 78.0,6.5 C76.9,9.4 66.8,8.6 64.5,18.8 C62.2,29.0 65.5,57.5 64.5,67.5 C63.5,77.5 59.8,75.0 58.8,78.8 C57.8,82.5 57.2,86.2 58.2,90.0 C59.2,93.8 63.0,98.5 64.5,101.3 C66.0,104.1 67.6,105.4 67.5,107.0 C67.4,108.6 65.7,110.4 64.0,111.0 C62.4,111.6 59.9,111.7 57.6,110.8 C55.4,109.9 52.9,105.4 50.5,105.4 C48.1,105.4 45.8,109.9 43.4,110.8 C41.0,111.7 37.8,111.6 36.0,111.0 C34.2,110.4 32.6,108.6 32.5,107.0 C32.4,105.4 34.0,104.1 35.5,101.3 C37.0,98.5 40.8,93.8 41.8,90.0 C42.8,86.2 42.2,82.5 41.2,78.8 C40.2,75.0 36.5,77.5 35.5,67.5 C34.5,57.5 37.6,29.0 35.5,18.8 C33.4,8.6 23.9,9.4 23.0,6.5Z" fill="#26605a" stroke="#1e4f4a" stroke-width="1.3"/><line x1="50.5" y1="4" x2="50.5" y2="105" stroke="#1e4f4a" stroke-width="1.1" opacity="0.7"/><path d="M15.0,9.0 C12.6,10.3 8.7,11.4 8.1,14.3 C7.5,17.2 12.5,23.7 11.2,26.6 C9.9,29.5 2.0,29.2 0.3,31.5 C-1.4,33.8 -0.2,36.4 1.2,40.5 C2.6,44.6 6.3,51.2 8.5,56.3 C10.7,61.4 13.2,66.9 14.6,71.3 C15.9,75.7 16.7,77.5 16.6,82.5 C16.5,87.5 14.0,96.3 13.9,101.3 C13.8,106.3 14.0,109.9 15.8,112.5 C17.6,115.1 21.7,117.0 24.5,117.0 C27.3,117.0 30.7,115.1 32.5,112.5 C34.3,109.9 33.8,105.0 35.2,101.3 C36.7,97.5 40.3,93.7 41.2,90.0 C42.1,86.3 41.6,82.8 40.6,79.0 C39.6,75.2 36.4,77.0 35.5,67.5 C34.6,58.0 35.9,31.2 35.5,22.0 C35.1,12.8 34.1,14.3 33.0,12.0 C31.9,9.7 30.5,9.2 28.8,8.3 C27.1,7.4 25.0,6.3 22.7,6.4 C20.4,6.5 17.4,7.7 15.0,9.0Z" fill="#37736d" stroke="#1e4f4a" stroke-width="1.3"/><path d="M64.5,22.0 C64.9,12.8 65.9,14.3 67.0,12.0 C68.1,9.7 69.5,9.2 71.2,8.3 C72.9,7.4 75.8,6.4 77.3,6.4 C78.8,6.4 80.0,7.3 80.5,8.2 C81.0,9.0 79.7,10.6 80.2,11.5 C80.7,12.4 82.5,13.8 83.5,13.8 C84.5,13.8 85.6,12.2 86.2,11.5 C86.8,10.8 85.9,8.9 87.1,9.6 C88.3,10.3 92.9,13.9 93.4,15.5 C93.9,17.1 90.7,17.7 90.0,19.0 C89.3,20.3 89.0,21.9 89.2,23.5 C89.5,25.1 89.8,27.3 91.5,28.5 C93.2,29.7 98.4,28.5 99.6,30.5 C100.8,32.5 100.1,36.2 98.8,40.5 C97.5,44.8 93.7,51.2 91.5,56.3 C89.3,61.4 86.8,66.9 85.4,71.3 C84.1,75.7 83.3,77.5 83.4,82.5 C83.5,87.5 86.0,96.3 86.1,101.3 C86.2,106.3 86.0,109.9 84.2,112.5 C82.4,115.1 78.3,117.0 75.5,117.0 C72.7,117.0 69.3,115.1 67.5,112.5 C65.7,109.9 66.2,105.0 64.8,101.3 C63.3,97.5 59.7,93.7 58.8,90.0 C57.9,86.3 58.4,82.8 59.4,79.0 C60.4,75.2 63.6,77.0 64.5,67.5 C65.3,58.0 64.1,31.2 64.5,22.0Z" fill="#37736d" stroke="#1e4f4a" stroke-width="1.3"/></g></defs>
<use href="#nmdar" transform="translate(2014.0,772.0) scale(1.000,1.000)"/>
<use href="#ampar" transform="translate(2195.0,781.0) scale(1.000,1.000)"/>
<use href="#nmdar" transform="translate(1929.0,1018.0) scale(1.000,1.000)"/>
<use href="#ampar" transform="translate(2096.0,1018.0) scale(1.000,1.000)"/>
<use href="#nmdar" transform="translate(287.0,1900.0) scale(1.000,1.000)"/>
<use href="#ampar" transform="translate(506.7,1942.0) scale(1.000,1.000)"/>
<use href="#ampar" transform="translate(752.3,1946.0) scale(1.000,1.000)"/>
<use href="#ampar" transform="translate(701.2,2121.0) scale(1.000,1.000)"/>
<path d="M532.9,847.0 C525.1,846.8 517.8,833.9 507.0,831.8 C496.2,829.7 481.1,830.4 468.2,834.3 C455.3,838.2 442.3,847.7 429.4,855.0 C416.5,862.3 401.4,868.4 390.6,878.3 C379.8,888.2 371.4,900.8 364.7,914.6 C358.0,928.4 352.6,947.0 350.5,961.2 C348.4,975.4 349.0,987.1 351.8,1000.0 C354.6,1012.9 359.6,1026.7 367.3,1038.8 C375.1,1050.9 385.8,1062.5 398.3,1072.4 C410.8,1082.3 427.6,1091.4 442.3,1098.3 C457.0,1105.2 475.5,1111.7 486.3,1113.9 C497.1,1116.1 500.9,1114.3 507.0,1111.3 C513.0,1108.3 519.2,1104.2 522.6,1095.7 C526.0,1087.2 526.4,1070.0 527.5,1060.0 C528.6,1050.0 528.1,1041.0 529.0,1036.0 C529.9,1031.0 531.7,1030.0 533.0,1030.0 C534.3,1030.0 536.1,1031.0 537.0,1036.0 C537.9,1041.0 537.5,1050.0 538.5,1060.0 C539.5,1070.0 539.9,1086.9 543.3,1095.7 C546.7,1104.5 552.8,1109.6 558.8,1112.6 C564.8,1115.6 566.6,1116.7 579.5,1113.9 C592.4,1111.1 620.0,1103.5 636.4,1095.7 C652.8,1087.9 666.1,1078.1 677.8,1067.3 C689.4,1056.5 700.0,1044.4 706.3,1031.0 C712.6,1017.6 714.1,1000.8 715.4,987.0 C716.7,973.2 716.9,962.0 714.1,948.2 C711.3,934.4 706.3,916.7 698.5,904.2 C690.7,891.7 678.7,881.8 667.5,873.2 C656.3,864.6 645.1,859.4 631.3,852.5 C617.5,845.6 597.7,835.0 584.7,831.8 C571.8,828.5 562.2,830.5 553.6,833.0 C545.0,835.5 540.7,847.2 532.9,847.0Z" transform="translate(0,18)" fill="#c4a08b" stroke="#a9735b" stroke-width="2.6"/>
<path d="M532.9,847.0 C525.1,846.8 517.8,833.9 507.0,831.8 C496.2,829.7 481.1,830.4 468.2,834.3 C455.3,838.2 442.3,847.7 429.4,855.0 C416.5,862.3 401.4,868.4 390.6,878.3 C379.8,888.2 371.4,900.8 364.7,914.6 C358.0,928.4 352.6,947.0 350.5,961.2 C348.4,975.4 349.0,987.1 351.8,1000.0 C354.6,1012.9 359.6,1026.7 367.3,1038.8 C375.1,1050.9 385.8,1062.5 398.3,1072.4 C410.8,1082.3 427.6,1091.4 442.3,1098.3 C457.0,1105.2 475.5,1111.7 486.3,1113.9 C497.1,1116.1 500.9,1114.3 507.0,1111.3 C513.0,1108.3 519.2,1104.2 522.6,1095.7 C526.0,1087.2 526.4,1070.0 527.5,1060.0 C528.6,1050.0 528.1,1041.0 529.0,1036.0 C529.9,1031.0 531.7,1030.0 533.0,1030.0 C534.3,1030.0 536.1,1031.0 537.0,1036.0 C537.9,1041.0 537.5,1050.0 538.5,1060.0 C539.5,1070.0 539.9,1086.9 543.3,1095.7 C546.7,1104.5 552.8,1109.6 558.8,1112.6 C564.8,1115.6 566.6,1116.7 579.5,1113.9 C592.4,1111.1 620.0,1103.5 636.4,1095.7 C652.8,1087.9 666.1,1078.1 677.8,1067.3 C689.4,1056.5 700.0,1044.4 706.3,1031.0 C712.6,1017.6 714.1,1000.8 715.4,987.0 C716.7,973.2 716.9,962.0 714.1,948.2 C711.3,934.4 706.3,916.7 698.5,904.2 C690.7,891.7 678.7,881.8 667.5,873.2 C656.3,864.6 645.1,859.4 631.3,852.5 C617.5,845.6 597.7,835.0 584.7,831.8 C571.8,828.5 562.2,830.5 553.6,833.0 C545.0,835.5 540.7,847.2 532.9,847.0Z" fill="#e5cdb9" stroke="#a9735b" stroke-width="2.6"/>
<path d="M397.0,879.6 C401.3,874.9 422.7,878.2 434.6,881.0 C446.5,883.8 457.9,889.2 468.2,896.5 C478.5,903.8 488.9,915.9 496.7,924.9 C504.5,933.9 508.8,945.2 514.8,950.8 C520.8,956.4 526.9,958.4 532.9,958.6 C538.9,958.8 544.5,957.7 551.0,952.1 C557.5,946.5 563.9,934.2 571.7,924.9 C579.5,915.6 586.8,904.7 597.6,896.5 C608.4,888.3 627.8,880.8 636.4,875.8 C645.0,870.8 644.2,866.3 649.4,866.7 C654.6,867.1 666.2,872.0 667.5,878.3 C668.8,884.5 660.1,894.7 657.1,904.2 C654.1,913.7 649.4,928.0 649.4,935.3 C649.4,942.6 650.6,942.2 657.1,948.2 C663.6,954.2 681.7,965.0 688.2,971.5 C694.7,978.0 696.0,982.2 696.0,987.0 C696.0,991.8 692.5,996.5 688.2,1000.0 C683.9,1003.5 673.6,1003.8 670.1,1007.7 C666.6,1011.6 671.8,1016.4 667.5,1023.3 C663.2,1030.2 651.1,1041.9 644.2,1049.2 C637.3,1056.5 632.6,1061.9 626.1,1067.3 C619.6,1072.7 612.3,1080.7 605.4,1081.5 C598.5,1082.3 590.7,1078.7 584.7,1072.4 C578.7,1066.2 572.2,1055.2 569.2,1044.0 C566.2,1032.8 568.8,1014.7 566.6,1005.2 C564.4,995.7 561.8,990.5 556.2,987.0 C550.6,983.5 540.7,984.5 532.9,984.5 C525.1,984.5 515.6,983.5 509.6,987.0 C503.6,990.5 498.9,996.6 496.7,1005.2 C494.5,1013.8 499.3,1028.0 496.7,1038.8 C494.1,1049.6 486.4,1062.8 481.2,1069.9 C476.0,1077.0 471.7,1081.5 465.6,1081.5 C459.6,1081.5 452.2,1076.2 444.9,1069.9 C437.6,1063.7 429.4,1052.6 421.6,1044.0 C413.8,1035.4 402.6,1024.2 398.3,1018.1 C394.0,1012.1 399.2,1011.2 395.8,1007.7 C392.4,1004.2 382.1,1000.9 377.6,997.4 C373.1,993.9 368.6,991.3 368.6,987.0 C368.6,982.7 371.8,977.1 377.6,971.5 C383.4,965.9 397.4,959.4 403.5,953.4 C409.6,947.4 413.0,942.6 413.9,935.3 C414.8,928.0 411.5,918.7 408.7,909.4 C405.9,900.1 392.7,884.3 397.0,879.6Z" fill="#cfae98"/>
<line x1="532.9" y1="849" x2="532.9" y2="958" stroke="#a9735b" stroke-width="2"/>
<path d="M525,1029 L541,1029" stroke="#a9735b" stroke-width="1.5"/>
<rect x="528" y="1031" width="10" height="18" rx="5" fill="#c4a08b" stroke="#a9735b" stroke-width="1.5"/>
<circle cx="532.9" cy="968.9" r="4.2" fill="#fff" stroke="#a9735b" stroke-width="2"/>
<path d="M514.0,305.9 C513.7,310.8 522.6,322.2 528.0,329.2 C533.4,336.2 541.3,341.3 546.6,347.8 C551.9,354.3 556.1,361.8 560.0,368.0 C563.9,374.2 567.5,381.5 569.9,385.1 C572.3,388.7 572.2,389.5 574.5,389.8 C576.8,390.1 581.2,388.9 583.9,387.0 C586.5,385.1 590.4,383.6 590.4,378.6 C590.4,373.6 585.8,362.2 583.9,357.1 C582.0,352.0 583.2,352.3 579.2,347.8 C575.2,343.3 565.7,336.0 560.0,330.0 C554.3,324.0 550.0,317.0 545.0,312.0 C540.0,307.0 535.2,301.0 530.0,300.0 C524.8,299.0 514.3,301.0 514.0,305.9Z" fill="#d48c8d" stroke="#b5525b" stroke-width="1.3"/>
<path d="M548,345 Q565,365 576,388 M556,343 Q572,362 582,386 M534,318 Q552,335 566,350" fill="none" stroke="#b5525b" stroke-width="0.9"/>
<path d="M523.0,312.0 C524.7,308.0 535.5,303.8 540.0,306.0 C544.5,308.2 549.2,320.2 550.0,325.0 C550.8,329.8 548.3,334.2 545.0,335.0 C541.7,335.8 533.7,333.8 530.0,330.0 C526.3,326.2 521.3,316.0 523.0,312.0Z" fill="#dba0a0" opacity="0.8"/>
<path d="M527.0,287.3 C527.8,285.1 526.2,280.4 532.6,278.9 C539.0,277.3 552.0,278.8 565.2,278.0 C578.4,277.2 597.8,274.8 611.8,274.2 C625.8,273.6 641.6,272.8 649.1,274.2 C656.6,275.6 655.0,278.9 656.5,282.6 C658.0,286.3 658.9,291.2 658.4,296.6 C657.9,302.0 656.0,309.8 653.7,315.2 C651.4,320.6 649.0,325.8 644.4,329.2 C639.8,332.6 632.8,334.0 625.8,335.7 C618.8,337.4 608.7,337.1 602.5,339.4 C596.3,341.7 593.2,348.4 588.5,349.7 C583.8,350.9 579.9,349.5 574.5,346.9 C569.1,344.3 561.3,339.2 555.9,333.9 C550.5,328.6 545.3,320.6 541.9,315.2 C538.5,309.8 537.7,305.1 535.4,301.2 C533.1,297.3 529.4,294.3 528.0,292.0 C526.6,289.7 526.2,289.5 527.0,287.3Z" fill="#c87a7e" stroke="#b5525b" stroke-width="1.4"/>
<path d="M560.0,300.0 C565.8,296.3 586.7,291.3 600.0,290.0 C613.3,288.7 631.7,288.7 640.0,292.0 C648.3,295.3 651.7,304.5 650.0,310.0 C648.3,315.5 640.0,323.3 630.0,325.0 C620.0,326.7 600.8,322.2 590.0,320.0 C579.2,317.8 570.0,315.3 565.0,312.0 C560.0,308.7 554.2,303.7 560.0,300.0Z" fill="#d08a8b" opacity="0.7"/>
<path d="M536.0,300.0 C560.0,281.0 620.0,277.0 655.0,285.0" fill="none" stroke="#b5525b" stroke-width="0.9"/>
<path d="M537.5,299.5 C560.0,283.0 620.0,279.0 655.0,287.0" fill="none" stroke="#b5525b" stroke-width="0.9"/>
<path d="M539.0,299.0 C560.0,285.0 620.0,281.0 655.0,289.0" fill="none" stroke="#b5525b" stroke-width="0.9"/>
<path d="M540.5,298.5 C560.0,287.0 620.0,283.0 655.0,291.0" fill="none" stroke="#b5525b" stroke-width="0.9"/>
<path d="M542.0,298.0 C560.0,289.0 620.0,285.0 655.0,293.0" fill="none" stroke="#b5525b" stroke-width="0.9"/>
<path d="M543.5,297.5 C560.0,291.0 620.0,287.0 655.0,295.0" fill="none" stroke="#b5525b" stroke-width="0.9"/>
<path d="M545.0,297.0 C560.0,293.0 620.0,289.0 655.0,297.0" fill="none" stroke="#b5525b" stroke-width="0.9"/>
<path d="M546.5,296.5 C560.0,295.0 620.0,291.0 655.0,299.0" fill="none" stroke="#b5525b" stroke-width="0.9"/>
<path d="M548.0,306.0 C575.0,305.0 620.0,310.0 652.0,300.0" fill="none" stroke="#b5525b" stroke-width="0.9"/>
<path d="M550.0,307.0 C575.0,308.8 620.0,313.1 652.0,302.8" fill="none" stroke="#b5525b" stroke-width="0.9"/>
<path d="M552.0,308.0 C575.0,312.5 620.0,316.2 652.0,305.5" fill="none" stroke="#b5525b" stroke-width="0.9"/>
<path d="M554.0,309.0 C575.0,316.2 620.0,319.4 652.0,308.2" fill="none" stroke="#b5525b" stroke-width="0.9"/>
<path d="M556.0,310.0 C575.0,320.0 620.0,322.5 652.0,311.0" fill="none" stroke="#b5525b" stroke-width="0.9"/>
<path d="M558.0,311.0 C575.0,323.8 620.0,325.6 652.0,313.8" fill="none" stroke="#b5525b" stroke-width="0.9"/>
<path d="M560.0,312.0 C575.0,327.5 620.0,328.8 652.0,316.5" fill="none" stroke="#b5525b" stroke-width="0.9"/>
<path d="M562.0,313.0 C575.0,331.2 620.0,331.9 652.0,319.2" fill="none" stroke="#b5525b" stroke-width="0.9"/>
<path d="M564.0,314.0 C575.0,335.0 620.0,335.0 652.0,322.0" fill="none" stroke="#b5525b" stroke-width="0.9"/>
<line x1="535.0" y1="279" x2="538.0" y2="304" stroke="#b5525b" stroke-width="0.9"/>
<line x1="540.0" y1="279" x2="543.5" y2="304" stroke="#b5525b" stroke-width="0.9"/>
<line x1="545.0" y1="279" x2="549.0" y2="304" stroke="#b5525b" stroke-width="0.9"/>
<line x1="550.0" y1="279" x2="554.5" y2="304" stroke="#b5525b" stroke-width="0.9"/>
<line x1="555.0" y1="279" x2="560.0" y2="304" stroke="#b5525b" stroke-width="0.9"/>
<line x1="560.0" y1="279" x2="565.5" y2="304" stroke="#b5525b" stroke-width="0.9"/>
<line x1="565.0" y1="279" x2="571.0" y2="304" stroke="#b5525b" stroke-width="0.9"/>
<path d="M500,289 L527,285 L535,300 L514,306 Z" fill="#d79a9a" stroke="#b5525b" stroke-width="1"/>
<path d="M502,293 L528,289 M504,298 L530,294 M506,302 L532,298" stroke="#b5525b" stroke-width="0.7"/>
<path d="M406.1,255.7 C402.6,253.1 391.9,253.9 385.2,253.0 C378.5,252.1 372.2,252.7 365.7,250.5 C359.2,248.3 351.6,245.7 346.1,240.0 C340.7,234.3 335.8,225.9 333.0,216.6 C330.2,207.2 329.5,191.5 329.1,183.9 C328.7,176.3 329.3,177.4 330.4,170.9 C331.5,164.4 332.0,152.4 335.7,144.8 C339.4,137.2 344.4,132.2 352.6,125.2 C360.9,118.2 372.1,110.0 385.2,103.0 C398.2,96.0 415.7,88.3 430.9,83.5 C446.1,78.7 465.1,76.4 476.6,74.4 C488.1,72.4 491.8,72.8 500.0,71.7 C508.2,70.6 517.4,68.2 526.1,67.8 C534.8,67.4 541.3,66.7 552.2,69.1 C563.1,71.5 579.4,77.4 591.4,82.2 C603.4,87.0 613.1,90.6 624.0,97.8 C634.9,105.0 648.3,116.4 656.6,125.3 C664.9,134.2 668.2,142.7 673.6,151.4 C679.0,160.1 685.1,168.8 689.2,177.5 C693.3,186.2 696.6,192.7 698.4,203.6 C700.1,214.5 700.6,232.3 699.7,242.7 C698.8,253.1 697.1,261.0 693.2,266.2 C689.3,271.4 681.2,272.7 676.2,274.0 C671.2,275.3 667.5,274.4 663.0,274.0 C658.5,273.6 657.5,271.5 649.0,271.5 C640.5,271.5 622.6,273.4 611.8,274.0 C600.9,274.6 598.0,273.2 583.9,275.0 C569.8,276.8 541.0,282.7 527.0,285.0 C513.0,287.3 506.2,286.5 500.0,289.0 C493.8,291.5 495.7,297.5 489.6,300.0 C483.5,302.5 472.2,303.8 463.5,304.0 C454.8,304.2 445.7,303.8 437.4,301.4 C429.1,299.0 419.1,295.1 413.9,289.6 C408.7,284.2 407.4,274.4 406.1,268.7 C404.8,263.0 409.6,258.3 406.1,255.7Z" fill="#d59190" stroke="#b5525b" stroke-width="1.6"/>
<path d="M624.0,99.0 C631.4,102.2 648.3,117.2 656.6,126.0 C664.9,134.8 668.2,143.3 673.6,152.0 C679.0,160.7 685.2,169.3 689.2,178.0 C693.2,186.7 695.9,193.2 697.5,204.0 C699.1,214.8 699.6,232.5 698.7,242.7 C697.8,252.9 696.0,260.1 692.2,265.2 C688.5,270.2 683.2,272.2 676.2,273.0 C669.2,273.8 655.2,274.7 650.0,270.0 C644.8,265.3 645.7,254.2 645.0,245.0 C644.3,235.8 646.8,225.0 646.0,215.0 C645.2,205.0 641.7,194.2 640.0,185.0 C638.3,175.8 638.0,168.8 636.0,160.0 C634.0,151.2 632.0,140.8 628.0,132.0 C624.0,123.2 612.7,112.5 612.0,107.0 C611.3,101.5 616.6,95.8 624.0,99.0Z" fill="#c97b7e" opacity="0.75"/>
<path d="M334.0,215.0 C334.2,220.7 340.7,233.2 346.0,239.0 C351.3,244.8 356.2,246.8 366.0,249.5 C375.8,252.2 395.2,255.8 405.0,255.0 C414.8,254.2 425.8,248.7 425.0,245.0 C424.2,241.3 408.8,236.8 400.0,233.0 C391.2,229.2 381.2,226.7 372.0,222.0 C362.8,217.3 351.3,206.2 345.0,205.0 C338.7,203.8 333.8,209.3 334.0,215.0Z" fill="#c97b7e" opacity="0.6"/>
<path d="M407.0,268.0 C404.3,271.2 409.0,283.6 414.0,289.0 C419.0,294.4 428.8,298.1 437.0,300.4 C445.2,302.7 454.8,303.2 463.5,303.0 C472.2,302.8 478.4,302.2 489.0,299.0 C499.6,295.8 511.2,288.2 527.0,284.0 C542.8,279.8 578.5,277.7 584.0,274.0 C589.5,270.3 574.0,263.5 560.0,262.0 C546.0,260.5 516.7,263.3 500.0,265.0 C483.3,266.7 471.7,271.2 460.0,272.0 C448.3,272.8 438.8,270.7 430.0,270.0 C421.2,269.3 409.7,264.8 407.0,268.0Z" fill="#c97b7e" opacity="0.55"/>
<path d="M520.0,262.0 C526.7,260.0 560.0,258.0 580.0,258.0 C600.0,258.0 626.7,259.7 640.0,262.0 C653.3,264.3 664.7,270.2 660.0,272.0 C655.3,273.8 624.7,272.7 612.0,273.0 C599.3,273.3 596.0,274.5 584.0,274.0 C572.0,273.5 550.7,272.0 540.0,270.0 C529.3,268.0 513.3,264.0 520.0,262.0Z" fill="#c97b7e" opacity="0.5"/>
<path d="M336.0,145.0 C339.3,136.0 343.8,132.8 352.0,126.0 C360.2,119.2 377.0,108.3 385.0,104.0 C393.0,99.7 400.8,96.5 400.0,100.0 C399.2,103.5 386.7,116.7 380.0,125.0 C373.3,133.3 365.8,141.7 360.0,150.0 C354.2,158.3 349.7,170.0 345.0,175.0 C340.3,180.0 333.5,185.0 332.0,180.0 C330.5,175.0 332.7,154.0 336.0,145.0Z" fill="#c97b7e" opacity="0.45"/>
<path d="M470.0,175.0 C476.7,171.0 505.0,165.5 520.0,168.0 C535.0,170.5 560.0,185.5 560.0,190.0 C560.0,194.5 533.3,194.7 520.0,195.0 C506.7,195.3 488.3,195.3 480.0,192.0 C471.7,188.7 463.3,179.0 470.0,175.0Z" fill="#c97b7e" opacity="0.4"/>
<path d="M385.2,130.4 C388.2,127.8 397.0,119.6 403.5,114.8 C410.0,110.0 418.3,104.3 424.4,101.7 C430.5,99.1 437.4,99.5 440.0,99.1" fill="none" stroke="#c47479" stroke-width="5" stroke-linecap="round" opacity="0.35"/>
<path d="M350.0,135.7 C352.2,133.3 356.7,126.8 363.0,121.3 C369.3,115.8 383.7,106.0 387.8,103.0" fill="none" stroke="#c47479" stroke-width="5" stroke-linecap="round" opacity="0.35"/>
<path d="M335.7,151.3 C340.2,152.2 353.4,155.2 363.0,156.5 C372.6,157.8 386.2,161.4 393.0,159.2 C399.8,157.0 400.4,147.9 403.5,143.5 C406.6,139.1 410.0,134.8 411.3,133.0" fill="none" stroke="#c47479" stroke-width="5" stroke-linecap="round" opacity="0.35"/>
<path d="M346.0,169.6 C348.8,170.0 358.2,173.5 363.0,172.2 C367.8,170.9 372.8,163.5 374.8,161.8" fill="none" stroke="#c47479" stroke-width="5" stroke-linecap="round" opacity="0.35"/>
<path d="M330.4,177.4 C334.1,177.8 345.6,180.4 352.6,180.0 C359.6,179.6 365.7,178.3 372.2,174.8 C378.7,171.3 388.5,161.8 391.8,159.2" fill="none" stroke="#c47479" stroke-width="5" stroke-linecap="round" opacity="0.35"/>
<path d="M352.6,187.9 C354.3,186.2 357.6,179.6 363.0,177.4 C368.4,175.2 380.2,173.9 385.2,174.8 C390.2,175.7 388.6,178.7 393.0,182.6 C397.4,186.5 404.3,192.9 411.3,198.3 C418.3,203.8 430.9,212.5 434.8,215.3" fill="none" stroke="#c47479" stroke-width="5" stroke-linecap="round" opacity="0.35"/>
<path d="M333.0,195.7 C335.2,196.1 340.6,196.6 346.0,198.3 C351.4,200.0 360.0,203.5 365.7,206.1 C371.4,208.7 374.1,211.4 380.0,214.0 C385.9,216.6 394.6,219.4 400.9,221.8 C407.2,224.2 412.6,226.4 417.8,228.3 C423.0,230.2 429.8,232.6 432.2,233.5" fill="none" stroke="#c47479" stroke-width="5" stroke-linecap="round" opacity="0.35"/>
<path d="M346.0,216.6 C350.4,217.5 367.4,220.1 372.2,221.8 C377.0,223.5 374.4,226.1 374.8,227.0" fill="none" stroke="#c47479" stroke-width="5" stroke-linecap="round" opacity="0.35"/>
<path d="M348.7,240.0 C354.8,238.3 373.0,230.5 385.2,229.6 C397.4,228.7 415.7,233.9 421.8,234.8" fill="none" stroke="#c47479" stroke-width="5" stroke-linecap="round" opacity="0.35"/>
<path d="M363.0,242.7 C365.4,240.9 375.0,233.9 377.4,232.2" fill="none" stroke="#c47479" stroke-width="5" stroke-linecap="round" opacity="0.35"/>
<path d="M450.5,154.0 C450.7,156.8 451.8,164.8 451.8,170.9 C451.8,177.0 450.1,185.1 450.5,190.5 C450.9,195.9 456.1,198.2 454.4,203.5 C452.6,208.8 442.4,218.9 440.0,222.0" fill="none" stroke="#c47479" stroke-width="5" stroke-linecap="round" opacity="0.35"/>
<path d="M474.0,144.8 C474.4,148.1 475.5,158.1 476.6,164.4 C477.7,170.7 479.9,179.6 480.5,182.6" fill="none" stroke="#c47479" stroke-width="5" stroke-linecap="round" opacity="0.35"/>
<path d="M483.0,125.2 C486.3,123.5 496.5,117.0 502.6,114.8 C508.7,112.6 516.8,112.6 519.6,112.2" fill="none" stroke="#c47479" stroke-width="5" stroke-linecap="round" opacity="0.35"/>
<path d="M489.6,88.7 C491.1,88.3 493.7,87.4 498.7,86.1 C503.7,84.8 516.1,81.8 519.6,80.9" fill="none" stroke="#c47479" stroke-width="5" stroke-linecap="round" opacity="0.35"/>
<path d="M390.5,190.5 C391.8,192.7 393.5,199.2 398.3,203.5 C403.1,207.8 413.3,213.3 419.2,216.6 C425.1,219.8 431.1,221.9 433.5,223.0" fill="none" stroke="#c47479" stroke-width="5" stroke-linecap="round" opacity="0.35"/>
<path d="M424.4,249.2 C428.8,247.7 440.7,243.3 450.5,240.0 C460.3,236.7 471.5,231.5 483.0,229.6 C494.5,227.7 513.5,228.5 519.6,228.3" fill="none" stroke="#c47479" stroke-width="5" stroke-linecap="round" opacity="0.35"/>
<path d="M430.9,268.7 C433.1,267.8 436.3,265.2 443.9,263.5 C451.5,261.8 464.0,259.6 476.6,258.3 C489.2,257.0 512.4,256.1 519.6,255.7" fill="none" stroke="#c47479" stroke-width="5" stroke-linecap="round" opacity="0.35"/>
<path d="M443.9,262.2 C444.1,265.5 445.0,278.5 445.2,281.8" fill="none" stroke="#c47479" stroke-width="5" stroke-linecap="round" opacity="0.35"/>
<path d="M432.2,232.2 C438.5,230.2 458.7,224.5 470.0,220.0 C481.3,215.5 491.7,208.6 500.0,205.0 C508.3,201.4 516.3,199.4 519.6,198.3" fill="none" stroke="#c47479" stroke-width="5" stroke-linecap="round" opacity="0.35"/>
<path d="M500.0,103.0 C504.4,103.7 517.4,106.8 526.1,107.0 C534.8,107.2 546.8,105.5 552.2,104.4 C557.6,103.3 557.6,101.2 558.7,100.5" fill="none" stroke="#c47479" stroke-width="5" stroke-linecap="round" opacity="0.35"/>
<path d="M509.1,148.7 C511.9,146.1 518.9,137.6 526.1,133.0 C533.3,128.4 545.2,124.8 552.2,121.3 C559.2,117.8 562.7,113.3 567.9,112.2 C573.1,111.1 579.6,112.6 583.5,114.8 C587.4,117.0 590.1,123.5 591.4,125.3" fill="none" stroke="#c47479" stroke-width="5" stroke-linecap="round" opacity="0.35"/>
<path d="M532.6,159.2 C534.4,160.9 541.4,167.9 543.1,169.6" fill="none" stroke="#c47479" stroke-width="5" stroke-linecap="round" opacity="0.35"/>
<path d="M537.8,161.8 C541.3,159.4 554.1,151.8 558.7,147.4 C563.3,143.1 562.5,136.3 565.3,135.7 C568.1,135.0 574.0,142.2 575.7,143.5" fill="none" stroke="#c47479" stroke-width="5" stroke-linecap="round" opacity="0.35"/>
<path d="M561.3,155.3 C561.5,158.3 562.6,167.2 562.6,173.5 C562.6,179.8 561.5,189.8 561.3,193.1" fill="none" stroke="#c47479" stroke-width="5" stroke-linecap="round" opacity="0.35"/>
<path d="M583.5,160.5 C585.0,162.7 591.2,171.3 592.7,173.5" fill="none" stroke="#c47479" stroke-width="5" stroke-linecap="round" opacity="0.35"/>
<path d="M590.0,126.6 C592.4,129.0 601.4,136.3 604.4,140.9 C607.4,145.5 609.6,148.8 608.3,154.0 C607.0,159.2 602.0,166.1 596.6,172.2 C591.2,178.3 581.4,186.8 575.7,190.5 C570.0,194.2 564.8,193.8 562.6,194.4" fill="none" stroke="#c47479" stroke-width="5" stroke-linecap="round" opacity="0.35"/>
<path d="M605.7,134.4 C609.4,134.2 622.7,132.0 627.9,133.1 C633.1,134.2 635.9,136.6 637.0,140.9 C638.1,145.2 634.6,153.5 634.4,159.2 C634.2,164.8 634.8,169.4 635.7,174.8 C636.6,180.2 639.0,189.0 639.6,191.8" fill="none" stroke="#c47479" stroke-width="5" stroke-linecap="round" opacity="0.35"/>
<path d="M600.5,96.5 C604.6,98.7 618.3,106.5 625.3,109.6 C632.3,112.6 639.2,112.6 642.3,114.8 C645.3,117.0 643.4,121.3 643.6,122.6" fill="none" stroke="#c47479" stroke-width="5" stroke-linecap="round" opacity="0.35"/>
<path d="M590.0,112.2 C592.4,111.5 598.5,108.7 604.4,108.3 C610.3,107.9 621.8,109.4 625.3,109.6" fill="none" stroke="#c47479" stroke-width="5" stroke-linecap="round" opacity="0.35"/>
<path d="M637.0,144.8 C638.8,144.6 645.8,143.7 647.5,143.5" fill="none" stroke="#c47479" stroke-width="5" stroke-linecap="round" opacity="0.35"/>
<path d="M500.0,198.3 C502.2,197.9 506.6,197.0 513.1,195.7 C519.6,194.4 531.0,190.7 539.2,190.5 C547.5,190.3 558.2,192.9 562.6,194.4 C567.0,195.9 564.8,198.7 565.3,199.6" fill="none" stroke="#c47479" stroke-width="5" stroke-linecap="round" opacity="0.35"/>
<path d="M583.5,207.5 C586.5,206.0 596.1,200.5 601.8,198.3 C607.5,196.1 614.9,195.1 617.5,194.4" fill="none" stroke="#c47479" stroke-width="5" stroke-linecap="round" opacity="0.35"/>
<path d="M510.4,203.6 C510.2,205.8 508.0,212.7 509.1,216.6 C510.2,220.5 512.9,224.6 517.0,227.0 C521.1,229.4 528.1,232.1 534.0,231.0 C539.9,229.9 548.5,224.0 552.2,220.5 C555.9,217.0 555.5,211.8 556.1,210.1" fill="none" stroke="#c47479" stroke-width="5" stroke-linecap="round" opacity="0.35"/>
<path d="M547.0,229.7 C547.4,231.4 547.0,237.0 549.6,240.1 C552.2,243.2 557.4,245.4 562.6,248.0 C567.8,250.6 571.8,253.6 580.9,255.8 C590.0,258.0 608.4,261.0 617.5,261.0 C626.6,261.0 632.7,256.7 635.7,255.8" fill="none" stroke="#c47479" stroke-width="5" stroke-linecap="round" opacity="0.35"/>
<path d="M556.1,221.8 C559.8,222.5 572.0,224.7 578.3,225.8 C584.6,226.9 589.6,226.9 594.0,228.4 C598.4,229.9 602.7,233.8 604.4,234.9" fill="none" stroke="#c47479" stroke-width="5" stroke-linecap="round" opacity="0.35"/>
<path d="M595.3,229.7 C599.0,229.5 611.2,231.4 617.5,228.4 C623.8,225.4 629.2,216.4 633.1,211.4 C637.0,206.4 639.7,200.5 641.0,198.3" fill="none" stroke="#c47479" stroke-width="5" stroke-linecap="round" opacity="0.35"/>
<path d="M520.9,245.3 C526.5,247.9 545.7,257.9 554.8,261.0 C563.9,264.1 570.5,262.3 575.7,263.6 C580.9,264.9 584.4,267.9 586.1,268.8" fill="none" stroke="#c47479" stroke-width="5" stroke-linecap="round" opacity="0.35"/>
<path d="M631.8,241.4 C635.9,241.2 650.5,239.7 656.6,240.1 C662.7,240.5 666.4,243.3 668.4,244.0" fill="none" stroke="#c47479" stroke-width="5" stroke-linecap="round" opacity="0.35"/>
<path d="M655.3,223.1 C657.5,223.6 665.8,223.7 668.4,225.8 C671.0,228.0 670.6,234.3 671.0,236.0" fill="none" stroke="#c47479" stroke-width="5" stroke-linecap="round" opacity="0.35"/>
<path d="M654.0,163.1 C655.3,163.3 661.8,160.3 661.8,164.4 C661.8,168.5 652.7,179.2 654.0,187.9 C655.3,196.6 667.4,207.9 669.7,216.6 C672.0,225.3 668.3,236.1 668.0,240.0" fill="none" stroke="#c47479" stroke-width="5" stroke-linecap="round" opacity="0.35"/>
<path d="M673.6,168.3 C674.7,170.7 678.6,177.2 680.1,182.7 C681.6,188.1 681.2,194.7 682.7,201.0 C684.2,207.3 688.8,213.6 689.2,220.5 C689.6,227.4 685.8,236.8 685.3,242.7 C684.8,248.6 685.9,253.8 686.0,256.0" fill="none" stroke="#c47479" stroke-width="5" stroke-linecap="round" opacity="0.35"/>
<path d="M641.0,114.8 C641.2,116.5 642.1,123.5 642.3,125.3" fill="none" stroke="#c47479" stroke-width="5" stroke-linecap="round" opacity="0.35"/>
<path d="M630.5,258.4 C632.7,258.0 639.2,257.3 643.6,255.8 C648.0,254.3 654.4,250.3 656.6,249.2" fill="none" stroke="#c47479" stroke-width="5" stroke-linecap="round" opacity="0.35"/>
<path d="M689.2,171.0 C690.3,174.2 694.7,187.2 695.8,190.5" fill="none" stroke="#c47479" stroke-width="5" stroke-linecap="round" opacity="0.35"/>
<path d="M436.0,100.0 C438.3,101.7 444.3,108.7 450.0,110.0 C455.7,111.3 464.7,110.3 470.0,108.0 C475.3,105.7 480.0,98.0 482.0,96.0" fill="none" stroke="#c47479" stroke-width="5" stroke-linecap="round" opacity="0.35"/>
<path d="M415.0,150.0 C416.7,153.3 420.8,165.8 425.0,170.0 C429.2,174.2 437.5,174.2 440.0,175.0" fill="none" stroke="#c47479" stroke-width="5" stroke-linecap="round" opacity="0.35"/>
<path d="M470.0,255.0 C473.3,253.3 484.2,245.8 490.0,245.0 C495.8,244.2 502.5,249.2 505.0,250.0" fill="none" stroke="#c47479" stroke-width="5" stroke-linecap="round" opacity="0.35"/>
<path d="M360.0,110.0 C362.0,112.5 370.0,122.5 372.0,125.0" fill="none" stroke="#c47479" stroke-width="5" stroke-linecap="round" opacity="0.35"/>
<path d="M385.2,130.4 C388.2,127.8 397.0,119.6 403.5,114.8 C410.0,110.0 418.3,104.3 424.4,101.7 C430.5,99.1 437.4,99.5 440.0,99.1" fill="none" stroke="#b5525b" stroke-width="1.2"/>
<path d="M350.0,135.7 C352.2,133.3 356.7,126.8 363.0,121.3 C369.3,115.8 383.7,106.0 387.8,103.0" fill="none" stroke="#b5525b" stroke-width="1.2"/>
<path d="M335.7,151.3 C340.2,152.2 353.4,155.2 363.0,156.5 C372.6,157.8 386.2,161.4 393.0,159.2 C399.8,157.0 400.4,147.9 403.5,143.5 C406.6,139.1 410.0,134.8 411.3,133.0" fill="none" stroke="#b5525b" stroke-width="1.2"/>
<path d="M346.0,169.6 C348.8,170.0 358.2,173.5 363.0,172.2 C367.8,170.9 372.8,163.5 374.8,161.8" fill="none" stroke="#b5525b" stroke-width="1.2"/>
<path d="M330.4,177.4 C334.1,177.8 345.6,180.4 352.6,180.0 C359.6,179.6 365.7,178.3 372.2,174.8 C378.7,171.3 388.5,161.8 391.8,159.2" fill="none" stroke="#b5525b" stroke-width="1.2"/>
<path d="M352.6,187.9 C354.3,186.2 357.6,179.6 363.0,177.4 C368.4,175.2 380.2,173.9 385.2,174.8 C390.2,175.7 388.6,178.7 393.0,182.6 C397.4,186.5 404.3,192.9 411.3,198.3 C418.3,203.8 430.9,212.5 434.8,215.3" fill="none" stroke="#b5525b" stroke-width="1.2"/>
<path d="M333.0,195.7 C335.2,196.1 340.6,196.6 346.0,198.3 C351.4,200.0 360.0,203.5 365.7,206.1 C371.4,208.7 374.1,211.4 380.0,214.0 C385.9,216.6 394.6,219.4 400.9,221.8 C407.2,224.2 412.6,226.4 417.8,228.3 C423.0,230.2 429.8,232.6 432.2,233.5" fill="none" stroke="#b5525b" stroke-width="1.2"/>
<path d="M346.0,216.6 C350.4,217.5 367.4,220.1 372.2,221.8 C377.0,223.5 374.4,226.1 374.8,227.0" fill="none" stroke="#b5525b" stroke-width="1.2"/>
<path d="M348.7,240.0 C354.8,238.3 373.0,230.5 385.2,229.6 C397.4,228.7 415.7,233.9 421.8,234.8" fill="none" stroke="#b5525b" stroke-width="1.2"/>
<path d="M363.0,242.7 C365.4,240.9 375.0,233.9 377.4,232.2" fill="none" stroke="#b5525b" stroke-width="1.2"/>
<path d="M450.5,154.0 C450.7,156.8 451.8,164.8 451.8,170.9 C451.8,177.0 450.1,185.1 450.5,190.5 C450.9,195.9 456.1,198.2 454.4,203.5 C452.6,208.8 442.4,218.9 440.0,222.0" fill="none" stroke="#b5525b" stroke-width="1.2"/>
<path d="M474.0,144.8 C474.4,148.1 475.5,158.1 476.6,164.4 C477.7,170.7 479.9,179.6 480.5,182.6" fill="none" stroke="#b5525b" stroke-width="1.2"/>
<path d="M483.0,125.2 C486.3,123.5 496.5,117.0 502.6,114.8 C508.7,112.6 516.8,112.6 519.6,112.2" fill="none" stroke="#b5525b" stroke-width="1.2"/>
<path d="M489.6,88.7 C491.1,88.3 493.7,87.4 498.7,86.1 C503.7,84.8 516.1,81.8 519.6,80.9" fill="none" stroke="#b5525b" stroke-width="1.2"/>
<path d="M390.5,190.5 C391.8,192.7 393.5,199.2 398.3,203.5 C403.1,207.8 413.3,213.3 419.2,216.6 C425.1,219.8 431.1,221.9 433.5,223.0" fill="none" stroke="#b5525b" stroke-width="1.2"/>
<path d="M424.4,249.2 C428.8,247.7 440.7,243.3 450.5,240.0 C460.3,236.7 471.5,231.5 483.0,229.6 C494.5,227.7 513.5,228.5 519.6,228.3" fill="none" stroke="#b5525b" stroke-width="1.2"/>
<path d="M430.9,268.7 C433.1,267.8 436.3,265.2 443.9,263.5 C451.5,261.8 464.0,259.6 476.6,258.3 C489.2,257.0 512.4,256.1 519.6,255.7" fill="none" stroke="#b5525b" stroke-width="1.2"/>
<path d="M443.9,262.2 C444.1,265.5 445.0,278.5 445.2,281.8" fill="none" stroke="#b5525b" stroke-width="1.2"/>
<path d="M432.2,232.2 C438.5,230.2 458.7,224.5 470.0,220.0 C481.3,215.5 491.7,208.6 500.0,205.0 C508.3,201.4 516.3,199.4 519.6,198.3" fill="none" stroke="#b5525b" stroke-width="1.2"/>
<path d="M500.0,103.0 C504.4,103.7 517.4,106.8 526.1,107.0 C534.8,107.2 546.8,105.5 552.2,104.4 C557.6,103.3 557.6,101.2 558.7,100.5" fill="none" stroke="#b5525b" stroke-width="1.2"/>
<path d="M509.1,148.7 C511.9,146.1 518.9,137.6 526.1,133.0 C533.3,128.4 545.2,124.8 552.2,121.3 C559.2,117.8 562.7,113.3 567.9,112.2 C573.1,111.1 579.6,112.6 583.5,114.8 C587.4,117.0 590.1,123.5 591.4,125.3" fill="none" stroke="#b5525b" stroke-width="1.2"/>
<path d="M532.6,159.2 C534.4,160.9 541.4,167.9 543.1,169.6" fill="none" stroke="#b5525b" stroke-width="1.2"/>
<path d="M537.8,161.8 C541.3,159.4 554.1,151.8 558.7,147.4 C563.3,143.1 562.5,136.3 565.3,135.7 C568.1,135.0 574.0,142.2 575.7,143.5" fill="none" stroke="#b5525b" stroke-width="1.2"/>
<path d="M561.3,155.3 C561.5,158.3 562.6,167.2 562.6,173.5 C562.6,179.8 561.5,189.8 561.3,193.1" fill="none" stroke="#b5525b" stroke-width="1.2"/>
<path d="M583.5,160.5 C585.0,162.7 591.2,171.3 592.7,173.5" fill="none" stroke="#b5525b" stroke-width="1.2"/>
<path d="M590.0,126.6 C592.4,129.0 601.4,136.3 604.4,140.9 C607.4,145.5 609.6,148.8 608.3,154.0 C607.0,159.2 602.0,166.1 596.6,172.2 C591.2,178.3 581.4,186.8 575.7,190.5 C570.0,194.2 564.8,193.8 562.6,194.4" fill="none" stroke="#b5525b" stroke-width="1.2"/>
<path d="M605.7,134.4 C609.4,134.2 622.7,132.0 627.9,133.1 C633.1,134.2 635.9,136.6 637.0,140.9 C638.1,145.2 634.6,153.5 634.4,159.2 C634.2,164.8 634.8,169.4 635.7,174.8 C636.6,180.2 639.0,189.0 639.6,191.8" fill="none" stroke="#b5525b" stroke-width="1.2"/>
<path d="M600.5,96.5 C604.6,98.7 618.3,106.5 625.3,109.6 C632.3,112.6 639.2,112.6 642.3,114.8 C645.3,117.0 643.4,121.3 643.6,122.6" fill="none" stroke="#b5525b" stroke-width="1.2"/>
<path d="M590.0,112.2 C592.4,111.5 598.5,108.7 604.4,108.3 C610.3,107.9 621.8,109.4 625.3,109.6" fill="none" stroke="#b5525b" stroke-width="1.2"/>
<path d="M637.0,144.8 C638.8,144.6 645.8,143.7 647.5,143.5" fill="none" stroke="#b5525b" stroke-width="1.2"/>
<path d="M500.0,198.3 C502.2,197.9 506.6,197.0 513.1,195.7 C519.6,194.4 531.0,190.7 539.2,190.5 C547.5,190.3 558.2,192.9 562.6,194.4 C567.0,195.9 564.8,198.7 565.3,199.6" fill="none" stroke="#b5525b" stroke-width="1.2"/>
<path d="M583.5,207.5 C586.5,206.0 596.1,200.5 601.8,198.3 C607.5,196.1 614.9,195.1 617.5,194.4" fill="none" stroke="#b5525b" stroke-width="1.2"/>
<path d="M510.4,203.6 C510.2,205.8 508.0,212.7 509.1,216.6 C510.2,220.5 512.9,224.6 517.0,227.0 C521.1,229.4 528.1,232.1 534.0,231.0 C539.9,229.9 548.5,224.0 552.2,220.5 C555.9,217.0 555.5,211.8 556.1,210.1" fill="none" stroke="#b5525b" stroke-width="1.2"/>
<path d="M547.0,229.7 C547.4,231.4 547.0,237.0 549.6,240.1 C552.2,243.2 557.4,245.4 562.6,248.0 C567.8,250.6 571.8,253.6 580.9,255.8 C590.0,258.0 608.4,261.0 617.5,261.0 C626.6,261.0 632.7,256.7 635.7,255.8" fill="none" stroke="#b5525b" stroke-width="1.2"/>
<path d="M556.1,221.8 C559.8,222.5 572.0,224.7 578.3,225.8 C584.6,226.9 589.6,226.9 594.0,228.4 C598.4,229.9 602.7,233.8 604.4,234.9" fill="none" stroke="#b5525b" stroke-width="1.2"/>
<path d="M595.3,229.7 C599.0,229.5 611.2,231.4 617.5,228.4 C623.8,225.4 629.2,216.4 633.1,211.4 C637.0,206.4 639.7,200.5 641.0,198.3" fill="none" stroke="#b5525b" stroke-width="1.2"/>
<path d="M520.9,245.3 C526.5,247.9 545.7,257.9 554.8,261.0 C563.9,264.1 570.5,262.3 575.7,263.6 C580.9,264.9 584.4,267.9 586.1,268.8" fill="none" stroke="#b5525b" stroke-width="1.2"/>
<path d="M631.8,241.4 C635.9,241.2 650.5,239.7 656.6,240.1 C662.7,240.5 666.4,243.3 668.4,244.0" fill="none" stroke="#b5525b" stroke-width="1.2"/>
<path d="M655.3,223.1 C657.5,223.6 665.8,223.7 668.4,225.8 C671.0,228.0 670.6,234.3 671.0,236.0" fill="none" stroke="#b5525b" stroke-width="1.2"/>
<path d="M654.0,163.1 C655.3,163.3 661.8,160.3 661.8,164.4 C661.8,168.5 652.7,179.2 654.0,187.9 C655.3,196.6 667.4,207.9 669.7,216.6 C672.0,225.3 668.3,236.1 668.0,240.0" fill="none" stroke="#b5525b" stroke-width="1.2"/>
<path d="M673.6,168.3 C674.7,170.7 678.6,177.2 680.1,182.7 C681.6,188.1 681.2,194.7 682.7,201.0 C684.2,207.3 688.8,213.6 689.2,220.5 C689.6,227.4 685.8,236.8 685.3,242.7 C684.8,248.6 685.9,253.8 686.0,256.0" fill="none" stroke="#b5525b" stroke-width="1.2"/>
<path d="M641.0,114.8 C641.2,116.5 642.1,123.5 642.3,125.3" fill="none" stroke="#b5525b" stroke-width="1.2"/>
<path d="M630.5,258.4 C632.7,258.0 639.2,257.3 643.6,255.8 C648.0,254.3 654.4,250.3 656.6,249.2" fill="none" stroke="#b5525b" stroke-width="1.2"/>
<path d="M689.2,171.0 C690.3,174.2 694.7,187.2 695.8,190.5" fill="none" stroke="#b5525b" stroke-width="1.2"/>
<path d="M436.0,100.0 C438.3,101.7 444.3,108.7 450.0,110.0 C455.7,111.3 464.7,110.3 470.0,108.0 C475.3,105.7 480.0,98.0 482.0,96.0" fill="none" stroke="#b5525b" stroke-width="1.2"/>
<path d="M415.0,150.0 C416.7,153.3 420.8,165.8 425.0,170.0 C429.2,174.2 437.5,174.2 440.0,175.0" fill="none" stroke="#b5525b" stroke-width="1.2"/>
<path d="M470.0,255.0 C473.3,253.3 484.2,245.8 490.0,245.0 C495.8,244.2 502.5,249.2 505.0,250.0" fill="none" stroke="#b5525b" stroke-width="1.2"/>
<path d="M360.0,110.0 C362.0,112.5 370.0,122.5 372.0,125.0" fill="none" stroke="#b5525b" stroke-width="1.2"/>
<path d="M377.0,143.0 C377.8,141.8 381.2,137.2 382.0,136.0" fill="none" stroke="#e6b4b3" stroke-width="2.4" stroke-linecap="round"/>
<path d="M346.0,200.0 C347.0,198.3 351.0,191.7 352.0,190.0" fill="none" stroke="#e6b4b3" stroke-width="2.4" stroke-linecap="round"/>
<path d="M402.0,207.0 C403.7,205.5 410.3,199.5 412.0,198.0" fill="none" stroke="#e6b4b3" stroke-width="2.4" stroke-linecap="round"/>
<path d="M446.0,226.0 C448.7,224.7 459.3,219.3 462.0,218.0" fill="none" stroke="#e6b4b3" stroke-width="2.4" stroke-linecap="round"/>
<path d="M520.0,112.0 C523.3,110.7 536.7,105.3 540.0,104.0" fill="none" stroke="#e6b4b3" stroke-width="2.4" stroke-linecap="round"/>
<path d="M537.0,160.0 C538.3,157.5 543.7,147.5 545.0,145.0" fill="none" stroke="#e6b4b3" stroke-width="2.4" stroke-linecap="round"/>
<path d="M585.0,138.0 C585.8,139.7 589.2,146.3 590.0,148.0" fill="none" stroke="#e6b4b3" stroke-width="2.4" stroke-linecap="round"/>
<path d="M625.0,142.0 C625.5,143.3 627.5,148.7 628.0,150.0" fill="none" stroke="#e6b4b3" stroke-width="2.4" stroke-linecap="round"/>
<path d="M640.0,202.0 C638.3,204.7 631.7,215.3 630.0,218.0" fill="none" stroke="#e6b4b3" stroke-width="2.4" stroke-linecap="round"/>
<path d="M580.0,245.0 C584.2,244.7 600.8,243.3 605.0,243.0" fill="none" stroke="#e6b4b3" stroke-width="2.4" stroke-linecap="round"/>
<path d="M518.0,222.0 C520.0,221.5 528.0,219.5 530.0,219.0" fill="none" stroke="#e6b4b3" stroke-width="2.4" stroke-linecap="round"/>
<path d="M360.0,178.0 C361.3,176.7 366.7,171.3 368.0,170.0" fill="none" stroke="#e6b4b3" stroke-width="2.4" stroke-linecap="round"/>
<path d="M505.0,84.0 C507.5,83.3 517.5,80.7 520.0,80.0" fill="none" stroke="#e6b4b3" stroke-width="2.4" stroke-linecap="round"/>
<path d="M453.0,265.0 C455.5,264.0 465.5,260.0 468.0,259.0" fill="none" stroke="#e6b4b3" stroke-width="2.4" stroke-linecap="round"/>
<g font-family="Liberation Serif, serif">
<rect x="1616.5" y="532.0" width="25" height="11.0" rx="3" fill="#64a8dc" stroke="#2a6aa0" stroke-width="2.6"/><rect x="1624.0" y="543.0" width="10" height="35.0" fill="#1d2360"/><rect x="1616.5" y="578.0" width="25" height="37.5" rx="4" fill="#64a8dc" stroke="#2a6aa0" stroke-width="2.6"/><ellipse cx="1629.0" cy="621.2" rx="12.5" ry="5.8" fill="#4db88a" stroke="#2b8a5e" stroke-width="2.4"/><rect x="1616.5" y="627.0" width="25" height="26.5" rx="4" fill="#64a8dc" stroke="#2a6aa0" stroke-width="2.6"/>
<rect x="1586.7" y="636.0" width="150.3" height="87.4" rx="30.0" fill="#f0d6b4" stroke="#8b5a2e" stroke-width="3.4"/>
<ellipse cx="1629.0" cy="622.2" rx="12.5" ry="5.8" fill="#4db88a" stroke="#2b8a5e" stroke-width="2.4"/><rect x="1616.5" y="628.0" width="25" height="26.5" rx="4" fill="#64a8dc" stroke="#2a6aa0" stroke-width="2.6"/>
<ellipse cx="1601.0" cy="501.5" rx="80.0" ry="41.0" fill="#f7d5ea" stroke="#a5476f" stroke-width="3.4"/>
<rect x="1616.5" y="532.0" width="25" height="11.0" rx="3" fill="#64a8dc" stroke="#2a6aa0" stroke-width="2.6"/>
<rect x="1657.0" y="329.0" width="150.0" height="106.0" rx="28.0" fill="#ccd4e9" stroke="#2c3d6c" stroke-width="3.4"/>
<ellipse cx="1795.6" cy="242.6" rx="79.6" ry="41.0" fill="#d7e7e3" stroke="#4b5c5a" stroke-width="3.4"/>
<ellipse cx="1909.5" cy="137.0" rx="79.5" ry="42.0" fill="#fbdcdc" stroke="#a43d47" stroke-width="3.4"/>
<ellipse cx="1842.0" cy="99.9" rx="32.0" ry="28.0" fill="#e6d3c3" stroke="#69483a" stroke-width="3.4"/>
<ellipse cx="2012.4" cy="291.7" rx="79.4" ry="41.5" fill="#e4e4e4" stroke="#4b4b4b" stroke-width="3.4"/>
<ellipse cx="1946.0" cy="255.0" rx="32.0" ry="28.0" fill="#e6d3c3" stroke="#69483a" stroke-width="3.4"/>
<ellipse cx="1913.3" cy="495.0" rx="40.4" ry="26.7" fill="#a9c8ec" stroke="#6f94c4" stroke-width="2.5"/><ellipse cx="1913.3" cy="495.0" rx="33.4" ry="19.7" fill="#fefefe" stroke="#6f94c4" stroke-width="2.5"/>
<ellipse cx="1894.0" cy="499.0" rx="8.0" ry="5.0" fill="#c8294f" stroke="#9a1d3c" stroke-width="1.2"/>
<ellipse cx="1922.0" cy="484.0" rx="8.0" ry="5.0" fill="#c8294f" stroke="#9a1d3c" stroke-width="1.2"/>
<ellipse cx="1915.0" cy="506.0" rx="8.0" ry="5.0" fill="#c8294f" stroke="#9a1d3c" stroke-width="1.2"/>
<ellipse cx="1922.0" cy="506.0" rx="8.0" ry="5.0" fill="#c8294f" stroke="#9a1d3c" stroke-width="1.2"/>
<ellipse cx="2146.8" cy="582.2" rx="7.0" ry="4.8" fill="#c8294f" stroke="#9a1d3c" stroke-width="1.2"/>
<ellipse cx="2185.5" cy="566.0" rx="7.0" ry="4.8" fill="#c8294f" stroke="#9a1d3c" stroke-width="1.2"/>
<ellipse cx="2215.0" cy="562.8" rx="7.0" ry="4.8" fill="#c8294f" stroke="#9a1d3c" stroke-width="1.2"/>
<ellipse cx="2258.0" cy="576.3" rx="7.0" ry="4.8" fill="#c8294f" stroke="#9a1d3c" stroke-width="1.2"/>
<ellipse cx="2228.6" cy="586.9" rx="7.0" ry="4.8" fill="#c8294f" stroke="#9a1d3c" stroke-width="1.2"/>
<ellipse cx="2190.0" cy="605.2" rx="7.0" ry="4.8" fill="#c8294f" stroke="#9a1d3c" stroke-width="1.2"/>
<ellipse cx="2231.0" cy="620.3" rx="7.0" ry="4.8" fill="#c8294f" stroke="#9a1d3c" stroke-width="1.2"/>
<rect x="1771.5" y="786.0" width="25" height="26.0" rx="4" fill="#64a8dc" stroke="#2a6aa0" stroke-width="2.6"/><ellipse cx="1784.0" cy="820.0" rx="12.5" ry="6.0" fill="#4db88a" stroke="#2b8a5e" stroke-width="2.4"/><rect x="1771.5" y="827.0" width="25" height="39.0" rx="4" fill="#64a8dc" stroke="#2a6aa0" stroke-width="2.6"/><rect x="1779.0" y="866.0" width="10" height="36.0" fill="#1d2360"/><rect x="1771.5" y="902.0" width="25" height="13.0" rx="3" fill="#64a8dc" stroke="#2a6aa0" stroke-width="2.6"/>
<rect x="1753.0" y="715.7" width="151.0" height="87.3" rx="30.0" fill="#f0d6b4" stroke="#8b5a2e" stroke-width="3.4"/>
<rect x="1771.5" y="786.0" width="25" height="26.0" rx="4" fill="#64a8dc" stroke="#2a6aa0" stroke-width="2.6"/><ellipse cx="1784.0" cy="820.0" rx="12.5" ry="6.0" fill="#4db88a" stroke="#2b8a5e" stroke-width="2.4"/><rect x="1771.5" y="827.0" width="25" height="39.0" rx="4" fill="#64a8dc" stroke="#2a6aa0" stroke-width="2.6"/>
<ellipse cx="1767.0" cy="943.0" rx="79.6" ry="41.0" fill="#f7d5ea" stroke="#a5476f" stroke-width="3.4"/>
<rect x="1771.5" y="902.0" width="25" height="13.0" rx="3" fill="#64a8dc" stroke="#2a6aa0" stroke-width="2.6"/>
<rect x="1538.0" y="977.7" width="149.6" height="87.0" rx="30.0" fill="#ccd4e9" stroke="#2c3d6c" stroke-width="3.4"/>
<ellipse cx="1712.8" cy="1125.6" rx="79.7" ry="41.2" fill="#d7e7e3" stroke="#4b5c5a" stroke-width="3.4"/>
<ellipse cx="1830.0" cy="1277.0" rx="79.6" ry="41.0" fill="#fbdcdc" stroke="#a43d47" stroke-width="3.4"/>
<ellipse cx="1763.8" cy="1240.0" rx="31.0" ry="27.0" fill="#e6d3c3" stroke="#69483a" stroke-width="3.4"/>
<ellipse cx="1850.0" cy="1414.7" rx="79.5" ry="40.7" fill="#e4e4e4" stroke="#4b4b4b" stroke-width="3.4"/>
<ellipse cx="1783.4" cy="1366.3" rx="31.0" ry="27.0" fill="#e6d3c3" stroke="#69483a" stroke-width="3.4"/>
<ellipse cx="542.4" cy="1736.4" rx="44.4" ry="58.7" fill="#a9c8ec" stroke="#6f94c4" stroke-width="2.5"/><ellipse cx="542.4" cy="1736.4" rx="33.4" ry="47.7" fill="#fefefe" stroke="#6f94c4" stroke-width="2.5"/>
<ellipse cx="550.2" cy="1717.8" rx="8.0" ry="9.5" fill="#c8294f" stroke="#9a1d3c" stroke-width="1.2"/>
<ellipse cx="530.6" cy="1736.4" rx="8.0" ry="9.5" fill="#c8294f" stroke="#9a1d3c" stroke-width="1.2"/>
<ellipse cx="554.2" cy="1749.8" rx="8.0" ry="9.5" fill="#c8294f" stroke="#9a1d3c" stroke-width="1.2"/>
<ellipse cx="757.9" cy="1842.9" rx="8.0" ry="9.8" fill="#c8294f" stroke="#9a1d3c" stroke-width="1.2"/>
<ellipse cx="731.4" cy="1855.5" rx="8.0" ry="9.8" fill="#c8294f" stroke="#9a1d3c" stroke-width="1.2"/>
<ellipse cx="703.4" cy="1890.4" rx="8.0" ry="9.8" fill="#c8294f" stroke="#9a1d3c" stroke-width="1.2"/>
<ellipse cx="768.5" cy="1903.0" rx="8.0" ry="9.8" fill="#c8294f" stroke="#9a1d3c" stroke-width="1.2"/>
<ellipse cx="639.7" cy="1913.3" rx="8.0" ry="9.8" fill="#c8294f" stroke="#9a1d3c" stroke-width="1.2"/>
<ellipse cx="703.4" cy="1926.7" rx="8.0" ry="9.8" fill="#c8294f" stroke="#9a1d3c" stroke-width="1.2"/>
<ellipse cx="687.2" cy="1950.5" rx="8.0" ry="9.8" fill="#c8294f" stroke="#9a1d3c" stroke-width="1.2"/>
<ellipse cx="536.0" cy="2178.8" rx="83.0" ry="41.7" fill="#fbdcdc" stroke="#a43d47" stroke-width="3.4"/>
<ellipse cx="531.6" cy="2229.0" rx="31.5" ry="27.3" fill="#f2dab6" stroke="#8b5a2b" stroke-width="3.4"/>
<rect x="265.5" y="2261.8" width="150.3" height="88.0" rx="30.0" fill="#ccd4e9" stroke="#2c3d6c" stroke-width="3.4"/>
<ellipse cx="522.2" cy="2393.0" rx="80.0" ry="41.4" fill="#d7e7e3" stroke="#4b5c5a" stroke-width="3.4"/>
<text x="178.0" y="49.0" font-size="35.5" font-weight="bold" textLength="146.0" lengthAdjust="spacingAndGlyphs" fill="#000">Activation</text>
<text x="178.0" y="110.0" font-size="35.5" font-weight="bold" textLength="137.7" lengthAdjust="spacingAndGlyphs" fill="#000">Inhibition</text>
<text x="105.0" y="325.0" font-size="35.5" font-weight="bold" textLength="175.5" lengthAdjust="spacingAndGlyphs" fill="#000">Nerve injury</text>
<text x="127.0" y="435.0" font-size="35.5" font-weight="bold" textLength="82.4" lengthAdjust="spacingAndGlyphs" fill="#000">RhoA</text>
<text x="124.0" y="555.0" font-size="35.5" font-weight="bold" textLength="99.4" lengthAdjust="spacingAndGlyphs" fill="#000">ROCK</text>
<text x="247.0" y="499.0" font-size="35.5" font-weight="bold" textLength="173.7" lengthAdjust="spacingAndGlyphs" fill="#000">Descending</text>
<text x="247.0" y="540.0" font-size="35.5" font-weight="bold" textLength="63.4" lengthAdjust="spacingAndGlyphs" fill="#000">pain</text>
<text x="247.0" y="582.0" font-size="35.5" font-weight="bold" textLength="143.0" lengthAdjust="spacingAndGlyphs" fill="#000">inhibition</text>
<text x="247.0" y="623.0" font-size="35.5" font-weight="bold" textLength="102.4" lengthAdjust="spacingAndGlyphs" fill="#000">system</text>
<text x="46.0" y="703.0" font-size="35.5" font-weight="bold" textLength="225.6" lengthAdjust="spacingAndGlyphs" fill="#000">Regeneration of</text>
<text x="36.0" y="743.0" font-size="35.5" font-weight="bold" textLength="219.5" lengthAdjust="spacingAndGlyphs" fill="#000">monoaminergic</text>
<text x="36.0" y="782.0" font-size="35.5" font-weight="bold" textLength="78.0" lengthAdjust="spacingAndGlyphs" fill="#000">fibers</text>
<text x="137.0" y="886.0" font-size="35.5" font-weight="bold" textLength="64.4" lengthAdjust="spacingAndGlyphs" fill="#000">Pain</text>
<text x="1275.0" y="58.0" font-size="33.0" font-weight="bold" textLength="71.0" lengthAdjust="spacingAndGlyphs" fill="#000">ACC</text>
<text x="1568.5" y="514.4" font-size="35.0" font-weight="bold" textLength="66.0" lengthAdjust="spacingAndGlyphs" fill="#000">SFK</text>
<text x="1644.0" y="589.0" font-size="35.0" font-weight="bold" textLength="102.0" lengthAdjust="spacingAndGlyphs" fill="#000">ITGB1</text>
<text x="1685.0" y="374.6" font-size="35.0" font-weight="bold" textLength="94.7" lengthAdjust="spacingAndGlyphs" fill="#000">RhoA-</text>
<text x="1696.6" y="414.6" font-size="35.0" font-weight="bold" textLength="71.4" lengthAdjust="spacingAndGlyphs" fill="#000">GTP</text>
<text x="1738.0" y="255.4" font-size="35.0" font-weight="bold" textLength="116.5" lengthAdjust="spacingAndGlyphs" fill="#000">ROCK2</text>
<text x="1862.3" y="149.0" font-size="35.0" font-weight="bold" textLength="93.0" lengthAdjust="spacingAndGlyphs" fill="#000">LIMK</text>
<text x="1956.0" y="304.0" font-size="35.0" font-weight="bold" textLength="113.7" lengthAdjust="spacingAndGlyphs" fill="#000">Confilin</text>
<text x="2045.2" y="392.0" font-size="35.0" font-weight="bold" textLength="100.9" lengthAdjust="spacingAndGlyphs" fill="#000">F-actin</text>
<text x="2045.2" y="428.8" font-size="35.0" font-weight="bold" textLength="127.4" lengthAdjust="spacingAndGlyphs" fill="#000">assembly</text>
<text x="2287.0" y="662.0" font-size="35.0" font-weight="bold" textLength="154.0" lengthAdjust="spacingAndGlyphs" fill="#000">Exocytosis</text>
<text x="1603.4" y="692.4" font-size="35.0" font-weight="bold" textLength="117.3" lengthAdjust="spacingAndGlyphs" fill="#000">LAMB1</text>
<text x="1327.8" y="759.0" font-size="35.0" font-weight="bold" textLength="174.7" lengthAdjust="spacingAndGlyphs" fill="#000">Nerve injury</text>
<text x="1769.2" y="772.0" font-size="35.0" font-weight="bold" textLength="117.2" lengthAdjust="spacingAndGlyphs" fill="#000">LAMB1</text>
<text x="1799.0" y="893.0" font-size="35.0" font-weight="bold" textLength="102.0" lengthAdjust="spacingAndGlyphs" fill="#000">ITGB1</text>
<text x="1734.2" y="956.4" font-size="35.0" font-weight="bold" textLength="64.8" lengthAdjust="spacingAndGlyphs" fill="#000">SFK</text>
<text x="1567.3" y="1015.4" font-size="35.0" font-weight="bold" textLength="92.4" lengthAdjust="spacingAndGlyphs" fill="#000">RhoA-</text>
<text x="1578.2" y="1054.2" font-size="35.0" font-weight="bold" textLength="70.6" lengthAdjust="spacingAndGlyphs" fill="#000">GTP</text>
<text x="1654.7" y="1137.6" font-size="35.0" font-weight="bold" textLength="116.5" lengthAdjust="spacingAndGlyphs" fill="#000">ROCK2</text>
<text x="1784.4" y="1290.0" font-size="35.0" font-weight="bold" textLength="92.5" lengthAdjust="spacingAndGlyphs" fill="#000">LIMK</text>
<text x="1794.5" y="1426.8" font-size="35.0" font-weight="bold" textLength="113.4" lengthAdjust="spacingAndGlyphs" fill="#000">Confilin</text>
<text x="1932.4" y="1293.0" font-size="35.0" font-weight="bold" textLength="101.6" lengthAdjust="spacingAndGlyphs" fill="#000">F-actin</text>
<text x="1932.4" y="1332.6" font-size="35.0" font-weight="bold" textLength="126.8" lengthAdjust="spacingAndGlyphs" fill="#000">assembly</text>
<text x="1992.6" y="946.7" font-size="35.0" font-weight="bold" textLength="133.0" lengthAdjust="spacingAndGlyphs" fill="#000">NMDAR</text>
<text x="2187.0" y="946.7" font-size="35.0" font-weight="bold" textLength="126.3" lengthAdjust="spacingAndGlyphs" fill="#000">AMPAR</text>
<text x="1755.4" y="1250.9" font-size="30.0" font-weight="bold" textLength="17.2" lengthAdjust="spacingAndGlyphs" fill="#000">P</text>
<text x="1775.0" y="1377.0" font-size="30.0" font-weight="bold" textLength="17.4" lengthAdjust="spacingAndGlyphs" fill="#000">P</text>
<text x="811.0" y="1912.8" font-size="35.0" font-weight="bold" textLength="72.7" lengthAdjust="spacingAndGlyphs" fill="#000">GLU</text>
<text x="272.0" y="2057.8" font-size="35.0" font-weight="bold" textLength="132.8" lengthAdjust="spacingAndGlyphs" fill="#000">NMDAR</text>
<text x="582.4" y="2077.7" font-size="35.0" font-weight="bold" textLength="125.4" lengthAdjust="spacingAndGlyphs" fill="#000">AMPAR</text>
<text x="464.8" y="2192.5" font-size="35.0" font-weight="bold" textLength="142.8" lengthAdjust="spacingAndGlyphs" fill="#000">CaMKIIa</text>
<text x="523.2" y="2239.1" font-size="29.0" font-weight="bold" textLength="16.8" lengthAdjust="spacingAndGlyphs" fill="#000">P</text>
<text x="293.4" y="2299.9" font-size="35.0" font-weight="bold" textLength="95.0" lengthAdjust="spacingAndGlyphs" fill="#000">RhoA-</text>
<text x="305.0" y="2338.2" font-size="35.0" font-weight="bold" textLength="71.2" lengthAdjust="spacingAndGlyphs" fill="#000">GTP</text>
<text x="464.2" y="2406.0" font-size="35.0" font-weight="bold" textLength="116.5" lengthAdjust="spacingAndGlyphs" fill="#000">ROCK2</text>
<text x="417.6" y="2523.7" font-size="35.0" font-weight="bold" textLength="102.2" lengthAdjust="spacingAndGlyphs" fill="#000">F-actin</text>
<text x="417.6" y="2562.6" font-size="35.0" font-weight="bold" textLength="127.6" lengthAdjust="spacingAndGlyphs" fill="#000">assembly</text>
<text x="689.0" y="2498.0" font-size="35.0" font-weight="bold" textLength="428.0" lengthAdjust="spacingAndGlyphs" fill="#000">Synaptic structure remodeling</text>
<text x="1834.0" y="111.0" font-size="31.0" font-weight="normal" textLength="16.7" lengthAdjust="spacingAndGlyphs" fill="#000">P</text>
<text x="1937.5" y="265.6" font-size="31.0" font-weight="normal" textLength="16.7" lengthAdjust="spacingAndGlyphs" fill="#000">P</text>
</g>
<line x1="30.0" y1="36.0" x2="126.0" y2="36.0" stroke="#222" stroke-width="3.6"/><path d="M144.0,36.0 L124.0,44.0 L124.0,28.0 Z" fill="#222"/>
<line x1="30.0" y1="99.0" x2="138.0" y2="99.0" stroke="#222" stroke-width="3.6"/><line x1="138.0" y1="109.0" x2="138.0" y2="89.0" stroke="#222" stroke-width="3.6"/>
<line x1="167.0" y1="331.0" x2="167.0" y2="392.0" stroke="#222" stroke-width="3.6"/><path d="M167.0,410.0 L158.5,390.0 L175.5,390.0 Z" fill="#222"/>
<path d="M171,372.5 L317,372.5 L317,462" fill="none" stroke="#222222" stroke-width="3.2"/>
<line x1="306" y1="462" x2="327" y2="462" stroke="#222222" stroke-width="3.2"/>
<line x1="165.0" y1="443.0" x2="165.0" y2="504.0" stroke="#222" stroke-width="3.6"/><path d="M165.0,522.0 L156.5,502.0 L173.5,502.0 Z" fill="#222"/>
<line x1="163.5" y1="567.0" x2="163.5" y2="657.0" stroke="#222" stroke-width="3.6"/><line x1="153.0" y1="657.0" x2="174.0" y2="657.0" stroke="#222" stroke-width="3.6"/>
<line x1="166.0" y1="760.0" x2="166.0" y2="821.0" stroke="#222" stroke-width="3.6"/><path d="M166.0,839.0 L157.5,819.0 L174.5,819.0 Z" fill="#222"/>
<line x1="315.0" y1="640.0" x2="418.7" y2="867.8" stroke="#222" stroke-width="3.4"/><path d="M427.0,886.0 L409.7,869.7 L426.1,862.2 Z" fill="#222"/>
<line x1="433.7" y1="274" x2="433.7" y2="905.7" stroke="#222222" stroke-width="3.4"/>
<line x1="1661.6" y1="473.6" x2="1680.9" y2="453.9" stroke="#222" stroke-width="3.5"/><path d="M1693.5,441.0 L1685.9,461.6 L1673.1,449.0 Z" fill="#222"/>
<line x1="1751.0" y1="329.0" x2="1775.4" y2="298.1" stroke="#222" stroke-width="3.5"/><path d="M1786.6,284.0 L1781.2,305.3 L1767.1,294.1 Z" fill="#222"/>
<line x1="1832.0" y1="204.6" x2="1847.1" y2="186.0" stroke="#222" stroke-width="3.5"/><path d="M1858.5,172.0 L1852.9,193.2 L1838.9,181.8 Z" fill="#222"/>
<line x1="1967.6" y1="176.4" x2="2001.7" y2="221.6" stroke="#222" stroke-width="3.5"/><path d="M2012.5,236.0 L1993.3,225.4 L2007.7,214.6 Z" fill="#222"/>
<line x1="2060.0" y1="326.7" x2="2088.9" y2="358.3" stroke="#222" stroke-width="3.5"/><path d="M2101.0,371.6 L2080.9,362.9 L2094.2,350.8 Z" fill="#222"/>
<line x1="2044.0" y1="436.0" x2="1983.2" y2="471.0" stroke="#222" stroke-width="3.5" stroke-dasharray="8,6"/><path d="M1967.6,480.0 L1980.4,462.2 L1989.4,477.8 Z" fill="#222"/>
<line x1="1961.0" y1="510.5" x2="2069.6" y2="538.5" stroke="#222" stroke-width="3.5" stroke-dasharray="8,6"/><path d="M2087.0,543.0 L2065.4,546.7 L2069.9,529.3 Z" fill="#222"/>
<line x1="1513.0" y1="732.0" x2="1577.0" y2="687.0" stroke="#222" stroke-width="3.6"/><line x1="1584.5" y1="697.6" x2="1569.5" y2="676.4" stroke="#222" stroke-width="3.6"/>
<line x1="1517.0" y1="757.0" x2="1732.0" y2="757.0" stroke="#222" stroke-width="3.6"/><line x1="1732.0" y1="768.0" x2="1732.0" y2="746.0" stroke="#222" stroke-width="3.6"/>
<path d="M1682.6,932 Q1640,945 1620,970" fill="none" stroke="#222222" stroke-width="3.5"/>
<line x1="1625.0" y1="962.0" x2="1623.6" y2="963.8" stroke="#222" stroke-width="3.5"/><path d="M1614.0,976.6 L1617.6,956.8 L1632.0,967.6 Z" fill="#222"/>
<line x1="1672.0" y1="1061.0" x2="1683.7" y2="1070.0" stroke="#222" stroke-width="3.5"/><path d="M1698.0,1081.0 L1676.7,1075.9 L1687.6,1061.7 Z" fill="#222"/>
<line x1="1746.0" y1="1171.4" x2="1817.5" y2="1218.9" stroke="#222" stroke-width="3.5"/><path d="M1832.5,1228.9 L1810.9,1225.3 L1820.8,1210.3 Z" fill="#222"/>
<line x1="1847.0" y1="1319.0" x2="1847.0" y2="1351.6" stroke="#222" stroke-width="3.5"/><path d="M1847.0,1369.6 L1838.0,1349.6 L1856.0,1349.6 Z" fill="#222"/>
<path d="M1855.7,1471 Q1905,1500 1935,1470 Q1965,1430 1971,1358" fill="none" stroke="#222222" stroke-width="3.5"/>
<line x1="1971.5" y1="1360.0" x2="1971.7" y2="1357.9" stroke="#222" stroke-width="3.5"/><path d="M1973.4,1340.0 L1980.5,1360.8 L1962.5,1359.1 Z" fill="#222"/>
<line x1="1997.0" y1="1262.6" x2="1982.1" y2="1158.6" stroke="#222" stroke-width="3.5" stroke-dasharray="8,6"/><path d="M1979.5,1140.8 L1991.3,1159.3 L1973.4,1161.9 Z" fill="#222"/>
<line x1="2006.4" y1="1263.6" x2="2113.9" y2="1153.7" stroke="#222" stroke-width="3.5" stroke-dasharray="8,6"/><path d="M2126.5,1140.8 L2119.0,1161.4 L2106.1,1148.8 Z" fill="#222"/>
<line x1="1979.0" y1="1010.0" x2="2027.5" y2="967.6" stroke="#222" stroke-width="3.5" stroke-dasharray="8,6"/><path d="M2041.0,955.7 L2031.9,975.6 L2020.0,962.1 Z" fill="#222"/>
<line x1="2155.7" y1="1013.5" x2="2223.2" y2="963.3" stroke="#222" stroke-width="3.5" stroke-dasharray="8,6"/><path d="M2237.7,952.6 L2227.0,971.7 L2216.3,957.3 Z" fill="#222"/>
<line x1="344.3" y1="2069.3" x2="436.1" y2="2127.0" stroke="#222" stroke-width="3.5"/><path d="M453.0,2137.6 L429.3,2133.9 L439.4,2117.9 Z" fill="#222"/>
<line x1="529.4" y1="2137.6" x2="552.9" y2="2084.3" stroke="#222" stroke-width="3.5"/><path d="M561.0,2066.0 L560.8,2090.0 L543.4,2082.3 Z" fill="#222"/>
<line x1="465.7" y1="2210.6" x2="359.4" y2="2249.6" stroke="#222" stroke-width="3.5"/><path d="M340.6,2256.5 L358.0,2240.0 L364.5,2257.8 Z" fill="#222"/>
<line x1="629.3" y1="2193.5" x2="689.6" y2="2193.5" stroke="#222" stroke-width="3.5"/><path d="M709.6,2193.5 L687.6,2203.0 L687.6,2184.0 Z" fill="#222"/>
<line x1="760.7" y1="2116.6" x2="789.3" y2="2078.1" stroke="#222" stroke-width="3.5"/><path d="M801.2,2062.0 L795.7,2085.3 L780.5,2074.0 Z" fill="#222"/>
<path d="M340.8,2349.8 Q370,2385 425,2392" fill="none" stroke="#222222" stroke-width="3.5"/>
<line x1="420.0" y1="2391.0" x2="420.5" y2="2391.1" stroke="#222" stroke-width="3.5"/><path d="M438.3,2393.6 L417.2,2400.2 L419.8,2381.4 Z" fill="#222"/>
<line x1="519.9" y1="2444.8" x2="495.5" y2="2477.9" stroke="#222" stroke-width="3.5"/><path d="M483.6,2494.0 L489.0,2470.7 L504.3,2481.9 Z" fill="#222"/>
<line x1="549.6" y1="2530.2" x2="671.4" y2="2497.8" stroke="#222" stroke-width="3.5"/><path d="M690.7,2492.7 L671.9,2507.5 L667.0,2489.2 Z" fill="#222"/>
<line x1="421.5" y1="108.6" x2="1166" y2="12" stroke="#151515" stroke-width="5" stroke-dasharray="9.5,9.5"/>
<line x1="421" y1="153" x2="1166" y2="1527" stroke="#151515" stroke-width="5" stroke-dasharray="9.5,9.5"/>
<line x1="421" y1="888" x2="33.8" y2="1471" stroke="#151515" stroke-width="5" stroke-dasharray="20,21"/>
<line x1="469.5" y1="889" x2="1127" y2="1471" stroke="#151515" stroke-width="5" stroke-dasharray="20,21"/>
<rect x="422.1" y="110.1" width="38.8" height="41.3" fill="#fff" fill-opacity="0.45" stroke="#131313" stroke-width="4.2"/>
<rect x="421.9" y="889.1" width="44.8" height="42.1" fill="none" stroke="#131313" stroke-width="5.6"/>
</svg></body></html>
